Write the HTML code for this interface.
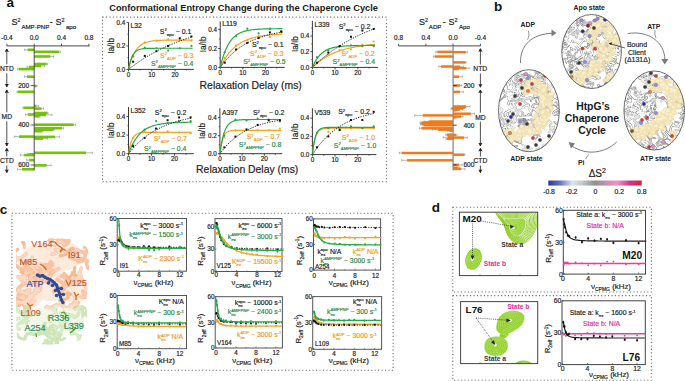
<!DOCTYPE html>
<html><head><meta charset="utf-8"><title>HtpG chaperone cycle figure</title>
<style>
html,body{margin:0;padding:0;background:#fff;}
body{width:685px;height:381px;overflow:hidden;font-family:"Liberation Sans", sans-serif;}
svg{display:block;}
svg text{font-family:"Liberation Sans", sans-serif;}
</style></head>
<body>
<svg width="685" height="381" viewBox="0 0 685 381">
<rect width="685" height="381" fill="#fff"/>
<text x="6.4" y="7.23" font-size="13.5" fill="#111" text-anchor="start" font-weight="bold" >a</text>
<text x="109.2" y="10.72" font-size="9.27" fill="#1a1a1a" text-anchor="start" font-weight="bold" >Conformational Entropy Change during the Chaperone Cycle</text>
<line x1="6.9" y1="45.9" x2="89.6" y2="45.9" stroke="#333" stroke-width="0.9" />
<line x1="6.9" y1="45.9" x2="6.9" y2="43.7" stroke="#333" stroke-width="0.8" />
<text x="6.9" y="39.93" font-size="6.5" fill="#222" stroke="#222" stroke-width="0.18" text-anchor="middle" >-0.4</text>
<line x1="34.2" y1="45.9" x2="34.2" y2="43.7" stroke="#333" stroke-width="0.8" />
<text x="34.2" y="39.93" font-size="6.5" fill="#222" stroke="#222" stroke-width="0.18" text-anchor="middle" >0.0</text>
<line x1="61.5" y1="45.9" x2="61.5" y2="43.7" stroke="#333" stroke-width="0.8" />
<text x="61.5" y="39.93" font-size="6.5" fill="#222" stroke="#222" stroke-width="0.18" text-anchor="middle" >0.4</text>
<line x1="88.9" y1="45.9" x2="88.9" y2="43.7" stroke="#333" stroke-width="0.8" />
<text x="88.9" y="39.93" font-size="6.5" fill="#222" stroke="#222" stroke-width="0.18" text-anchor="middle" >0.8</text>
<text x="11.6" y="25.32" font-size="9" fill="#222" stroke="#222" stroke-width="0.18" text-anchor="start" ><tspan dy="0" font-size="9">S</tspan><tspan dy="-3.42" font-size="5.4">2</tspan><tspan dy="7.47" dx="0.8" font-size="6.12">AMP-PNP</tspan><tspan dy="-4.05" dx="0.6" font-size="9">-</tspan><tspan dy="0" dx="2.6" font-size="9">S</tspan><tspan dy="-3.42" font-size="5.4">2</tspan><tspan dy="7.47" dx="1.4" font-size="6.12">apo</tspan></text>
<rect x="27.6" y="48.5" width="6.6" height="2.6" fill="#74c20a"/>
<line x1="27.6" y1="49.8" x2="24.7" y2="49.8" stroke="#8a8a8a" stroke-width="0.6" />
<line x1="24.7" y1="48.6" x2="24.7" y2="51" stroke="#8a8a8a" stroke-width="0.6" />
<rect x="34.2" y="50.5" width="24.8" height="2.6" fill="#74c20a"/>
<line x1="59" y1="51.8" x2="60.3" y2="51.8" stroke="#8a8a8a" stroke-width="0.6" />
<line x1="60.3" y1="50.6" x2="60.3" y2="53" stroke="#8a8a8a" stroke-width="0.6" />
<rect x="34.2" y="55.2" width="16.2" height="2.6" fill="#74c20a"/>
<line x1="50.4" y1="56.5" x2="53.5" y2="56.5" stroke="#8a8a8a" stroke-width="0.6" />
<line x1="53.5" y1="55.3" x2="53.5" y2="57.7" stroke="#8a8a8a" stroke-width="0.6" />
<rect x="34.2" y="62.7" width="12.3" height="2.6" fill="#74c20a"/>
<line x1="46.5" y1="64" x2="47.5" y2="64" stroke="#8a8a8a" stroke-width="0.6" />
<line x1="47.5" y1="62.8" x2="47.5" y2="65.2" stroke="#8a8a8a" stroke-width="0.6" />
<rect x="34.2" y="64.7" width="6.8" height="2.6" fill="#74c20a"/>
<line x1="41" y1="66" x2="44.6" y2="66" stroke="#8a8a8a" stroke-width="0.6" />
<line x1="44.6" y1="64.8" x2="44.6" y2="67.2" stroke="#8a8a8a" stroke-width="0.6" />
<rect x="29" y="65.7" width="5.2" height="2.6" fill="#74c20a"/>
<line x1="29" y1="67" x2="27" y2="67" stroke="#8a8a8a" stroke-width="0.6" />
<line x1="27" y1="65.8" x2="27" y2="68.2" stroke="#8a8a8a" stroke-width="0.6" />
<rect x="18.6" y="67.8" width="15.6" height="2.6" fill="#74c20a"/>
<line x1="18.6" y1="69.1" x2="17.6" y2="69.1" stroke="#8a8a8a" stroke-width="0.6" />
<line x1="17.6" y1="67.9" x2="17.6" y2="70.3" stroke="#8a8a8a" stroke-width="0.6" />
<rect x="27" y="75.4" width="7.2" height="2.6" fill="#74c20a"/>
<line x1="27" y1="76.7" x2="24.4" y2="76.7" stroke="#8a8a8a" stroke-width="0.6" />
<line x1="24.4" y1="75.5" x2="24.4" y2="77.9" stroke="#8a8a8a" stroke-width="0.6" />
<rect x="34.2" y="84.7" width="2.3" height="2.6" fill="#74c20a"/>
<line x1="36.5" y1="86" x2="37" y2="86" stroke="#8a8a8a" stroke-width="0.6" />
<line x1="37" y1="84.8" x2="37" y2="87.2" stroke="#8a8a8a" stroke-width="0.6" />
<rect x="17.8" y="90.5" width="16.4" height="2.6" fill="#74c20a"/>
<line x1="17.8" y1="91.8" x2="17" y2="91.8" stroke="#8a8a8a" stroke-width="0.6" />
<line x1="17" y1="90.6" x2="17" y2="93" stroke="#8a8a8a" stroke-width="0.6" />
<rect x="34.2" y="104.7" width="2.3" height="2.6" fill="#74c20a"/>
<line x1="36.5" y1="106" x2="38.5" y2="106" stroke="#8a8a8a" stroke-width="0.6" />
<line x1="38.5" y1="104.8" x2="38.5" y2="107.2" stroke="#8a8a8a" stroke-width="0.6" />
<rect x="23.4" y="106.5" width="10.8" height="2.6" fill="#74c20a"/>
<line x1="23.4" y1="107.8" x2="22.9" y2="107.8" stroke="#8a8a8a" stroke-width="0.6" />
<line x1="22.9" y1="106.6" x2="22.9" y2="109" stroke="#8a8a8a" stroke-width="0.6" />
<rect x="34.2" y="107.3" width="7.4" height="2.6" fill="#74c20a"/>
<line x1="41.6" y1="108.6" x2="43.5" y2="108.6" stroke="#8a8a8a" stroke-width="0.6" />
<line x1="43.5" y1="107.4" x2="43.5" y2="109.8" stroke="#8a8a8a" stroke-width="0.6" />
<rect x="34.2" y="111.7" width="13.2" height="2.6" fill="#74c20a"/>
<line x1="47.4" y1="113" x2="48" y2="113" stroke="#8a8a8a" stroke-width="0.6" />
<line x1="48" y1="111.8" x2="48" y2="114.2" stroke="#8a8a8a" stroke-width="0.6" />
<rect x="27.7" y="113.2" width="6.5" height="2.6" fill="#74c20a"/>
<line x1="27.7" y1="114.5" x2="25.6" y2="114.5" stroke="#8a8a8a" stroke-width="0.6" />
<line x1="25.6" y1="113.3" x2="25.6" y2="115.7" stroke="#8a8a8a" stroke-width="0.6" />
<rect x="34.2" y="113.6" width="11.8" height="2.6" fill="#74c20a"/>
<line x1="46" y1="114.9" x2="52" y2="114.9" stroke="#8a8a8a" stroke-width="0.6" />
<line x1="52" y1="113.7" x2="52" y2="116.1" stroke="#8a8a8a" stroke-width="0.6" />
<rect x="34.2" y="115" width="5.2" height="2.6" fill="#74c20a"/>
<line x1="39.4" y1="116.3" x2="40" y2="116.3" stroke="#8a8a8a" stroke-width="0.6" />
<line x1="40" y1="115.1" x2="40" y2="117.5" stroke="#8a8a8a" stroke-width="0.6" />
<rect x="34.2" y="123.4" width="39.5" height="2.6" fill="#74c20a"/>
<line x1="73.7" y1="124.7" x2="75.5" y2="124.7" stroke="#8a8a8a" stroke-width="0.6" />
<line x1="75.5" y1="123.5" x2="75.5" y2="125.9" stroke="#8a8a8a" stroke-width="0.6" />
<rect x="34.2" y="126.9" width="27.8" height="2.6" fill="#74c20a"/>
<line x1="62" y1="128.2" x2="63.5" y2="128.2" stroke="#8a8a8a" stroke-width="0.6" />
<line x1="63.5" y1="127" x2="63.5" y2="129.4" stroke="#8a8a8a" stroke-width="0.6" />
<rect x="34.2" y="128.4" width="19.1" height="2.6" fill="#74c20a"/>
<line x1="53.3" y1="129.7" x2="54" y2="129.7" stroke="#8a8a8a" stroke-width="0.6" />
<line x1="54" y1="128.5" x2="54" y2="130.9" stroke="#8a8a8a" stroke-width="0.6" />
<rect x="34.2" y="129.9" width="7.8" height="2.6" fill="#74c20a"/>
<line x1="42" y1="131.2" x2="43" y2="131.2" stroke="#8a8a8a" stroke-width="0.6" />
<line x1="43" y1="130" x2="43" y2="132.4" stroke="#8a8a8a" stroke-width="0.6" />
<rect x="19" y="135.3" width="15.2" height="2.6" fill="#74c20a"/>
<line x1="19" y1="136.6" x2="14.6" y2="136.6" stroke="#8a8a8a" stroke-width="0.6" />
<line x1="14.6" y1="135.4" x2="14.6" y2="137.8" stroke="#8a8a8a" stroke-width="0.6" />
<rect x="34.2" y="135.6" width="21" height="2.6" fill="#74c20a"/>
<line x1="55.2" y1="136.9" x2="59.6" y2="136.9" stroke="#8a8a8a" stroke-width="0.6" />
<line x1="59.6" y1="135.7" x2="59.6" y2="138.1" stroke="#8a8a8a" stroke-width="0.6" />
<rect x="34.2" y="137.3" width="8.8" height="2.6" fill="#74c20a"/>
<line x1="43" y1="138.6" x2="47.4" y2="138.6" stroke="#8a8a8a" stroke-width="0.6" />
<line x1="47.4" y1="137.4" x2="47.4" y2="139.8" stroke="#8a8a8a" stroke-width="0.6" />
<rect x="34.2" y="151.5" width="51.9" height="2.6" fill="#74c20a"/>
<line x1="86.1" y1="152.8" x2="92.3" y2="152.8" stroke="#8a8a8a" stroke-width="0.6" />
<line x1="92.3" y1="151.6" x2="92.3" y2="154" stroke="#8a8a8a" stroke-width="0.6" />
<rect x="28.5" y="153" width="5.7" height="2.6" fill="#74c20a"/>
<line x1="28.5" y1="154.3" x2="27.4" y2="154.3" stroke="#8a8a8a" stroke-width="0.6" />
<line x1="27.4" y1="153.1" x2="27.4" y2="155.5" stroke="#8a8a8a" stroke-width="0.6" />
<rect x="24.1" y="153.8" width="10.1" height="2.6" fill="#74c20a"/>
<line x1="24.1" y1="155.1" x2="20.4" y2="155.1" stroke="#8a8a8a" stroke-width="0.6" />
<line x1="20.4" y1="153.9" x2="20.4" y2="156.3" stroke="#8a8a8a" stroke-width="0.6" />
<rect x="29.2" y="158.8" width="5" height="2.6" fill="#74c20a"/>
<line x1="29.2" y1="160.1" x2="26.7" y2="160.1" stroke="#8a8a8a" stroke-width="0.6" />
<line x1="26.7" y1="158.9" x2="26.7" y2="161.3" stroke="#8a8a8a" stroke-width="0.6" />
<rect x="34.2" y="164.1" width="12.5" height="2.6" fill="#74c20a"/>
<line x1="46.7" y1="165.4" x2="51.1" y2="165.4" stroke="#8a8a8a" stroke-width="0.6" />
<line x1="51.1" y1="164.2" x2="51.1" y2="166.6" stroke="#8a8a8a" stroke-width="0.6" />
<rect x="21.9" y="168" width="12.3" height="2.6" fill="#74c20a"/>
<line x1="21.9" y1="169.3" x2="17.5" y2="169.3" stroke="#8a8a8a" stroke-width="0.6" />
<line x1="17.5" y1="168.1" x2="17.5" y2="170.5" stroke="#8a8a8a" stroke-width="0.6" />
<line x1="34.2" y1="45.9" x2="34.2" y2="170.3" stroke="#3a3a3a" stroke-width="0.9" />
<line x1="30.6" y1="85.6" x2="34.2" y2="85.6" stroke="#333" stroke-width="0.8" />
<text x="29.2" y="87.96" font-size="6.6" fill="#222" stroke="#222" stroke-width="0.18" text-anchor="end" >200</text>
<line x1="30.6" y1="125" x2="34.2" y2="125" stroke="#333" stroke-width="0.8" />
<text x="29.2" y="127.36" font-size="6.6" fill="#222" stroke="#222" stroke-width="0.18" text-anchor="end" >400</text>
<line x1="30.6" y1="165" x2="34.2" y2="165" stroke="#333" stroke-width="0.8" />
<text x="29.2" y="167.36" font-size="6.6" fill="#222" stroke="#222" stroke-width="0.18" text-anchor="end" >600</text>
<path d="M5.2,52 L6.8,49 L8.4,52" fill="none" stroke="#222" stroke-width="0.8"/>
<path d="M5.2,84 L6.8,87 L8.4,84" fill="#222" stroke="#222" stroke-width="0.6"/>
<path d="M5.2,51.6 L6.8,49 L8.4,51.6 Z" fill="#222"/>
<line x1="6.8" y1="49" x2="6.8" y2="64.3" stroke="#222" stroke-width="0.8" />
<line x1="6.8" y1="73.3" x2="6.8" y2="87" stroke="#222" stroke-width="0.8" />
<text x="6.9" y="71.2" font-size="6.7" fill="#222" stroke="#222" stroke-width="0.18" text-anchor="middle" >NTD</text>
<path d="M5.2,93 L6.8,90 L8.4,93" fill="none" stroke="#222" stroke-width="0.8"/>
<path d="M5.2,143 L6.8,146 L8.4,143" fill="#222" stroke="#222" stroke-width="0.6"/>
<path d="M5.2,92.6 L6.8,90 L8.4,92.6 Z" fill="#222"/>
<line x1="6.8" y1="90" x2="6.8" y2="112.3" stroke="#222" stroke-width="0.8" />
<line x1="6.8" y1="121.3" x2="6.8" y2="146" stroke="#222" stroke-width="0.8" />
<text x="6.8" y="119.2" font-size="6.7" fill="#222" stroke="#222" stroke-width="0.18" text-anchor="middle" >MD</text>
<path d="M5.2,151.4 L6.8,148.4 L8.4,151.4" fill="none" stroke="#222" stroke-width="0.8"/>
<path d="M5.2,169.7 L6.8,172.7 L8.4,169.7" fill="#222" stroke="#222" stroke-width="0.6"/>
<path d="M5.2,151 L6.8,148.4 L8.4,151 Z" fill="#222"/>
<line x1="6.8" y1="148.4" x2="6.8" y2="156.5" stroke="#222" stroke-width="0.8" />
<line x1="6.8" y1="165.5" x2="6.8" y2="172.7" stroke="#222" stroke-width="0.8" />
<text x="6.9" y="163.4" font-size="6.7" fill="#222" stroke="#222" stroke-width="0.18" text-anchor="middle" >CTD</text>
<line x1="398.6" y1="45.9" x2="480.4" y2="45.9" stroke="#333" stroke-width="0.9" />
<line x1="398.6" y1="45.9" x2="398.6" y2="43.7" stroke="#333" stroke-width="0.8" />
<text x="398.6" y="39.93" font-size="6.5" fill="#222" stroke="#222" stroke-width="0.18" text-anchor="middle" >0.8</text>
<line x1="425.9" y1="45.9" x2="425.9" y2="43.7" stroke="#333" stroke-width="0.8" />
<text x="425.9" y="39.93" font-size="6.5" fill="#222" stroke="#222" stroke-width="0.18" text-anchor="middle" >0.4</text>
<line x1="453.1" y1="45.9" x2="453.1" y2="43.7" stroke="#333" stroke-width="0.8" />
<text x="453.1" y="39.93" font-size="6.5" fill="#222" stroke="#222" stroke-width="0.18" text-anchor="middle" >0.0</text>
<line x1="480.4" y1="45.9" x2="480.4" y2="43.7" stroke="#333" stroke-width="0.8" />
<text x="480.4" y="39.93" font-size="6.5" fill="#222" stroke="#222" stroke-width="0.18" text-anchor="middle" >-0.4</text>
<text x="419" y="25.32" font-size="9" fill="#222" stroke="#222" stroke-width="0.18" text-anchor="start" ><tspan dy="0" font-size="9">S</tspan><tspan dy="-3.42" font-size="5.4">2</tspan><tspan dy="7.47" dx="0.8" font-size="6.12">ADP</tspan><tspan dy="-4.05" dx="1.4" font-size="9">-</tspan><tspan dy="0" dx="2.6" font-size="9">S</tspan><tspan dy="-3.42" font-size="5.4">2</tspan><tspan dy="7.47" dx="1.6" font-size="6.12">Apo</tspan></text>
<rect x="437.3" y="50.65" width="15.8" height="2.5" fill="#f17a1c"/>
<line x1="437.3" y1="51.9" x2="435.9" y2="51.9" stroke="#8a8a8a" stroke-width="0.6" />
<line x1="435.9" y1="50.7" x2="435.9" y2="53.1" stroke="#8a8a8a" stroke-width="0.6" />
<rect x="453.1" y="50.95" width="12.7" height="2.5" fill="#f17a1c"/>
<line x1="465.8" y1="52.2" x2="467.3" y2="52.2" stroke="#8a8a8a" stroke-width="0.6" />
<line x1="467.3" y1="51" x2="467.3" y2="53.4" stroke="#8a8a8a" stroke-width="0.6" />
<rect x="434.8" y="55.25" width="18.3" height="2.5" fill="#f17a1c"/>
<line x1="434.8" y1="56.5" x2="433.4" y2="56.5" stroke="#8a8a8a" stroke-width="0.6" />
<line x1="433.4" y1="55.3" x2="433.4" y2="57.7" stroke="#8a8a8a" stroke-width="0.6" />
<rect x="453.1" y="61.15" width="12.3" height="2.5" fill="#f17a1c"/>
<line x1="465.4" y1="62.4" x2="466" y2="62.4" stroke="#8a8a8a" stroke-width="0.6" />
<line x1="466" y1="61.2" x2="466" y2="63.6" stroke="#8a8a8a" stroke-width="0.6" />
<rect x="441" y="65.25" width="12.1" height="2.5" fill="#f17a1c"/>
<line x1="441" y1="66.5" x2="438.8" y2="66.5" stroke="#8a8a8a" stroke-width="0.6" />
<line x1="438.8" y1="65.3" x2="438.8" y2="67.7" stroke="#8a8a8a" stroke-width="0.6" />
<rect x="453.1" y="65.55" width="6.9" height="2.5" fill="#f17a1c"/>
<line x1="460" y1="66.8" x2="463.6" y2="66.8" stroke="#8a8a8a" stroke-width="0.6" />
<line x1="463.6" y1="65.6" x2="463.6" y2="68" stroke="#8a8a8a" stroke-width="0.6" />
<rect x="453.1" y="66.95" width="13.4" height="2.5" fill="#f17a1c"/>
<line x1="466.5" y1="68.2" x2="469.2" y2="68.2" stroke="#8a8a8a" stroke-width="0.6" />
<line x1="469.2" y1="67" x2="469.2" y2="69.4" stroke="#8a8a8a" stroke-width="0.6" />
<rect x="453.1" y="67.75" width="4.7" height="2.5" fill="#f17a1c"/>
<line x1="457.8" y1="69" x2="458.5" y2="69" stroke="#8a8a8a" stroke-width="0.6" />
<line x1="458.5" y1="67.8" x2="458.5" y2="70.2" stroke="#8a8a8a" stroke-width="0.6" />
<rect x="453.1" y="75.45" width="6.1" height="2.5" fill="#f17a1c"/>
<line x1="459.2" y1="76.7" x2="462.4" y2="76.7" stroke="#8a8a8a" stroke-width="0.6" />
<line x1="462.4" y1="75.5" x2="462.4" y2="77.9" stroke="#8a8a8a" stroke-width="0.6" />
<rect x="453.1" y="84.25" width="6.9" height="2.5" fill="#f17a1c"/>
<line x1="460" y1="85.5" x2="461.5" y2="85.5" stroke="#8a8a8a" stroke-width="0.6" />
<line x1="461.5" y1="84.3" x2="461.5" y2="86.7" stroke="#8a8a8a" stroke-width="0.6" />
<rect x="453.1" y="90.65" width="6.9" height="2.5" fill="#f17a1c"/>
<line x1="460" y1="91.9" x2="463.3" y2="91.9" stroke="#8a8a8a" stroke-width="0.6" />
<line x1="463.3" y1="90.7" x2="463.3" y2="93.1" stroke="#8a8a8a" stroke-width="0.6" />
<rect x="453.1" y="105.25" width="12.9" height="2.5" fill="#f17a1c"/>
<line x1="466" y1="106.5" x2="470" y2="106.5" stroke="#8a8a8a" stroke-width="0.6" />
<line x1="470" y1="105.3" x2="470" y2="107.7" stroke="#8a8a8a" stroke-width="0.6" />
<rect x="453.1" y="106.15" width="11.9" height="2.5" fill="#f17a1c"/>
<line x1="465" y1="107.4" x2="466" y2="107.4" stroke="#8a8a8a" stroke-width="0.6" />
<line x1="466" y1="106.2" x2="466" y2="108.6" stroke="#8a8a8a" stroke-width="0.6" />
<rect x="453.1" y="106.75" width="9.9" height="2.5" fill="#f17a1c"/>
<line x1="463" y1="108" x2="464" y2="108" stroke="#8a8a8a" stroke-width="0.6" />
<line x1="464" y1="106.8" x2="464" y2="109.2" stroke="#8a8a8a" stroke-width="0.6" />
<rect x="453.1" y="108.25" width="6.9" height="2.5" fill="#f17a1c"/>
<line x1="460" y1="109.5" x2="463" y2="109.5" stroke="#8a8a8a" stroke-width="0.6" />
<line x1="463" y1="108.3" x2="463" y2="110.7" stroke="#8a8a8a" stroke-width="0.6" />
<rect x="453.1" y="109.05" width="2.9" height="2.5" fill="#f17a1c"/>
<line x1="456" y1="110.3" x2="457" y2="110.3" stroke="#8a8a8a" stroke-width="0.6" />
<line x1="457" y1="109.1" x2="457" y2="111.5" stroke="#8a8a8a" stroke-width="0.6" />
<rect x="451.5" y="107.25" width="1.6" height="2.5" fill="#f17a1c"/>
<line x1="451.5" y1="108.5" x2="451" y2="108.5" stroke="#8a8a8a" stroke-width="0.6" />
<line x1="451" y1="107.3" x2="451" y2="109.7" stroke="#8a8a8a" stroke-width="0.6" />
<rect x="453.1" y="112.45" width="17.8" height="2.5" fill="#f17a1c"/>
<line x1="470.9" y1="113.7" x2="474.6" y2="113.7" stroke="#8a8a8a" stroke-width="0.6" />
<line x1="474.6" y1="112.5" x2="474.6" y2="114.9" stroke="#8a8a8a" stroke-width="0.6" />
<rect x="422.7" y="114.15" width="30.4" height="2.5" fill="#f17a1c"/>
<line x1="422.7" y1="115.4" x2="414.7" y2="115.4" stroke="#8a8a8a" stroke-width="0.6" />
<line x1="414.7" y1="114.2" x2="414.7" y2="116.6" stroke="#8a8a8a" stroke-width="0.6" />
<rect x="453.1" y="115.35" width="8.3" height="2.5" fill="#f17a1c"/>
<line x1="461.4" y1="116.6" x2="463" y2="116.6" stroke="#8a8a8a" stroke-width="0.6" />
<line x1="463" y1="115.4" x2="463" y2="117.8" stroke="#8a8a8a" stroke-width="0.6" />
<rect x="453.1" y="116.35" width="1.9" height="2.5" fill="#f17a1c"/>
<line x1="455" y1="117.6" x2="456" y2="117.6" stroke="#8a8a8a" stroke-width="0.6" />
<line x1="456" y1="116.4" x2="456" y2="118.8" stroke="#8a8a8a" stroke-width="0.6" />
<rect x="428.6" y="120.25" width="24.5" height="2.5" fill="#f17a1c"/>
<line x1="428.6" y1="121.5" x2="424.2" y2="121.5" stroke="#8a8a8a" stroke-width="0.6" />
<line x1="424.2" y1="120.3" x2="424.2" y2="122.7" stroke="#8a8a8a" stroke-width="0.6" />
<rect x="421.3" y="121.35" width="31.8" height="2.5" fill="#f17a1c"/>
<line x1="421.3" y1="122.6" x2="420" y2="122.6" stroke="#8a8a8a" stroke-width="0.6" />
<line x1="420" y1="121.4" x2="420" y2="123.8" stroke="#8a8a8a" stroke-width="0.6" />
<rect x="421.3" y="122.75" width="31.8" height="2.5" fill="#f17a1c"/>
<line x1="421.3" y1="124" x2="420.5" y2="124" stroke="#8a8a8a" stroke-width="0.6" />
<line x1="420.5" y1="122.8" x2="420.5" y2="125.2" stroke="#8a8a8a" stroke-width="0.6" />
<rect x="424" y="124.05" width="29.1" height="2.5" fill="#f17a1c"/>
<line x1="424" y1="125.3" x2="423" y2="125.3" stroke="#8a8a8a" stroke-width="0.6" />
<line x1="423" y1="124.1" x2="423" y2="126.5" stroke="#8a8a8a" stroke-width="0.6" />
<rect x="421.3" y="127.05" width="31.8" height="2.5" fill="#f17a1c"/>
<line x1="421.3" y1="128.3" x2="419.5" y2="128.3" stroke="#8a8a8a" stroke-width="0.6" />
<line x1="419.5" y1="127.1" x2="419.5" y2="129.5" stroke="#8a8a8a" stroke-width="0.6" />
<rect x="438" y="128.45" width="15.1" height="2.5" fill="#f17a1c"/>
<line x1="438" y1="129.7" x2="432.2" y2="129.7" stroke="#8a8a8a" stroke-width="0.6" />
<line x1="432.2" y1="128.5" x2="432.2" y2="130.9" stroke="#8a8a8a" stroke-width="0.6" />
<rect x="449" y="129.35" width="4.1" height="2.5" fill="#f17a1c"/>
<line x1="449" y1="130.6" x2="448" y2="130.6" stroke="#8a8a8a" stroke-width="0.6" />
<line x1="448" y1="129.4" x2="448" y2="131.8" stroke="#8a8a8a" stroke-width="0.6" />
<rect x="446.8" y="133.45" width="6.3" height="2.5" fill="#f17a1c"/>
<line x1="446.8" y1="134.7" x2="445.8" y2="134.7" stroke="#8a8a8a" stroke-width="0.6" />
<line x1="445.8" y1="133.5" x2="445.8" y2="135.9" stroke="#8a8a8a" stroke-width="0.6" />
<rect x="453.1" y="133.75" width="2.9" height="2.5" fill="#f17a1c"/>
<line x1="456" y1="135" x2="457" y2="135" stroke="#8a8a8a" stroke-width="0.6" />
<line x1="457" y1="133.8" x2="457" y2="136.2" stroke="#8a8a8a" stroke-width="0.6" />
<rect x="447.6" y="136.05" width="5.5" height="2.5" fill="#f17a1c"/>
<line x1="447.6" y1="137.3" x2="443.2" y2="137.3" stroke="#8a8a8a" stroke-width="0.6" />
<line x1="443.2" y1="136.1" x2="443.2" y2="138.5" stroke="#8a8a8a" stroke-width="0.6" />
<rect x="453.1" y="136.35" width="11.2" height="2.5" fill="#f17a1c"/>
<line x1="464.3" y1="137.6" x2="467.3" y2="137.6" stroke="#8a8a8a" stroke-width="0.6" />
<line x1="467.3" y1="136.4" x2="467.3" y2="138.8" stroke="#8a8a8a" stroke-width="0.6" />
<rect x="447" y="137.55" width="6.1" height="2.5" fill="#f17a1c"/>
<line x1="447" y1="138.8" x2="446" y2="138.8" stroke="#8a8a8a" stroke-width="0.6" />
<line x1="446" y1="137.6" x2="446" y2="140" stroke="#8a8a8a" stroke-width="0.6" />
<rect x="401.6" y="151.75" width="51.5" height="2.5" fill="#f17a1c"/>
<line x1="401.6" y1="153" x2="399.4" y2="153" stroke="#8a8a8a" stroke-width="0.6" />
<line x1="399.4" y1="151.8" x2="399.4" y2="154.2" stroke="#8a8a8a" stroke-width="0.6" />
<rect x="453.1" y="153.45" width="11.2" height="2.5" fill="#f17a1c"/>
<line x1="464.3" y1="154.7" x2="464.8" y2="154.7" stroke="#8a8a8a" stroke-width="0.6" />
<line x1="464.8" y1="153.5" x2="464.8" y2="155.9" stroke="#8a8a8a" stroke-width="0.6" />
<rect x="407" y="159.05" width="46.1" height="2.5" fill="#f17a1c"/>
<line x1="407" y1="160.3" x2="401.6" y2="160.3" stroke="#8a8a8a" stroke-width="0.6" />
<line x1="401.6" y1="159.1" x2="401.6" y2="161.5" stroke="#8a8a8a" stroke-width="0.6" />
<rect x="453.1" y="163.65" width="6.1" height="2.5" fill="#f17a1c"/>
<line x1="459.2" y1="164.9" x2="462.2" y2="164.9" stroke="#8a8a8a" stroke-width="0.6" />
<line x1="462.2" y1="163.7" x2="462.2" y2="166.1" stroke="#8a8a8a" stroke-width="0.6" />
<rect x="453.1" y="167.65" width="8.3" height="2.5" fill="#f17a1c"/>
<line x1="461.4" y1="168.9" x2="465" y2="168.9" stroke="#8a8a8a" stroke-width="0.6" />
<line x1="465" y1="167.7" x2="465" y2="170.1" stroke="#8a8a8a" stroke-width="0.6" />
<rect x="453.1" y="166.55" width="4.9" height="2.5" fill="#f17a1c"/>
<line x1="458" y1="167.8" x2="459" y2="167.8" stroke="#8a8a8a" stroke-width="0.6" />
<line x1="459" y1="166.6" x2="459" y2="169" stroke="#8a8a8a" stroke-width="0.6" />
<line x1="453.1" y1="45.9" x2="453.1" y2="170.3" stroke="#8c8c8c" stroke-width="1.3" />
<line x1="453.1" y1="85.6" x2="456.7" y2="85.6" stroke="#222" stroke-width="0.8" />
<text x="463.4" y="87.96" font-size="6.6" fill="#222" stroke="#222" stroke-width="0.18" text-anchor="start" >200</text>
<line x1="453.1" y1="125.2" x2="456.7" y2="125.2" stroke="#222" stroke-width="0.8" />
<text x="463.4" y="127.56" font-size="6.6" fill="#222" stroke="#222" stroke-width="0.18" text-anchor="start" >400</text>
<line x1="453.1" y1="164.9" x2="456.7" y2="164.9" stroke="#222" stroke-width="0.8" />
<text x="463.4" y="167.26" font-size="6.6" fill="#222" stroke="#222" stroke-width="0.18" text-anchor="start" >600</text>
<path d="M478.8,51.7 L480.4,48.7 L482,51.7" fill="none" stroke="#222" stroke-width="0.8"/>
<path d="M478.8,84.2 L480.4,87.2 L482,84.2" fill="#222" stroke="#222" stroke-width="0.6"/>
<path d="M478.8,51.3 L480.4,48.7 L482,51.3 Z" fill="#222"/>
<line x1="480.4" y1="48.7" x2="480.4" y2="64.5" stroke="#222" stroke-width="0.8" />
<line x1="480.4" y1="73.5" x2="480.4" y2="87.2" stroke="#222" stroke-width="0.8" />
<text x="480.2" y="71.4" font-size="6.7" fill="#222" stroke="#222" stroke-width="0.18" text-anchor="middle" >NTD</text>
<path d="M478.8,93 L480.4,90 L482,93" fill="none" stroke="#222" stroke-width="0.8"/>
<path d="M478.8,143 L480.4,146 L482,143" fill="#222" stroke="#222" stroke-width="0.6"/>
<path d="M478.8,92.6 L480.4,90 L482,92.6 Z" fill="#222"/>
<line x1="480.4" y1="90" x2="480.4" y2="112.7" stroke="#222" stroke-width="0.8" />
<line x1="480.4" y1="121.7" x2="480.4" y2="146" stroke="#222" stroke-width="0.8" />
<text x="480.4" y="119.6" font-size="6.7" fill="#222" stroke="#222" stroke-width="0.18" text-anchor="middle" >MD</text>
<path d="M478.8,151.4 L480.4,148.4 L482,151.4" fill="none" stroke="#222" stroke-width="0.8"/>
<path d="M478.8,169.7 L480.4,172.7 L482,169.7" fill="#222" stroke="#222" stroke-width="0.6"/>
<path d="M478.8,151 L480.4,148.4 L482,151 Z" fill="#222"/>
<line x1="480.4" y1="148.4" x2="480.4" y2="156.5" stroke="#222" stroke-width="0.8" />
<line x1="480.4" y1="165.5" x2="480.4" y2="172.7" stroke="#222" stroke-width="0.8" />
<text x="480.4" y="163.4" font-size="6.7" fill="#222" stroke="#222" stroke-width="0.18" text-anchor="middle" >CTD</text>
<rect x="102.5" y="17.1" width="284" height="164.7" fill="none" stroke="#6a6a6a" stroke-width="1.1" stroke-dasharray="1.1 2.35"/>
<line x1="128.5" y1="22.4" x2="128.5" y2="69.4" stroke="#222" stroke-width="0.9" />
<line x1="128.5" y1="69.4" x2="193.8" y2="69.4" stroke="#222" stroke-width="0.9" />
<line x1="126.5" y1="69.4" x2="128.5" y2="69.4" stroke="#222" stroke-width="0.8" />
<text x="125.3" y="71.66" font-size="6.3" fill="#222" stroke="#222" stroke-width="0.18" text-anchor="end" >0.0</text>
<line x1="126.5" y1="45.9" x2="128.5" y2="45.9" stroke="#222" stroke-width="0.8" />
<text x="125.3" y="48.16" font-size="6.3" fill="#222" stroke="#222" stroke-width="0.18" text-anchor="end" >0.2</text>
<line x1="126.5" y1="22.4" x2="128.5" y2="22.4" stroke="#222" stroke-width="0.8" />
<text x="125.3" y="24.66" font-size="6.3" fill="#222" stroke="#222" stroke-width="0.18" text-anchor="end" >0.4</text>
<line x1="127.3" y1="57.65" x2="128.5" y2="57.65" stroke="#222" stroke-width="0.6" />
<line x1="127.3" y1="34.15" x2="128.5" y2="34.15" stroke="#222" stroke-width="0.6" />
<line x1="128.5" y1="69.4" x2="128.5" y2="71.4" stroke="#222" stroke-width="0.8" />
<text x="128.5" y="76.96" font-size="6.3" fill="#222" stroke="#222" stroke-width="0.18" text-anchor="middle" >0</text>
<line x1="151.8" y1="69.4" x2="151.8" y2="71.4" stroke="#222" stroke-width="0.8" />
<text x="151.8" y="76.96" font-size="6.3" fill="#222" stroke="#222" stroke-width="0.18" text-anchor="middle" >10</text>
<line x1="175.1" y1="69.4" x2="175.1" y2="71.4" stroke="#222" stroke-width="0.8" />
<text x="175.1" y="76.96" font-size="6.3" fill="#222" stroke="#222" stroke-width="0.18" text-anchor="middle" >20</text>
<line x1="140.15" y1="69.4" x2="140.15" y2="70.6" stroke="#222" stroke-width="0.6" />
<line x1="163.45" y1="69.4" x2="163.45" y2="70.6" stroke="#222" stroke-width="0.6" />
<line x1="186.75" y1="69.4" x2="186.75" y2="70.6" stroke="#222" stroke-width="0.6" />
<text x="130.5" y="28.43" font-size="6.8" fill="#222" stroke="#222" stroke-width="0.18" text-anchor="start" >L32</text>
<text transform="translate(114,45.9) rotate(-90)" x="0" y="0" font-size="8.2" text-anchor="middle" fill="#222" stroke="#222" stroke-width="0.18">Ia/Ib</text>
<polyline points="128.5,69.4 129.57,65.28 130.64,61.73 131.7,58.69 132.77,56.07 133.84,53.81 134.91,51.88 135.98,50.21 137.04,48.78 138.11,47.55 139.18,46.5 140.25,45.59 141.31,44.81 142.38,44.14 143.45,43.56 144.52,43.06 145.59,42.64 146.65,42.27 147.72,41.96 148.79,41.68 149.86,41.45 150.93,41.25 151.99,41.08 153.06,40.93 154.13,40.8 155.2,40.69 156.27,40.6 157.33,40.52 158.4,40.45 159.47,40.39 160.54,40.34 161.61,40.3 162.67,40.26 163.74,40.22 164.81,40.2 165.88,40.17 166.94,40.15 168.01,40.13 169.08,40.12 170.15,40.11 171.22,40.09 172.28,40.08 173.35,40.08 174.42,40.07 175.49,40.06 176.56,40.06 177.62,40.05 178.69,40.05 179.76,40.05 180.83,40.04 181.9,40.04 182.96,40.04 184.03,40.04 185.1,40.03 186.17,40.03 187.24,40.03 188.3,40.03 189.37,40.03 190.44,40.03 191.51,40.03 192.57,40.03" fill="none" stroke="#f5a21e" stroke-width="1.2" />
<circle cx="133.16" cy="55.3" r="1.1" fill="#f5a21e" />
<circle cx="144.81" cy="42.38" r="1.1" fill="#f5a21e" />
<circle cx="156.46" cy="40.61" r="1.1" fill="#f5a21e" />
<circle cx="168.11" cy="39.44" r="1.1" fill="#f5a21e" />
<circle cx="179.76" cy="40.03" r="1.1" fill="#f5a21e" />
<circle cx="191.41" cy="40.61" r="1.1" fill="#f5a21e" />
<polyline points="128.5,69.4 129.57,64.31 130.64,60.45 131.7,57.52 132.77,55.29 133.84,53.6 134.91,52.31 135.98,51.34 137.04,50.59 138.11,50.03 139.18,49.6 140.25,49.28 141.31,49.03 142.38,48.84 143.45,48.7 144.52,48.59 145.59,48.51 146.65,48.45 147.72,48.4 148.79,48.36 149.86,48.34 150.93,48.32 151.99,48.3 153.06,48.29 154.13,48.28 155.2,48.27 156.27,48.27 157.33,48.26 158.4,48.26 159.47,48.26 160.54,48.26 161.61,48.25 162.67,48.25 163.74,48.25 164.81,48.25 165.88,48.25 166.94,48.25 168.01,48.25 169.08,48.25 170.15,48.25 171.22,48.25 172.28,48.25 173.35,48.25 174.42,48.25 175.49,48.25 176.56,48.25 177.62,48.25 178.69,48.25 179.76,48.25 180.83,48.25 181.9,48.25 182.96,48.25 184.03,48.25 185.1,48.25 186.17,48.25 187.24,48.25 188.3,48.25 189.37,48.25 190.44,48.25 191.51,48.25 192.57,48.25" fill="none" stroke="#27a84a" stroke-width="1.2" />
<circle cx="133.16" cy="56.48" r="1.1" fill="#27a84a" />
<circle cx="144.81" cy="47.66" r="1.1" fill="#27a84a" />
<circle cx="156.46" cy="48.25" r="1.1" fill="#27a84a" />
<circle cx="168.11" cy="50.6" r="1.1" fill="#27a84a" />
<circle cx="179.76" cy="48.25" r="1.1" fill="#27a84a" />
<circle cx="191.41" cy="45.9" r="1.1" fill="#27a84a" />
<polyline points="128.5,69.4 129.57,68.56 130.64,67.73 131.7,66.92 132.77,66.11 133.84,65.32 134.91,64.55 135.98,63.78 137.04,63.03 138.11,62.29 139.18,61.56 140.25,60.85 141.31,60.14 142.38,59.45 143.45,58.76 144.52,58.09 145.59,57.43 146.65,56.78 147.72,56.14 148.79,55.51 149.86,54.89 150.93,54.28 151.99,53.68 153.06,53.09 154.13,52.5 155.2,51.93 156.27,51.37 157.33,50.81 158.4,50.27 159.47,49.73 160.54,49.2 161.61,48.68 162.67,48.17 163.74,47.67 164.81,47.17 165.88,46.68 166.94,46.2 168.01,45.73 169.08,45.27 170.15,44.81 171.22,44.36 172.28,43.92 173.35,43.48 174.42,43.05 175.49,42.63 176.56,42.21 177.62,41.81 178.69,41.4 179.76,41.01 180.83,40.62 181.9,40.23 182.96,39.86 184.03,39.49 185.1,39.12 186.17,38.76 187.24,38.41 188.3,38.06 189.37,37.72 190.44,37.38 191.51,37.05 192.57,36.72" fill="none" stroke="#111" stroke-width="1" stroke-dasharray="1.2 1.3"/>
<rect x="132.16" y="60.76" width="2" height="2" fill="#111"/>
<rect x="143.81" y="54.89" width="2" height="2" fill="#111"/>
<rect x="155.46" y="50.19" width="2" height="2" fill="#111"/>
<rect x="167.11" y="44.9" width="2" height="2" fill="#111"/>
<rect x="178.76" y="37.26" width="2" height="2" fill="#111"/>
<rect x="190.41" y="35.5" width="2" height="2" fill="#111"/>
<text x="159.8" y="33.97" font-size="6.9" fill="#222" stroke="#222" stroke-width="0.18" text-anchor="start" ><tspan dy="0" font-size="6.9">S</tspan><tspan dy="-2.62" font-size="4.28">2</tspan><tspan dy="4.55" font-size="4.28">apo</tspan><tspan dy="-1.93" font-size="6.9"> ~ 0.1</tspan></text>
<text x="160.1" y="57.97" font-size="6.9" fill="#f39a1e" stroke="#f39a1e" stroke-width="0.18" text-anchor="start" ><tspan dy="0" font-size="6.9">S</tspan><tspan dy="-2.62" font-size="4.28">2</tspan><tspan dy="4.55" font-size="4.28">ADP</tspan><tspan dy="-1.93" font-size="6.9"> ~ 0.3</tspan></text>
<text x="150.9" y="65.87" font-size="6.9" fill="#2b8a4a" stroke="#2b8a4a" stroke-width="0.18" text-anchor="start" ><tspan dy="0" font-size="6.9">S</tspan><tspan dy="-2.62" font-size="4.28">2</tspan><tspan dy="4.55" font-size="4.28">AMPPNP</tspan><tspan dy="-1.93" font-size="6.9"> ~ 0.4</tspan></text>
<line x1="220.2" y1="21.4" x2="220.2" y2="67.4" stroke="#222" stroke-width="0.9" />
<line x1="220.2" y1="67.4" x2="284.7" y2="67.4" stroke="#222" stroke-width="0.9" />
<line x1="218.2" y1="67.4" x2="220.2" y2="67.4" stroke="#222" stroke-width="0.8" />
<text x="217" y="69.66" font-size="6.3" fill="#222" stroke="#222" stroke-width="0.18" text-anchor="end" >0.0</text>
<line x1="218.2" y1="48.5" x2="220.2" y2="48.5" stroke="#222" stroke-width="0.8" />
<text x="217" y="50.76" font-size="6.3" fill="#222" stroke="#222" stroke-width="0.18" text-anchor="end" >0.2</text>
<line x1="218.2" y1="29.6" x2="220.2" y2="29.6" stroke="#222" stroke-width="0.8" />
<text x="217" y="31.86" font-size="6.3" fill="#222" stroke="#222" stroke-width="0.18" text-anchor="end" >0.4</text>
<line x1="219" y1="57.95" x2="220.2" y2="57.95" stroke="#222" stroke-width="0.6" />
<line x1="219" y1="39.05" x2="220.2" y2="39.05" stroke="#222" stroke-width="0.6" />
<line x1="220.2" y1="67.4" x2="220.2" y2="69.4" stroke="#222" stroke-width="0.8" />
<text x="220.2" y="74.96" font-size="6.3" fill="#222" stroke="#222" stroke-width="0.18" text-anchor="middle" >0</text>
<line x1="242.8" y1="67.4" x2="242.8" y2="69.4" stroke="#222" stroke-width="0.8" />
<text x="242.8" y="74.96" font-size="6.3" fill="#222" stroke="#222" stroke-width="0.18" text-anchor="middle" >10</text>
<line x1="265.4" y1="67.4" x2="265.4" y2="69.4" stroke="#222" stroke-width="0.8" />
<text x="265.4" y="74.96" font-size="6.3" fill="#222" stroke="#222" stroke-width="0.18" text-anchor="middle" >20</text>
<line x1="231.5" y1="67.4" x2="231.5" y2="68.6" stroke="#222" stroke-width="0.6" />
<line x1="254.1" y1="67.4" x2="254.1" y2="68.6" stroke="#222" stroke-width="0.6" />
<line x1="276.7" y1="67.4" x2="276.7" y2="68.6" stroke="#222" stroke-width="0.6" />
<text x="222.2" y="25.73" font-size="6.8" fill="#222" stroke="#222" stroke-width="0.18" text-anchor="start" >L119</text>
<text transform="translate(205.7,44.4) rotate(-90)" x="0" y="0" font-size="8.2" text-anchor="middle" fill="#222" stroke="#222" stroke-width="0.18">Ia/Ib</text>
<polyline points="220.2,67.4 221.24,65.29 222.27,63.3 223.31,61.44 224.34,59.7 225.38,58.06 226.41,56.53 227.45,55.09 228.49,53.74 229.52,52.48 230.56,51.29 231.59,50.18 232.63,49.13 233.67,48.15 234.7,47.23 235.74,46.37 236.77,45.57 237.81,44.81 238.84,44.1 239.88,43.43 240.92,42.81 241.95,42.22 242.99,41.67 244.02,41.16 245.06,40.67 246.1,40.22 247.13,39.79 248.17,39.4 249.2,39.02 250.24,38.67 251.27,38.34 252.31,38.03 253.35,37.74 254.38,37.47 255.42,37.22 256.45,36.98 257.49,36.76 258.53,36.55 259.56,36.35 260.6,36.17 261.63,35.99 262.67,35.83 263.7,35.68 264.74,35.53 265.78,35.4 266.81,35.28 267.85,35.16 268.88,35.05 269.92,34.94 270.96,34.85 271.99,34.76 273.03,34.67 274.06,34.59 275.1,34.51 276.13,34.44 277.17,34.38 278.21,34.32 279.24,34.26 280.28,34.2 281.31,34.15 282.35,34.1" fill="none" stroke="#f5a21e" stroke-width="1.2" />
<circle cx="224.72" cy="57.95" r="1.1" fill="#f5a21e" />
<circle cx="236.02" cy="45.67" r="1.1" fill="#f5a21e" />
<circle cx="247.32" cy="40" r="1.1" fill="#f5a21e" />
<circle cx="258.62" cy="36.22" r="1.1" fill="#f5a21e" />
<circle cx="269.92" cy="37.16" r="1.1" fill="#f5a21e" />
<circle cx="281.22" cy="32.44" r="1.1" fill="#f5a21e" />
<polyline points="220.2,67.4 221.24,63.21 222.27,59.46 223.31,56.13 224.34,53.15 225.38,50.5 226.41,48.14 227.45,46.03 228.49,44.15 229.52,42.47 230.56,40.97 231.59,39.64 232.63,38.45 233.67,37.39 234.7,36.44 235.74,35.6 236.77,34.85 237.81,34.18 238.84,33.58 239.88,33.05 240.92,32.57 241.95,32.15 242.99,31.77 244.02,31.43 245.06,31.13 246.1,30.86 247.13,30.62 248.17,30.41 249.2,30.22 250.24,30.05 251.27,29.9 252.31,29.77 253.35,29.65 254.38,29.54 255.42,29.44 256.45,29.36 257.49,29.28 258.53,29.21 259.56,29.15 260.6,29.1 261.63,29.05 262.67,29.01 263.7,28.97 264.74,28.94 265.78,28.91 266.81,28.88 267.85,28.85 268.88,28.83 269.92,28.81 270.96,28.8 271.99,28.78 273.03,28.77 274.06,28.76 275.1,28.74 276.13,28.73 277.17,28.73 278.21,28.72 279.24,28.71 280.28,28.71 281.31,28.7 282.35,28.7" fill="none" stroke="#27a84a" stroke-width="1.2" />
<circle cx="224.72" cy="52.28" r="1.1" fill="#27a84a" />
<circle cx="236.02" cy="36.22" r="1.1" fill="#27a84a" />
<circle cx="247.32" cy="28.66" r="1.1" fill="#27a84a" />
<circle cx="258.62" cy="33.38" r="1.1" fill="#27a84a" />
<circle cx="269.92" cy="28.66" r="1.1" fill="#27a84a" />
<circle cx="281.22" cy="31.49" r="1.1" fill="#27a84a" />
<polyline points="220.2,67.4 221.24,65.97 222.27,64.59 223.31,63.27 224.34,61.99 225.38,60.75 226.41,59.56 227.45,58.42 228.49,57.31 229.52,56.24 230.56,55.22 231.59,54.23 232.63,53.27 233.67,52.35 234.7,51.46 235.74,50.61 236.77,49.78 237.81,48.99 238.84,48.22 239.88,47.49 240.92,46.77 241.95,46.09 242.99,45.43 244.02,44.79 245.06,44.17 246.1,43.58 247.13,43.01 248.17,42.46 249.2,41.93 250.24,41.42 251.27,40.92 252.31,40.45 253.35,39.99 254.38,39.55 255.42,39.12 256.45,38.71 257.49,38.31 258.53,37.93 259.56,37.56 260.6,37.21 261.63,36.87 262.67,36.54 263.7,36.22 264.74,35.91 265.78,35.62 266.81,35.33 267.85,35.06 268.88,34.79 269.92,34.54 270.96,34.29 271.99,34.06 273.03,33.83 274.06,33.61 275.1,33.39 276.13,33.19 277.17,32.99 278.21,32.8 279.24,32.62 280.28,32.44 281.31,32.27 282.35,32.11" fill="none" stroke="#111" stroke-width="1" stroke-dasharray="1.2 1.3"/>
<rect x="223.72" y="61.68" width="2" height="2" fill="#111"/>
<rect x="235.02" y="48.45" width="2" height="2" fill="#111"/>
<rect x="246.32" y="41.83" width="2" height="2" fill="#111"/>
<rect x="257.62" y="37.11" width="2" height="2" fill="#111"/>
<rect x="268.92" y="31.44" width="2" height="2" fill="#111"/>
<rect x="280.22" y="30.49" width="2" height="2" fill="#111"/>
<text x="252" y="46.87" font-size="6.9" fill="#222" stroke="#222" stroke-width="0.18" text-anchor="start" ><tspan dy="0" font-size="6.9">S</tspan><tspan dy="-2.62" font-size="4.28">2</tspan><tspan dy="4.55" font-size="4.28">apo</tspan><tspan dy="-1.93" font-size="6.9"> ~ 0.1</tspan></text>
<text x="250.1" y="56.07" font-size="6.9" fill="#f39a1e" stroke="#f39a1e" stroke-width="0.18" text-anchor="start" ><tspan dy="0" font-size="6.9">S</tspan><tspan dy="-2.62" font-size="4.28">2</tspan><tspan dy="4.55" font-size="4.28">ADP</tspan><tspan dy="-1.93" font-size="6.9"> ~ 0.3</tspan></text>
<text x="243.2" y="64.37" font-size="6.9" fill="#2b8a4a" stroke="#2b8a4a" stroke-width="0.18" text-anchor="start" ><tspan dy="0" font-size="6.9">S</tspan><tspan dy="-2.62" font-size="4.28">2</tspan><tspan dy="4.55" font-size="4.28">AMPPNP</tspan><tspan dy="-1.93" font-size="6.9"> ~ 0.5</tspan></text>
<line x1="312.4" y1="20.9" x2="312.4" y2="67.4" stroke="#222" stroke-width="0.9" />
<line x1="312.4" y1="67.4" x2="377.9" y2="67.4" stroke="#222" stroke-width="0.9" />
<line x1="310.4" y1="67.4" x2="312.4" y2="67.4" stroke="#222" stroke-width="0.8" />
<text x="309.2" y="69.66" font-size="6.3" fill="#222" stroke="#222" stroke-width="0.18" text-anchor="end" >0.0</text>
<line x1="310.4" y1="51.7" x2="312.4" y2="51.7" stroke="#222" stroke-width="0.8" />
<text x="309.2" y="53.96" font-size="6.3" fill="#222" stroke="#222" stroke-width="0.18" text-anchor="end" >0.2</text>
<line x1="310.4" y1="36" x2="312.4" y2="36" stroke="#222" stroke-width="0.8" />
<text x="309.2" y="38.26" font-size="6.3" fill="#222" stroke="#222" stroke-width="0.18" text-anchor="end" >0.4</text>
<line x1="311.2" y1="59.55" x2="312.4" y2="59.55" stroke="#222" stroke-width="0.6" />
<line x1="311.2" y1="43.85" x2="312.4" y2="43.85" stroke="#222" stroke-width="0.6" />
<line x1="311.2" y1="28.15" x2="312.4" y2="28.15" stroke="#222" stroke-width="0.6" />
<line x1="312.4" y1="67.4" x2="312.4" y2="69.4" stroke="#222" stroke-width="0.8" />
<text x="312.4" y="74.96" font-size="6.3" fill="#222" stroke="#222" stroke-width="0.18" text-anchor="middle" >0</text>
<line x1="335.1" y1="67.4" x2="335.1" y2="69.4" stroke="#222" stroke-width="0.8" />
<text x="335.1" y="74.96" font-size="6.3" fill="#222" stroke="#222" stroke-width="0.18" text-anchor="middle" >10</text>
<line x1="357.8" y1="67.4" x2="357.8" y2="69.4" stroke="#222" stroke-width="0.8" />
<text x="357.8" y="74.96" font-size="6.3" fill="#222" stroke="#222" stroke-width="0.18" text-anchor="middle" >20</text>
<line x1="323.75" y1="67.4" x2="323.75" y2="68.6" stroke="#222" stroke-width="0.6" />
<line x1="346.45" y1="67.4" x2="346.45" y2="68.6" stroke="#222" stroke-width="0.6" />
<line x1="369.15" y1="67.4" x2="369.15" y2="68.6" stroke="#222" stroke-width="0.6" />
<text x="314.4" y="27.03" font-size="6.8" fill="#222" stroke="#222" stroke-width="0.18" text-anchor="start" >L339</text>
<text transform="translate(297.9,44.15) rotate(-90)" x="0" y="0" font-size="8.2" text-anchor="middle" fill="#222" stroke="#222" stroke-width="0.18">Ia/Ib</text>
<polyline points="312.4,67.4 313.44,66.38 314.48,65.41 315.52,64.48 316.56,63.58 317.6,62.72 318.64,61.89 319.68,61.1 320.72,60.34 321.76,59.61 322.8,58.91 323.84,58.24 324.88,57.59 325.93,56.97 326.97,56.38 328.01,55.81 329.05,55.26 330.09,54.74 331.13,54.24 332.17,53.75 333.21,53.29 334.25,52.84 335.29,52.42 336.33,52.01 337.37,51.61 338.41,51.24 339.45,50.87 340.49,50.53 341.53,50.19 342.57,49.87 343.61,49.57 344.65,49.27 345.69,48.99 346.73,48.72 347.77,48.46 348.81,48.21 349.85,47.97 350.9,47.74 351.94,47.52 352.98,47.31 354.02,47.1 355.06,46.91 356.1,46.72 357.14,46.54 358.18,46.37 359.22,46.21 360.26,46.05 361.3,45.89 362.34,45.75 363.38,45.61 364.42,45.47 365.46,45.34 366.5,45.22 367.54,45.1 368.58,44.99 369.62,44.88 370.66,44.77 371.7,44.67 372.74,44.58 373.78,44.48 374.82,44.39" fill="none" stroke="#f5a21e" stroke-width="1.2" />
<circle cx="316.94" cy="63.48" r="1.1" fill="#f5a21e" />
<circle cx="328.29" cy="54.84" r="1.1" fill="#f5a21e" />
<circle cx="339.64" cy="50.13" r="1.1" fill="#f5a21e" />
<circle cx="350.99" cy="49.35" r="1.1" fill="#f5a21e" />
<circle cx="362.34" cy="44.64" r="1.1" fill="#f5a21e" />
<circle cx="373.69" cy="41.5" r="1.1" fill="#f5a21e" />
<polyline points="312.4,67.4 313.44,65.02 314.48,62.9 315.52,61.01 316.56,59.32 317.6,57.81 318.64,56.47 319.68,55.28 320.72,54.21 321.76,53.26 322.8,52.41 323.84,51.65 324.88,50.98 325.93,50.38 326.97,49.84 328.01,49.36 329.05,48.93 330.09,48.55 331.13,48.21 332.17,47.91 333.21,47.64 334.25,47.4 335.29,47.19 336.33,47 337.37,46.83 338.41,46.67 339.45,46.54 340.49,46.42 341.53,46.31 342.57,46.21 343.61,46.13 344.65,46.05 345.69,45.98 346.73,45.92 347.77,45.87 348.81,45.82 349.85,45.78 350.9,45.74 351.94,45.7 352.98,45.67 354.02,45.64 355.06,45.62 356.1,45.6 357.14,45.58 358.18,45.56 359.22,45.55 360.26,45.53 361.3,45.52 362.34,45.51 363.38,45.5 364.42,45.49 365.46,45.48 366.5,45.48 367.54,45.47 368.58,45.47 369.62,45.46 370.66,45.46 371.7,45.45 372.74,45.45 373.78,45.45 374.82,45.44" fill="none" stroke="#27a84a" stroke-width="1.2" />
<circle cx="316.94" cy="57.2" r="1.1" fill="#27a84a" />
<circle cx="328.29" cy="50.13" r="1.1" fill="#27a84a" />
<circle cx="339.64" cy="46.21" r="1.1" fill="#27a84a" />
<circle cx="350.99" cy="45.42" r="1.1" fill="#27a84a" />
<circle cx="362.34" cy="46.21" r="1.1" fill="#27a84a" />
<circle cx="373.69" cy="46.21" r="1.1" fill="#27a84a" />
<polyline points="312.4,67.4 313.44,66.4 314.48,65.42 315.52,64.45 316.56,63.5 317.6,62.56 318.64,61.64 319.68,60.73 320.72,59.84 321.76,58.96 322.8,58.09 323.84,57.24 324.88,56.4 325.93,55.58 326.97,54.77 328.01,53.97 329.05,53.18 330.09,52.41 331.13,51.65 332.17,50.9 333.21,50.16 334.25,49.44 335.29,48.73 336.33,48.02 337.37,47.33 338.41,46.65 339.45,45.98 340.49,45.32 341.53,44.68 342.57,44.04 343.61,43.41 344.65,42.79 345.69,42.19 346.73,41.59 347.77,41 348.81,40.42 349.85,39.85 350.9,39.29 351.94,38.74 352.98,38.19 354.02,37.66 355.06,37.13 356.1,36.62 357.14,36.11 358.18,35.6 359.22,35.11 360.26,34.63 361.3,34.15 362.34,33.68 363.38,33.21 364.42,32.76 365.46,32.31 366.5,31.87 367.54,31.44 368.58,31.01 369.62,30.59 370.66,30.18 371.7,29.77 372.74,29.37 373.78,28.97 374.82,28.59" fill="none" stroke="#111" stroke-width="1" stroke-dasharray="1.2 1.3"/>
<rect x="315.94" y="61.69" width="2" height="2" fill="#111"/>
<rect x="327.29" y="51.49" width="2" height="2" fill="#111"/>
<rect x="338.64" y="45.21" width="2" height="2" fill="#111"/>
<rect x="349.99" y="35.79" width="2" height="2" fill="#111"/>
<rect x="361.34" y="29.51" width="2" height="2" fill="#111"/>
<rect x="372.69" y="27.94" width="2" height="2" fill="#111"/>
<text x="338.7" y="28.87" font-size="6.9" fill="#222" stroke="#222" stroke-width="0.18" text-anchor="start" ><tspan dy="0" font-size="6.9">S</tspan><tspan dy="-2.62" font-size="4.28">2</tspan><tspan dy="4.55" font-size="4.28">apo</tspan><tspan dy="-1.93" font-size="6.9"> ~ 0.2</tspan></text>
<text x="341.5" y="56.47" font-size="6.9" fill="#f39a1e" stroke="#f39a1e" stroke-width="0.18" text-anchor="start" ><tspan dy="0" font-size="6.9">S</tspan><tspan dy="-2.62" font-size="4.28">2</tspan><tspan dy="4.55" font-size="4.28">ADP</tspan><tspan dy="-1.93" font-size="6.9"> ~ 0.2</tspan></text>
<text x="332.6" y="64.37" font-size="6.9" fill="#2b8a4a" stroke="#2b8a4a" stroke-width="0.18" text-anchor="start" ><tspan dy="0" font-size="6.9">S</tspan><tspan dy="-2.62" font-size="4.28">2</tspan><tspan dy="4.55" font-size="4.28">AMPPNP</tspan><tspan dy="-1.93" font-size="6.9"> ~ 0.4</tspan></text>
<line x1="128.5" y1="107" x2="128.5" y2="153.7" stroke="#222" stroke-width="0.9" />
<line x1="128.5" y1="153.7" x2="193.8" y2="153.7" stroke="#222" stroke-width="0.9" />
<line x1="126.5" y1="153.7" x2="128.5" y2="153.7" stroke="#222" stroke-width="0.8" />
<text x="125.3" y="155.96" font-size="6.3" fill="#222" stroke="#222" stroke-width="0.18" text-anchor="end" >0.0</text>
<line x1="126.5" y1="135.1" x2="128.5" y2="135.1" stroke="#222" stroke-width="0.8" />
<text x="125.3" y="137.36" font-size="6.3" fill="#222" stroke="#222" stroke-width="0.18" text-anchor="end" >0.2</text>
<line x1="126.5" y1="116.5" x2="128.5" y2="116.5" stroke="#222" stroke-width="0.8" />
<text x="125.3" y="118.76" font-size="6.3" fill="#222" stroke="#222" stroke-width="0.18" text-anchor="end" >0.4</text>
<line x1="127.3" y1="144.4" x2="128.5" y2="144.4" stroke="#222" stroke-width="0.6" />
<line x1="127.3" y1="125.8" x2="128.5" y2="125.8" stroke="#222" stroke-width="0.6" />
<line x1="128.5" y1="153.7" x2="128.5" y2="155.7" stroke="#222" stroke-width="0.8" />
<text x="128.5" y="161.26" font-size="6.3" fill="#222" stroke="#222" stroke-width="0.18" text-anchor="middle" >0</text>
<line x1="151.5" y1="153.7" x2="151.5" y2="155.7" stroke="#222" stroke-width="0.8" />
<text x="151.5" y="161.26" font-size="6.3" fill="#222" stroke="#222" stroke-width="0.18" text-anchor="middle" >10</text>
<line x1="174.5" y1="153.7" x2="174.5" y2="155.7" stroke="#222" stroke-width="0.8" />
<text x="174.5" y="161.26" font-size="6.3" fill="#222" stroke="#222" stroke-width="0.18" text-anchor="middle" >20</text>
<line x1="140" y1="153.7" x2="140" y2="154.9" stroke="#222" stroke-width="0.6" />
<line x1="163" y1="153.7" x2="163" y2="154.9" stroke="#222" stroke-width="0.6" />
<line x1="186" y1="153.7" x2="186" y2="154.9" stroke="#222" stroke-width="0.6" />
<text x="130.5" y="113.43" font-size="6.8" fill="#222" stroke="#222" stroke-width="0.18" text-anchor="start" >L352</text>
<text transform="translate(114,130.35) rotate(-90)" x="0" y="0" font-size="8.2" text-anchor="middle" fill="#222" stroke="#222" stroke-width="0.18">Ia/Ib</text>
<polyline points="128.5,153.7 129.55,147.83 130.61,143.57 131.66,140.48 132.72,138.24 133.77,136.61 134.82,135.43 135.88,134.57 136.93,133.95 137.99,133.5 139.04,133.17 140.1,132.94 141.15,132.77 142.2,132.64 143.26,132.55 144.31,132.48 145.37,132.44 146.42,132.4 147.47,132.38 148.53,132.36 149.58,132.34 150.64,132.34 151.69,132.33 152.75,132.32 153.8,132.32 154.85,132.32 155.91,132.32 156.96,132.31 158.02,132.31 159.07,132.31 160.12,132.31 161.18,132.31 162.23,132.31 163.29,132.31 164.34,132.31 165.4,132.31 166.45,132.31 167.5,132.31 168.56,132.31 169.61,132.31 170.67,132.31 171.72,132.31 172.78,132.31 173.83,132.31 174.88,132.31 175.94,132.31 176.99,132.31 178.05,132.31 179.1,132.31 180.15,132.31 181.21,132.31 182.26,132.31 183.32,132.31 184.37,132.31 185.43,132.31 186.48,132.31 187.53,132.31 188.59,132.31 189.64,132.31 190.7,132.31 191.75,132.31" fill="none" stroke="#f5a21e" stroke-width="1.2" />
<circle cx="133.1" cy="137.89" r="1.1" fill="#f5a21e" />
<circle cx="144.6" cy="131.38" r="1.1" fill="#f5a21e" />
<circle cx="156.1" cy="132.31" r="1.1" fill="#f5a21e" />
<circle cx="167.6" cy="131.38" r="1.1" fill="#f5a21e" />
<circle cx="179.1" cy="132.31" r="1.1" fill="#f5a21e" />
<circle cx="190.6" cy="133.24" r="1.1" fill="#f5a21e" />
<polyline points="128.5,153.7 129.55,150.93 130.61,148.4 131.66,146.1 132.72,143.99 133.77,142.07 134.82,140.32 135.88,138.73 136.93,137.27 137.99,135.94 139.04,134.72 140.1,133.62 141.15,132.61 142.2,131.68 143.26,130.84 144.31,130.07 145.37,129.37 146.42,128.74 147.47,128.15 148.53,127.62 149.58,127.14 150.64,126.69 151.69,126.29 152.75,125.92 153.8,125.58 154.85,125.28 155.91,125 156.96,124.74 158.02,124.51 159.07,124.3 160.12,124.1 161.18,123.92 162.23,123.76 163.29,123.62 164.34,123.48 165.4,123.36 166.45,123.25 167.5,123.14 168.56,123.05 169.61,122.97 170.67,122.89 171.72,122.82 172.78,122.75 173.83,122.69 174.88,122.64 175.94,122.59 176.99,122.55 178.05,122.51 179.1,122.47 180.15,122.43 181.21,122.4 182.26,122.37 183.32,122.35 184.37,122.33 185.43,122.3 186.48,122.28 187.53,122.27 188.59,122.25 189.64,122.24 190.7,122.22 191.75,122.21" fill="none" stroke="#27a84a" stroke-width="1.2" />
<circle cx="133.1" cy="145.33" r="1.1" fill="#27a84a" />
<circle cx="144.6" cy="129.52" r="1.1" fill="#27a84a" />
<circle cx="156.1" cy="121.15" r="1.1" fill="#27a84a" />
<circle cx="167.6" cy="123.01" r="1.1" fill="#27a84a" />
<circle cx="179.1" cy="121.15" r="1.1" fill="#27a84a" />
<circle cx="190.6" cy="121.15" r="1.1" fill="#27a84a" />
<polyline points="128.5,153.7 129.55,152.38 130.61,151.1 131.66,149.86 132.72,148.66 133.77,147.5 134.82,146.37 135.88,145.28 136.93,144.23 137.99,143.2 139.04,142.21 140.1,141.26 141.15,140.33 142.2,139.43 143.26,138.56 144.31,137.71 145.37,136.9 146.42,136.11 147.47,135.34 148.53,134.6 149.58,133.88 150.64,133.18 151.69,132.51 152.75,131.86 153.8,131.23 154.85,130.62 155.91,130.02 156.96,129.45 158.02,128.89 159.07,128.36 160.12,127.83 161.18,127.33 162.23,126.84 163.29,126.37 164.34,125.91 165.4,125.47 166.45,125.04 167.5,124.62 168.56,124.22 169.61,123.83 170.67,123.45 171.72,123.08 172.78,122.73 173.83,122.38 174.88,122.05 175.94,121.73 176.99,121.42 178.05,121.11 179.1,120.82 180.15,120.54 181.21,120.26 182.26,120 183.32,119.74 184.37,119.49 185.43,119.25 186.48,119.02 187.53,118.79 188.59,118.57 189.64,118.36 190.7,118.15 191.75,117.95" fill="none" stroke="#111" stroke-width="1" stroke-dasharray="1.2 1.3"/>
<rect x="132.1" y="145.26" width="2" height="2" fill="#111"/>
<rect x="143.6" y="136.89" width="2" height="2" fill="#111"/>
<rect x="155.1" y="127.59" width="2" height="2" fill="#111"/>
<rect x="166.6" y="119.22" width="2" height="2" fill="#111"/>
<rect x="178.1" y="116.43" width="2" height="2" fill="#111"/>
<rect x="189.6" y="116.43" width="2" height="2" fill="#111"/>
<text x="154.8" y="114.97" font-size="6.9" fill="#222" stroke="#222" stroke-width="0.18" text-anchor="start" ><tspan dy="0" font-size="6.9">S</tspan><tspan dy="-2.62" font-size="4.28">2</tspan><tspan dy="4.55" font-size="4.28">apo</tspan><tspan dy="-1.93" font-size="6.9"> ~ 0.2</tspan></text>
<text x="153.7" y="141.47" font-size="6.9" fill="#f39a1e" stroke="#f39a1e" stroke-width="0.18" text-anchor="start" ><tspan dy="0" font-size="6.9">S</tspan><tspan dy="-2.62" font-size="4.28">2</tspan><tspan dy="4.55" font-size="4.28">ADP</tspan><tspan dy="-1.93" font-size="6.9"> ~ 0.7</tspan></text>
<text x="144" y="151.17" font-size="6.9" fill="#2b8a4a" stroke="#2b8a4a" stroke-width="0.18" text-anchor="start" ><tspan dy="0" font-size="6.9">S</tspan><tspan dy="-2.62" font-size="4.28">2</tspan><tspan dy="4.55" font-size="4.28">AMPPNP</tspan><tspan dy="-1.93" font-size="6.9"> ~ 0.4</tspan></text>
<line x1="219.9" y1="108.3" x2="219.9" y2="153.7" stroke="#222" stroke-width="0.9" />
<line x1="219.9" y1="153.7" x2="282.3" y2="153.7" stroke="#222" stroke-width="0.9" />
<line x1="217.9" y1="153.7" x2="219.9" y2="153.7" stroke="#222" stroke-width="0.8" />
<text x="216.7" y="155.96" font-size="6.3" fill="#222" stroke="#222" stroke-width="0.18" text-anchor="end" >0.0</text>
<line x1="217.9" y1="135.7" x2="219.9" y2="135.7" stroke="#222" stroke-width="0.8" />
<text x="216.7" y="137.96" font-size="6.3" fill="#222" stroke="#222" stroke-width="0.18" text-anchor="end" >0.2</text>
<line x1="217.9" y1="117.7" x2="219.9" y2="117.7" stroke="#222" stroke-width="0.8" />
<text x="216.7" y="119.96" font-size="6.3" fill="#222" stroke="#222" stroke-width="0.18" text-anchor="end" >0.4</text>
<line x1="218.7" y1="144.7" x2="219.9" y2="144.7" stroke="#222" stroke-width="0.6" />
<line x1="218.7" y1="126.7" x2="219.9" y2="126.7" stroke="#222" stroke-width="0.6" />
<line x1="219.9" y1="153.7" x2="219.9" y2="155.7" stroke="#222" stroke-width="0.8" />
<text x="219.9" y="161.26" font-size="6.3" fill="#222" stroke="#222" stroke-width="0.18" text-anchor="middle" >0</text>
<line x1="242.1" y1="153.7" x2="242.1" y2="155.7" stroke="#222" stroke-width="0.8" />
<text x="242.1" y="161.26" font-size="6.3" fill="#222" stroke="#222" stroke-width="0.18" text-anchor="middle" >10</text>
<line x1="264.3" y1="153.7" x2="264.3" y2="155.7" stroke="#222" stroke-width="0.8" />
<text x="264.3" y="161.26" font-size="6.3" fill="#222" stroke="#222" stroke-width="0.18" text-anchor="middle" >20</text>
<line x1="231" y1="153.7" x2="231" y2="154.9" stroke="#222" stroke-width="0.6" />
<line x1="253.2" y1="153.7" x2="253.2" y2="154.9" stroke="#222" stroke-width="0.6" />
<line x1="275.4" y1="153.7" x2="275.4" y2="154.9" stroke="#222" stroke-width="0.6" />
<text x="221.9" y="115.33" font-size="6.8" fill="#222" stroke="#222" stroke-width="0.18" text-anchor="start" >A397</text>
<text transform="translate(205.4,131) rotate(-90)" x="0" y="0" font-size="8.2" text-anchor="middle" fill="#222" stroke="#222" stroke-width="0.18">Ia/Ib</text>
<polyline points="219.9,153.7 220.92,146.52 221.94,141.54 222.95,138.09 223.97,135.7 224.99,134.04 226,132.89 227.02,132.1 228.04,131.55 229.06,131.16 230.08,130.9 231.09,130.71 232.11,130.59 233.13,130.5 234.15,130.44 235.16,130.4 236.18,130.37 237.2,130.35 238.22,130.33 239.23,130.32 240.25,130.32 241.27,130.31 242.28,130.31 243.3,130.31 244.32,130.3 245.34,130.3 246.36,130.3 247.37,130.3 248.39,130.3 249.41,130.3 250.43,130.3 251.44,130.3 252.46,130.3 253.48,130.3 254.5,130.3 255.51,130.3 256.53,130.3 257.55,130.3 258.56,130.3 259.58,130.3 260.6,130.3 261.62,130.3 262.63,130.3 263.65,130.3 264.67,130.3 265.69,130.3 266.7,130.3 267.72,130.3 268.74,130.3 269.76,130.3 270.78,130.3 271.79,130.3 272.81,130.3 273.83,130.3 274.85,130.3 275.86,130.3 276.88,130.3 277.9,130.3 278.92,130.3 279.93,130.3 280.95,130.3" fill="none" stroke="#f5a21e" stroke-width="1.2" />
<circle cx="224.34" cy="137.5" r="1.1" fill="#f5a21e" />
<circle cx="235.44" cy="130.3" r="1.1" fill="#f5a21e" />
<circle cx="246.54" cy="130.3" r="1.1" fill="#f5a21e" />
<circle cx="257.64" cy="130.3" r="1.1" fill="#f5a21e" />
<circle cx="268.74" cy="130.3" r="1.1" fill="#f5a21e" />
<circle cx="279.84" cy="128.5" r="1.1" fill="#f5a21e" />
<polyline points="219.9,153.7 220.92,146.7 221.94,141.13 222.95,136.7 223.97,133.17 224.99,130.37 226,128.15 227.02,126.38 228.04,124.97 229.06,123.85 230.08,122.96 231.09,122.25 232.11,121.69 233.13,121.24 234.15,120.88 235.16,120.6 236.18,120.37 237.2,120.2 238.22,120.05 239.23,119.94 240.25,119.85 241.27,119.78 242.28,119.72 243.3,119.68 244.32,119.64 245.34,119.61 246.36,119.59 247.37,119.57 248.39,119.56 249.41,119.54 250.43,119.54 251.44,119.53 252.46,119.52 253.48,119.52 254.5,119.51 255.51,119.51 256.53,119.51 257.55,119.51 258.56,119.51 259.58,119.5 260.6,119.5 261.62,119.5 262.63,119.5 263.65,119.5 264.67,119.5 265.69,119.5 266.7,119.5 267.72,119.5 268.74,119.5 269.76,119.5 270.78,119.5 271.79,119.5 272.81,119.5 273.83,119.5 274.85,119.5 275.86,119.5 276.88,119.5 277.9,119.5 278.92,119.5 279.93,119.5 280.95,119.5" fill="none" stroke="#27a84a" stroke-width="1.2" />
<circle cx="224.34" cy="135.7" r="1.1" fill="#27a84a" />
<circle cx="235.44" cy="119.5" r="1.1" fill="#27a84a" />
<circle cx="246.54" cy="120.4" r="1.1" fill="#27a84a" />
<circle cx="257.64" cy="118.6" r="1.1" fill="#27a84a" />
<circle cx="268.74" cy="119.5" r="1.1" fill="#27a84a" />
<circle cx="279.84" cy="121.3" r="1.1" fill="#27a84a" />
<polyline points="219.9,153.7 220.92,152.34 221.94,151.03 222.95,149.76 223.97,148.54 224.99,147.37 226,146.24 227.02,145.14 228.04,144.09 229.06,143.08 230.08,142.1 231.09,141.15 232.11,140.24 233.13,139.37 234.15,138.52 235.16,137.71 236.18,136.92 237.2,136.17 238.22,135.44 239.23,134.73 240.25,134.06 241.27,133.4 242.28,132.77 243.3,132.16 244.32,131.58 245.34,131.01 246.36,130.47 247.37,129.95 248.39,129.44 249.41,128.95 250.43,128.48 251.44,128.03 252.46,127.59 253.48,127.17 254.5,126.77 255.51,126.37 256.53,126 257.55,125.63 258.56,125.28 259.58,124.95 260.6,124.62 261.62,124.31 262.63,124 263.65,123.71 264.67,123.43 265.69,123.16 266.7,122.9 267.72,122.65 268.74,122.4 269.76,122.17 270.78,121.94 271.79,121.73 272.81,121.52 273.83,121.31 274.85,121.12 275.86,120.93 276.88,120.75 277.9,120.58 278.92,120.41 279.93,120.24 280.95,120.09" fill="none" stroke="#111" stroke-width="1" stroke-dasharray="1.2 1.3"/>
<rect x="223.34" y="146.4" width="2" height="2" fill="#111"/>
<rect x="234.44" y="135.6" width="2" height="2" fill="#111"/>
<rect x="245.54" y="128.4" width="2" height="2" fill="#111"/>
<rect x="256.64" y="123.9" width="2" height="2" fill="#111"/>
<rect x="267.74" y="119.4" width="2" height="2" fill="#111"/>
<rect x="278.84" y="119.4" width="2" height="2" fill="#111"/>
<text x="252.9" y="115.37" font-size="6.9" fill="#222" stroke="#222" stroke-width="0.18" text-anchor="start" ><tspan dy="0" font-size="6.9">S</tspan><tspan dy="-2.62" font-size="4.28">2</tspan><tspan dy="4.55" font-size="4.28">apo</tspan><tspan dy="-1.93" font-size="6.9"> ~ 0.2</tspan></text>
<text x="246.8" y="139.27" font-size="6.9" fill="#f39a1e" stroke="#f39a1e" stroke-width="0.18" text-anchor="start" ><tspan dy="0" font-size="6.9">S</tspan><tspan dy="-2.62" font-size="4.28">2</tspan><tspan dy="4.55" font-size="4.28">ADP</tspan><tspan dy="-1.93" font-size="6.9"> ~ 0.7</tspan></text>
<text x="238.8" y="147.47" font-size="6.9" fill="#2b8a4a" stroke="#2b8a4a" stroke-width="0.18" text-anchor="start" ><tspan dy="0" font-size="6.9">S</tspan><tspan dy="-2.62" font-size="4.28">2</tspan><tspan dy="4.55" font-size="4.28">AMPPNP</tspan><tspan dy="-1.93" font-size="6.9"> ~ 0.8</tspan></text>
<line x1="312.4" y1="108.3" x2="312.4" y2="154.6" stroke="#222" stroke-width="0.9" />
<line x1="312.4" y1="154.6" x2="376.4" y2="154.6" stroke="#222" stroke-width="0.9" />
<line x1="310.4" y1="154.6" x2="312.4" y2="154.6" stroke="#222" stroke-width="0.8" />
<text x="309.2" y="156.86" font-size="6.3" fill="#222" stroke="#222" stroke-width="0.18" text-anchor="end" >0.0</text>
<line x1="310.4" y1="136.4" x2="312.4" y2="136.4" stroke="#222" stroke-width="0.8" />
<text x="309.2" y="138.66" font-size="6.3" fill="#222" stroke="#222" stroke-width="0.18" text-anchor="end" >0.2</text>
<line x1="310.4" y1="118.2" x2="312.4" y2="118.2" stroke="#222" stroke-width="0.8" />
<text x="309.2" y="120.46" font-size="6.3" fill="#222" stroke="#222" stroke-width="0.18" text-anchor="end" >0.4</text>
<line x1="311.2" y1="145.5" x2="312.4" y2="145.5" stroke="#222" stroke-width="0.6" />
<line x1="311.2" y1="127.3" x2="312.4" y2="127.3" stroke="#222" stroke-width="0.6" />
<line x1="312.4" y1="154.6" x2="312.4" y2="156.6" stroke="#222" stroke-width="0.8" />
<text x="312.4" y="162.16" font-size="6.3" fill="#222" stroke="#222" stroke-width="0.18" text-anchor="middle" >0</text>
<line x1="335.1" y1="154.6" x2="335.1" y2="156.6" stroke="#222" stroke-width="0.8" />
<text x="335.1" y="162.16" font-size="6.3" fill="#222" stroke="#222" stroke-width="0.18" text-anchor="middle" >10</text>
<line x1="357.8" y1="154.6" x2="357.8" y2="156.6" stroke="#222" stroke-width="0.8" />
<text x="357.8" y="162.16" font-size="6.3" fill="#222" stroke="#222" stroke-width="0.18" text-anchor="middle" >20</text>
<line x1="323.75" y1="154.6" x2="323.75" y2="155.8" stroke="#222" stroke-width="0.6" />
<line x1="346.45" y1="154.6" x2="346.45" y2="155.8" stroke="#222" stroke-width="0.6" />
<line x1="369.15" y1="154.6" x2="369.15" y2="155.8" stroke="#222" stroke-width="0.6" />
<text x="314.4" y="114.93" font-size="6.8" fill="#222" stroke="#222" stroke-width="0.18" text-anchor="start" >V539</text>
<text transform="translate(297.9,131.45) rotate(-90)" x="0" y="0" font-size="8.2" text-anchor="middle" fill="#222" stroke="#222" stroke-width="0.18">Ia/Ib</text>
<polyline points="312.4,154.6 313.44,146.5 314.48,140.89 315.52,136.99 316.56,134.3 317.6,132.43 318.64,131.13 319.68,130.24 320.72,129.61 321.76,129.18 322.8,128.88 323.84,128.68 324.88,128.53 325.93,128.43 326.97,128.37 328.01,128.32 329.05,128.28 330.09,128.26 331.13,128.25 332.17,128.23 333.21,128.23 334.25,128.22 335.29,128.22 336.33,128.22 337.37,128.21 338.41,128.21 339.45,128.21 340.49,128.21 341.53,128.21 342.57,128.21 343.61,128.21 344.65,128.21 345.69,128.21 346.73,128.21 347.77,128.21 348.81,128.21 349.85,128.21 350.9,128.21 351.94,128.21 352.98,128.21 354.02,128.21 355.06,128.21 356.1,128.21 357.14,128.21 358.18,128.21 359.22,128.21 360.26,128.21 361.3,128.21 362.34,128.21 363.38,128.21 364.42,128.21 365.46,128.21 366.5,128.21 367.54,128.21 368.58,128.21 369.62,128.21 370.66,128.21 371.7,128.21 372.74,128.21 373.78,128.21 374.82,128.21" fill="none" stroke="#f5a21e" stroke-width="1.2" />
<circle cx="316.94" cy="132.76" r="1.1" fill="#f5a21e" />
<circle cx="328.29" cy="131.85" r="1.1" fill="#f5a21e" />
<circle cx="339.64" cy="130.03" r="1.1" fill="#f5a21e" />
<circle cx="350.99" cy="128.21" r="1.1" fill="#f5a21e" />
<circle cx="362.34" cy="128.21" r="1.1" fill="#f5a21e" />
<circle cx="373.69" cy="128.21" r="1.1" fill="#f5a21e" />
<polyline points="312.4,154.6 313.44,146.22 314.48,140.41 315.52,136.39 316.56,133.6 317.6,131.66 318.64,130.32 319.68,129.4 320.72,128.75 321.76,128.31 322.8,128 323.84,127.78 324.88,127.64 325.93,127.53 326.97,127.46 328.01,127.41 329.05,127.38 330.09,127.35 331.13,127.34 332.17,127.33 333.21,127.32 334.25,127.31 335.29,127.31 336.33,127.31 337.37,127.3 338.41,127.3 339.45,127.3 340.49,127.3 341.53,127.3 342.57,127.3 343.61,127.3 344.65,127.3 345.69,127.3 346.73,127.3 347.77,127.3 348.81,127.3 349.85,127.3 350.9,127.3 351.94,127.3 352.98,127.3 354.02,127.3 355.06,127.3 356.1,127.3 357.14,127.3 358.18,127.3 359.22,127.3 360.26,127.3 361.3,127.3 362.34,127.3 363.38,127.3 364.42,127.3 365.46,127.3 366.5,127.3 367.54,127.3 368.58,127.3 369.62,127.3 370.66,127.3 371.7,127.3 372.74,127.3 373.78,127.3 374.82,127.3" fill="none" stroke="#27a84a" stroke-width="1.2" />
<circle cx="316.94" cy="132.76" r="1.1" fill="#27a84a" />
<circle cx="328.29" cy="128.21" r="1.1" fill="#27a84a" />
<circle cx="339.64" cy="128.21" r="1.1" fill="#27a84a" />
<circle cx="350.99" cy="126.39" r="1.1" fill="#27a84a" />
<circle cx="362.34" cy="128.21" r="1.1" fill="#27a84a" />
<circle cx="373.69" cy="126.39" r="1.1" fill="#27a84a" />
<polyline points="312.4,154.6 313.44,153 314.48,151.46 315.52,149.96 316.56,148.52 317.6,147.13 318.64,145.78 319.68,144.48 320.72,143.22 321.76,142.01 322.8,140.83 323.84,139.7 324.88,138.61 325.93,137.55 326.97,136.52 328.01,135.54 329.05,134.58 330.09,133.66 331.13,132.77 332.17,131.91 333.21,131.07 334.25,130.27 335.29,129.49 336.33,128.74 337.37,128.02 338.41,127.32 339.45,126.64 340.49,125.99 341.53,125.35 342.57,124.74 343.61,124.15 344.65,123.58 345.69,123.03 346.73,122.5 347.77,121.98 348.81,121.49 349.85,121.01 350.9,120.54 351.94,120.1 352.98,119.66 354.02,119.24 355.06,118.84 356.1,118.45 357.14,118.07 358.18,117.71 359.22,117.36 360.26,117.01 361.3,116.69 362.34,116.37 363.38,116.06 364.42,115.76 365.46,115.48 366.5,115.2 367.54,114.93 368.58,114.67 369.62,114.42 370.66,114.18 371.7,113.95 372.74,113.72 373.78,113.51 374.82,113.3" fill="none" stroke="#111" stroke-width="1" stroke-dasharray="1.2 1.3"/>
<rect x="315.94" y="146.32" width="2" height="2" fill="#111"/>
<rect x="327.29" y="135.4" width="2" height="2" fill="#111"/>
<rect x="338.64" y="129.03" width="2" height="2" fill="#111"/>
<rect x="349.99" y="119.02" width="2" height="2" fill="#111"/>
<rect x="361.34" y="119.02" width="2" height="2" fill="#111"/>
<rect x="372.69" y="110.83" width="2" height="2" fill="#111"/>
<text x="338.2" y="114.47" font-size="6.9" fill="#222" stroke="#222" stroke-width="0.18" text-anchor="start" ><tspan dy="0" font-size="6.9">S</tspan><tspan dy="-2.62" font-size="4.28">2</tspan><tspan dy="4.55" font-size="4.28">apo</tspan><tspan dy="-1.93" font-size="6.9"> ~ 0.2</tspan></text>
<text x="341.8" y="139.77" font-size="6.9" fill="#f39a1e" stroke="#f39a1e" stroke-width="0.18" text-anchor="start" ><tspan dy="0" font-size="6.9">S</tspan><tspan dy="-2.62" font-size="4.28">2</tspan><tspan dy="4.55" font-size="4.28">ADP</tspan><tspan dy="-1.93" font-size="6.9"> ~ 1.0</tspan></text>
<text x="333.8" y="148.07" font-size="6.9" fill="#2b8a4a" stroke="#2b8a4a" stroke-width="0.18" text-anchor="start" ><tspan dy="0" font-size="6.9">S</tspan><tspan dy="-2.62" font-size="4.28">2</tspan><tspan dy="4.55" font-size="4.28">AMPPNP</tspan><tspan dy="-1.93" font-size="6.9"> ~ 1.0</tspan></text>
<text x="199.6" y="88.92" font-size="10.4" fill="#222" stroke="#222" stroke-width="0.18" text-anchor="start" >Relaxation Delay (ms)</text>
<text x="196.1" y="172.72" font-size="10.4" fill="#222" stroke="#222" stroke-width="0.18" text-anchor="start" >Relaxation Delay (ms)</text>
<text x="494" y="11.23" font-size="13.5" fill="#111" text-anchor="start" font-weight="bold" >b</text>
<clipPath id="cpA"><ellipse cx="591.6" cy="51.5" rx="29.8" ry="37"/></clipPath>
<g clip-path="url(#cpA)">
<ellipse cx="591.6" cy="51.5" rx="29.8" ry="37" fill="#ffffff"/>
<g fill="none" stroke-linecap="round"><path d="M588.76,55.92 q4.24,-0.34 0.11,1.05 q-3.15,0.12 1.82,3.52 q-4.06,-1.97 -5.73,3.72" stroke="#7a7a7a" stroke-width="2.03"/><path d="M597.29,43.82 q-0.47,2.39 2.1,1.48 q3.32,-4.37 -6.5,4.55 q1,2.78 -2.43,1.09" stroke="#8e8e8e" stroke-width="1.43"/><path d="M599.96,51.48 q1.62,-0.43 -3.11,5.97 q4.96,3.4 2.91,-2.22 q-2.7,-2.11 -6.02,3.2" stroke="#a5a5a5" stroke-width="1.68"/><path d="M584.84,85.4 q3.47,-4.99 -4.06,4.92 q-0.3,4.8 -1.44,-5.12 q1.29,2.79 -3.22,-4.95" stroke="#6a6a6a" stroke-width="1.6"/><path d="M606.98,23.23 q-2.54,-3.99 -6.16,3.56 q-3.22,0.59 -0.74,-3.71 q2.32,-3.69 2.01,-4.6" stroke="#8e8e8e" stroke-width="1.7"/><path d="M561.83,78.46 q4.75,0.93 6.97,-5.76 q-3.13,4.96 1.43,0.92 q-4.58,-3.54 -0.82,-5.89" stroke="#a5a5a5" stroke-width="1.93"/><path d="M584.82,20 q-2.91,1.37 -6.78,-1.58 q1.22,-3.73 1.22,3.99 q-3.64,-1.14 1.78,-2.27" stroke="#b0b0b0" stroke-width="1.47"/><path d="M576.67,28.55 q2.39,4.4 -4.25,5.4 q3.82,1.04 -1.1,-4.75 q-4.61,4.63 -3.66,2.45" stroke="#b0b0b0" stroke-width="1.51"/><path d="M591.06,52.99 q4.29,4.77 -5.23,-0.25 q1.54,1.16 -5.96,-3.45 q4.15,2.49 -6.03,-1.06" stroke="#7a7a7a" stroke-width="1.5"/><path d="M572.3,41.79 q0.72,-3.68 -1.93,4.69 q4.8,1.57 2.68,1.01 q-3.6,-4.65 -6.75,4.92" stroke="#7a7a7a" stroke-width="2.04"/><path d="M563.07,61.58 q-0.18,2.3 -2.54,5.99 q-4.25,0.46 3.32,4.8 q2.37,2.04 4.11,4.98" stroke="#6a6a6a" stroke-width="1.62"/><path d="M615.49,78.96 q-0.83,2.91 5.09,0.87 q1.25,-1.18 1.16,1.31 q-4.2,1.39 6.91,4.56" stroke="#6a6a6a" stroke-width="2.07"/><path d="M617.48,65.87 q-0.42,-0.37 0.58,0.22 q0.15,-1.9 -5.77,-5.73 q4.57,-3.87 3.92,1.92" stroke="#7a7a7a" stroke-width="1.78"/><path d="M583.73,25.1 q1.12,0.18 3.55,-1.89 q4.3,-0.02 -3.62,-1.14 q-2.49,1.34 4.25,3.06" stroke="#8e8e8e" stroke-width="1.44"/><path d="M584.71,57.65 q-1.84,-3.64 -0.05,4.05 q3.49,2.11 6.3,-2.68 q-3.31,-0.49 -3.15,-3.43" stroke="#b0b0b0" stroke-width="1.7"/><path d="M591.23,37.84 q3.39,4.82 -0.67,-5.1 q-4.69,3.73 -6.42,2.5 q0.71,-1.91 4.08,-5.77" stroke="#6a6a6a" stroke-width="1.36"/><path d="M573.12,71.42 q-2.34,2.79 4.16,5.81 q-3.85,-3.91 0.5,1.68 q-1.31,-4.22 -4.23,3.89" stroke="#7a7a7a" stroke-width="1.51"/><path d="M606.8,54.08 q-4.64,-2.74 3.9,0.48 q4.47,0 6.96,-4.09 q3.49,2 -3.87,-1.07" stroke="#6a6a6a" stroke-width="2.27"/><path d="M569.54,48.06 q1.26,4.1 -1.72,0.83 q3.79,2.97 6.22,-0.44 q1.51,-2.95 3.11,3.82" stroke="#7a7a7a" stroke-width="1.97"/><path d="M574.51,81.1 q4.8,4.77 0.52,3.49 q-1.8,4.1 4.98,-1.82 q-4.17,-0.59 0.7,3.22" stroke="#7a7a7a" stroke-width="1.78"/><path d="M574.81,78.7 q-0.71,-4.65 0.46,2.24 q4.16,-0.29 7,4.81 q0.18,1.78 -0.84,4.56" stroke="#7a7a7a" stroke-width="1.89"/><path d="M606.97,47.02 q0.59,3.31 0.86,-4.03 q0.14,4.07 -3.41,2.06 q4.55,3.7 1.53,-2.35" stroke="#b0b0b0" stroke-width="1.37"/><path d="M593.04,56.9 q-2.99,0.36 0.04,1.26 q-4.72,4.69 0.22,-1.19 q3.01,0.63 -0.13,2.29" stroke="#b0b0b0" stroke-width="1.28"/><path d="M589.15,82.64 q3,-0.96 -3.55,-0.08 q-1.6,4.01 6.1,5.04 q0.25,-3.91 -1.13,-5.65" stroke="#7a7a7a" stroke-width="1.51"/><path d="M563.92,26.01 q-4.88,-2.16 3.13,-3.07 q-0.01,-0 1.15,4.22 q1.24,2.18 2.82,4.54" stroke="#6a6a6a" stroke-width="1.23"/><path d="M610.98,60.07 q0.38,3.64 0.48,-3.38 q-2.84,0.43 1.21,-4.36 q4.15,1.28 -2.13,-3.83" stroke="#8e8e8e" stroke-width="1.92"/><path d="M574.8,88.38 q3.88,-3.66 -3.65,2.72 q-2.41,-4.03 4.65,-0.94 q2.9,-3.74 -1.36,2.22" stroke="#8e8e8e" stroke-width="1.22"/><path d="M595.77,40.96 q3.21,-1.39 2.87,1.62 q-1.57,4.99 4.66,3.63 q-0.18,-4.76 3.67,1.36" stroke="#6a6a6a" stroke-width="2.29"/><path d="M570.53,28.16 q-2.96,3.4 6.86,5.12 q-4.05,-4.38 6.32,-0.46 q2.65,-1.73 -0.46,0.18" stroke="#b0b0b0" stroke-width="1.72"/><path d="M584.04,61.42 q-4.59,-3 -1.29,-1.69 q-1.3,4.22 1.47,-4.86 q2.92,-1.76 -5.81,4.1" stroke="#6a6a6a" stroke-width="2.25"/><path d="M595.75,28.63 q0.85,-1.59 3.67,-2.65 q-3.84,2.43 -4.76,5.21 q-3.67,-1.7 0.54,-1.56" stroke="#8e8e8e" stroke-width="1.72"/><path d="M585.98,67.97 q-4.29,-1.58 -0.44,-5.87 q-1.44,1.39 1.74,-3.21 q4.45,1.66 -2.27,1.92" stroke="#b0b0b0" stroke-width="1.88"/><path d="M566.38,52.59 q-0.02,-2.87 -5.33,-1.26 q0.75,-3.85 -5.49,-3.16 q-0.56,0.05 3.66,1.78" stroke="#a5a5a5" stroke-width="1.21"/><path d="M576.75,81.52 q0.5,0.08 6.54,0.82 q4.95,1.38 4.33,-5.09 q0.98,2.59 -6.37,5.16" stroke="#6a6a6a" stroke-width="1.39"/><path d="M619.62,77.82 q0.42,0.97 -0.99,-0.07 q-2.16,-1.01 -2.63,0.36 q-0.17,-2.3 6.01,1.96" stroke="#7a7a7a" stroke-width="2.1"/><path d="M562.64,32.63 q-4.57,-3.43 3.57,-1.32 q3.98,2.48 -6.3,5.87 q4.44,-4.26 5.68,-0.85" stroke="#8e8e8e" stroke-width="1.77"/><path d="M564.51,21.79 q3.1,4.09 -4.98,5.52 q-2.55,2.06 -6.29,-0.99 q-3.82,3.61 -2.01,-4.14" stroke="#8e8e8e" stroke-width="1.64"/><path d="M601.61,48.21 q-2.38,0.82 -1.13,3.34 q0.31,4.98 6.34,2.81 q-2.62,-3.86 5.5,3.41" stroke="#a5a5a5" stroke-width="1.95"/><path d="M578.18,59.63 q2.25,1.99 -4.34,-2.66 q-2.61,4.52 0.03,1.84 q-3.04,1.83 1.8,-5.89" stroke="#7a7a7a" stroke-width="1.51"/><path d="M598.95,22.08 q0.42,-4.28 -5.79,2.12 q0.51,1.31 -1.78,-0.26 q-2.89,-1.56 3.43,4.06" stroke="#7a7a7a" stroke-width="1.29"/><path d="M588.46,75.33 q3.38,2.69 -0.78,2.97 q-1.1,-3.49 -4.85,4.04 q0.97,-2.09 3.63,3.91" stroke="#a5a5a5" stroke-width="1.42"/><path d="M596.4,48.69 q-1.76,0.44 -0.95,0.82 q3.15,-0.36 4.53,-5.89 q-1.9,4.11 1.45,2.34" stroke="#a5a5a5" stroke-width="1.79"/><path d="M578.66,25.08 q-1.42,2.26 -1.87,-4.59 q2.09,0.69 5.86,5.28 q4.13,-0.62 4.24,-2.34" stroke="#6a6a6a" stroke-width="1.58"/><path d="M619.48,68.5 q0.16,-4.16 4.6,-5.71 q1.77,0.85 4.15,2.87 q-1.32,-1.1 -4.83,1.09" stroke="#7a7a7a" stroke-width="1.41"/><path d="M607.03,79.69 q-2.19,-4.78 0.22,0.53 q0.67,4.66 2.12,3.65 q-4.36,0.47 4.03,-4.99" stroke="#7a7a7a" stroke-width="1.3"/><path d="M615.38,20.77 q1.34,-3.56 3.44,1.79 q-2.55,-2.8 3.71,0.26 q2.65,-1.06 -2.27,5.62" stroke="#6a6a6a" stroke-width="2.01"/><path d="M590.89,74.05 q-4.28,1.18 -6.35,3.08 q4.86,-1.51 -6.95,-1.46 q-4.11,-0.35 0.58,-5.71" stroke="#7a7a7a" stroke-width="1.63"/><path d="M609.61,45.7 q-0.8,-3.54 3.38,5.89 q-1.24,-3.32 -4.14,-0.9 q-2.08,4.7 -6.17,-2.3" stroke="#8e8e8e" stroke-width="1.34"/><path d="M608.05,27.78 q-4.38,-0.41 1.18,4.91 q-4.64,-3.91 -4.42,-3.39 q-2.65,2.17 1.33,-3.31" stroke="#a5a5a5" stroke-width="1.42"/><path d="M585.79,81.89 q4.37,1.27 6.19,0.6 q3.53,-0.15 -1.36,5.47 q1.6,2.72 -5.71,4.35" stroke="#8e8e8e" stroke-width="1.68"/><path d="M618.27,73.8 q-1.15,0.28 0.22,-2.71 q4.9,1.58 -3.67,-5.87 q-0.27,-1.28 4.15,2.56" stroke="#8e8e8e" stroke-width="1.93"/><path d="M586.58,71.62 q-3.55,4.08 4.34,-4.43 q2.42,1.19 0.22,-5.36 q0.72,-3.22 -4.14,4.99" stroke="#8e8e8e" stroke-width="1.38"/><path d="M566.71,34.47 q2.17,-4.03 -0.28,-0.38 q4.55,0.87 5,-2.36 q2.89,-0.83 5.83,-4.91" stroke="#8e8e8e" stroke-width="2.19"/><path d="M564.02,45.07 q-0.06,4.47 6.5,-2.21 q-0.95,0.56 6.96,2.01 q-4.33,-4.26 -5.03,2.01" stroke="#7a7a7a" stroke-width="2.01"/><path d="M600.77,15.41 q-1.23,2.1 -3.68,0.77 q-0.42,-4.9 6.88,3.59 q-2.93,1.16 -2.93,-1.49" stroke="#a5a5a5" stroke-width="1.85"/><path d="M618.66,70.36 q0.56,-4.13 -4.36,-1.48 q-3.9,-1.9 -3.17,-0.36 q1.4,-0.53 -1.65,-4.78" stroke="#8e8e8e" stroke-width="1.95"/><path d="M602.19,66.91 q-3.2,-0.98 4.72,1.11 q-4.1,-2.73 -4.8,-4.51 q-0.93,-4.27 5.89,-0.88" stroke="#8e8e8e" stroke-width="1.81"/><path d="M607.5,75.26 q-1.14,-1.69 -1.23,-5.81 q-0.99,2 6.75,3.48 q1.6,1.09 -6.74,-2.03" stroke="#6a6a6a" stroke-width="1.61"/><path d="M568.13,42.44 q0.09,2.89 4.55,1.34 q-3.42,2.67 5.64,0.58 q-1.47,0 -5.02,2.56" stroke="#b0b0b0" stroke-width="2.38"/><path d="M621.3,66.8 q4.36,0.67 -6.63,1.91 q2.77,-3.64 -0.31,-0.99 q-1.66,-4.08 5.22,-2.81" stroke="#6a6a6a" stroke-width="2.26"/><path d="M619.83,24.53 q4.04,0.43 0.85,0.72 q-2.36,4.09 6.89,3.81 q1.02,-3.77 4.55,-2.54" stroke="#8e8e8e" stroke-width="2.28"/><path d="M607,41.37 q-3.34,0.98 4.36,-0.55 q-0.97,2.83 6.02,5.99 q-3.62,2.56 4.86,4.88" stroke="#7a7a7a" stroke-width="1.94"/><path d="M571.25,44.99 q-4.67,0.28 -5.34,-1.13 q-1.64,-3.69 -3.58,5.18 q-4.47,2.84 3.1,3.45" stroke="#6a6a6a" stroke-width="1.68"/><path d="M597.57,49.27 q-0.89,1.24 2.65,3.1 q2.52,-0.14 6.92,4.06 q3.55,-0.91 -0.92,0.79" stroke="#b0b0b0" stroke-width="2.29"/><path d="M581.49,53.03 q-0.8,-4.76 5.7,-2.45 q1.16,-0.67 -1.73,-2.14 q2.9,3.83 5.28,-3.07" stroke="#8e8e8e" stroke-width="2.21"/><path d="M591.76,43.86 q-4.48,1.95 0.37,-3.13 q-1.94,-1.04 -3.7,-5.18 q4.11,4.66 2.32,4.4" stroke="#8e8e8e" stroke-width="1.71"/><path d="M575.02,69.75 q0.67,4.03 -5.62,3.51 q-3.76,0.38 6.31,-5.99 q-2.56,-2.01 -2.45,-5.25" stroke="#b0b0b0" stroke-width="2.27"/><path d="M585.48,40.88 q0.86,-4.54 -6.56,4.78 q-1.92,-0.02 6.08,5.73 q-0.27,-2.93 -2.87,5.07" stroke="#8e8e8e" stroke-width="2.28"/><path d="M580.63,78.08 q3.99,-4.84 1.9,2.38 q0.6,0.33 -3.69,5.39 q4.76,1.5 -2.71,3.81" stroke="#a5a5a5" stroke-width="2.35"/><path d="M613.63,67.27 q-3.65,1.96 6.13,-0.66 q-4.21,-2.77 -2.7,2.53 q-3.04,-3.19 -3.7,1.98" stroke="#a5a5a5" stroke-width="2.15"/><path d="M609.7,53.31 q-3.84,0.16 6.68,4.75 q-3.19,-2.74 -5.14,2.01 q-0.37,-4.24 5.84,-5.11" stroke="#7a7a7a" stroke-width="2.29"/><path d="M597.54,35.56 q-2.49,3.03 -5.78,-2.58 q2.56,-2.54 -3.09,0.58 q-3.14,3.97 6.83,-5.6" stroke="#b0b0b0" stroke-width="1.75"/><path d="M584.73,83.27 q-0,-3.2 0.78,1.74 q-1.4,1.58 3.96,0.2 q0.06,3.45 2.58,0.25" stroke="#8e8e8e" stroke-width="2.34"/><path d="M597.19,71.57 q-3.88,-0.64 2.36,0.57 q-2.44,2.16 3.1,-2.88 q0.44,3.53 1.45,-2.86" stroke="#7a7a7a" stroke-width="1.44"/><path d="M595.93,79.09 q-3.2,-3.48 -6.75,-0.05 q-0.65,-0.58 -3.32,3.58 q-4.27,4.07 0.96,0.52" stroke="#8e8e8e" stroke-width="2.15"/><path d="M598.94,18.49 q-0.75,1.96 4.48,2.86 q2.81,2.65 -0.02,1.8 q0.11,-1.21 -3.53,-0.04" stroke="#b0b0b0" stroke-width="1.99"/><path d="M608.69,19.02 q-0.89,-1.36 -3.97,5.65 q-4.58,-0.1 3.66,5.83 q-3.55,-0.45 3.43,-5.53" stroke="#b0b0b0" stroke-width="1.49"/><path d="M570.24,43.58 q-2.02,-0.76 -5.93,-5.59 q4.96,2.63 3.28,-3.24 q-2.47,0.52 -3.62,-0.46" stroke="#a5a5a5" stroke-width="2.32"/><path d="M580.2,84.53 q4.23,-2.82 -4.75,1.02 q4.95,2.37 0.94,4.94 q3.84,4.24 -4.52,4.32" stroke="#8e8e8e" stroke-width="2.32"/><path d="M584.52,72.32 q-2.85,-1.53 -4.43,0.59 q-3.36,-2.96 -4,-0.39 q-1.91,-0.53 6.91,2.15" stroke="#8e8e8e" stroke-width="2.24"/><path d="M594,45.52 q-4.53,-2.24 6.28,1.45 q0.19,2.42 0.17,0.81 q1.49,-2.82 -5.55,-5.31" stroke="#a5a5a5" stroke-width="2.07"/><path d="M569.97,32.32 q3.39,-3.81 6.97,4.07 q-0.5,3.55 -1.66,-2.92 q3.79,1.69 -2.77,1.3" stroke="#8e8e8e" stroke-width="1.79"/><path d="M570.79,58.56 q-4.68,-1.88 -1.06,0.53 q-3.64,2.07 -3.35,2.71 q1.66,-3.53 -4.13,-2.64" stroke="#6a6a6a" stroke-width="2.06"/><path d="M569.95,52.75 q-1.44,-3.97 -1.81,1.34 q-3.6,3.48 3.46,-0.21 q-4.89,2.62 3.4,1.93" stroke="#8e8e8e" stroke-width="1.28"/><path d="M595.06,40.65 q-3.78,2.75 -1.76,3.4 q-2.4,3 -5.32,-0.08 q-0.1,4.31 -3.02,2.44" stroke="#6a6a6a" stroke-width="1.47"/><path d="M573.83,71.35 q-1.49,2.12 0.29,2.91 q4.08,3.04 -0.3,-2.92 q3.53,-1.91 5.8,4.83" stroke="#7a7a7a" stroke-width="1.34"/><path d="M616.18,34.63 q-1.23,3.47 -2.8,2.63 q3.86,-4.28 -6.51,-2.12 q-1.27,-2.03 4.41,4.64" stroke="#6a6a6a" stroke-width="1.97"/><path d="M598.47,85.14 q-1.37,0.76 6.19,3.26 q1.27,1.21 -1.25,-1.01 q-2.24,3.3 5.32,-1.42" stroke="#7a7a7a" stroke-width="2.29"/><path d="M609.71,65.07 q-2.27,-0.05 -0.38,-5.75 q1.05,-2.3 -3.39,-3.36 q0.21,4.26 6.72,-5.96" stroke="#b0b0b0" stroke-width="1.86"/><path d="M566.51,75.44 q3.84,1.91 4.15,-2.83 q-3.96,-4.81 4.28,-3.5 q-1.04,-3.44 -4.31,-4.07" stroke="#6a6a6a" stroke-width="1.6"/><path d="M609.78,36.23 q-0.85,-1.33 2.35,-0.02 q1.46,-1.38 2.89,5.01 q2.38,3.77 6.85,3.81" stroke="#a5a5a5" stroke-width="2.26"/><path d="M568.52,47.92 q2.72,-0.19 -4.72,4.4 q3.7,-4.47 -3.45,0.09 q2.96,-1.08 3.02,-2.98" stroke="#a5a5a5" stroke-width="2.06"/><path d="M572.74,77.85 q-2.95,0.64 -5.19,5.8 q1.41,-3.74 3.36,-2.77 q-3.39,-2.99 1.7,-2.5" stroke="#7a7a7a" stroke-width="1.98"/><path d="M589.92,65.84 q2.91,4.28 -3.25,-2.75 q-2.48,1.66 -1.59,2.15 q-3.61,-3.43 6.96,4.45" stroke="#a5a5a5" stroke-width="1.43"/><path d="M605.38,88.03 q-3.8,-1.7 -6.63,0.51 q-0.17,-1.27 -2.67,3.61 q3.39,-2.16 -1.52,1.41" stroke="#b0b0b0" stroke-width="2.12"/><path d="M585.01,65.86 q0.46,3 -4.94,-3.9 q-3.93,4.34 -3.48,-0.14 q-3.8,-1.76 -6.73,0.79" stroke="#6a6a6a" stroke-width="1.37"/><path d="M578.13,31.34 q-0.18,-1.34 -3.37,-5.39 q-4.36,3.93 -2.67,-5.06 q-3.18,-0.17 6.96,-3.57" stroke="#6a6a6a" stroke-width="2.24"/><path d="M563.71,40.5 q0.6,0.57 -3.99,1.4 q3.27,-2.48 -4.36,-2.51 q-2.5,3.05 1,5.29" stroke="#7a7a7a" stroke-width="1.26"/><path d="M618.1,54.39 q1.75,-2.29 -6.66,0.67 q-4.37,-0.34 5.41,-5.24 q-1.35,2.67 -3.29,-3.06" stroke="#6a6a6a" stroke-width="2.31"/><path d="M585.6,73.93 q3.28,2.68 6.8,-4.79 q4.5,-0.98 2.87,-2.99 q4.1,-4.77 1.08,-3.27" stroke="#a5a5a5" stroke-width="1.67"/><path d="M591.97,34.99 q4.92,1.27 -0.7,-2.25 q-4.33,1.53 1.32,-2.82 q-2.86,-3.2 -6.34,-4.43" stroke="#8e8e8e" stroke-width="1.57"/><path d="M572.37,22.33 q-3.57,-1.5 -0.97,-5.89 q0.03,-0.97 -2.5,0.45 q4.52,-2.95 5.33,-2.15" stroke="#7a7a7a" stroke-width="2.1"/><path d="M596.3,38.29 q-0.27,4.39 -0.01,3.36 q3.88,3.13 -6.02,-1.32 q4.21,3.81 3.89,0.3" stroke="#6a6a6a" stroke-width="1.21"/><path d="M616.1,18.59 q1.16,-1.55 -0.85,2.57 q-0.76,4.69 5.95,-4.54 q2.39,2.44 -0.89,-0.39" stroke="#b0b0b0" stroke-width="2.2"/><path d="M575.51,58.95 q0.73,0.15 -6.55,1.53 q-0.53,0.93 1.32,5.18 q-3.48,-0.31 6.9,2.86" stroke="#6a6a6a" stroke-width="1.58"/><path d="M620.77,44.26 q3.67,-3.73 6.86,-0.11 q-2.66,3.4 2.09,5.25 q3.29,2.98 0.16,5.92" stroke="#7a7a7a" stroke-width="1.28"/><path d="M604.21,33.05 q3.07,-0.46 0.51,4.39 q-3.04,-2.2 2.01,-5.12 q0.55,2.87 -0.13,-3.1" stroke="#7a7a7a" stroke-width="2.16"/><path d="M607.74,55.15 q4.06,2.97 -4.88,-1.61 q-4,-4.63 -2.16,4.38 q3.34,-3.83 -4.46,-1.34" stroke="#b0b0b0" stroke-width="2.22"/><path d="M589.55,50.7 q-4.12,1.49 0.45,-2.2 q4.57,4.7 0.84,5.93 q-1.22,3.17 2.8,4.14" stroke="#b0b0b0" stroke-width="2.34"/><path d="M574.23,30.01 q2.66,-3.28 1.13,-5.5 q-2.22,-2.41 -2.18,1.47 q-1.93,-4.92 -6.03,-3.53" stroke="#a5a5a5" stroke-width="2.06"/><path d="M607.68,29.31 q-4.29,-2.34 -1.76,1.35 q-2.21,-3.66 -5.27,-4.86 q0.14,-0.82 -0.1,-4.59" stroke="#a5a5a5" stroke-width="1.35"/><path d="M618.54,20.28 q1.48,-2.74 -0.32,-3.62 q-0.86,-2.8 1.96,-1.6 q-1.67,0.84 2.22,-2.79" stroke="#7a7a7a" stroke-width="1.99"/><path d="M601.85,32.61 q-0.88,-3.68 5.54,-2.98 q-0.79,-1.58 4.49,4.2 q0.91,0.46 -5.61,4.76" stroke="#a5a5a5" stroke-width="1.31"/><path d="M562.76,16.74 q0.9,1.97 6.86,3.79 q3.73,1.68 -4.82,-5.13 q-3.3,0.06 -0.29,1.82" stroke="#8e8e8e" stroke-width="1.27"/><path d="M620,87.95 q-1.05,3.29 2.1,2.41 q4.98,-4.33 -0.53,-1.18 q1.56,-2.82 6.86,-3.49" stroke="#8e8e8e" stroke-width="1.64"/><path d="M592.53,21.6 q2.95,-4.96 6.42,2.35 q2.86,4.06 2.29,5.64 q-0.26,3.84 -0.94,-4.13" stroke="#a5a5a5" stroke-width="1.65"/><path d="M618.09,80.79 q-4.76,-1.49 0.5,0.4 q-3.89,2.89 -2.78,0.09 q-3.75,0.68 -5.18,-4.94" stroke="#a5a5a5" stroke-width="1.81"/><path d="M582.82,32.7 q0.91,-0.34 6.86,1.07 q-3.3,-3.95 -5.07,4.78 q3.1,0.04 -4.98,0.77" stroke="#b0b0b0" stroke-width="1.41"/><path d="M598.29,78.42 q4.64,-0.87 -6.85,-4.16 q3.18,2.34 2.98,-4.12 q0.31,-4.71 -5.46,-2.39" stroke="#7a7a7a" stroke-width="2.36"/><path d="M585.03,36.66 q-2.85,0.37 2.2,-0.97 q3.96,-2.96 6.91,0.72 q-3.62,4.82 5.98,-4.83" stroke="#a5a5a5" stroke-width="1.95"/><path d="M605.86,33.61 q-1.32,-0.71 -0.32,-1.7 q-0.7,-0.49 -6.31,4.03 q-4.38,0.28 0.67,-1.2" stroke="#7a7a7a" stroke-width="1.47"/><path d="M604.3,16.9 q-1.4,4.51 0.28,0.32 q2.33,-1.27 1.31,-4.74 q1.88,-1.43 -3.55,5.56" stroke="#a5a5a5" stroke-width="2.03"/><path d="M574.3,70.94 q-4.44,-3.16 -5.35,3.1 q-1.55,3.56 -4.01,1.07 q3.08,4.44 2.06,-1.52" stroke="#b0b0b0" stroke-width="1.31"/><path d="M602.32,20.82 q4.84,3.32 -2.41,-2.19 q3.19,2.88 1.99,-5.32 q2.64,-4.52 1.75,0.63" stroke="#7a7a7a" stroke-width="2.31"/><path d="M598.57,65.03 q-2.88,0.47 4.53,-0.25 q-1.65,1.25 5.79,3.85 q-3.28,-4.17 2.59,-4.32" stroke="#6a6a6a" stroke-width="2.11"/></g><g fill="none" stroke="#fff" stroke-linecap="round"><path d="M588.76,55.92 q4.24,-0.34 0.11,1.05 q-3.15,0.12 1.82,3.52 q-4.06,-1.97 -5.73,3.72" stroke-width="1.13"/><path d="M597.29,43.82 q-0.47,2.39 2.1,1.48 q3.32,-4.37 -6.5,4.55 q1,2.78 -2.43,1.09" stroke-width="0.53"/><path d="M599.96,51.48 q1.62,-0.43 -3.11,5.97 q4.96,3.4 2.91,-2.22 q-2.7,-2.11 -6.02,3.2" stroke-width="0.78"/><path d="M584.84,85.4 q3.47,-4.99 -4.06,4.92 q-0.3,4.8 -1.44,-5.12 q1.29,2.79 -3.22,-4.95" stroke-width="0.7"/><path d="M606.98,23.23 q-2.54,-3.99 -6.16,3.56 q-3.22,0.59 -0.74,-3.71 q2.32,-3.69 2.01,-4.6" stroke-width="0.8"/><path d="M561.83,78.46 q4.75,0.93 6.97,-5.76 q-3.13,4.96 1.43,0.92 q-4.58,-3.54 -0.82,-5.89" stroke-width="1.03"/><path d="M584.82,20 q-2.91,1.37 -6.78,-1.58 q1.22,-3.73 1.22,3.99 q-3.64,-1.14 1.78,-2.27" stroke-width="0.57"/><path d="M576.67,28.55 q2.39,4.4 -4.25,5.4 q3.82,1.04 -1.1,-4.75 q-4.61,4.63 -3.66,2.45" stroke-width="0.61"/><path d="M591.06,52.99 q4.29,4.77 -5.23,-0.25 q1.54,1.16 -5.96,-3.45 q4.15,2.49 -6.03,-1.06" stroke-width="0.6"/><path d="M572.3,41.79 q0.72,-3.68 -1.93,4.69 q4.8,1.57 2.68,1.01 q-3.6,-4.65 -6.75,4.92" stroke-width="1.14"/><path d="M563.07,61.58 q-0.18,2.3 -2.54,5.99 q-4.25,0.46 3.32,4.8 q2.37,2.04 4.11,4.98" stroke-width="0.72"/><path d="M615.49,78.96 q-0.83,2.91 5.09,0.87 q1.25,-1.18 1.16,1.31 q-4.2,1.39 6.91,4.56" stroke-width="1.17"/><path d="M617.48,65.87 q-0.42,-0.37 0.58,0.22 q0.15,-1.9 -5.77,-5.73 q4.57,-3.87 3.92,1.92" stroke-width="0.88"/><path d="M583.73,25.1 q1.12,0.18 3.55,-1.89 q4.3,-0.02 -3.62,-1.14 q-2.49,1.34 4.25,3.06" stroke-width="0.54"/><path d="M584.71,57.65 q-1.84,-3.64 -0.05,4.05 q3.49,2.11 6.3,-2.68 q-3.31,-0.49 -3.15,-3.43" stroke-width="0.8"/><path d="M591.23,37.84 q3.39,4.82 -0.67,-5.1 q-4.69,3.73 -6.42,2.5 q0.71,-1.91 4.08,-5.77" stroke-width="0.46"/><path d="M573.12,71.42 q-2.34,2.79 4.16,5.81 q-3.85,-3.91 0.5,1.68 q-1.31,-4.22 -4.23,3.89" stroke-width="0.61"/><path d="M606.8,54.08 q-4.64,-2.74 3.9,0.48 q4.47,0 6.96,-4.09 q3.49,2 -3.87,-1.07" stroke-width="1.37"/><path d="M569.54,48.06 q1.26,4.1 -1.72,0.83 q3.79,2.97 6.22,-0.44 q1.51,-2.95 3.11,3.82" stroke-width="1.07"/><path d="M574.51,81.1 q4.8,4.77 0.52,3.49 q-1.8,4.1 4.98,-1.82 q-4.17,-0.59 0.7,3.22" stroke-width="0.88"/><path d="M574.81,78.7 q-0.71,-4.65 0.46,2.24 q4.16,-0.29 7,4.81 q0.18,1.78 -0.84,4.56" stroke-width="0.99"/><path d="M606.97,47.02 q0.59,3.31 0.86,-4.03 q0.14,4.07 -3.41,2.06 q4.55,3.7 1.53,-2.35" stroke-width="0.47"/><path d="M593.04,56.9 q-2.99,0.36 0.04,1.26 q-4.72,4.69 0.22,-1.19 q3.01,0.63 -0.13,2.29" stroke-width="0.38"/><path d="M589.15,82.64 q3,-0.96 -3.55,-0.08 q-1.6,4.01 6.1,5.04 q0.25,-3.91 -1.13,-5.65" stroke-width="0.61"/><path d="M563.92,26.01 q-4.88,-2.16 3.13,-3.07 q-0.01,-0 1.15,4.22 q1.24,2.18 2.82,4.54" stroke-width="0.33"/><path d="M610.98,60.07 q0.38,3.64 0.48,-3.38 q-2.84,0.43 1.21,-4.36 q4.15,1.28 -2.13,-3.83" stroke-width="1.02"/><path d="M574.8,88.38 q3.88,-3.66 -3.65,2.72 q-2.41,-4.03 4.65,-0.94 q2.9,-3.74 -1.36,2.22" stroke-width="0.32"/><path d="M595.77,40.96 q3.21,-1.39 2.87,1.62 q-1.57,4.99 4.66,3.63 q-0.18,-4.76 3.67,1.36" stroke-width="1.39"/><path d="M570.53,28.16 q-2.96,3.4 6.86,5.12 q-4.05,-4.38 6.32,-0.46 q2.65,-1.73 -0.46,0.18" stroke-width="0.82"/><path d="M584.04,61.42 q-4.59,-3 -1.29,-1.69 q-1.3,4.22 1.47,-4.86 q2.92,-1.76 -5.81,4.1" stroke-width="1.35"/><path d="M595.75,28.63 q0.85,-1.59 3.67,-2.65 q-3.84,2.43 -4.76,5.21 q-3.67,-1.7 0.54,-1.56" stroke-width="0.82"/><path d="M585.98,67.97 q-4.29,-1.58 -0.44,-5.87 q-1.44,1.39 1.74,-3.21 q4.45,1.66 -2.27,1.92" stroke-width="0.98"/><path d="M566.38,52.59 q-0.02,-2.87 -5.33,-1.26 q0.75,-3.85 -5.49,-3.16 q-0.56,0.05 3.66,1.78" stroke-width="0.31"/><path d="M576.75,81.52 q0.5,0.08 6.54,0.82 q4.95,1.38 4.33,-5.09 q0.98,2.59 -6.37,5.16" stroke-width="0.49"/><path d="M619.62,77.82 q0.42,0.97 -0.99,-0.07 q-2.16,-1.01 -2.63,0.36 q-0.17,-2.3 6.01,1.96" stroke-width="1.2"/><path d="M562.64,32.63 q-4.57,-3.43 3.57,-1.32 q3.98,2.48 -6.3,5.87 q4.44,-4.26 5.68,-0.85" stroke-width="0.87"/><path d="M564.51,21.79 q3.1,4.09 -4.98,5.52 q-2.55,2.06 -6.29,-0.99 q-3.82,3.61 -2.01,-4.14" stroke-width="0.74"/><path d="M601.61,48.21 q-2.38,0.82 -1.13,3.34 q0.31,4.98 6.34,2.81 q-2.62,-3.86 5.5,3.41" stroke-width="1.05"/><path d="M578.18,59.63 q2.25,1.99 -4.34,-2.66 q-2.61,4.52 0.03,1.84 q-3.04,1.83 1.8,-5.89" stroke-width="0.61"/><path d="M598.95,22.08 q0.42,-4.28 -5.79,2.12 q0.51,1.31 -1.78,-0.26 q-2.89,-1.56 3.43,4.06" stroke-width="0.39"/><path d="M588.46,75.33 q3.38,2.69 -0.78,2.97 q-1.1,-3.49 -4.85,4.04 q0.97,-2.09 3.63,3.91" stroke-width="0.52"/><path d="M596.4,48.69 q-1.76,0.44 -0.95,0.82 q3.15,-0.36 4.53,-5.89 q-1.9,4.11 1.45,2.34" stroke-width="0.89"/><path d="M578.66,25.08 q-1.42,2.26 -1.87,-4.59 q2.09,0.69 5.86,5.28 q4.13,-0.62 4.24,-2.34" stroke-width="0.68"/><path d="M619.48,68.5 q0.16,-4.16 4.6,-5.71 q1.77,0.85 4.15,2.87 q-1.32,-1.1 -4.83,1.09" stroke-width="0.51"/><path d="M607.03,79.69 q-2.19,-4.78 0.22,0.53 q0.67,4.66 2.12,3.65 q-4.36,0.47 4.03,-4.99" stroke-width="0.4"/><path d="M615.38,20.77 q1.34,-3.56 3.44,1.79 q-2.55,-2.8 3.71,0.26 q2.65,-1.06 -2.27,5.62" stroke-width="1.11"/><path d="M590.89,74.05 q-4.28,1.18 -6.35,3.08 q4.86,-1.51 -6.95,-1.46 q-4.11,-0.35 0.58,-5.71" stroke-width="0.73"/><path d="M609.61,45.7 q-0.8,-3.54 3.38,5.89 q-1.24,-3.32 -4.14,-0.9 q-2.08,4.7 -6.17,-2.3" stroke-width="0.44"/><path d="M608.05,27.78 q-4.38,-0.41 1.18,4.91 q-4.64,-3.91 -4.42,-3.39 q-2.65,2.17 1.33,-3.31" stroke-width="0.52"/><path d="M585.79,81.89 q4.37,1.27 6.19,0.6 q3.53,-0.15 -1.36,5.47 q1.6,2.72 -5.71,4.35" stroke-width="0.78"/><path d="M618.27,73.8 q-1.15,0.28 0.22,-2.71 q4.9,1.58 -3.67,-5.87 q-0.27,-1.28 4.15,2.56" stroke-width="1.03"/><path d="M586.58,71.62 q-3.55,4.08 4.34,-4.43 q2.42,1.19 0.22,-5.36 q0.72,-3.22 -4.14,4.99" stroke-width="0.48"/><path d="M566.71,34.47 q2.17,-4.03 -0.28,-0.38 q4.55,0.87 5,-2.36 q2.89,-0.83 5.83,-4.91" stroke-width="1.29"/><path d="M564.02,45.07 q-0.06,4.47 6.5,-2.21 q-0.95,0.56 6.96,2.01 q-4.33,-4.26 -5.03,2.01" stroke-width="1.11"/><path d="M600.77,15.41 q-1.23,2.1 -3.68,0.77 q-0.42,-4.9 6.88,3.59 q-2.93,1.16 -2.93,-1.49" stroke-width="0.95"/><path d="M618.66,70.36 q0.56,-4.13 -4.36,-1.48 q-3.9,-1.9 -3.17,-0.36 q1.4,-0.53 -1.65,-4.78" stroke-width="1.05"/><path d="M602.19,66.91 q-3.2,-0.98 4.72,1.11 q-4.1,-2.73 -4.8,-4.51 q-0.93,-4.27 5.89,-0.88" stroke-width="0.91"/><path d="M607.5,75.26 q-1.14,-1.69 -1.23,-5.81 q-0.99,2 6.75,3.48 q1.6,1.09 -6.74,-2.03" stroke-width="0.71"/><path d="M568.13,42.44 q0.09,2.89 4.55,1.34 q-3.42,2.67 5.64,0.58 q-1.47,0 -5.02,2.56" stroke-width="1.48"/><path d="M621.3,66.8 q4.36,0.67 -6.63,1.91 q2.77,-3.64 -0.31,-0.99 q-1.66,-4.08 5.22,-2.81" stroke-width="1.36"/><path d="M619.83,24.53 q4.04,0.43 0.85,0.72 q-2.36,4.09 6.89,3.81 q1.02,-3.77 4.55,-2.54" stroke-width="1.38"/><path d="M607,41.37 q-3.34,0.98 4.36,-0.55 q-0.97,2.83 6.02,5.99 q-3.62,2.56 4.86,4.88" stroke-width="1.04"/><path d="M571.25,44.99 q-4.67,0.28 -5.34,-1.13 q-1.64,-3.69 -3.58,5.18 q-4.47,2.84 3.1,3.45" stroke-width="0.78"/><path d="M597.57,49.27 q-0.89,1.24 2.65,3.1 q2.52,-0.14 6.92,4.06 q3.55,-0.91 -0.92,0.79" stroke-width="1.39"/><path d="M581.49,53.03 q-0.8,-4.76 5.7,-2.45 q1.16,-0.67 -1.73,-2.14 q2.9,3.83 5.28,-3.07" stroke-width="1.31"/><path d="M591.76,43.86 q-4.48,1.95 0.37,-3.13 q-1.94,-1.04 -3.7,-5.18 q4.11,4.66 2.32,4.4" stroke-width="0.81"/><path d="M575.02,69.75 q0.67,4.03 -5.62,3.51 q-3.76,0.38 6.31,-5.99 q-2.56,-2.01 -2.45,-5.25" stroke-width="1.37"/><path d="M585.48,40.88 q0.86,-4.54 -6.56,4.78 q-1.92,-0.02 6.08,5.73 q-0.27,-2.93 -2.87,5.07" stroke-width="1.38"/><path d="M580.63,78.08 q3.99,-4.84 1.9,2.38 q0.6,0.33 -3.69,5.39 q4.76,1.5 -2.71,3.81" stroke-width="1.45"/><path d="M613.63,67.27 q-3.65,1.96 6.13,-0.66 q-4.21,-2.77 -2.7,2.53 q-3.04,-3.19 -3.7,1.98" stroke-width="1.25"/><path d="M609.7,53.31 q-3.84,0.16 6.68,4.75 q-3.19,-2.74 -5.14,2.01 q-0.37,-4.24 5.84,-5.11" stroke-width="1.39"/><path d="M597.54,35.56 q-2.49,3.03 -5.78,-2.58 q2.56,-2.54 -3.09,0.58 q-3.14,3.97 6.83,-5.6" stroke-width="0.85"/><path d="M584.73,83.27 q-0,-3.2 0.78,1.74 q-1.4,1.58 3.96,0.2 q0.06,3.45 2.58,0.25" stroke-width="1.44"/><path d="M597.19,71.57 q-3.88,-0.64 2.36,0.57 q-2.44,2.16 3.1,-2.88 q0.44,3.53 1.45,-2.86" stroke-width="0.54"/><path d="M595.93,79.09 q-3.2,-3.48 -6.75,-0.05 q-0.65,-0.58 -3.32,3.58 q-4.27,4.07 0.96,0.52" stroke-width="1.25"/><path d="M598.94,18.49 q-0.75,1.96 4.48,2.86 q2.81,2.65 -0.02,1.8 q0.11,-1.21 -3.53,-0.04" stroke-width="1.09"/><path d="M608.69,19.02 q-0.89,-1.36 -3.97,5.65 q-4.58,-0.1 3.66,5.83 q-3.55,-0.45 3.43,-5.53" stroke-width="0.59"/><path d="M570.24,43.58 q-2.02,-0.76 -5.93,-5.59 q4.96,2.63 3.28,-3.24 q-2.47,0.52 -3.62,-0.46" stroke-width="1.42"/><path d="M580.2,84.53 q4.23,-2.82 -4.75,1.02 q4.95,2.37 0.94,4.94 q3.84,4.24 -4.52,4.32" stroke-width="1.42"/><path d="M584.52,72.32 q-2.85,-1.53 -4.43,0.59 q-3.36,-2.96 -4,-0.39 q-1.91,-0.53 6.91,2.15" stroke-width="1.34"/><path d="M594,45.52 q-4.53,-2.24 6.28,1.45 q0.19,2.42 0.17,0.81 q1.49,-2.82 -5.55,-5.31" stroke-width="1.17"/><path d="M569.97,32.32 q3.39,-3.81 6.97,4.07 q-0.5,3.55 -1.66,-2.92 q3.79,1.69 -2.77,1.3" stroke-width="0.89"/><path d="M570.79,58.56 q-4.68,-1.88 -1.06,0.53 q-3.64,2.07 -3.35,2.71 q1.66,-3.53 -4.13,-2.64" stroke-width="1.16"/><path d="M569.95,52.75 q-1.44,-3.97 -1.81,1.34 q-3.6,3.48 3.46,-0.21 q-4.89,2.62 3.4,1.93" stroke-width="0.38"/><path d="M595.06,40.65 q-3.78,2.75 -1.76,3.4 q-2.4,3 -5.32,-0.08 q-0.1,4.31 -3.02,2.44" stroke-width="0.57"/><path d="M573.83,71.35 q-1.49,2.12 0.29,2.91 q4.08,3.04 -0.3,-2.92 q3.53,-1.91 5.8,4.83" stroke-width="0.44"/><path d="M616.18,34.63 q-1.23,3.47 -2.8,2.63 q3.86,-4.28 -6.51,-2.12 q-1.27,-2.03 4.41,4.64" stroke-width="1.07"/><path d="M598.47,85.14 q-1.37,0.76 6.19,3.26 q1.27,1.21 -1.25,-1.01 q-2.24,3.3 5.32,-1.42" stroke-width="1.39"/><path d="M609.71,65.07 q-2.27,-0.05 -0.38,-5.75 q1.05,-2.3 -3.39,-3.36 q0.21,4.26 6.72,-5.96" stroke-width="0.96"/><path d="M566.51,75.44 q3.84,1.91 4.15,-2.83 q-3.96,-4.81 4.28,-3.5 q-1.04,-3.44 -4.31,-4.07" stroke-width="0.7"/><path d="M609.78,36.23 q-0.85,-1.33 2.35,-0.02 q1.46,-1.38 2.89,5.01 q2.38,3.77 6.85,3.81" stroke-width="1.36"/><path d="M568.52,47.92 q2.72,-0.19 -4.72,4.4 q3.7,-4.47 -3.45,0.09 q2.96,-1.08 3.02,-2.98" stroke-width="1.16"/><path d="M572.74,77.85 q-2.95,0.64 -5.19,5.8 q1.41,-3.74 3.36,-2.77 q-3.39,-2.99 1.7,-2.5" stroke-width="1.08"/><path d="M589.92,65.84 q2.91,4.28 -3.25,-2.75 q-2.48,1.66 -1.59,2.15 q-3.61,-3.43 6.96,4.45" stroke-width="0.53"/><path d="M605.38,88.03 q-3.8,-1.7 -6.63,0.51 q-0.17,-1.27 -2.67,3.61 q3.39,-2.16 -1.52,1.41" stroke-width="1.22"/><path d="M585.01,65.86 q0.46,3 -4.94,-3.9 q-3.93,4.34 -3.48,-0.14 q-3.8,-1.76 -6.73,0.79" stroke-width="0.47"/><path d="M578.13,31.34 q-0.18,-1.34 -3.37,-5.39 q-4.36,3.93 -2.67,-5.06 q-3.18,-0.17 6.96,-3.57" stroke-width="1.34"/><path d="M563.71,40.5 q0.6,0.57 -3.99,1.4 q3.27,-2.48 -4.36,-2.51 q-2.5,3.05 1,5.29" stroke-width="0.36"/><path d="M618.1,54.39 q1.75,-2.29 -6.66,0.67 q-4.37,-0.34 5.41,-5.24 q-1.35,2.67 -3.29,-3.06" stroke-width="1.41"/><path d="M585.6,73.93 q3.28,2.68 6.8,-4.79 q4.5,-0.98 2.87,-2.99 q4.1,-4.77 1.08,-3.27" stroke-width="0.77"/><path d="M591.97,34.99 q4.92,1.27 -0.7,-2.25 q-4.33,1.53 1.32,-2.82 q-2.86,-3.2 -6.34,-4.43" stroke-width="0.67"/><path d="M572.37,22.33 q-3.57,-1.5 -0.97,-5.89 q0.03,-0.97 -2.5,0.45 q4.52,-2.95 5.33,-2.15" stroke-width="1.2"/><path d="M596.3,38.29 q-0.27,4.39 -0.01,3.36 q3.88,3.13 -6.02,-1.32 q4.21,3.81 3.89,0.3" stroke-width="0.31"/><path d="M616.1,18.59 q1.16,-1.55 -0.85,2.57 q-0.76,4.69 5.95,-4.54 q2.39,2.44 -0.89,-0.39" stroke-width="1.3"/><path d="M575.51,58.95 q0.73,0.15 -6.55,1.53 q-0.53,0.93 1.32,5.18 q-3.48,-0.31 6.9,2.86" stroke-width="0.68"/><path d="M620.77,44.26 q3.67,-3.73 6.86,-0.11 q-2.66,3.4 2.09,5.25 q3.29,2.98 0.16,5.92" stroke-width="0.38"/><path d="M604.21,33.05 q3.07,-0.46 0.51,4.39 q-3.04,-2.2 2.01,-5.12 q0.55,2.87 -0.13,-3.1" stroke-width="1.26"/><path d="M607.74,55.15 q4.06,2.97 -4.88,-1.61 q-4,-4.63 -2.16,4.38 q3.34,-3.83 -4.46,-1.34" stroke-width="1.32"/><path d="M589.55,50.7 q-4.12,1.49 0.45,-2.2 q4.57,4.7 0.84,5.93 q-1.22,3.17 2.8,4.14" stroke-width="1.44"/><path d="M574.23,30.01 q2.66,-3.28 1.13,-5.5 q-2.22,-2.41 -2.18,1.47 q-1.93,-4.92 -6.03,-3.53" stroke-width="1.16"/><path d="M607.68,29.31 q-4.29,-2.34 -1.76,1.35 q-2.21,-3.66 -5.27,-4.86 q0.14,-0.82 -0.1,-4.59" stroke-width="0.45"/><path d="M618.54,20.28 q1.48,-2.74 -0.32,-3.62 q-0.86,-2.8 1.96,-1.6 q-1.67,0.84 2.22,-2.79" stroke-width="1.09"/><path d="M601.85,32.61 q-0.88,-3.68 5.54,-2.98 q-0.79,-1.58 4.49,4.2 q0.91,0.46 -5.61,4.76" stroke-width="0.41"/><path d="M562.76,16.74 q0.9,1.97 6.86,3.79 q3.73,1.68 -4.82,-5.13 q-3.3,0.06 -0.29,1.82" stroke-width="0.37"/><path d="M620,87.95 q-1.05,3.29 2.1,2.41 q4.98,-4.33 -0.53,-1.18 q1.56,-2.82 6.86,-3.49" stroke-width="0.74"/><path d="M592.53,21.6 q2.95,-4.96 6.42,2.35 q2.86,4.06 2.29,5.64 q-0.26,3.84 -0.94,-4.13" stroke-width="0.75"/><path d="M618.09,80.79 q-4.76,-1.49 0.5,0.4 q-3.89,2.89 -2.78,0.09 q-3.75,0.68 -5.18,-4.94" stroke-width="0.91"/><path d="M582.82,32.7 q0.91,-0.34 6.86,1.07 q-3.3,-3.95 -5.07,4.78 q3.1,0.04 -4.98,0.77" stroke-width="0.51"/><path d="M598.29,78.42 q4.64,-0.87 -6.85,-4.16 q3.18,2.34 2.98,-4.12 q0.31,-4.71 -5.46,-2.39" stroke-width="1.46"/><path d="M585.03,36.66 q-2.85,0.37 2.2,-0.97 q3.96,-2.96 6.91,0.72 q-3.62,4.82 5.98,-4.83" stroke-width="1.05"/><path d="M605.86,33.61 q-1.32,-0.71 -0.32,-1.7 q-0.7,-0.49 -6.31,4.03 q-4.38,0.28 0.67,-1.2" stroke-width="0.57"/><path d="M604.3,16.9 q-1.4,4.51 0.28,0.32 q2.33,-1.27 1.31,-4.74 q1.88,-1.43 -3.55,5.56" stroke-width="1.13"/><path d="M574.3,70.94 q-4.44,-3.16 -5.35,3.1 q-1.55,3.56 -4.01,1.07 q3.08,4.44 2.06,-1.52" stroke-width="0.41"/><path d="M602.32,20.82 q4.84,3.32 -2.41,-2.19 q3.19,2.88 1.99,-5.32 q2.64,-4.52 1.75,0.63" stroke-width="1.41"/><path d="M598.57,65.03 q-2.88,0.47 4.53,-0.25 q-1.65,1.25 5.79,3.85 q-3.28,-4.17 2.59,-4.32" stroke-width="1.21"/></g>
<g fill="#f4e5b8" stroke="#ecdba6" stroke-width="0.3"><circle cx="595.21" cy="28.84" r="2.73"/><circle cx="594.79" cy="33.29" r="2.82"/><circle cx="590.79" cy="33.02" r="2.47"/><circle cx="595.42" cy="27.57" r="2.43"/><circle cx="595.28" cy="23.94" r="2.69"/><circle cx="589.07" cy="26.24" r="1.64"/><circle cx="599.74" cy="23.98" r="1.83"/><circle cx="593.72" cy="32.64" r="2.78"/><circle cx="591.7" cy="30.09" r="2.15"/><circle cx="594.99" cy="31.01" r="2.18"/><circle cx="596" cy="27.79" r="2.67"/><circle cx="599.95" cy="24.85" r="1.46"/><circle cx="601.02" cy="28.55" r="1.98"/><circle cx="601.24" cy="28.7" r="2.09"/><circle cx="599.13" cy="25.82" r="2.55"/><circle cx="594.3" cy="28.48" r="2.01"/><circle cx="594.07" cy="25.68" r="2.35"/><circle cx="597.66" cy="24.51" r="1.5"/><circle cx="604.97" cy="28.98" r="1.81"/><circle cx="597.29" cy="21.68" r="2.75"/><circle cx="595.61" cy="21.04" r="2.04"/><circle cx="601.66" cy="23.29" r="1.61"/><circle cx="597.99" cy="25.86" r="2.42"/><circle cx="602.22" cy="20" r="2.87"/><circle cx="600.9" cy="19.88" r="2.15"/><circle cx="603.01" cy="23.09" r="2.84"/><circle cx="601.88" cy="21.13" r="1.8"/><circle cx="599.9" cy="29.62" r="2.68"/><circle cx="607.31" cy="22.2" r="1.67"/><circle cx="601.17" cy="20.38" r="2.87"/><circle cx="603.74" cy="22.54" r="1.6"/><circle cx="609.19" cy="28.61" r="2.32"/><circle cx="610.14" cy="31" r="1.6"/><circle cx="604.9" cy="21.57" r="2.72"/><circle cx="609.04" cy="23.22" r="2.25"/><circle cx="604.61" cy="20.98" r="1.48"/><circle cx="611.41" cy="31.68" r="1.66"/><circle cx="606.99" cy="30.51" r="2.22"/><circle cx="604.31" cy="22" r="2.59"/><circle cx="605.12" cy="30.22" r="2.45"/><circle cx="610.67" cy="29.16" r="1.88"/><circle cx="609.15" cy="31.15" r="2.38"/><circle cx="610.97" cy="27.84" r="2.43"/><circle cx="609.03" cy="24.95" r="2.36"/><circle cx="608.56" cy="31.36" r="2.72"/><circle cx="606.65" cy="29.53" r="2.27"/><circle cx="617.29" cy="32.13" r="1.88"/><circle cx="606.63" cy="34.7" r="2.82"/><circle cx="609.37" cy="28.19" r="1.95"/><circle cx="609.15" cy="35.46" r="2.4"/><circle cx="609.57" cy="29.32" r="1.65"/><circle cx="619.14" cy="36.33" r="2.84"/><circle cx="619.78" cy="31.44" r="2.07"/><circle cx="617.32" cy="26.25" r="2.44"/><circle cx="616.95" cy="36.6" r="2.71"/><circle cx="610.66" cy="27.65" r="1.72"/><circle cx="617.6" cy="26.81" r="2.79"/><circle cx="619.9" cy="28.01" r="2.74"/><circle cx="612.03" cy="30.05" r="1.83"/><circle cx="610.61" cy="34.39" r="2.7"/><circle cx="610.5" cy="33.51" r="2.58"/><circle cx="615.79" cy="38.41" r="2.88"/><circle cx="615.18" cy="40.12" r="1.9"/><circle cx="610.19" cy="39.05" r="1.67"/><circle cx="618.96" cy="31.61" r="1.87"/><circle cx="611.45" cy="42.63" r="2.04"/><circle cx="609.47" cy="33.5" r="2.31"/><circle cx="617.68" cy="40.94" r="2.41"/><circle cx="608.36" cy="36.67" r="2.82"/><circle cx="609.79" cy="37.45" r="1.77"/><circle cx="611.25" cy="35.81" r="2"/><circle cx="617.66" cy="36.56" r="1.51"/><circle cx="611.16" cy="42.81" r="2.19"/><circle cx="610.78" cy="42.44" r="2.78"/><circle cx="611.37" cy="37.51" r="1.74"/><circle cx="611.66" cy="38.23" r="2.76"/><circle cx="608.3" cy="44.2" r="2.32"/><circle cx="613.07" cy="43.43" r="2.27"/><circle cx="606.03" cy="40.75" r="1.53"/><circle cx="611.72" cy="46.37" r="1.73"/><circle cx="605.71" cy="40.87" r="1.57"/><circle cx="613.22" cy="44.34" r="2.08"/><circle cx="605.24" cy="45.39" r="1.64"/><circle cx="612.44" cy="39.94" r="1.55"/><circle cx="614.12" cy="51.5" r="2.04"/><circle cx="611.85" cy="42.69" r="2.87"/><circle cx="605.98" cy="51.18" r="2.25"/><circle cx="614.53" cy="41.52" r="2.84"/><circle cx="613.84" cy="41.72" r="1.49"/><circle cx="614.05" cy="46.6" r="1.67"/><circle cx="603.11" cy="43.82" r="2.15"/><circle cx="604.71" cy="46.12" r="1.64"/><circle cx="603.34" cy="52.34" r="1.9"/><circle cx="601.91" cy="45.95" r="2.45"/><circle cx="603.94" cy="53.69" r="2.72"/><circle cx="608.82" cy="48.31" r="2.49"/><circle cx="611.59" cy="46.06" r="2.69"/><circle cx="612" cy="53.41" r="2.41"/><circle cx="601.38" cy="48.96" r="2.28"/><circle cx="602.89" cy="51.76" r="2.62"/><circle cx="604.72" cy="55.62" r="1.82"/><circle cx="600.32" cy="54.3" r="1.46"/><circle cx="610.09" cy="58.63" r="2.79"/><circle cx="606.96" cy="49.64" r="2.83"/><circle cx="606.31" cy="49.14" r="2.14"/><circle cx="609.18" cy="55.53" r="1.94"/><circle cx="610.23" cy="54.69" r="1.5"/><circle cx="599.84" cy="54.94" r="2.42"/><circle cx="603.15" cy="56.8" r="2.22"/><circle cx="601.08" cy="50.81" r="2.02"/><circle cx="607.38" cy="62.27" r="1.47"/><circle cx="602.4" cy="62.75" r="2.32"/><circle cx="597.88" cy="51.99" r="1.93"/><circle cx="598.93" cy="63.83" r="1.92"/><circle cx="606.92" cy="59.39" r="2.43"/><circle cx="599.56" cy="62.03" r="1.68"/><circle cx="598.09" cy="60.55" r="2.32"/><circle cx="601.33" cy="61.11" r="1.81"/><circle cx="607.37" cy="60.45" r="2.42"/><circle cx="603.25" cy="65.72" r="2.39"/><circle cx="601.22" cy="62.24" r="2.76"/><circle cx="604.46" cy="67.11" r="1.89"/><circle cx="601.62" cy="61.14" r="2.45"/><circle cx="598.72" cy="64.37" r="2.35"/><circle cx="594.36" cy="62.85" r="1.6"/><circle cx="602.94" cy="67.11" r="2.38"/><circle cx="601.91" cy="65.85" r="2.02"/><circle cx="599.33" cy="68.46" r="2.26"/><circle cx="593.72" cy="62.53" r="2.36"/><circle cx="593.46" cy="60.82" r="1.48"/><circle cx="598.86" cy="60.1" r="1.84"/><circle cx="592.69" cy="66.9" r="2.01"/><circle cx="592.26" cy="62.64" r="2.35"/><circle cx="592.67" cy="64.94" r="1.52"/><circle cx="591.99" cy="71.41" r="1.66"/><circle cx="594.59" cy="69.49" r="2.16"/><circle cx="601.6" cy="69.66" r="2.43"/><circle cx="595.51" cy="65.89" r="2.4"/><circle cx="591.38" cy="65.66" r="2.49"/><circle cx="592.8" cy="66.67" r="2.71"/><circle cx="590.61" cy="69.21" r="2.47"/><circle cx="589.41" cy="73.6" r="2.82"/><circle cx="596.46" cy="69.95" r="2.37"/><circle cx="596.34" cy="69.5" r="2.79"/><circle cx="598.31" cy="76.82" r="1.67"/><circle cx="590.72" cy="68.96" r="2"/><circle cx="590.19" cy="73.06" r="2.56"/><circle cx="589.81" cy="74.46" r="2.37"/><circle cx="595.2" cy="74.22" r="2.07"/><circle cx="590.64" cy="71.16" r="2.52"/><circle cx="585.32" cy="69.83" r="2.15"/><circle cx="595.92" cy="69.58" r="2.46"/><circle cx="584.84" cy="77.72" r="2.16"/><circle cx="595.66" cy="70.12" r="2.33"/><circle cx="584.86" cy="69.42" r="2.06"/><circle cx="588.59" cy="76.1" r="1.48"/><circle cx="585.73" cy="77.3" r="1.59"/><circle cx="586" cy="68.92" r="1.48"/><circle cx="587.99" cy="75.47" r="1.88"/><circle cx="586.71" cy="69.41" r="1.6"/><circle cx="583.29" cy="80.86" r="1.53"/><circle cx="581.38" cy="77.65" r="1.51"/><circle cx="588.83" cy="75.74" r="1.86"/><circle cx="590.49" cy="74.02" r="2.07"/><circle cx="583.61" cy="73.96" r="2.82"/><circle cx="581.92" cy="80.43" r="2.67"/><circle cx="584.29" cy="72.93" r="2.76"/><circle cx="586.92" cy="81.58" r="1.55"/><circle cx="582.14" cy="76.52" r="2.04"/><circle cx="584.07" cy="80.74" r="2.77"/><circle cx="582.06" cy="82.64" r="2.28"/><circle cx="580.64" cy="71.65" r="1.57"/><circle cx="577.3" cy="83.5" r="2.33"/><circle cx="576.84" cy="83.45" r="2.57"/><circle cx="581.18" cy="83.2" r="1.83"/><circle cx="583.25" cy="72.64" r="1.52"/><circle cx="573.93" cy="84.01" r="2.81"/><circle cx="575.05" cy="75.49" r="2.74"/><circle cx="578.84" cy="72.65" r="2.11"/><circle cx="579.14" cy="83.2" r="2.87"/><circle cx="577.26" cy="82.36" r="1.79"/><circle cx="580.58" cy="75.98" r="2.68"/><circle cx="575.23" cy="74.3" r="2.25"/><circle cx="572.78" cy="80.26" r="2.02"/><circle cx="573.96" cy="82.5" r="2.49"/><circle cx="576.31" cy="76.24" r="1.79"/><circle cx="577.3" cy="85.74" r="2.7"/><circle cx="579.03" cy="81.72" r="1.92"/><circle cx="567.7" cy="84.24" r="2.48"/><circle cx="573.88" cy="83.25" r="2.69"/><circle cx="568.78" cy="74.95" r="1.57"/><circle cx="569.21" cy="77.18" r="2.39"/><circle cx="567.98" cy="80.08" r="1.74"/><circle cx="565.32" cy="85.49" r="2.34"/><circle cx="565.63" cy="84" r="2.34"/><circle cx="570.68" cy="83.25" r="2.42"/><circle cx="569.65" cy="85.11" r="2.78"/><circle cx="573.76" cy="76.63" r="1.77"/><circle cx="565.4" cy="83.22" r="2.3"/><circle cx="574.15" cy="81.66" r="1.75"/><circle cx="565.3" cy="83.65" r="1.56"/><circle cx="568.29" cy="85.4" r="2.25"/><circle cx="565.47" cy="86.99" r="1.94"/><circle cx="565.43" cy="78.23" r="1.99"/><circle cx="570.2" cy="80.98" r="2.82"/><circle cx="568.33" cy="82.82" r="2.16"/><circle cx="559.51" cy="80.44" r="2.38"/><circle cx="559.22" cy="89.82" r="2.47"/><circle cx="562.03" cy="82.7" r="2.13"/><circle cx="560.56" cy="86.73" r="2.03"/><circle cx="558.9" cy="79.1" r="2.52"/><circle cx="563.56" cy="88.75" r="2.17"/><circle cx="556.33" cy="88.35" r="1.93"/><circle cx="595.68" cy="35.94" r="2.08"/><circle cx="594.5" cy="37.88" r="1.61"/><circle cx="595.78" cy="42.57" r="1.81"/><circle cx="588.77" cy="34.74" r="1.58"/><circle cx="593.16" cy="38.7" r="1.1"/><circle cx="591.02" cy="39.07" r="1.14"/><circle cx="588.75" cy="40.52" r="1.26"/><circle cx="592.2" cy="37.99" r="1.84"/><circle cx="590.51" cy="41.68" r="1.63"/><circle cx="594.3" cy="40.49" r="1.52"/><circle cx="596.8" cy="42.99" r="1.98"/><circle cx="595.47" cy="39.64" r="1.11"/><circle cx="598.43" cy="43.95" r="1.11"/><circle cx="592.21" cy="38.84" r="1.14"/><circle cx="595.99" cy="45.08" r="1.39"/><circle cx="593.99" cy="45.14" r="1.47"/><circle cx="594.17" cy="47.26" r="2.06"/><circle cx="599.15" cy="46.7" r="1.11"/><circle cx="600.05" cy="47.92" r="1.38"/><circle cx="596.6" cy="44.49" r="1.67"/><circle cx="597.74" cy="44.57" r="1.78"/><circle cx="600.87" cy="49.22" r="2.04"/><circle cx="594.42" cy="44.21" r="1.72"/><circle cx="608.37" cy="77.22" r="2.02"/><circle cx="604.43" cy="80.62" r="1.66"/><circle cx="610.17" cy="77.85" r="1.33"/><circle cx="606.81" cy="80.13" r="2.33"/><circle cx="609.89" cy="81.44" r="2.12"/><circle cx="612.37" cy="73.93" r="1.67"/><circle cx="609.15" cy="81.96" r="1.88"/><circle cx="608.95" cy="78.31" r="2.26"/><circle cx="608.16" cy="84.08" r="2.03"/><circle cx="610.02" cy="75.28" r="1.45"/><circle cx="611.76" cy="75.67" r="2.24"/><circle cx="607.39" cy="75.61" r="1.57"/><circle cx="605.53" cy="85.38" r="1.64"/><circle cx="606.08" cy="79.79" r="1.78"/><circle cx="608.16" cy="78.07" r="1.46"/><circle cx="607.79" cy="83.65" r="1.5"/><circle cx="612.93" cy="86.06" r="2.36"/><circle cx="616.03" cy="81.77" r="2.16"/><circle cx="610.63" cy="85.97" r="1.72"/><circle cx="611.28" cy="82.34" r="1.98"/><circle cx="619.4" cy="86.4" r="2.32"/><circle cx="612.34" cy="81.36" r="1.75"/><circle cx="616.58" cy="78.95" r="1.83"/><circle cx="615.69" cy="82.68" r="2.42"/><circle cx="616.48" cy="83.97" r="1.73"/><circle cx="620.98" cy="80.34" r="1.89"/><circle cx="613.87" cy="85.77" r="2.08"/><circle cx="621.09" cy="82.01" r="1.4"/></g>
<g fill="#fbf2d6" fill-opacity="0.8"><circle cx="594.81" cy="28.44" r="1.37"/><circle cx="590.39" cy="32.62" r="1.23"/><circle cx="594.88" cy="23.54" r="1.34"/><circle cx="599.34" cy="23.58" r="0.92"/><circle cx="591.3" cy="29.69" r="1.08"/><circle cx="595.6" cy="27.39" r="1.34"/><circle cx="600.62" cy="28.15" r="0.99"/><circle cx="598.73" cy="25.42" r="1.28"/><circle cx="593.67" cy="25.28" r="1.18"/><circle cx="604.57" cy="28.58" r="0.9"/><circle cx="595.21" cy="20.64" r="1.02"/><circle cx="597.59" cy="25.46" r="1.21"/><circle cx="600.5" cy="19.48" r="1.07"/><circle cx="601.48" cy="20.73" r="0.9"/><circle cx="606.91" cy="21.8" r="0.84"/><circle cx="603.34" cy="22.14" r="0.8"/><circle cx="609.74" cy="30.6" r="0.8"/><circle cx="608.64" cy="22.82" r="1.12"/><circle cx="611.01" cy="31.28" r="0.83"/><circle cx="603.91" cy="21.6" r="1.3"/><circle cx="610.27" cy="28.76" r="0.94"/><circle cx="610.57" cy="27.44" r="1.21"/><circle cx="608.16" cy="30.96" r="1.36"/><circle cx="616.89" cy="31.73" r="0.94"/><circle cx="608.97" cy="27.79" r="0.97"/><circle cx="609.17" cy="28.92" r="0.82"/><circle cx="619.38" cy="31.04" r="1.03"/><circle cx="616.55" cy="36.2" r="1.35"/><circle cx="617.2" cy="26.41" r="1.4"/><circle cx="611.63" cy="29.65" r="0.92"/><circle cx="610.1" cy="33.11" r="1.29"/><circle cx="614.78" cy="39.72" r="0.95"/><circle cx="618.56" cy="31.21" r="0.93"/><circle cx="609.07" cy="33.1" r="1.16"/><circle cx="607.96" cy="36.27" r="1.41"/><circle cx="610.85" cy="35.41" r="1"/><circle cx="610.76" cy="42.41" r="1.1"/><circle cx="610.97" cy="37.11" r="0.87"/><circle cx="607.9" cy="43.8" r="1.16"/><circle cx="605.63" cy="40.35" r="0.77"/><circle cx="605.31" cy="40.47" r="0.79"/><circle cx="604.84" cy="44.99" r="0.82"/><circle cx="613.72" cy="51.1" r="1.02"/><circle cx="605.58" cy="50.78" r="1.12"/><circle cx="613.44" cy="41.32" r="0.74"/><circle cx="602.71" cy="43.42" r="1.07"/><circle cx="602.94" cy="51.94" r="0.95"/><circle cx="603.54" cy="53.29" r="1.36"/><circle cx="611.19" cy="45.66" r="1.35"/><circle cx="600.98" cy="48.56" r="1.14"/><circle cx="604.32" cy="55.22" r="0.91"/><circle cx="609.69" cy="58.23" r="1.39"/><circle cx="605.91" cy="48.74" r="1.07"/><circle cx="609.83" cy="54.29" r="0.75"/><circle cx="602.75" cy="56.4" r="1.11"/><circle cx="606.98" cy="61.87" r="0.74"/><circle cx="597.48" cy="51.59" r="0.97"/><circle cx="606.52" cy="58.99" r="1.22"/><circle cx="597.69" cy="60.15" r="1.16"/><circle cx="606.97" cy="60.05" r="1.21"/><circle cx="600.82" cy="61.84" r="1.38"/><circle cx="601.22" cy="60.74" r="1.23"/><circle cx="593.96" cy="62.45" r="0.8"/><circle cx="601.51" cy="65.45" r="1.01"/><circle cx="593.32" cy="62.13" r="1.18"/><circle cx="598.46" cy="59.7" r="0.92"/><circle cx="591.86" cy="62.24" r="1.18"/><circle cx="591.59" cy="71.01" r="0.83"/><circle cx="601.2" cy="69.26" r="1.22"/><circle cx="590.98" cy="65.26" r="1.25"/><circle cx="590.21" cy="68.81" r="1.23"/><circle cx="596.06" cy="69.55" r="1.18"/><circle cx="597.91" cy="76.42" r="0.84"/><circle cx="589.79" cy="72.66" r="1.28"/><circle cx="594.8" cy="73.82" r="1.03"/><circle cx="584.92" cy="69.43" r="1.08"/><circle cx="584.44" cy="77.32" r="1.08"/><circle cx="584.46" cy="69.02" r="1.03"/><circle cx="585.33" cy="76.9" r="0.79"/><circle cx="587.59" cy="75.07" r="0.94"/><circle cx="582.89" cy="80.46" r="0.77"/><circle cx="588.43" cy="75.34" r="0.93"/><circle cx="583.21" cy="73.56" r="1.41"/><circle cx="583.89" cy="72.53" r="1.38"/><circle cx="581.74" cy="76.12" r="1.02"/><circle cx="581.66" cy="82.24" r="1.14"/><circle cx="576.9" cy="83.1" r="1.16"/><circle cx="580.78" cy="82.8" r="0.91"/><circle cx="573.53" cy="83.61" r="1.41"/><circle cx="578.44" cy="72.25" r="1.05"/><circle cx="576.86" cy="81.96" r="0.9"/><circle cx="574.83" cy="73.9" r="1.13"/><circle cx="573.56" cy="82.1" r="1.25"/><circle cx="576.9" cy="85.34" r="1.35"/><circle cx="567.3" cy="83.84" r="1.24"/><circle cx="568.38" cy="74.55" r="0.79"/><circle cx="567.58" cy="79.68" r="0.87"/><circle cx="565.23" cy="83.6" r="1.17"/><circle cx="569.25" cy="84.71" r="1.39"/><circle cx="565" cy="82.82" r="1.15"/><circle cx="564.9" cy="83.25" r="0.78"/><circle cx="565.07" cy="86.59" r="0.97"/><circle cx="569.8" cy="80.58" r="1.41"/><circle cx="559.11" cy="80.04" r="1.19"/><circle cx="561.63" cy="82.3" r="1.06"/><circle cx="558.5" cy="78.7" r="1.26"/><circle cx="555.93" cy="87.95" r="0.97"/><circle cx="594.1" cy="37.48" r="0.8"/><circle cx="588.37" cy="34.34" r="0.79"/><circle cx="590.62" cy="38.67" r="0.57"/><circle cx="591.8" cy="37.59" r="0.92"/><circle cx="593.9" cy="40.09" r="0.76"/><circle cx="595.07" cy="39.24" r="0.55"/><circle cx="591.81" cy="38.44" r="0.57"/><circle cx="593.59" cy="44.74" r="0.74"/><circle cx="598.75" cy="46.3" r="0.55"/><circle cx="596.2" cy="44.09" r="0.84"/><circle cx="600.47" cy="48.82" r="1.02"/><circle cx="607.97" cy="76.82" r="1.01"/><circle cx="609.77" cy="77.45" r="0.67"/><circle cx="609.49" cy="81.04" r="1.06"/><circle cx="608.75" cy="81.56" r="0.94"/><circle cx="607.76" cy="83.68" r="1.02"/><circle cx="611.36" cy="75.27" r="1.12"/><circle cx="605.13" cy="84.98" r="0.82"/><circle cx="607.76" cy="77.67" r="0.73"/><circle cx="612.53" cy="85.66" r="1.18"/><circle cx="610.23" cy="85.57" r="0.86"/><circle cx="619" cy="86" r="1.16"/><circle cx="616.18" cy="78.55" r="0.92"/><circle cx="616.08" cy="83.57" r="0.86"/><circle cx="613.47" cy="85.37" r="1.04"/></g>
<path d="M588.76,55.92 q4.24,-0.34 0.11,1.05 q-3.15,0.12 1.82,3.52 q-4.06,-1.97 -5.73,3.72" fill="none" stroke="#b9b9b9" stroke-width="0.5"/>
<path d="M576.67,28.55 q2.39,4.4 -4.25,5.4 q3.82,1.04 -1.1,-4.75 q-4.61,4.63 -3.66,2.45" fill="none" stroke="#b9b9b9" stroke-width="0.5"/>
<path d="M584.71,57.65 q-1.84,-3.64 -0.05,4.05 q3.49,2.11 6.3,-2.68 q-3.31,-0.49 -3.15,-3.43" fill="none" stroke="#b9b9b9" stroke-width="0.5"/>
<path d="M606.97,47.02 q0.59,3.31 0.86,-4.03 q0.14,4.07 -3.41,2.06 q4.55,3.7 1.53,-2.35" fill="none" stroke="#b9b9b9" stroke-width="0.5"/>
<path d="M570.53,28.16 q-2.96,3.4 6.86,5.12 q-4.05,-4.38 6.32,-0.46 q2.65,-1.73 -0.46,0.18" fill="none" stroke="#b9b9b9" stroke-width="0.5"/>
<path d="M562.64,32.63 q-4.57,-3.43 3.57,-1.32 q3.98,2.48 -6.3,5.87 q4.44,-4.26 5.68,-0.85" fill="none" stroke="#b9b9b9" stroke-width="0.5"/>
<path d="M578.66,25.08 q-1.42,2.26 -1.87,-4.59 q2.09,0.69 5.86,5.28 q4.13,-0.62 4.24,-2.34" fill="none" stroke="#b9b9b9" stroke-width="0.5"/>
<path d="M585.79,81.89 q4.37,1.27 6.19,0.6 q3.53,-0.15 -1.36,5.47 q1.6,2.72 -5.71,4.35" fill="none" stroke="#b9b9b9" stroke-width="0.5"/>
<path d="M602.19,66.91 q-3.2,-0.98 4.72,1.11 q-4.1,-2.73 -4.8,-4.51 q-0.93,-4.27 5.89,-0.88" fill="none" stroke="#b9b9b9" stroke-width="0.5"/>
<path d="M597.57,49.27 q-0.89,1.24 2.65,3.1 q2.52,-0.14 6.92,4.06 q3.55,-0.91 -0.92,0.79" fill="none" stroke="#b9b9b9" stroke-width="0.5"/>
<circle cx="581.5" cy="20.2" r="1.75" fill="#8c8ee0" stroke="#444" stroke-width="0.25"/>
<circle cx="594.8" cy="20.5" r="1.75" fill="#8c8ee0" stroke="#444" stroke-width="0.25"/>
<circle cx="597.5" cy="18.8" r="1.75" fill="#8c8ee0" stroke="#444" stroke-width="0.25"/>
<circle cx="590" cy="23" r="1.75" fill="#e88cc4" stroke="#444" stroke-width="0.25"/>
<circle cx="588" cy="25.8" r="1.75" fill="#8b1a2a" stroke="#444" stroke-width="0.25"/>
<circle cx="605" cy="19.8" r="1.75" fill="#30309a" stroke="#444" stroke-width="0.25"/>
<circle cx="582.7" cy="31.3" r="1.75" fill="#3a3a3a" stroke="#444" stroke-width="0.25"/>
<circle cx="594" cy="28" r="1.75" fill="#3a3a3a" stroke="#444" stroke-width="0.25"/>
<circle cx="589.6" cy="35.9" r="1.75" fill="#8c8ee0" stroke="#444" stroke-width="0.25"/>
<circle cx="582.5" cy="48.6" r="1.75" fill="#d23a3a" stroke="#444" stroke-width="0.25"/>
<circle cx="595" cy="48.7" r="1.75" fill="#d23a3a" stroke="#444" stroke-width="0.25"/>
<circle cx="596" cy="58" r="1.75" fill="#d8d8d8" stroke="#444" stroke-width="0.25"/>
<circle cx="579" cy="63" r="1.75" fill="#3a3a3a" stroke="#444" stroke-width="0.25"/>
<circle cx="585" cy="62" r="1.75" fill="#8c8ee0" stroke="#444" stroke-width="0.25"/>
<circle cx="571" cy="72" r="1.75" fill="#3a3a3a" stroke="#444" stroke-width="0.25"/>
<circle cx="571.5" cy="77" r="1.75" fill="#e0803a" stroke="#444" stroke-width="0.25"/>
<circle cx="587" cy="80" r="1.75" fill="#8c8ee0" stroke="#444" stroke-width="0.25"/>
<circle cx="606" cy="84" r="1.75" fill="#8c8ee0" stroke="#444" stroke-width="0.25"/>
<circle cx="600" cy="88" r="1.75" fill="#8c8ee0" stroke="#444" stroke-width="0.25"/>
</g>
<ellipse cx="591.6" cy="51.5" rx="29.8" ry="37" fill="none" stroke="#4a4a4a" stroke-width="0.8"/>
<clipPath id="cpB"><ellipse cx="528.9" cy="110.7" rx="30.4" ry="41"/></clipPath>
<g clip-path="url(#cpB)">
<ellipse cx="528.9" cy="110.7" rx="30.4" ry="41" fill="#ffffff"/>
<g fill="none" stroke-linecap="round"><path d="M527.35,123.61 q1.66,-3.57 -6.85,-1.5 q-2.26,3.1 2.67,1.22 q0.58,1.61 -4.97,-0.72" stroke="#8e8e8e" stroke-width="1.39"/><path d="M502.08,136.84 q-4.25,1.87 -2.28,-1.14 q3.42,-4.81 -6.15,4.98 q0.09,-4.09 6.82,5.36" stroke="#6a6a6a" stroke-width="1.34"/><path d="M557.56,113.94 q3.82,0.58 6.67,4.63 q0.55,0.07 -5.83,1.29 q1.68,-0.3 1.53,0.49" stroke="#7a7a7a" stroke-width="1.97"/><path d="M557.32,149.76 q1.64,-1.44 -1.92,2.28 q1.74,-3.86 -3.71,-1.64 q0.11,3.1 0,-5.66" stroke="#6a6a6a" stroke-width="2.19"/><path d="M500.49,71.81 q1.76,-4.57 -4.14,1.29 q2.53,-2.79 -5.91,-2.71 q-0.67,-0.02 1.43,2.71" stroke="#a5a5a5" stroke-width="1.82"/><path d="M511.19,92.82 q-0.24,4.59 -0.27,5.47 q-3.32,4.24 -1.9,-3.73 q2.49,4.12 -6.91,-2.78" stroke="#a5a5a5" stroke-width="2.12"/><path d="M509.42,134.89 q0.01,-2.52 -5.38,-1.67 q0.47,-3.45 5.99,4.58 q1.69,-2.21 -5.35,3.41" stroke="#6a6a6a" stroke-width="1.8"/><path d="M536.62,91.24 q4.47,3.94 -4.73,-2.5 q3.73,-2.22 6.21,0.18 q1.96,2.05 -4,-2.58" stroke="#7a7a7a" stroke-width="1.51"/><path d="M540.7,80.5 q3.86,-0.8 -3.62,-0.78 q4.79,0.6 1.75,5.04 q4.62,2.6 -1.15,1.06" stroke="#8e8e8e" stroke-width="2.28"/><path d="M533.77,98.19 q-1.32,2.36 0.89,-5.79 q2.1,4.04 4.17,4.77 q4.11,0.35 4.05,-1.45" stroke="#a5a5a5" stroke-width="1.32"/><path d="M509.99,91.9 q2.93,1.87 -0.12,1.33 q-2.88,0.99 2.51,0.97 q-4.28,-1.44 -5.85,-2.01" stroke="#a5a5a5" stroke-width="2.02"/><path d="M517.38,84.44 q1.78,1.37 -0.9,-3.89 q-2.91,1.23 -0.2,-5.32 q0.94,-0.43 5.38,-4.84" stroke="#a5a5a5" stroke-width="1.47"/><path d="M520.78,139.3 q1.88,-2.04 0.23,-4.24 q4.03,-1.67 0.01,-1.33 q0.01,2.06 -0.56,3.43" stroke="#8e8e8e" stroke-width="1.26"/><path d="M523.28,127.01 q2.92,0.21 -0.84,-5.37 q-3.94,0.7 -2.63,3.14 q-4.83,2.75 5.54,1.59" stroke="#6a6a6a" stroke-width="1.4"/><path d="M512.22,114.33 q-2.48,-4.54 4.25,-2.57 q4.36,0.99 -1.55,4.48 q3.97,-1.79 -5.24,1.69" stroke="#b0b0b0" stroke-width="2.21"/><path d="M546.9,100.73 q-0.76,1.58 -2.24,3.22 q-0.08,4.4 4.41,-3.81 q2.89,3.36 -5.46,-2.79" stroke="#a5a5a5" stroke-width="2.27"/><path d="M558.1,144.73 q2.71,3.59 -2.65,4.47 q2.49,3.6 0.78,-5.49 q3.1,-3.05 -4.24,3.7" stroke="#8e8e8e" stroke-width="2.31"/><path d="M545.53,114.49 q-4.78,4.11 -1.9,-0.02 q-3,-4.02 -6.91,-4.48 q-1.07,-0.14 -2.89,-1.73" stroke="#6a6a6a" stroke-width="2.21"/><path d="M552.78,72.01 q3.45,-4.79 -4.83,3.09 q-1.34,-3.97 4.81,3.55 q0.49,4.63 -1.75,-5.14" stroke="#a5a5a5" stroke-width="2.3"/><path d="M502.29,78.57 q-4.16,-4.44 -6.88,-3.01 q-3.87,1.85 1.62,5.59 q4.61,2.47 6.29,-5.66" stroke="#6a6a6a" stroke-width="1.47"/><path d="M536.76,107.5 q-1.63,1.5 4.63,3.6 q-1.09,1.56 -2.28,-5.3 q2.97,1.86 6.83,-4.29" stroke="#6a6a6a" stroke-width="1.35"/><path d="M534.99,124.57 q-4.87,-2.71 -0.25,2.77 q3.26,2.57 -2.24,-1.42 q3.62,4.9 -0.21,-3.66" stroke="#b0b0b0" stroke-width="1.95"/><path d="M536.17,74.98 q-1.59,-2.33 0.9,4.06 q1.66,-0.6 -3.09,-1.88 q4.91,-3.81 1.22,-0.09" stroke="#8e8e8e" stroke-width="1.64"/><path d="M534.73,117.03 q-1.22,-1.9 -2.03,5.97 q-1.7,0.02 -0.56,-3.92 q-1,-2.95 -2.49,-1.59" stroke="#8e8e8e" stroke-width="1.62"/><path d="M516.55,96.96 q1.58,-1.03 0.22,1.77 q-4.26,1.72 -5.58,-3 q3.1,4.9 2.43,-3.94" stroke="#a5a5a5" stroke-width="1.73"/><path d="M502.58,126.1 q-3.12,-2.26 -5.29,-3.45 q-3.17,2.44 -2.66,-4.41 q-0.16,-0.59 -1.56,-2.72" stroke="#8e8e8e" stroke-width="2.28"/><path d="M513.04,112.83 q2.26,0.02 2.27,1.39 q2.14,-1.45 -2.71,-5.7 q3.9,2.9 -1.54,5.61" stroke="#8e8e8e" stroke-width="2.28"/><path d="M540.45,112.37 q0.77,-3.21 -1.08,3.97 q-3.58,-0.47 0.44,-3.05 q-2.89,2.79 0.72,0.15" stroke="#7a7a7a" stroke-width="1.57"/><path d="M555.23,81.68 q-2.72,3.6 5.74,5.18 q0.28,-1.33 -4.36,4.93 q2.65,0.52 4.08,-2.87" stroke="#6a6a6a" stroke-width="1.84"/><path d="M505.1,120.32 q-3.15,3.38 4.75,1.73 q-0.64,-4.78 -0.08,-1.69 q-1,-4.22 5.88,0.26" stroke="#b0b0b0" stroke-width="1.87"/><path d="M522.8,70.37 q0.04,-0.85 -5.02,-1.97 q-4.27,1.78 -3.12,-2.26 q-2,-2.2 0.21,-1.28" stroke="#7a7a7a" stroke-width="1.3"/><path d="M551.35,123.01 q-1.37,-2.13 -5.85,-4.52 q-4.57,4.76 -5.03,1.23 q-3.66,4.66 0.46,-3.88" stroke="#a5a5a5" stroke-width="2.19"/><path d="M557.96,88.02 q-0.97,1.61 -3.04,0.83 q2.01,2.52 4.54,3.01 q-2.15,2.56 -0.93,-3.97" stroke="#b0b0b0" stroke-width="1.22"/><path d="M520.08,93.69 q1.13,-1.28 -2.02,-5.52 q-1.97,3.72 1.71,0.66 q-4.9,1.24 0.83,-4.33" stroke="#a5a5a5" stroke-width="2.21"/><path d="M513.05,114.42 q2.82,3.93 5.38,-4.95 q4.59,1.1 3.4,5.92 q4.87,-1.6 -3.25,-5.46" stroke="#a5a5a5" stroke-width="1.46"/><path d="M517.75,73.92 q4.59,3.81 2.24,-0.24 q-2.96,-2.81 -6.06,-4.87 q-0.21,3.96 6.05,0.17" stroke="#6a6a6a" stroke-width="2.01"/><path d="M530.96,101.67 q-1.64,-3.09 5.88,-4.38 q1.83,0.3 3.04,5.83 q-3.85,1.5 -4.01,-2.92" stroke="#6a6a6a" stroke-width="1.28"/><path d="M558.56,125.8 q0.17,-0.66 -1.52,-3.6 q4.63,4.14 2.1,1.8 q-3.56,0.42 -4.66,-2.11" stroke="#8e8e8e" stroke-width="1.9"/><path d="M501.13,108.39 q3.52,2.41 -5.04,4.96 q3.58,-0.4 6.92,0.74 q-2.7,4.29 6.58,3.52" stroke="#a5a5a5" stroke-width="2.36"/><path d="M529.91,118.45 q0.25,1.31 -3.5,-1.29 q0.48,4.16 0.63,0.89 q-4.7,1 -0.69,0.25" stroke="#6a6a6a" stroke-width="2.36"/><path d="M545.21,115.36 q1.72,1.72 -6.74,-4.53 q0.33,-0.97 0.81,-4.93 q1.51,2.09 4.76,3.79" stroke="#a5a5a5" stroke-width="1.81"/><path d="M502.7,83.1 q-0.95,3.42 6.69,-5.87 q-3.93,-4.9 3.64,-1.55 q-1.95,-1.42 5.83,1.02" stroke="#7a7a7a" stroke-width="1.73"/><path d="M551.92,105.46 q4.85,-0.94 6.29,4.97 q4.99,-3.94 -3.17,2.35 q3.85,-2.43 3.76,-0.28" stroke="#7a7a7a" stroke-width="1.2"/><path d="M522.83,82.67 q-0.62,-0.01 0.52,4.3 q3.06,3.85 3.71,-1.36 q-4.33,3.9 6.53,1.29" stroke="#6a6a6a" stroke-width="1.4"/><path d="M517.49,94.14 q2.28,-4.53 5.23,-2.22 q-1.08,-1.87 2.99,-3.91 q-3.65,-4.34 -5.17,1.48" stroke="#7a7a7a" stroke-width="2.39"/><path d="M517.86,92.32 q-4.24,-1.62 -6.71,-1.96 q-2.64,-3.05 -1.2,-3.52 q2.81,4.82 1.65,-5.88" stroke="#a5a5a5" stroke-width="2.23"/><path d="M505.12,150.4 q1.85,2.23 -4.99,3.5 q0.35,-4.12 -4.05,5.61 q1.23,-4.09 -5.87,3" stroke="#6a6a6a" stroke-width="1.62"/><path d="M509.75,121.12 q2.2,-1.63 -5.59,2.86 q-1.95,2.55 5.85,-5.66 q-4.43,0.14 -3.63,-2.2" stroke="#a5a5a5" stroke-width="1.22"/><path d="M508.58,104.29 q-0.85,-4.28 5.04,-5.51 q4.83,1.76 6.79,-5.28 q3.94,4.64 3.89,0.96" stroke="#6a6a6a" stroke-width="1.98"/><path d="M528.78,104.78 q-2.57,-0.24 -5.15,-3.64 q-4.92,-0.34 6.61,-3.94 q4.73,3.11 -3.07,1.13" stroke="#8e8e8e" stroke-width="2.14"/><path d="M507.41,84.68 q1.2,-3.3 0.84,4.58 q-0.73,-2.76 1.36,-1.06 q-0.63,-3.22 2.56,-1.86" stroke="#6a6a6a" stroke-width="2.38"/><path d="M517.86,83.79 q-0.62,-3.24 6.21,0.47 q3.75,-2.53 1.51,5.52 q-0.89,-2.16 -2.3,5.25" stroke="#7a7a7a" stroke-width="1.72"/><path d="M540.76,70.16 q1.39,2.05 5.13,0.43 q0.41,-3.55 -4.26,4.75 q-4.38,4.01 -5.27,-1.39" stroke="#7a7a7a" stroke-width="1.95"/><path d="M535.78,138.98 q4.34,-4.57 -2.11,-3.61 q-1.01,-2.31 5.97,0.61 q-1.22,-3.12 -1.51,-2.16" stroke="#8e8e8e" stroke-width="1.33"/><path d="M511.13,109.77 q-0.45,2.78 5,3.16 q1.26,0.41 -5.72,0.89 q-0.67,2.56 -1.73,-4.53" stroke="#b0b0b0" stroke-width="1.66"/><path d="M528.69,124.51 q-4.43,-2.78 -3.28,-0.19 q-3.81,4.45 -2.36,-5.99 q-2.6,0.02 1.62,3.78" stroke="#6a6a6a" stroke-width="1.3"/><path d="M550.52,111.89 q1.47,-1.93 -4.92,-5.88 q4.61,3.9 -0.75,1.22 q-0.23,1.89 -5.61,3.05" stroke="#b0b0b0" stroke-width="1.41"/><path d="M547.19,144.53 q4.74,-0.1 -5.11,-0.12 q4.94,0.94 -6.5,5.29 q3.35,-1.38 3.75,4.99" stroke="#b0b0b0" stroke-width="1.47"/><path d="M523.99,132.29 q1.79,-3.83 -2.84,-4.37 q3.32,-1.04 -2.79,2.61 q4.86,-3.59 2.68,-3.26" stroke="#8e8e8e" stroke-width="2.15"/><path d="M545.22,117.52 q-3.77,3.52 -5.45,0.96 q4.59,-2.32 -0.27,2.11 q1.46,-1.76 -1.17,4.75" stroke="#8e8e8e" stroke-width="2.06"/><path d="M540.13,84.98 q0.42,2.37 -3.55,-2.31 q4,-0.41 -0.07,-2.76 q3.73,3.65 0.37,0.22" stroke="#b0b0b0" stroke-width="1.48"/><path d="M536.28,70.56 q0.77,2.5 0.07,1.53 q-3.82,-0.42 3.97,-1.52 q2.44,0.99 4.31,2.87" stroke="#8e8e8e" stroke-width="1.57"/><path d="M548.16,104.72 q2.19,-0.86 1.07,-2.1 q-0.38,-1.92 5.52,1.36 q1.14,0.23 -0.5,-3.91" stroke="#6a6a6a" stroke-width="1.98"/><path d="M500.15,113.43 q2.3,-0.83 0.6,5.43 q3.03,-3.56 2.46,2.86 q2.85,0.08 -0.95,-4.32" stroke="#b0b0b0" stroke-width="1.56"/><path d="M515.33,103.08 q-4.13,-2.75 0.82,4.59 q-0.73,4.63 -3.41,-4.76 q3.39,-1.22 -3.08,-0.67" stroke="#8e8e8e" stroke-width="1.93"/><path d="M529.98,118.02 q3.31,-1.76 -5.81,-0.65 q-3.8,-0.22 -6.55,0.15 q-0.31,3.68 0.99,-1.39" stroke="#8e8e8e" stroke-width="2.22"/><path d="M542.81,107.85 q2.3,4.3 1.51,2.12 q2.3,-2.36 2.44,0.99 q0.13,4.57 3.56,2.34" stroke="#7a7a7a" stroke-width="1.67"/><path d="M554.35,127.69 q-4.2,-2.41 -4.69,4.86 q-2.72,0.12 4.28,-5.53 q-0.17,1.15 -3.82,0.62" stroke="#b0b0b0" stroke-width="1.53"/><path d="M499.89,150.88 q-4.96,-0.74 0.97,0.12 q-1.61,0.08 -2.58,1.94 q-4.7,-1.55 2.12,-0.52" stroke="#6a6a6a" stroke-width="1.22"/><path d="M559.21,105.27 q3.74,-2.48 -4.88,-5.63 q-0.61,0.45 -1.75,4.48 q0.05,-0.91 2.55,-4.43" stroke="#b0b0b0" stroke-width="2.19"/><path d="M519.09,142.88 q3.26,0.91 0.84,-5.86 q0.59,-4.42 0.37,-3.32 q1.08,-3.42 -2.41,3.24" stroke="#8e8e8e" stroke-width="1.9"/><path d="M513.8,100.91 q-4.22,-1.34 2.38,1.08 q-2.5,4.66 4.61,-3.36 q2.21,0.27 2.1,0.18" stroke="#b0b0b0" stroke-width="1.29"/><path d="M524.22,115.33 q-3.32,4.13 -1.54,-0.02 q3.4,3.33 6.96,2.5 q0.32,-0.7 3.89,1.45" stroke="#b0b0b0" stroke-width="1.21"/><path d="M504.51,137.25 q-1.9,-2.4 3.04,-5.38 q3.94,-2.73 2.87,0.61 q-0.81,-0.99 2.05,1.79" stroke="#7a7a7a" stroke-width="1.32"/><path d="M532.35,110.24 q3.66,-4.2 -2.2,4.03 q2.94,-4.36 -0.75,5.92 q4.79,-1.82 3.42,-2.03" stroke="#8e8e8e" stroke-width="1.28"/><path d="M527.35,82.73 q4.85,-1.56 4.17,-1.48 q-1.69,-0.66 0.97,4.55 q2.18,-2.67 -1.95,2.3" stroke="#6a6a6a" stroke-width="1.31"/><path d="M536.83,88.32 q2.91,-2.39 -1.89,-1.15 q3.49,-4.52 4.36,-4.87 q4.71,0.56 3.5,0.18" stroke="#8e8e8e" stroke-width="2"/><path d="M535.29,124.69 q-1.48,0.66 -1.95,-1 q0.28,-3.98 2.38,5.76 q-3.47,4.82 -0.31,0.76" stroke="#b0b0b0" stroke-width="2.3"/><path d="M546.12,90.56 q-2.67,4.77 -3.29,-4.76 q4.32,4.26 -4,0.35 q3.73,-1.79 -2.23,-5.95" stroke="#b0b0b0" stroke-width="1.36"/><path d="M500.55,99.55 q-2.98,4.15 4.45,-4.36 q0.71,2.71 -0.55,1.55 q1.94,-3.21 6.27,-2.29" stroke="#7a7a7a" stroke-width="1.33"/><path d="M531.66,148.66 q-2.06,-0.23 -5.45,2.25 q-3.97,-4.83 -4.38,5.06 q2.12,4.03 -2.88,-2.56" stroke="#b0b0b0" stroke-width="1.89"/><path d="M511.06,150.98 q4.4,-0.65 -5.46,2.97 q3.87,2.88 6.17,5.38 q0.78,3.77 0.11,-0.55" stroke="#6a6a6a" stroke-width="2.23"/><path d="M507.26,95.46 q0.49,-3.63 1.88,-1.51 q-2,3.51 3.39,-0.66 q-2.4,0.1 2.08,3.12" stroke="#7a7a7a" stroke-width="1.99"/><path d="M516.78,77.86 q-1.98,0.76 3.82,3.31 q-0.03,-1.1 -5.01,4.38 q0.05,-2.19 -4.45,-3.93" stroke="#8e8e8e" stroke-width="1.6"/><path d="M537.91,85.67 q2.8,3.45 -5.14,-4.22 q1.72,-4.5 -0.31,4.36 q2.97,1.08 1.39,-4.52" stroke="#6a6a6a" stroke-width="2.39"/><path d="M545.31,83.13 q-3.81,0.36 -4.72,-0.01 q1.84,-4.13 -4.26,0.51 q-1.21,-3.88 2.62,-4.27" stroke="#8e8e8e" stroke-width="1.62"/><path d="M499.87,75.43 q0.35,-1.46 3.9,-1.09 q-2.43,-3.39 6.89,3.17 q1.81,-2.79 -0.8,3.07" stroke="#a5a5a5" stroke-width="1.98"/><path d="M503.87,120.67 q1.37,0.45 5.74,2.24 q1.94,4.22 -6.83,4.95 q3.02,0.03 -0.09,0.44" stroke="#8e8e8e" stroke-width="2.18"/><path d="M504.09,91.11 q-1.56,-3.85 -4.7,2.46 q3.25,1.53 -2.71,-0.72 q-4.69,-3.93 -4.71,-5.2" stroke="#6a6a6a" stroke-width="1.71"/><path d="M509.41,119.46 q-5,-2.9 3.26,-2.86 q-0.95,4.06 0.37,4.39 q4.55,3.38 0.8,-3.89" stroke="#b0b0b0" stroke-width="1.9"/><path d="M517.03,145.91 q0.78,-0.16 -4.94,0.69 q-3.7,-4.33 -2.33,-2.91 q2.82,0.64 1.97,-2.66" stroke="#7a7a7a" stroke-width="1.67"/><path d="M552.98,87.11 q-0.72,-2.08 1.25,-3.15 q-1.27,1.96 -0.32,-1.3 q-3.22,1.65 -5.16,5.15" stroke="#b0b0b0" stroke-width="2.11"/><path d="M507.01,117.25 q-4.91,-4.68 1.68,-5.91 q-0.87,-1.47 5.18,-1.79 q-2.95,1.8 -4.84,5.75" stroke="#7a7a7a" stroke-width="2.31"/><path d="M536.1,84.54 q-2.99,2.15 -0.85,2.46 q-2.91,0.69 4.97,-2.56 q3.34,-3.56 2.32,-5.5" stroke="#7a7a7a" stroke-width="1.49"/><path d="M501.01,144.69 q-1.49,-1.76 -0.16,-3.84 q-2.25,-2.79 -3.42,-2.4 q-3.08,0.11 3.07,-2.97" stroke="#8e8e8e" stroke-width="1.5"/><path d="M551.16,123.92 q-4.51,2.98 3.75,5.81 q-3.12,4.33 -1.45,0.66 q-2.97,-2.48 -1.09,0.76" stroke="#b0b0b0" stroke-width="1.51"/><path d="M509.93,149.5 q-1.2,0.11 -0.21,0.5 q2.06,-3.92 0.14,2.02 q-0.05,-3.41 -4.11,0.35" stroke="#b0b0b0" stroke-width="1.52"/><path d="M539.47,77.02 q-2.93,3.24 5.86,-5.33 q-4.01,-1.6 -1.94,2.14 q4.42,1.35 -2.35,-3.35" stroke="#7a7a7a" stroke-width="1.28"/><path d="M535.09,116.63 q-0.46,-1.33 2.37,-4.02 q2.32,0.34 4.86,-3.04 q3.33,-0.93 3.83,4.42" stroke="#b0b0b0" stroke-width="2.08"/><path d="M550.02,100.59 q2.39,2.3 5.66,-1.63 q3.49,-3.1 1.18,5.37 q2.44,2.57 -4.47,-1.53" stroke="#8e8e8e" stroke-width="1.87"/><path d="M543.85,79.03 q-3.56,-0.09 -0.43,-5.3 q-3.83,4.32 5.9,-2.61 q0.95,2.35 -4.22,-3.54" stroke="#7a7a7a" stroke-width="1.25"/><path d="M545.42,147.99 q-1.31,2.29 2.72,-5.25 q2.46,-0.24 4.43,0.59 q-2.4,2.84 0.69,4.64" stroke="#7a7a7a" stroke-width="1.91"/><path d="M537.58,104.06 q-3.38,-1.72 -6.03,3.88 q0.6,-0.65 5.15,3.94 q-1.04,-4.67 1.23,-3.21" stroke="#7a7a7a" stroke-width="1.93"/><path d="M504.74,119.32 q0.33,-4.79 -5.5,1.7 q0.47,1.46 2.18,4.92 q3.24,-4.05 6.03,5.26" stroke="#6a6a6a" stroke-width="1.98"/><path d="M504.17,74.25 q-1.55,-0.14 1.51,-5.82 q2.4,-4.15 6.38,-0.83 q-3.46,-0.87 1.26,-4.31" stroke="#8e8e8e" stroke-width="2.24"/><path d="M498.58,71.41 q-3.58,-4.13 -2.69,-3.65 q-3.56,-0.16 6.78,-0.22 q-3.21,0.35 1.16,-4.1" stroke="#8e8e8e" stroke-width="1.35"/><path d="M550.63,75.42 q-1.92,-0.73 1.46,-0.61 q-2.38,-4.58 -5.29,1.83 q0.01,-0.99 -2.51,5.54" stroke="#b0b0b0" stroke-width="1.54"/><path d="M528.12,77.15 q3.5,3.82 1.04,0.38 q2.82,-1.42 -6.71,5.48 q-0.32,-1.61 5.36,4.87" stroke="#8e8e8e" stroke-width="1.73"/><path d="M559.26,112.1 q0.07,4.39 -5.13,2.43 q-2.96,-1.76 3.95,-5.08 q4.16,2.18 5.98,4.16" stroke="#6a6a6a" stroke-width="1.91"/><path d="M523.91,75.63 q-2.93,-2.26 5.23,-0.28 q-0.17,-0.81 6.31,2.8 q-2.51,-1.62 4.61,-5.69" stroke="#6a6a6a" stroke-width="1.64"/><path d="M508.4,133.7 q-3.97,-3.95 1.43,4.83 q1.9,3.54 4.98,2.03 q4.24,4.71 4.72,-4.23" stroke="#6a6a6a" stroke-width="1.55"/><path d="M529.12,77.3 q-1.11,1.32 -3.96,0.15 q0.72,2.63 -6.5,-3.22 q4.21,4.14 -0.16,-5.83" stroke="#b0b0b0" stroke-width="1.54"/><path d="M552.24,95.18 q1.39,4.94 -1.09,-0.76 q4.9,0.71 -6.84,0.71 q-3.69,-4.63 5.29,3.06" stroke="#8e8e8e" stroke-width="1.68"/><path d="M504.95,126.15 q1.62,-0.24 6.7,-4.74 q1.26,-3.97 2.22,1.92 q-3.62,-0.23 -3.46,0.29" stroke="#a5a5a5" stroke-width="1.64"/><path d="M512.48,129.05 q-0.14,-3.59 -3.1,-1.44 q-2.21,-3.39 0.7,2.57 q-4.96,1.88 -4.22,-0.01" stroke="#a5a5a5" stroke-width="2.17"/><path d="M510.82,96.65 q-4.75,4.55 4.78,-2.68 q3.33,-4.18 0.73,-5.87 q-4.04,4.75 -5.72,-2.4" stroke="#a5a5a5" stroke-width="2.03"/><path d="M556.2,72.07 q-1.66,-3.34 -5.17,-5.24 q4.09,3.75 -6.6,4.85 q1.97,3.83 -2.48,-5.61" stroke="#a5a5a5" stroke-width="1.52"/><path d="M512.37,104.44 q-2.37,-0.25 3.62,-4.5 q4.99,0.03 4.89,-0.58 q-1.27,0.65 -6.01,-3.61" stroke="#8e8e8e" stroke-width="1.34"/><path d="M535.11,116.44 q1.38,3.35 -3.17,1.16 q-0.77,-2.36 -4.54,0.65 q0.32,-2.92 1.23,-4.18" stroke="#7a7a7a" stroke-width="2.04"/><path d="M549.64,90.64 q1.52,2.78 -4.6,3.55 q3.83,-1.82 3.81,-5.32 q-3.84,-0.86 -1.41,-4.44" stroke="#6a6a6a" stroke-width="1.78"/><path d="M539.15,72.1 q-1.78,-1.67 3.89,-5.62 q2.28,-0.79 -5.57,-1.49 q-2.28,1.71 -3.38,-3.07" stroke="#6a6a6a" stroke-width="2.17"/><path d="M545.99,117.9 q-2.8,-1.13 -2.3,2.44 q-2.04,3.52 0.54,-1 q2.55,-1.67 -1.43,1.67" stroke="#7a7a7a" stroke-width="1.39"/><path d="M530.94,111.82 q-2.68,-4.34 -2.01,-3.45 q0.42,-3.69 -3.41,-2.7 q-4.75,2.97 -2,2.49" stroke="#b0b0b0" stroke-width="2.08"/><path d="M502.63,130.8 q-1.96,0.05 -3.94,-0.95 q3.71,-1.31 5.04,4.66 q0.27,2.5 4.64,1.64" stroke="#6a6a6a" stroke-width="1.35"/><path d="M522.48,150.36 q0.69,-2.15 1.96,-2.15 q1.03,2.3 3.02,1.04 q-0.91,-3.22 -5.76,-4.8" stroke="#b0b0b0" stroke-width="1.63"/></g><g fill="none" stroke="#fff" stroke-linecap="round"><path d="M527.35,123.61 q1.66,-3.57 -6.85,-1.5 q-2.26,3.1 2.67,1.22 q0.58,1.61 -4.97,-0.72" stroke-width="0.49"/><path d="M502.08,136.84 q-4.25,1.87 -2.28,-1.14 q3.42,-4.81 -6.15,4.98 q0.09,-4.09 6.82,5.36" stroke-width="0.44"/><path d="M557.56,113.94 q3.82,0.58 6.67,4.63 q0.55,0.07 -5.83,1.29 q1.68,-0.3 1.53,0.49" stroke-width="1.07"/><path d="M557.32,149.76 q1.64,-1.44 -1.92,2.28 q1.74,-3.86 -3.71,-1.64 q0.11,3.1 0,-5.66" stroke-width="1.29"/><path d="M500.49,71.81 q1.76,-4.57 -4.14,1.29 q2.53,-2.79 -5.91,-2.71 q-0.67,-0.02 1.43,2.71" stroke-width="0.92"/><path d="M511.19,92.82 q-0.24,4.59 -0.27,5.47 q-3.32,4.24 -1.9,-3.73 q2.49,4.12 -6.91,-2.78" stroke-width="1.22"/><path d="M509.42,134.89 q0.01,-2.52 -5.38,-1.67 q0.47,-3.45 5.99,4.58 q1.69,-2.21 -5.35,3.41" stroke-width="0.9"/><path d="M536.62,91.24 q4.47,3.94 -4.73,-2.5 q3.73,-2.22 6.21,0.18 q1.96,2.05 -4,-2.58" stroke-width="0.61"/><path d="M540.7,80.5 q3.86,-0.8 -3.62,-0.78 q4.79,0.6 1.75,5.04 q4.62,2.6 -1.15,1.06" stroke-width="1.38"/><path d="M533.77,98.19 q-1.32,2.36 0.89,-5.79 q2.1,4.04 4.17,4.77 q4.11,0.35 4.05,-1.45" stroke-width="0.42"/><path d="M509.99,91.9 q2.93,1.87 -0.12,1.33 q-2.88,0.99 2.51,0.97 q-4.28,-1.44 -5.85,-2.01" stroke-width="1.12"/><path d="M517.38,84.44 q1.78,1.37 -0.9,-3.89 q-2.91,1.23 -0.2,-5.32 q0.94,-0.43 5.38,-4.84" stroke-width="0.57"/><path d="M520.78,139.3 q1.88,-2.04 0.23,-4.24 q4.03,-1.67 0.01,-1.33 q0.01,2.06 -0.56,3.43" stroke-width="0.36"/><path d="M523.28,127.01 q2.92,0.21 -0.84,-5.37 q-3.94,0.7 -2.63,3.14 q-4.83,2.75 5.54,1.59" stroke-width="0.5"/><path d="M512.22,114.33 q-2.48,-4.54 4.25,-2.57 q4.36,0.99 -1.55,4.48 q3.97,-1.79 -5.24,1.69" stroke-width="1.31"/><path d="M546.9,100.73 q-0.76,1.58 -2.24,3.22 q-0.08,4.4 4.41,-3.81 q2.89,3.36 -5.46,-2.79" stroke-width="1.37"/><path d="M558.1,144.73 q2.71,3.59 -2.65,4.47 q2.49,3.6 0.78,-5.49 q3.1,-3.05 -4.24,3.7" stroke-width="1.41"/><path d="M545.53,114.49 q-4.78,4.11 -1.9,-0.02 q-3,-4.02 -6.91,-4.48 q-1.07,-0.14 -2.89,-1.73" stroke-width="1.31"/><path d="M552.78,72.01 q3.45,-4.79 -4.83,3.09 q-1.34,-3.97 4.81,3.55 q0.49,4.63 -1.75,-5.14" stroke-width="1.4"/><path d="M502.29,78.57 q-4.16,-4.44 -6.88,-3.01 q-3.87,1.85 1.62,5.59 q4.61,2.47 6.29,-5.66" stroke-width="0.57"/><path d="M536.76,107.5 q-1.63,1.5 4.63,3.6 q-1.09,1.56 -2.28,-5.3 q2.97,1.86 6.83,-4.29" stroke-width="0.45"/><path d="M534.99,124.57 q-4.87,-2.71 -0.25,2.77 q3.26,2.57 -2.24,-1.42 q3.62,4.9 -0.21,-3.66" stroke-width="1.05"/><path d="M536.17,74.98 q-1.59,-2.33 0.9,4.06 q1.66,-0.6 -3.09,-1.88 q4.91,-3.81 1.22,-0.09" stroke-width="0.74"/><path d="M534.73,117.03 q-1.22,-1.9 -2.03,5.97 q-1.7,0.02 -0.56,-3.92 q-1,-2.95 -2.49,-1.59" stroke-width="0.72"/><path d="M516.55,96.96 q1.58,-1.03 0.22,1.77 q-4.26,1.72 -5.58,-3 q3.1,4.9 2.43,-3.94" stroke-width="0.83"/><path d="M502.58,126.1 q-3.12,-2.26 -5.29,-3.45 q-3.17,2.44 -2.66,-4.41 q-0.16,-0.59 -1.56,-2.72" stroke-width="1.38"/><path d="M513.04,112.83 q2.26,0.02 2.27,1.39 q2.14,-1.45 -2.71,-5.7 q3.9,2.9 -1.54,5.61" stroke-width="1.38"/><path d="M540.45,112.37 q0.77,-3.21 -1.08,3.97 q-3.58,-0.47 0.44,-3.05 q-2.89,2.79 0.72,0.15" stroke-width="0.67"/><path d="M555.23,81.68 q-2.72,3.6 5.74,5.18 q0.28,-1.33 -4.36,4.93 q2.65,0.52 4.08,-2.87" stroke-width="0.94"/><path d="M505.1,120.32 q-3.15,3.38 4.75,1.73 q-0.64,-4.78 -0.08,-1.69 q-1,-4.22 5.88,0.26" stroke-width="0.97"/><path d="M522.8,70.37 q0.04,-0.85 -5.02,-1.97 q-4.27,1.78 -3.12,-2.26 q-2,-2.2 0.21,-1.28" stroke-width="0.4"/><path d="M551.35,123.01 q-1.37,-2.13 -5.85,-4.52 q-4.57,4.76 -5.03,1.23 q-3.66,4.66 0.46,-3.88" stroke-width="1.29"/><path d="M557.96,88.02 q-0.97,1.61 -3.04,0.83 q2.01,2.52 4.54,3.01 q-2.15,2.56 -0.93,-3.97" stroke-width="0.32"/><path d="M520.08,93.69 q1.13,-1.28 -2.02,-5.52 q-1.97,3.72 1.71,0.66 q-4.9,1.24 0.83,-4.33" stroke-width="1.31"/><path d="M513.05,114.42 q2.82,3.93 5.38,-4.95 q4.59,1.1 3.4,5.92 q4.87,-1.6 -3.25,-5.46" stroke-width="0.56"/><path d="M517.75,73.92 q4.59,3.81 2.24,-0.24 q-2.96,-2.81 -6.06,-4.87 q-0.21,3.96 6.05,0.17" stroke-width="1.11"/><path d="M530.96,101.67 q-1.64,-3.09 5.88,-4.38 q1.83,0.3 3.04,5.83 q-3.85,1.5 -4.01,-2.92" stroke-width="0.38"/><path d="M558.56,125.8 q0.17,-0.66 -1.52,-3.6 q4.63,4.14 2.1,1.8 q-3.56,0.42 -4.66,-2.11" stroke-width="1"/><path d="M501.13,108.39 q3.52,2.41 -5.04,4.96 q3.58,-0.4 6.92,0.74 q-2.7,4.29 6.58,3.52" stroke-width="1.46"/><path d="M529.91,118.45 q0.25,1.31 -3.5,-1.29 q0.48,4.16 0.63,0.89 q-4.7,1 -0.69,0.25" stroke-width="1.46"/><path d="M545.21,115.36 q1.72,1.72 -6.74,-4.53 q0.33,-0.97 0.81,-4.93 q1.51,2.09 4.76,3.79" stroke-width="0.91"/><path d="M502.7,83.1 q-0.95,3.42 6.69,-5.87 q-3.93,-4.9 3.64,-1.55 q-1.95,-1.42 5.83,1.02" stroke-width="0.83"/><path d="M551.92,105.46 q4.85,-0.94 6.29,4.97 q4.99,-3.94 -3.17,2.35 q3.85,-2.43 3.76,-0.28" stroke-width="0.3"/><path d="M522.83,82.67 q-0.62,-0.01 0.52,4.3 q3.06,3.85 3.71,-1.36 q-4.33,3.9 6.53,1.29" stroke-width="0.5"/><path d="M517.49,94.14 q2.28,-4.53 5.23,-2.22 q-1.08,-1.87 2.99,-3.91 q-3.65,-4.34 -5.17,1.48" stroke-width="1.49"/><path d="M517.86,92.32 q-4.24,-1.62 -6.71,-1.96 q-2.64,-3.05 -1.2,-3.52 q2.81,4.82 1.65,-5.88" stroke-width="1.33"/><path d="M505.12,150.4 q1.85,2.23 -4.99,3.5 q0.35,-4.12 -4.05,5.61 q1.23,-4.09 -5.87,3" stroke-width="0.72"/><path d="M509.75,121.12 q2.2,-1.63 -5.59,2.86 q-1.95,2.55 5.85,-5.66 q-4.43,0.14 -3.63,-2.2" stroke-width="0.32"/><path d="M508.58,104.29 q-0.85,-4.28 5.04,-5.51 q4.83,1.76 6.79,-5.28 q3.94,4.64 3.89,0.96" stroke-width="1.08"/><path d="M528.78,104.78 q-2.57,-0.24 -5.15,-3.64 q-4.92,-0.34 6.61,-3.94 q4.73,3.11 -3.07,1.13" stroke-width="1.24"/><path d="M507.41,84.68 q1.2,-3.3 0.84,4.58 q-0.73,-2.76 1.36,-1.06 q-0.63,-3.22 2.56,-1.86" stroke-width="1.48"/><path d="M517.86,83.79 q-0.62,-3.24 6.21,0.47 q3.75,-2.53 1.51,5.52 q-0.89,-2.16 -2.3,5.25" stroke-width="0.82"/><path d="M540.76,70.16 q1.39,2.05 5.13,0.43 q0.41,-3.55 -4.26,4.75 q-4.38,4.01 -5.27,-1.39" stroke-width="1.05"/><path d="M535.78,138.98 q4.34,-4.57 -2.11,-3.61 q-1.01,-2.31 5.97,0.61 q-1.22,-3.12 -1.51,-2.16" stroke-width="0.43"/><path d="M511.13,109.77 q-0.45,2.78 5,3.16 q1.26,0.41 -5.72,0.89 q-0.67,2.56 -1.73,-4.53" stroke-width="0.76"/><path d="M528.69,124.51 q-4.43,-2.78 -3.28,-0.19 q-3.81,4.45 -2.36,-5.99 q-2.6,0.02 1.62,3.78" stroke-width="0.4"/><path d="M550.52,111.89 q1.47,-1.93 -4.92,-5.88 q4.61,3.9 -0.75,1.22 q-0.23,1.89 -5.61,3.05" stroke-width="0.51"/><path d="M547.19,144.53 q4.74,-0.1 -5.11,-0.12 q4.94,0.94 -6.5,5.29 q3.35,-1.38 3.75,4.99" stroke-width="0.57"/><path d="M523.99,132.29 q1.79,-3.83 -2.84,-4.37 q3.32,-1.04 -2.79,2.61 q4.86,-3.59 2.68,-3.26" stroke-width="1.25"/><path d="M545.22,117.52 q-3.77,3.52 -5.45,0.96 q4.59,-2.32 -0.27,2.11 q1.46,-1.76 -1.17,4.75" stroke-width="1.16"/><path d="M540.13,84.98 q0.42,2.37 -3.55,-2.31 q4,-0.41 -0.07,-2.76 q3.73,3.65 0.37,0.22" stroke-width="0.58"/><path d="M536.28,70.56 q0.77,2.5 0.07,1.53 q-3.82,-0.42 3.97,-1.52 q2.44,0.99 4.31,2.87" stroke-width="0.67"/><path d="M548.16,104.72 q2.19,-0.86 1.07,-2.1 q-0.38,-1.92 5.52,1.36 q1.14,0.23 -0.5,-3.91" stroke-width="1.08"/><path d="M500.15,113.43 q2.3,-0.83 0.6,5.43 q3.03,-3.56 2.46,2.86 q2.85,0.08 -0.95,-4.32" stroke-width="0.66"/><path d="M515.33,103.08 q-4.13,-2.75 0.82,4.59 q-0.73,4.63 -3.41,-4.76 q3.39,-1.22 -3.08,-0.67" stroke-width="1.03"/><path d="M529.98,118.02 q3.31,-1.76 -5.81,-0.65 q-3.8,-0.22 -6.55,0.15 q-0.31,3.68 0.99,-1.39" stroke-width="1.32"/><path d="M542.81,107.85 q2.3,4.3 1.51,2.12 q2.3,-2.36 2.44,0.99 q0.13,4.57 3.56,2.34" stroke-width="0.77"/><path d="M554.35,127.69 q-4.2,-2.41 -4.69,4.86 q-2.72,0.12 4.28,-5.53 q-0.17,1.15 -3.82,0.62" stroke-width="0.63"/><path d="M499.89,150.88 q-4.96,-0.74 0.97,0.12 q-1.61,0.08 -2.58,1.94 q-4.7,-1.55 2.12,-0.52" stroke-width="0.32"/><path d="M559.21,105.27 q3.74,-2.48 -4.88,-5.63 q-0.61,0.45 -1.75,4.48 q0.05,-0.91 2.55,-4.43" stroke-width="1.29"/><path d="M519.09,142.88 q3.26,0.91 0.84,-5.86 q0.59,-4.42 0.37,-3.32 q1.08,-3.42 -2.41,3.24" stroke-width="1"/><path d="M513.8,100.91 q-4.22,-1.34 2.38,1.08 q-2.5,4.66 4.61,-3.36 q2.21,0.27 2.1,0.18" stroke-width="0.39"/><path d="M524.22,115.33 q-3.32,4.13 -1.54,-0.02 q3.4,3.33 6.96,2.5 q0.32,-0.7 3.89,1.45" stroke-width="0.31"/><path d="M504.51,137.25 q-1.9,-2.4 3.04,-5.38 q3.94,-2.73 2.87,0.61 q-0.81,-0.99 2.05,1.79" stroke-width="0.42"/><path d="M532.35,110.24 q3.66,-4.2 -2.2,4.03 q2.94,-4.36 -0.75,5.92 q4.79,-1.82 3.42,-2.03" stroke-width="0.38"/><path d="M527.35,82.73 q4.85,-1.56 4.17,-1.48 q-1.69,-0.66 0.97,4.55 q2.18,-2.67 -1.95,2.3" stroke-width="0.41"/><path d="M536.83,88.32 q2.91,-2.39 -1.89,-1.15 q3.49,-4.52 4.36,-4.87 q4.71,0.56 3.5,0.18" stroke-width="1.1"/><path d="M535.29,124.69 q-1.48,0.66 -1.95,-1 q0.28,-3.98 2.38,5.76 q-3.47,4.82 -0.31,0.76" stroke-width="1.4"/><path d="M546.12,90.56 q-2.67,4.77 -3.29,-4.76 q4.32,4.26 -4,0.35 q3.73,-1.79 -2.23,-5.95" stroke-width="0.46"/><path d="M500.55,99.55 q-2.98,4.15 4.45,-4.36 q0.71,2.71 -0.55,1.55 q1.94,-3.21 6.27,-2.29" stroke-width="0.43"/><path d="M531.66,148.66 q-2.06,-0.23 -5.45,2.25 q-3.97,-4.83 -4.38,5.06 q2.12,4.03 -2.88,-2.56" stroke-width="0.99"/><path d="M511.06,150.98 q4.4,-0.65 -5.46,2.97 q3.87,2.88 6.17,5.38 q0.78,3.77 0.11,-0.55" stroke-width="1.33"/><path d="M507.26,95.46 q0.49,-3.63 1.88,-1.51 q-2,3.51 3.39,-0.66 q-2.4,0.1 2.08,3.12" stroke-width="1.09"/><path d="M516.78,77.86 q-1.98,0.76 3.82,3.31 q-0.03,-1.1 -5.01,4.38 q0.05,-2.19 -4.45,-3.93" stroke-width="0.7"/><path d="M537.91,85.67 q2.8,3.45 -5.14,-4.22 q1.72,-4.5 -0.31,4.36 q2.97,1.08 1.39,-4.52" stroke-width="1.49"/><path d="M545.31,83.13 q-3.81,0.36 -4.72,-0.01 q1.84,-4.13 -4.26,0.51 q-1.21,-3.88 2.62,-4.27" stroke-width="0.72"/><path d="M499.87,75.43 q0.35,-1.46 3.9,-1.09 q-2.43,-3.39 6.89,3.17 q1.81,-2.79 -0.8,3.07" stroke-width="1.08"/><path d="M503.87,120.67 q1.37,0.45 5.74,2.24 q1.94,4.22 -6.83,4.95 q3.02,0.03 -0.09,0.44" stroke-width="1.28"/><path d="M504.09,91.11 q-1.56,-3.85 -4.7,2.46 q3.25,1.53 -2.71,-0.72 q-4.69,-3.93 -4.71,-5.2" stroke-width="0.81"/><path d="M509.41,119.46 q-5,-2.9 3.26,-2.86 q-0.95,4.06 0.37,4.39 q4.55,3.38 0.8,-3.89" stroke-width="1"/><path d="M517.03,145.91 q0.78,-0.16 -4.94,0.69 q-3.7,-4.33 -2.33,-2.91 q2.82,0.64 1.97,-2.66" stroke-width="0.77"/><path d="M552.98,87.11 q-0.72,-2.08 1.25,-3.15 q-1.27,1.96 -0.32,-1.3 q-3.22,1.65 -5.16,5.15" stroke-width="1.21"/><path d="M507.01,117.25 q-4.91,-4.68 1.68,-5.91 q-0.87,-1.47 5.18,-1.79 q-2.95,1.8 -4.84,5.75" stroke-width="1.41"/><path d="M536.1,84.54 q-2.99,2.15 -0.85,2.46 q-2.91,0.69 4.97,-2.56 q3.34,-3.56 2.32,-5.5" stroke-width="0.59"/><path d="M501.01,144.69 q-1.49,-1.76 -0.16,-3.84 q-2.25,-2.79 -3.42,-2.4 q-3.08,0.11 3.07,-2.97" stroke-width="0.6"/><path d="M551.16,123.92 q-4.51,2.98 3.75,5.81 q-3.12,4.33 -1.45,0.66 q-2.97,-2.48 -1.09,0.76" stroke-width="0.61"/><path d="M509.93,149.5 q-1.2,0.11 -0.21,0.5 q2.06,-3.92 0.14,2.02 q-0.05,-3.41 -4.11,0.35" stroke-width="0.62"/><path d="M539.47,77.02 q-2.93,3.24 5.86,-5.33 q-4.01,-1.6 -1.94,2.14 q4.42,1.35 -2.35,-3.35" stroke-width="0.38"/><path d="M535.09,116.63 q-0.46,-1.33 2.37,-4.02 q2.32,0.34 4.86,-3.04 q3.33,-0.93 3.83,4.42" stroke-width="1.18"/><path d="M550.02,100.59 q2.39,2.3 5.66,-1.63 q3.49,-3.1 1.18,5.37 q2.44,2.57 -4.47,-1.53" stroke-width="0.97"/><path d="M543.85,79.03 q-3.56,-0.09 -0.43,-5.3 q-3.83,4.32 5.9,-2.61 q0.95,2.35 -4.22,-3.54" stroke-width="0.35"/><path d="M545.42,147.99 q-1.31,2.29 2.72,-5.25 q2.46,-0.24 4.43,0.59 q-2.4,2.84 0.69,4.64" stroke-width="1.01"/><path d="M537.58,104.06 q-3.38,-1.72 -6.03,3.88 q0.6,-0.65 5.15,3.94 q-1.04,-4.67 1.23,-3.21" stroke-width="1.03"/><path d="M504.74,119.32 q0.33,-4.79 -5.5,1.7 q0.47,1.46 2.18,4.92 q3.24,-4.05 6.03,5.26" stroke-width="1.08"/><path d="M504.17,74.25 q-1.55,-0.14 1.51,-5.82 q2.4,-4.15 6.38,-0.83 q-3.46,-0.87 1.26,-4.31" stroke-width="1.34"/><path d="M498.58,71.41 q-3.58,-4.13 -2.69,-3.65 q-3.56,-0.16 6.78,-0.22 q-3.21,0.35 1.16,-4.1" stroke-width="0.45"/><path d="M550.63,75.42 q-1.92,-0.73 1.46,-0.61 q-2.38,-4.58 -5.29,1.83 q0.01,-0.99 -2.51,5.54" stroke-width="0.64"/><path d="M528.12,77.15 q3.5,3.82 1.04,0.38 q2.82,-1.42 -6.71,5.48 q-0.32,-1.61 5.36,4.87" stroke-width="0.83"/><path d="M559.26,112.1 q0.07,4.39 -5.13,2.43 q-2.96,-1.76 3.95,-5.08 q4.16,2.18 5.98,4.16" stroke-width="1.01"/><path d="M523.91,75.63 q-2.93,-2.26 5.23,-0.28 q-0.17,-0.81 6.31,2.8 q-2.51,-1.62 4.61,-5.69" stroke-width="0.74"/><path d="M508.4,133.7 q-3.97,-3.95 1.43,4.83 q1.9,3.54 4.98,2.03 q4.24,4.71 4.72,-4.23" stroke-width="0.65"/><path d="M529.12,77.3 q-1.11,1.32 -3.96,0.15 q0.72,2.63 -6.5,-3.22 q4.21,4.14 -0.16,-5.83" stroke-width="0.64"/><path d="M552.24,95.18 q1.39,4.94 -1.09,-0.76 q4.9,0.71 -6.84,0.71 q-3.69,-4.63 5.29,3.06" stroke-width="0.78"/><path d="M504.95,126.15 q1.62,-0.24 6.7,-4.74 q1.26,-3.97 2.22,1.92 q-3.62,-0.23 -3.46,0.29" stroke-width="0.74"/><path d="M512.48,129.05 q-0.14,-3.59 -3.1,-1.44 q-2.21,-3.39 0.7,2.57 q-4.96,1.88 -4.22,-0.01" stroke-width="1.27"/><path d="M510.82,96.65 q-4.75,4.55 4.78,-2.68 q3.33,-4.18 0.73,-5.87 q-4.04,4.75 -5.72,-2.4" stroke-width="1.13"/><path d="M556.2,72.07 q-1.66,-3.34 -5.17,-5.24 q4.09,3.75 -6.6,4.85 q1.97,3.83 -2.48,-5.61" stroke-width="0.62"/><path d="M512.37,104.44 q-2.37,-0.25 3.62,-4.5 q4.99,0.03 4.89,-0.58 q-1.27,0.65 -6.01,-3.61" stroke-width="0.44"/><path d="M535.11,116.44 q1.38,3.35 -3.17,1.16 q-0.77,-2.36 -4.54,0.65 q0.32,-2.92 1.23,-4.18" stroke-width="1.14"/><path d="M549.64,90.64 q1.52,2.78 -4.6,3.55 q3.83,-1.82 3.81,-5.32 q-3.84,-0.86 -1.41,-4.44" stroke-width="0.88"/><path d="M539.15,72.1 q-1.78,-1.67 3.89,-5.62 q2.28,-0.79 -5.57,-1.49 q-2.28,1.71 -3.38,-3.07" stroke-width="1.27"/><path d="M545.99,117.9 q-2.8,-1.13 -2.3,2.44 q-2.04,3.52 0.54,-1 q2.55,-1.67 -1.43,1.67" stroke-width="0.49"/><path d="M530.94,111.82 q-2.68,-4.34 -2.01,-3.45 q0.42,-3.69 -3.41,-2.7 q-4.75,2.97 -2,2.49" stroke-width="1.18"/><path d="M502.63,130.8 q-1.96,0.05 -3.94,-0.95 q3.71,-1.31 5.04,4.66 q0.27,2.5 4.64,1.64" stroke-width="0.45"/><path d="M522.48,150.36 q0.69,-2.15 1.96,-2.15 q1.03,2.3 3.02,1.04 q-0.91,-3.22 -5.76,-4.8" stroke-width="0.73"/></g>
<g fill="#f4e5b8" stroke="#ecdba6" stroke-width="0.3"><circle cx="529.31" cy="85.05" r="2.49"/><circle cx="523.81" cy="87.03" r="2.74"/><circle cx="526.89" cy="89.04" r="2.76"/><circle cx="523.81" cy="85.78" r="1.6"/><circle cx="524.31" cy="90.6" r="1.53"/><circle cx="527.33" cy="83.78" r="2.17"/><circle cx="522.4" cy="89.63" r="2.12"/><circle cx="532.63" cy="84.44" r="1.65"/><circle cx="529.69" cy="85.19" r="2.81"/><circle cx="530.97" cy="91.57" r="2.31"/><circle cx="532.05" cy="84.11" r="2.19"/><circle cx="526.72" cy="88.91" r="2.08"/><circle cx="535.71" cy="87.94" r="2.49"/><circle cx="526.41" cy="92.44" r="2.55"/><circle cx="528.66" cy="88.67" r="2.44"/><circle cx="530.19" cy="83.77" r="1.56"/><circle cx="528.12" cy="84.28" r="1.84"/><circle cx="529.49" cy="90.52" r="1.73"/><circle cx="532.2" cy="81.15" r="2.03"/><circle cx="528.81" cy="82" r="2.67"/><circle cx="535.57" cy="87.02" r="2.2"/><circle cx="536.19" cy="81.24" r="1.5"/><circle cx="536.2" cy="81.91" r="1.46"/><circle cx="540.21" cy="86.39" r="2.53"/><circle cx="533.91" cy="81.16" r="2.55"/><circle cx="533.13" cy="82.19" r="2.81"/><circle cx="539.28" cy="88.44" r="2.62"/><circle cx="533" cy="80.69" r="1.8"/><circle cx="543.03" cy="90.43" r="1.6"/><circle cx="538.85" cy="80.63" r="2.12"/><circle cx="542.75" cy="85.67" r="1.82"/><circle cx="535.55" cy="89.97" r="2.18"/><circle cx="534.04" cy="83.47" r="1.57"/><circle cx="539.53" cy="83" r="2.02"/><circle cx="536.24" cy="93.56" r="2.51"/><circle cx="535.4" cy="90.41" r="1.59"/><circle cx="544.74" cy="89.06" r="2.53"/><circle cx="541.09" cy="91.34" r="1.98"/><circle cx="544.04" cy="86.1" r="1.64"/><circle cx="544.75" cy="94.41" r="2.32"/><circle cx="539.62" cy="86.03" r="1.75"/><circle cx="542.67" cy="88.43" r="1.89"/><circle cx="544.89" cy="89.5" r="1.74"/><circle cx="539.13" cy="92.03" r="1.65"/><circle cx="546.04" cy="86.12" r="2"/><circle cx="542.71" cy="95.36" r="1.66"/><circle cx="549.92" cy="89.27" r="1.75"/><circle cx="545.6" cy="96.36" r="2.27"/><circle cx="542.25" cy="97.3" r="1.73"/><circle cx="550.15" cy="95.39" r="2.81"/><circle cx="552.36" cy="94.44" r="2.41"/><circle cx="550.67" cy="97.86" r="1.9"/><circle cx="550.52" cy="94.54" r="2.33"/><circle cx="545.09" cy="95.44" r="2.07"/><circle cx="543.38" cy="96.05" r="1.78"/><circle cx="545.87" cy="99.41" r="2.46"/><circle cx="541.51" cy="101.2" r="1.57"/><circle cx="543.02" cy="90.6" r="2.67"/><circle cx="543.87" cy="91.62" r="1.93"/><circle cx="547.82" cy="95.04" r="1.47"/><circle cx="544.36" cy="99.35" r="2.55"/><circle cx="551.1" cy="103.42" r="2.21"/><circle cx="542.85" cy="96.72" r="2.72"/><circle cx="547.39" cy="99.99" r="2.58"/><circle cx="544.37" cy="98.49" r="2.27"/><circle cx="541.53" cy="103.85" r="2.54"/><circle cx="543.08" cy="102.73" r="1.95"/><circle cx="541.45" cy="95.5" r="1.9"/><circle cx="543.49" cy="105.65" r="2.27"/><circle cx="550.52" cy="104.99" r="1.85"/><circle cx="544.41" cy="107.18" r="1.78"/><circle cx="541.19" cy="99.56" r="2.44"/><circle cx="550.77" cy="108.22" r="2.69"/><circle cx="542.2" cy="109.39" r="1.94"/><circle cx="542.92" cy="102.62" r="2.75"/><circle cx="542.73" cy="108.86" r="1.79"/><circle cx="547.64" cy="110.84" r="2.12"/><circle cx="546.85" cy="110.12" r="1.78"/><circle cx="546.09" cy="104.31" r="1.54"/><circle cx="539.35" cy="107.77" r="1.6"/><circle cx="543.41" cy="109.44" r="1.98"/><circle cx="547.33" cy="104.65" r="2.55"/><circle cx="546.42" cy="105.17" r="2.09"/><circle cx="538.09" cy="110.98" r="1.73"/><circle cx="549.39" cy="104.28" r="2.32"/><circle cx="542.72" cy="109.1" r="2.61"/><circle cx="542.84" cy="113.03" r="2.67"/><circle cx="547.93" cy="114.19" r="2.85"/><circle cx="548.5" cy="111.1" r="1.63"/><circle cx="538.85" cy="107.98" r="2.4"/><circle cx="543.63" cy="112.57" r="1.67"/><circle cx="542" cy="110.48" r="1.52"/><circle cx="542.93" cy="110.15" r="1.92"/><circle cx="542.21" cy="113.06" r="1.75"/><circle cx="545.87" cy="120.16" r="2.32"/><circle cx="547.72" cy="119.86" r="1.48"/><circle cx="544.94" cy="121.4" r="1.83"/><circle cx="544.87" cy="116.8" r="2.84"/><circle cx="541.96" cy="120.95" r="2.1"/><circle cx="536.26" cy="117.13" r="2"/><circle cx="536.11" cy="114.97" r="1.71"/><circle cx="545.9" cy="122.45" r="2.22"/><circle cx="545.69" cy="116.98" r="2.39"/><circle cx="542.74" cy="124.28" r="2.45"/><circle cx="537.66" cy="119.41" r="2.59"/><circle cx="543.45" cy="116.45" r="2.81"/><circle cx="540.15" cy="123.7" r="2.81"/><circle cx="543.48" cy="116.33" r="2.09"/><circle cx="534.5" cy="117.38" r="1.59"/><circle cx="535.93" cy="116.4" r="2.48"/><circle cx="544.26" cy="124.29" r="2.66"/><circle cx="540.06" cy="122.01" r="2.08"/><circle cx="532.59" cy="125.55" r="1.63"/><circle cx="542.62" cy="120.11" r="2.11"/><circle cx="539.19" cy="122.78" r="2.07"/><circle cx="543.39" cy="127.53" r="1.67"/><circle cx="539.11" cy="127.14" r="1.86"/><circle cx="532.25" cy="125.2" r="2"/><circle cx="535.62" cy="126.82" r="1.57"/><circle cx="536.98" cy="129.29" r="2.59"/><circle cx="538.07" cy="121.49" r="1.89"/><circle cx="532.99" cy="131.43" r="2.67"/><circle cx="535.29" cy="122.61" r="2.45"/><circle cx="539.25" cy="131.67" r="2.74"/><circle cx="530.64" cy="132.1" r="2.45"/><circle cx="536.81" cy="122.33" r="2.78"/><circle cx="537.55" cy="128.94" r="2.42"/><circle cx="533.08" cy="125.11" r="2.61"/><circle cx="534.52" cy="129.66" r="2.29"/><circle cx="535.11" cy="126.8" r="2.55"/><circle cx="533.38" cy="132.69" r="2.04"/><circle cx="535.86" cy="124.54" r="2.19"/><circle cx="530.04" cy="133.55" r="2.4"/><circle cx="527.38" cy="124.4" r="2.14"/><circle cx="527.57" cy="126.63" r="1.99"/><circle cx="530.05" cy="131.04" r="1.59"/><circle cx="523.44" cy="131.93" r="2.09"/><circle cx="531.47" cy="125.38" r="2.69"/><circle cx="529.9" cy="131.04" r="2.78"/><circle cx="522.75" cy="130.8" r="2.86"/><circle cx="521.99" cy="127.01" r="2.5"/><circle cx="522.88" cy="133.15" r="1.44"/><circle cx="520.68" cy="131.87" r="1.87"/><circle cx="527.88" cy="132.65" r="2.25"/><circle cx="518.93" cy="129.78" r="1.6"/><circle cx="523.17" cy="128.69" r="1.74"/><circle cx="520.78" cy="136.52" r="1.8"/><circle cx="526.95" cy="126.64" r="2.37"/><circle cx="521.46" cy="130.33" r="1.68"/><circle cx="524.29" cy="129.14" r="2.02"/><circle cx="519.51" cy="132.01" r="1.74"/><circle cx="517.18" cy="135.67" r="2.35"/><circle cx="523.94" cy="134.91" r="1.86"/><circle cx="525.5" cy="132.93" r="1.44"/><circle cx="521.01" cy="135.56" r="1.5"/><circle cx="521.34" cy="131.16" r="1.7"/><circle cx="518.58" cy="135.61" r="2.62"/><circle cx="523.36" cy="132.4" r="1.61"/><circle cx="520.27" cy="131.91" r="2.34"/><circle cx="517.95" cy="132.98" r="2.35"/><circle cx="519.22" cy="138.73" r="2.26"/><circle cx="514.77" cy="134.72" r="2.85"/><circle cx="513.84" cy="127.9" r="1.54"/><circle cx="519.17" cy="139.45" r="2.1"/><circle cx="510.44" cy="131.32" r="2.15"/><circle cx="517.39" cy="135.52" r="2.65"/><circle cx="519.7" cy="132.22" r="1.95"/><circle cx="508.2" cy="140.22" r="2.77"/><circle cx="511.56" cy="139.99" r="2.59"/><circle cx="515.62" cy="137.78" r="2.44"/><circle cx="512.57" cy="132.09" r="2.04"/><circle cx="509.38" cy="136.66" r="1.8"/><circle cx="515.28" cy="133.83" r="1.6"/><circle cx="510.12" cy="141.3" r="2.35"/><circle cx="508.08" cy="130.48" r="1.52"/><circle cx="504.89" cy="140.22" r="2.3"/><circle cx="510.47" cy="130.29" r="2.03"/><circle cx="505.61" cy="139.57" r="2.01"/><circle cx="504.97" cy="142.17" r="1.5"/><circle cx="502.76" cy="138.61" r="2.73"/><circle cx="505.04" cy="134.3" r="1.69"/><circle cx="506.18" cy="138.57" r="2.07"/><circle cx="500.29" cy="134.67" r="2.36"/><circle cx="503.28" cy="139.38" r="2.82"/><circle cx="504.44" cy="143.08" r="1.47"/><circle cx="501.96" cy="132.25" r="2.6"/><circle cx="502.59" cy="135.07" r="1.75"/><circle cx="506.66" cy="131.84" r="2.45"/><circle cx="498.3" cy="143.08" r="2.33"/><circle cx="502.49" cy="132.54" r="1.46"/><circle cx="501.28" cy="140.99" r="2.41"/><circle cx="502.42" cy="135.49" r="2.54"/><circle cx="502.88" cy="141.94" r="2.69"/><circle cx="553.1" cy="139.43" r="2.13"/><circle cx="552.37" cy="144.56" r="1.86"/><circle cx="550.04" cy="139.01" r="2.12"/><circle cx="553.16" cy="147.66" r="1.7"/><circle cx="554.56" cy="143.34" r="2.3"/><circle cx="554.04" cy="143.73" r="2.08"/><circle cx="551.73" cy="148.75" r="1.28"/><circle cx="547.68" cy="150.47" r="2.32"/><circle cx="557.05" cy="147.3" r="2.51"/><circle cx="554.78" cy="142.56" r="2.16"/><circle cx="557.01" cy="151.02" r="2.04"/><circle cx="557.24" cy="150.36" r="1.3"/><circle cx="550.18" cy="151.69" r="2.49"/><circle cx="551.96" cy="142.75" r="2.24"/><circle cx="553.43" cy="152.91" r="2.32"/><circle cx="550.27" cy="148.55" r="1.9"/><circle cx="549.57" cy="152.84" r="1.79"/><circle cx="554.07" cy="147.76" r="2.22"/><circle cx="560.25" cy="146.09" r="2.32"/><circle cx="556.48" cy="149.92" r="1.31"/><circle cx="553.43" cy="153.96" r="2.31"/><circle cx="556.62" cy="152.67" r="1.54"/></g>
<g fill="#fbf2d6" fill-opacity="0.8"><circle cx="528.91" cy="84.65" r="1.24"/><circle cx="526.49" cy="88.64" r="1.38"/><circle cx="523.91" cy="90.2" r="0.77"/><circle cx="522" cy="89.23" r="1.06"/><circle cx="529.29" cy="84.79" r="1.4"/><circle cx="531.65" cy="83.71" r="1.09"/><circle cx="535.31" cy="87.54" r="1.24"/><circle cx="528.26" cy="88.27" r="1.22"/><circle cx="527.72" cy="83.88" r="0.92"/><circle cx="531.8" cy="80.75" r="1.02"/><circle cx="535.17" cy="86.62" r="1.1"/><circle cx="535.8" cy="81.51" r="0.73"/><circle cx="533.51" cy="80.76" r="1.27"/><circle cx="538.88" cy="88.04" r="1.31"/><circle cx="542.63" cy="90.03" r="0.8"/><circle cx="542.35" cy="85.27" r="0.91"/><circle cx="533.64" cy="83.07" r="0.78"/><circle cx="535.84" cy="93.16" r="1.25"/><circle cx="544.34" cy="88.66" r="1.27"/><circle cx="543.64" cy="85.7" r="0.82"/><circle cx="539.22" cy="85.63" r="0.87"/><circle cx="544.49" cy="89.1" r="0.87"/><circle cx="545.64" cy="85.72" r="1"/><circle cx="549.52" cy="88.87" r="0.87"/><circle cx="541.85" cy="96.9" r="0.86"/><circle cx="551.96" cy="94.04" r="1.2"/><circle cx="550.12" cy="94.14" r="1.16"/><circle cx="542.98" cy="95.65" r="0.89"/><circle cx="541.11" cy="100.8" r="0.79"/><circle cx="543.47" cy="91.22" r="0.96"/><circle cx="543.96" cy="98.95" r="1.27"/><circle cx="542.45" cy="96.32" r="1.36"/><circle cx="543.97" cy="98.09" r="1.13"/><circle cx="542.68" cy="102.33" r="0.97"/><circle cx="543.09" cy="105.25" r="1.13"/><circle cx="544.01" cy="106.78" r="0.89"/><circle cx="550.37" cy="107.82" r="1.34"/><circle cx="542.52" cy="102.22" r="1.38"/><circle cx="547.24" cy="110.44" r="1.06"/><circle cx="545.69" cy="103.91" r="0.77"/><circle cx="543.01" cy="109.04" r="0.99"/><circle cx="546.02" cy="104.77" r="1.04"/><circle cx="548.99" cy="103.88" r="1.16"/><circle cx="542.44" cy="112.63" r="1.34"/><circle cx="548.1" cy="110.7" r="0.81"/><circle cx="543.23" cy="112.17" r="0.83"/><circle cx="542.53" cy="109.75" r="0.96"/><circle cx="545.47" cy="119.76" r="1.16"/><circle cx="544.54" cy="121" r="0.92"/><circle cx="541.56" cy="120.55" r="1.05"/><circle cx="535.71" cy="114.57" r="0.86"/><circle cx="545.29" cy="116.58" r="1.19"/><circle cx="537.26" cy="119.01" r="1.29"/><circle cx="539.75" cy="123.3" r="1.4"/><circle cx="534.1" cy="116.98" r="0.79"/><circle cx="543.86" cy="123.89" r="1.33"/><circle cx="532.19" cy="125.15" r="0.82"/><circle cx="538.79" cy="122.38" r="1.03"/><circle cx="538.71" cy="126.74" r="0.93"/><circle cx="535.22" cy="126.42" r="0.78"/><circle cx="537.67" cy="121.09" r="0.95"/><circle cx="534.89" cy="122.21" r="1.22"/><circle cx="530.24" cy="131.7" r="1.23"/><circle cx="537.15" cy="128.54" r="1.21"/><circle cx="534.12" cy="129.26" r="1.14"/><circle cx="532.98" cy="132.29" r="1.02"/><circle cx="529.64" cy="133.15" r="1.2"/><circle cx="527.17" cy="126.23" r="1"/><circle cx="523.04" cy="131.53" r="1.05"/><circle cx="529.5" cy="130.64" r="1.39"/><circle cx="521.59" cy="126.61" r="1.25"/><circle cx="520.28" cy="131.47" r="0.93"/><circle cx="518.53" cy="129.38" r="0.8"/><circle cx="520.38" cy="136.12" r="0.9"/><circle cx="521.06" cy="129.93" r="0.84"/><circle cx="519.11" cy="131.61" r="0.87"/><circle cx="523.54" cy="134.51" r="0.93"/><circle cx="520.61" cy="135.16" r="0.75"/><circle cx="518.18" cy="135.21" r="1.31"/><circle cx="519.87" cy="131.51" r="1.17"/><circle cx="518.82" cy="138.33" r="1.13"/><circle cx="513.44" cy="127.5" r="0.77"/><circle cx="510.04" cy="130.92" r="1.07"/><circle cx="519.3" cy="131.82" r="0.98"/><circle cx="511.16" cy="139.59" r="1.29"/><circle cx="512.17" cy="131.69" r="1.02"/><circle cx="514.88" cy="133.43" r="0.8"/><circle cx="507.68" cy="130.08" r="0.76"/><circle cx="510.07" cy="129.89" r="1.02"/><circle cx="504.57" cy="141.77" r="0.75"/><circle cx="504.64" cy="133.9" r="0.84"/><circle cx="499.89" cy="134.27" r="1.18"/><circle cx="504.04" cy="142.68" r="0.74"/><circle cx="502.19" cy="134.67" r="0.87"/><circle cx="497.9" cy="142.68" r="1.17"/><circle cx="500.88" cy="140.59" r="1.2"/><circle cx="502.48" cy="141.54" r="1.34"/><circle cx="551.97" cy="144.16" r="0.93"/><circle cx="552.76" cy="147.26" r="0.85"/><circle cx="553.64" cy="143.33" r="1.04"/><circle cx="547.28" cy="150.07" r="1.16"/><circle cx="554.38" cy="142.16" r="1.08"/><circle cx="556.84" cy="149.96" r="0.65"/><circle cx="551.56" cy="142.35" r="1.12"/><circle cx="549.87" cy="148.15" r="0.95"/><circle cx="553.67" cy="147.36" r="1.11"/><circle cx="556.08" cy="149.52" r="0.66"/><circle cx="556.22" cy="152.27" r="0.77"/></g>
<path d="M527.35,123.61 q1.66,-3.57 -6.85,-1.5 q-2.26,3.1 2.67,1.22 q0.58,1.61 -4.97,-0.72" fill="none" stroke="#b9b9b9" stroke-width="0.5"/>
<path d="M536.62,91.24 q4.47,3.94 -4.73,-2.5 q3.73,-2.22 6.21,0.18 q1.96,2.05 -4,-2.58" fill="none" stroke="#b9b9b9" stroke-width="0.5"/>
<path d="M512.22,114.33 q-2.48,-4.54 4.25,-2.57 q4.36,0.99 -1.55,4.48 q3.97,-1.79 -5.24,1.69" fill="none" stroke="#b9b9b9" stroke-width="0.5"/>
<path d="M534.99,124.57 q-4.87,-2.71 -0.25,2.77 q3.26,2.57 -2.24,-1.42 q3.62,4.9 -0.21,-3.66" fill="none" stroke="#b9b9b9" stroke-width="0.5"/>
<path d="M555.23,81.68 q-2.72,3.6 5.74,5.18 q0.28,-1.33 -4.36,4.93 q2.65,0.52 4.08,-2.87" fill="none" stroke="#b9b9b9" stroke-width="0.5"/>
<path d="M517.75,73.92 q4.59,3.81 2.24,-0.24 q-2.96,-2.81 -6.06,-4.87 q-0.21,3.96 6.05,0.17" fill="none" stroke="#b9b9b9" stroke-width="0.5"/>
<path d="M551.92,105.46 q4.85,-0.94 6.29,4.97 q4.99,-3.94 -3.17,2.35 q3.85,-2.43 3.76,-0.28" fill="none" stroke="#b9b9b9" stroke-width="0.5"/>
<path d="M528.78,104.78 q-2.57,-0.24 -5.15,-3.64 q-4.92,-0.34 6.61,-3.94 q4.73,3.11 -3.07,1.13" fill="none" stroke="#b9b9b9" stroke-width="0.5"/>
<path d="M550.52,111.89 q1.47,-1.93 -4.92,-5.88 q4.61,3.9 -0.75,1.22 q-0.23,1.89 -5.61,3.05" fill="none" stroke="#b9b9b9" stroke-width="0.5"/>
<path d="M500.15,113.43 q2.3,-0.83 0.6,5.43 q3.03,-3.56 2.46,2.86 q2.85,0.08 -0.95,-4.32" fill="none" stroke="#b9b9b9" stroke-width="0.5"/>
<circle cx="526" cy="74.1" r="1.75" fill="#e88cc4" stroke="#444" stroke-width="0.25"/>
<circle cx="528" cy="78" r="1.75" fill="#8c8ee0" stroke="#444" stroke-width="0.25"/>
<circle cx="521" cy="80" r="1.75" fill="#d23a3a" stroke="#444" stroke-width="0.25"/>
<circle cx="545" cy="76" r="1.75" fill="#d23a3a" stroke="#444" stroke-width="0.25"/>
<circle cx="522" cy="88" r="1.75" fill="#3a3a3a" stroke="#444" stroke-width="0.25"/>
<circle cx="528" cy="91" r="1.75" fill="#e0803a" stroke="#444" stroke-width="0.25"/>
<circle cx="532" cy="84" r="1.75" fill="#d23a3a" stroke="#444" stroke-width="0.25"/>
<circle cx="515" cy="96" r="1.75" fill="#3a3a3a" stroke="#444" stroke-width="0.25"/>
<circle cx="520" cy="104" r="1.75" fill="#d23a3a" stroke="#444" stroke-width="0.25"/>
<circle cx="513" cy="114" r="1.75" fill="#3a3a3a" stroke="#444" stroke-width="0.25"/>
<circle cx="511" cy="117" r="1.75" fill="#2424c8" stroke="#444" stroke-width="0.25"/>
<circle cx="508" cy="121" r="1.75" fill="#3a3a3a" stroke="#444" stroke-width="0.25"/>
<circle cx="520" cy="121" r="1.75" fill="#8c8ee0" stroke="#444" stroke-width="0.25"/>
<circle cx="524.5" cy="120" r="1.75" fill="#8c8ee0" stroke="#444" stroke-width="0.25"/>
<circle cx="527" cy="124" r="1.75" fill="#3a3a3a" stroke="#444" stroke-width="0.25"/>
<circle cx="510" cy="133" r="1.75" fill="#e0803a" stroke="#444" stroke-width="0.25"/>
<circle cx="533" cy="138" r="1.75" fill="#d23a3a" stroke="#444" stroke-width="0.25"/>
<circle cx="540" cy="140" r="1.75" fill="#3a3a3a" stroke="#444" stroke-width="0.25"/>
<circle cx="536" cy="145" r="1.75" fill="#3a3a3a" stroke="#444" stroke-width="0.25"/>
<circle cx="528" cy="147" r="1.75" fill="#3a3a3a" stroke="#444" stroke-width="0.25"/>
<circle cx="549" cy="136" r="1.75" fill="#3a3a3a" stroke="#444" stroke-width="0.25"/>
</g>
<ellipse cx="528.9" cy="110.7" rx="30.4" ry="41" fill="none" stroke="#4a4a4a" stroke-width="0.8"/>
<clipPath id="cpC"><ellipse cx="654.2" cy="110.5" rx="30.3" ry="39.5"/></clipPath>
<g clip-path="url(#cpC)">
<ellipse cx="654.2" cy="110.5" rx="30.3" ry="39.5" fill="#ffffff"/>
<g fill="none" stroke-linecap="round"><path d="M639.6,125.14 q1.84,3.49 -4.4,-3.23 q-3.53,-2.75 3.28,-4.44 q0.31,-2.86 -2.87,-0.82" stroke="#b0b0b0" stroke-width="2.21"/><path d="M684.38,149.45 q3.34,-4.15 4.12,4.66 q-2.38,-0.49 -0.89,-4.33 q3.77,-1.44 -3.72,4.78" stroke="#6a6a6a" stroke-width="1.86"/><path d="M664.55,141.2 q1.39,1.55 -2.16,1.14 q1.34,-2.37 -0.72,1.33 q4.87,-0.6 3.21,0.43" stroke="#8e8e8e" stroke-width="1.55"/><path d="M655.58,91.01 q-0.41,1.05 -1.46,-4.43 q-0.09,-2.65 -3.7,-3.67 q-1.34,-4.27 2.12,5.44" stroke="#6a6a6a" stroke-width="1.67"/><path d="M680.44,74.41 q-3.58,3.06 4.73,1.67 q-3.4,-0.87 5.16,4.63 q3.03,-2.97 4.95,-1.5" stroke="#8e8e8e" stroke-width="2.06"/><path d="M678.53,126.61 q-2.62,-0.04 5.06,-5.49 q2.02,-4.61 1.16,0.84 q-3.18,-3.07 4.02,0.66" stroke="#8e8e8e" stroke-width="2.28"/><path d="M628.09,121.84 q0.56,0.43 -6.46,-0.72 q-1.57,-4.07 -6.96,5.97 q-3.78,-1.98 -3.23,1.17" stroke="#6a6a6a" stroke-width="1.29"/><path d="M655.53,138.28 q-4.64,-1.8 -4.83,0.72 q0.33,3.24 -3.88,-3.51 q2.99,-1.24 3,-4.12" stroke="#6a6a6a" stroke-width="1.38"/><path d="M665.35,138.08 q-2.41,0.88 -2.02,-3.07 q-2.13,-2.96 -2.09,-5.54 q-1.02,-4.13 3.61,1.2" stroke="#a5a5a5" stroke-width="1.2"/><path d="M635.44,108.98 q0.55,-1.67 -2.95,-0.78 q-3.63,3.64 -5.43,3.88 q-2.82,-1.97 -1.56,-5.6" stroke="#a5a5a5" stroke-width="1.35"/><path d="M653.65,117.23 q0.83,-0.66 -2.09,-2.45 q4.68,-4.51 -4.67,4.65 q2.4,4.02 5.52,4.95" stroke="#7a7a7a" stroke-width="2.02"/><path d="M652.92,100.36 q-1.55,3.02 -4.01,2.62 q1.67,4.35 0.28,5.05 q-0.59,0.73 1.69,4.08" stroke="#7a7a7a" stroke-width="2.28"/><path d="M661.07,145.46 q2.6,-1.29 -1.45,-4.21 q0.45,-2.39 -1.78,5.18 q-3.33,-4.84 0.34,-2.74" stroke="#a5a5a5" stroke-width="1.31"/><path d="M672.93,104.52 q1.22,3.33 3.02,-2.51 q2.62,-3.91 -2.68,5.95 q-0.29,-2.32 3.99,-0.6" stroke="#7a7a7a" stroke-width="1.2"/><path d="M656.15,92.82 q-2.74,4.92 6.36,5.43 q-1.25,-3.43 4.7,3.61 q-0.91,-3.45 1.09,5.5" stroke="#6a6a6a" stroke-width="1.76"/><path d="M667.17,136.68 q-4.71,4.06 -0.25,0.01 q-3.75,-4.94 -5.14,-5.03 q4.04,0.71 3.15,-5.34" stroke="#6a6a6a" stroke-width="2.05"/><path d="M625.54,113 q2.77,1.81 -2.83,1.43 q1.5,2.32 -1.01,3.01 q-2.74,-4.78 -5.68,-2.2" stroke="#b0b0b0" stroke-width="1.8"/><path d="M651.13,131.02 q-1.6,-2.8 -6.29,2.41 q-0.73,4.14 3.37,-4.8 q4.14,4.32 4.44,3.98" stroke="#8e8e8e" stroke-width="2.02"/><path d="M664.33,117.67 q-2.43,-3.66 3.17,1.16 q-4.44,1.42 1.54,0.14 q2.75,3.76 -1.66,3.78" stroke="#b0b0b0" stroke-width="1.8"/><path d="M655,76.32 q3.59,0.27 -3.07,-1.45 q-3.75,-2.94 -2.42,0.96 q2.66,4.32 -2.8,5.14" stroke="#6a6a6a" stroke-width="1.23"/><path d="M647.51,109.04 q3.94,-4.39 -3.49,-5.96 q0.32,4.9 4.76,0.37 q-0.69,0.62 -6.84,1.55" stroke="#7a7a7a" stroke-width="2.25"/><path d="M663.66,146.52 q0.55,1.28 -2.61,5.9 q-3.4,-3.15 -6.22,-0.75 q4.85,-3.22 3.78,-1.09" stroke="#6a6a6a" stroke-width="1.3"/><path d="M675.59,83.25 q-4.46,1.21 0.26,0.25 q2.82,-3.26 2.89,-0.88 q-0.78,-2.55 -3.06,0.95" stroke="#a5a5a5" stroke-width="1.86"/><path d="M640.88,127.53 q-4.03,1.52 -4.75,4.29 q4.65,-2.46 4.31,-3.36 q-1.95,-3.97 -0.82,-4.75" stroke="#b0b0b0" stroke-width="2.05"/><path d="M656.93,81.81 q-0.22,-0.22 4.78,-4.5 q2.12,-0.1 2.75,3.23 q3.56,-2.31 -6.79,5.04" stroke="#b0b0b0" stroke-width="2.05"/><path d="M632.4,98.48 q-0.71,-0.64 -2,-2.06 q-1.51,-3.07 -4.93,-4.08 q-3.31,-0.73 -6.21,5.48" stroke="#7a7a7a" stroke-width="1.72"/><path d="M653.7,114.58 q3.17,1.19 -1.73,-5.76 q2.9,-1.6 -0.99,-2.55 q0.55,-0.99 4.68,1.13" stroke="#6a6a6a" stroke-width="1.87"/><path d="M650.59,113.38 q2.5,2.23 3.41,4.69 q0.58,0.55 -4.36,-3.11 q-0.65,-0.01 5.59,-5.49" stroke="#6a6a6a" stroke-width="1.62"/><path d="M648.16,119.65 q-0.6,-2.94 3.56,-1.28 q-1.09,-2.78 2.27,-3.7 q3.79,-2.95 -6.48,-5.8" stroke="#b0b0b0" stroke-width="1.83"/><path d="M647.72,143.36 q0.05,3.66 -0.65,-0.09 q-0.1,1.29 -5.86,0.42 q1.89,-4.87 2.95,-0.13" stroke="#7a7a7a" stroke-width="1.41"/><path d="M625.56,126.44 q0.6,-2.96 -0.28,-1.03 q-4.58,-2.23 4.22,0.31 q-3.52,-3.45 4.54,5.68" stroke="#7a7a7a" stroke-width="1.41"/><path d="M641.77,125.93 q4.61,1.66 -0.08,1.24 q-2.51,-0.32 -5.37,2.65 q-4.34,0.27 -4.49,0.76" stroke="#7a7a7a" stroke-width="1.27"/><path d="M647.04,87.23 q4.99,-0.49 4.26,-2.06 q-0.52,1 3.74,4.59 q3.39,0.79 6.13,2.43" stroke="#7a7a7a" stroke-width="2.15"/><path d="M654.43,104.94 q3.12,-1 -1.21,3.34 q-2.13,2.71 -6.91,3.17 q-0.43,2.13 4.28,-3.78" stroke="#6a6a6a" stroke-width="1.22"/><path d="M682,115.25 q1.06,4.11 2.87,4.78 q1.62,4.21 -5.21,-2.04 q4.83,-4.82 -1.4,-4.8" stroke="#a5a5a5" stroke-width="1.24"/><path d="M650.69,76.58 q3.91,-3.91 -1.89,1.43 q1.64,3.99 -4.54,0.83 q3.79,-0.33 3,-0.4" stroke="#b0b0b0" stroke-width="2.06"/><path d="M644.49,129.23 q-1.55,3.88 3.7,4.29 q3.74,0.95 6.31,-4.13 q0.74,-4.26 1.16,2.24" stroke="#6a6a6a" stroke-width="1.54"/><path d="M673.34,110.25 q-3.97,0.36 -2.77,-5.07 q-0.49,-3.03 -6.89,-5.43 q0.2,-0.27 -2.72,1.7" stroke="#a5a5a5" stroke-width="1.92"/><path d="M624.55,145.74 q-4.79,-3.34 -2.4,3.57 q2.43,2.43 -0.98,4.94 q-3.66,4.61 -6.3,-4.16" stroke="#6a6a6a" stroke-width="2.1"/><path d="M638.96,139.48 q0.15,-2.94 -5.65,5.87 q-4.44,-2.8 -2.01,4.72 q3.31,3.42 1.83,-5.86" stroke="#8e8e8e" stroke-width="2.09"/><path d="M669.7,91.41 q4.21,0.5 3.24,-4.34 q-0.83,-1.06 4.41,-2.23 q-2.44,1.93 -3.03,-3.27" stroke="#6a6a6a" stroke-width="1.72"/><path d="M678.06,79.32 q-2.94,-1.66 -4.64,-4.91 q1.55,-1.01 -4.34,0.18 q-3.76,1.81 6.5,-0.39" stroke="#6a6a6a" stroke-width="1.71"/><path d="M628.47,115.83 q0.08,-2.38 3.94,-1.5 q0.46,0.31 5.73,-5.21 q1.56,2.15 -6.82,-2.01" stroke="#6a6a6a" stroke-width="1.7"/><path d="M669.1,101.58 q-3.43,1.54 6.37,2.65 q-1.02,1.32 0.05,1.28 q-2.94,1.68 1.86,-1.08" stroke="#8e8e8e" stroke-width="2.01"/><path d="M648.33,76.71 q-2.3,1.96 -6.9,3.91 q3.24,-0.02 -3.15,-3.82 q1.82,2.23 5.16,3.25" stroke="#7a7a7a" stroke-width="2.19"/><path d="M643.01,77.83 q-3.53,-2.68 2.12,5.15 q-2.41,-2.07 1.22,-5.64 q-4.11,0.74 -0.49,-1.78" stroke="#7a7a7a" stroke-width="1.7"/><path d="M681.33,147.37 q4.77,2.93 4.86,-5.89 q-3.93,-2.62 6.94,-0.55 q2.42,-3.13 2.84,-4.72" stroke="#b0b0b0" stroke-width="2.15"/><path d="M628.75,104.41 q1.11,-1.01 3.99,-0.64 q-2.06,3.95 0.98,-2.94 q4.04,-0.2 1.44,-0.38" stroke="#6a6a6a" stroke-width="2.23"/><path d="M634.17,110.27 q3.41,-3.02 -3.36,-0.38 q4.17,2.32 4.99,-1.5 q-1.78,1.32 -6.54,-0.12" stroke="#b0b0b0" stroke-width="2.19"/><path d="M675.78,131 q-2.07,-0.73 6.26,-1.35 q1.5,-4.5 -0.28,0.08 q4.09,4.61 3.53,-2.02" stroke="#a5a5a5" stroke-width="2.25"/><path d="M628.52,104.55 q0.51,-1.95 -3.63,3.42 q-2.91,0.53 -6.72,-0.46 q4.64,-4.96 -5.49,4.81" stroke="#b0b0b0" stroke-width="2.3"/><path d="M631.51,138.57 q-4.62,3.08 2.56,5.49 q-0.55,-2.04 -3.74,-5.57 q-4.88,-2.26 1.87,-0.27" stroke="#8e8e8e" stroke-width="1.42"/><path d="M630.22,124.02 q-1.59,0.26 -6.41,5.37 q-2.22,1.34 1.71,-1.73 q-2.91,0.62 -2.43,-5.08" stroke="#7a7a7a" stroke-width="1.41"/><path d="M631.94,113.09 q4.6,1.68 -0.45,5.37 q1.74,-4.55 -6.2,2.13 q-4.28,-2.33 -0.37,-0.33" stroke="#b0b0b0" stroke-width="2.28"/><path d="M680.95,90.8 q4.31,-4.74 1.25,-2.06 q0.19,-3.26 -1.61,-1.81 q-0.36,-0.94 -3.94,-3.98" stroke="#b0b0b0" stroke-width="1.76"/><path d="M675.31,82.84 q1.34,-3.54 -2.44,5.95 q-1.61,-3.98 0.86,1.05 q0.11,4.47 0.18,-1.63" stroke="#b0b0b0" stroke-width="1.45"/><path d="M655.31,104.11 q-2.03,-3.46 0.21,-5.56 q-4.48,-0.86 -3.83,4.11 q-3.89,-3.86 3.14,-0.29" stroke="#8e8e8e" stroke-width="1.41"/><path d="M675.98,103.56 q-0.71,-2.4 4.64,2.28 q0.24,2.79 5.78,-5.45 q-2.8,-0.32 3,-3.1" stroke="#b0b0b0" stroke-width="1.73"/><path d="M641.72,123.89 q-4.4,-0.88 1.94,4.36 q0.11,1.65 2.29,1.77 q-0.49,-1.83 -5.21,4.64" stroke="#a5a5a5" stroke-width="2.13"/><path d="M669.54,95.84 q-3.23,0.32 -0.45,1.78 q3.73,-1.08 -1.77,2.46 q3.83,0.66 1.32,4.7" stroke="#7a7a7a" stroke-width="2.3"/><path d="M631.14,149.09 q0.24,1.99 5.24,-4.83 q3.57,-4.09 1.83,-4.96 q4.97,0.42 -5.3,4.26" stroke="#a5a5a5" stroke-width="2.4"/><path d="M654.17,149.66 q4.83,-1.92 -2.32,-4.54 q1.07,-3.21 -5.23,4.98 q0.59,3.9 -3.99,-3.88" stroke="#8e8e8e" stroke-width="1.89"/><path d="M639.25,117.1 q0.17,-3 -3.34,1.42 q-1.42,-1.38 -3.61,-2.03 q-4.71,0.78 -2.23,-3.47" stroke="#b0b0b0" stroke-width="1.83"/><path d="M663.16,142.02 q2.97,-2.15 -5.36,-3.92 q3.19,-0.55 -2.31,-5.21 q0.34,-4.09 3.09,3.65" stroke="#b0b0b0" stroke-width="1.61"/><path d="M637.04,114.79 q-0.85,0.45 -2.83,5.52 q4.91,1.99 -0.04,5.41 q4.47,-4.51 5.39,-4.7" stroke="#a5a5a5" stroke-width="1.31"/><path d="M636.62,124.49 q-0.27,-1.98 -2.24,4.51 q3.01,2.65 2.3,1.69 q0.36,-4.03 6.86,-4.69" stroke="#7a7a7a" stroke-width="1.74"/><path d="M645.78,75.15 q-0.34,0.79 -3.18,0.92 q-4.84,-2.47 -0.26,-0.22 q2.06,-2.68 -3.07,2.79" stroke="#8e8e8e" stroke-width="1.54"/><path d="M643.13,137.39 q4.94,4.09 -3.83,4.61 q5,3.62 -6.75,0.16 q-3.02,1.78 2.83,-4.62" stroke="#b0b0b0" stroke-width="1.54"/><path d="M671.51,146.62 q4.58,0.44 4.81,1.09 q-2.01,-0.85 1.36,-1.47 q3.31,-3.61 -2.36,-2.87" stroke="#6a6a6a" stroke-width="1.39"/><path d="M660.44,80.76 q-2.93,0.11 -1.54,-1.61 q2.2,-3.28 6.54,-0.26 q-1.16,-1.4 -0.1,-3.03" stroke="#a5a5a5" stroke-width="1.48"/><path d="M654.76,84.61 q1.83,-3.44 0.91,-2.05 q-0.18,4.5 0.33,5.7 q2.21,-2.73 -3.46,3.81" stroke="#8e8e8e" stroke-width="2.13"/><path d="M672.94,136.92 q-2.17,0.35 -5.91,-5.19 q0.05,1.13 -2.88,-2.83 q4.33,-1.9 0.28,2.82" stroke="#8e8e8e" stroke-width="1.82"/><path d="M672.26,120.04 q3.84,4.97 -0.48,-1.87 q-3.71,0.85 -2.58,-2.22 q0.06,2.29 2.54,-0.48" stroke="#b0b0b0" stroke-width="1.98"/><path d="M679.27,124.97 q3.49,-2.59 4.92,-5.93 q3.14,-4.85 1.53,-2.71 q-3.37,2.43 -5.08,2.16" stroke="#8e8e8e" stroke-width="1.3"/><path d="M626.85,145.78 q-0.48,-1.65 -1.64,4.56 q4.56,-1.04 4.57,-3.98 q3.68,-1.15 5.17,-4.63" stroke="#7a7a7a" stroke-width="1.97"/><path d="M646.19,105.99 q1,0.29 -5.06,-3.56 q-1.72,-4.13 3.8,4.75 q2.34,-2.8 1.23,-5.61" stroke="#a5a5a5" stroke-width="1.45"/><path d="M625.31,85.54 q-1.23,1.65 5.83,4.17 q-1.15,-0.19 -2.37,5.72 q4.28,1.93 -0.84,3.58" stroke="#7a7a7a" stroke-width="1.9"/><path d="M628.24,74.44 q4.41,-1.93 1.14,0.96 q-1.18,-4.01 3.14,-1.98 q-0.73,3.01 6.14,-2.57" stroke="#b0b0b0" stroke-width="1.6"/><path d="M651.17,141.54 q-1.27,-4.46 -3.01,4.78 q0.79,4.75 4.5,2.17 q-3.21,-0.84 -6.71,-1.99" stroke="#8e8e8e" stroke-width="1.46"/><path d="M684.43,108.75 q-0.33,-2.33 -2.48,4.99 q-3.63,0.25 4.27,-2.81 q-4.06,4.23 -0.83,1.5" stroke="#7a7a7a" stroke-width="1.83"/><path d="M681.42,101.71 q-3.62,1 -0.2,0.86 q-0.17,-2.27 4.37,-2.59 q-4.29,3.64 4.06,-3.32" stroke="#a5a5a5" stroke-width="1.73"/><path d="M651.32,148.27 q-4,-2.74 -5.64,-2.99 q4.61,-2.63 -1.8,-4.17 q-5,-1.33 2.09,3.68" stroke="#a5a5a5" stroke-width="2.13"/><path d="M649.66,105.03 q2.14,-3.1 2.57,-4.65 q4.63,-4.19 2.03,2.99 q0.53,-2.31 -1.93,4.71" stroke="#b0b0b0" stroke-width="1.75"/><path d="M633.5,81.18 q-1.89,1.59 -4.76,-4.36 q0.49,4.55 4.12,-1.17 q-4.7,-1.49 4.96,-2.65" stroke="#6a6a6a" stroke-width="2.14"/><path d="M653.32,87.47 q1.63,-4.09 -4.96,5.32 q1.67,-1.42 -5.13,2.71 q-2.59,-1.73 -3.08,1.56" stroke="#7a7a7a" stroke-width="1.49"/><path d="M623.92,113.94 q2.43,-1.68 6,4.71 q-3.29,-3.47 1.95,-2.4 q-3.96,-3.54 -6.94,-3.97" stroke="#a5a5a5" stroke-width="1.55"/><path d="M648.23,123.61 q-4.58,-0.18 -1.76,2.1 q-1.08,1.61 5.59,5.19 q3.13,2.06 6.48,-0.84" stroke="#b0b0b0" stroke-width="1.22"/><path d="M645.7,97.47 q4.49,-1 -5.14,4.87 q-4.97,-4.48 2.8,-3.93 q2.21,-4.97 -2.92,-1.25" stroke="#6a6a6a" stroke-width="1.95"/><path d="M664.96,86.34 q3.54,-4.46 -0.85,-5.39 q2.69,-0.28 -0.85,5.23 q-2.58,1.54 2.76,-5.15" stroke="#a5a5a5" stroke-width="2.12"/><path d="M634.68,113.44 q-1.41,-2.74 4.79,-4.18 q-0.46,-2.08 -1.25,-4 q-3.62,4.08 -6.5,4.06" stroke="#a5a5a5" stroke-width="2.04"/><path d="M674.91,147.21 q-0.58,0.48 -4.65,0.16 q0.12,-1.44 6.06,4.54 q3.2,-2.01 1.13,4.28" stroke="#b0b0b0" stroke-width="1.67"/><path d="M638.27,125.2 q-0.85,3.03 -5.89,4.09 q0.69,4.83 -1.62,-4.47 q-1.34,-0.08 -4.16,-3.49" stroke="#8e8e8e" stroke-width="2.29"/><path d="M628.57,86.13 q2.97,2.8 2.43,-4.76 q2.01,1.23 -2.44,-3.53 q2.42,0.51 1.41,-2.54" stroke="#8e8e8e" stroke-width="1.2"/><path d="M650.18,95.41 q-2.45,-4.98 4.77,-3.56 q1.66,2.19 4.58,-4.14 q1.22,4.71 -6.14,1.92" stroke="#7a7a7a" stroke-width="2.29"/><path d="M646.94,145.49 q-1.93,-1.45 -2.88,3.46 q-3.91,-3.42 4.34,2.94 q-3.46,-0.77 -6.17,4.14" stroke="#7a7a7a" stroke-width="2.25"/><path d="M631.53,88.4 q3.33,2.9 2.23,-1.19 q3.96,-0.5 0.75,5.28 q3.34,2.82 0.47,-3.85" stroke="#8e8e8e" stroke-width="1.26"/><path d="M641.41,96.95 q-3.36,0.45 -0.76,-5.17 q1.38,3.73 -4.41,-1.6 q1.16,2.41 -6.05,-3.87" stroke="#b0b0b0" stroke-width="1.34"/><path d="M670.91,79.24 q1.94,-2.09 1.48,-1.65 q-3.29,3.53 4.75,-1.7 q-1.28,-2.89 -2.1,-1.03" stroke="#6a6a6a" stroke-width="1.35"/><path d="M650.87,91.31 q-2.39,-3.39 -0.37,-1.03 q2.93,-1.76 -3.99,-3.97 q2.09,-3.4 -4.86,-4.99" stroke="#a5a5a5" stroke-width="1.85"/><path d="M668.82,123.25 q-1.8,-4.62 2.45,-3.64 q2.53,3.01 1.67,4.79 q0.93,-4.96 6.99,-0.75" stroke="#7a7a7a" stroke-width="1.36"/><path d="M656.92,142.66 q-1.69,3.27 3.45,-4.36 q4.14,2 6.02,0.3 q3.8,0.36 5.58,3.62" stroke="#6a6a6a" stroke-width="1.44"/><path d="M633.76,111.22 q-1.57,-0.59 -3.02,-2.34 q2.39,-1.01 0.23,-4.21 q-3.4,1.91 -1.3,0.81" stroke="#7a7a7a" stroke-width="2.29"/><path d="M643.43,94.39 q3.18,-3.24 -2.31,2.4 q-4.2,-4.07 -2.78,4.44 q-4.12,-1.58 -2.28,3.59" stroke="#b0b0b0" stroke-width="1.67"/><path d="M642.96,112.39 q3.8,-0.63 -5.31,0.14 q0.86,-2.24 4.26,-2.43 q-0.23,0.58 -6.62,4.78" stroke="#a5a5a5" stroke-width="1.95"/><path d="M684.46,145.03 q3.86,-3.49 6.19,-3.38 q-3.64,0.37 5.75,0.83 q-0.22,1 -6.55,-1.83" stroke="#6a6a6a" stroke-width="1.72"/><path d="M662.14,113.1 q0.46,0.85 -1.1,4.38 q-0.11,1.63 5.71,0.64 q1.26,0.7 3.34,0.53" stroke="#7a7a7a" stroke-width="2.03"/><path d="M629.07,142.76 q0.65,-0.4 4.43,0.97 q3.31,0.66 -4.56,5.25 q-2.8,0.16 -3.83,-5.16" stroke="#6a6a6a" stroke-width="1.79"/><path d="M648.06,142.83 q-3.71,1.16 0.5,-1 q4.58,-1.08 -0.54,4.93 q-3.96,1.37 4.15,-3.57" stroke="#b0b0b0" stroke-width="1.21"/><path d="M640.24,107.22 q-1.53,-4.57 -0.3,1.71 q-0,4.04 -2.77,2.29 q3.19,2.27 -4.79,5.64" stroke="#7a7a7a" stroke-width="1.42"/><path d="M649.71,122.56 q-2.05,-3.52 3.81,0.62 q-1.65,1.16 -0.1,0.8 q2.05,-2.04 -4.54,-5.77" stroke="#a5a5a5" stroke-width="2.26"/><path d="M675.13,125.72 q-4.63,-1.74 -4.76,5.73 q-4.85,2.68 6.24,5.14 q-2.73,3.77 -5.3,-0.8" stroke="#6a6a6a" stroke-width="2.1"/><path d="M678.45,72.33 q2.16,3.96 1.67,-4.99 q1.04,-4.06 0.09,3.74 q1.44,-3.26 4.38,-0.32" stroke="#a5a5a5" stroke-width="1.58"/><path d="M654.97,123.21 q-3.9,-1.72 3.67,1.77 q-4.28,-3.65 6.65,-4.48 q3.81,2.4 -2.91,-2.74" stroke="#8e8e8e" stroke-width="1.66"/><path d="M682.66,105.24 q-2.22,-3.67 0.7,2.24 q-4.01,1.03 -6.31,-2.88 q-1.52,0.25 2.96,-3.46" stroke="#8e8e8e" stroke-width="1.24"/><path d="M683.18,108.35 q3.88,-2.64 5.74,-5.45 q2.24,0.87 2.65,-2.44 q1.51,-0.43 -3.85,-0.78" stroke="#a5a5a5" stroke-width="2"/><path d="M676.78,125.96 q-0.3,1.96 -3.69,-1.59 q3.2,-1.75 -6.22,-5.37 q-4.68,2.2 -6.23,3.84" stroke="#b0b0b0" stroke-width="1.73"/><path d="M632.37,103.17 q3.66,1.24 -6.83,4.99 q2.38,-4.37 4.22,-5.4 q4.37,2.22 -5.9,-2.63" stroke="#8e8e8e" stroke-width="1.71"/><path d="M633.92,93.97 q3.47,4.17 5.77,2.32 q1.83,0.22 -2.6,-1.16 q-1.59,0.59 6.62,5.64" stroke="#b0b0b0" stroke-width="1.32"/><path d="M680.48,73.9 q-2.96,-3.66 -0.48,-2.38 q-0.15,-2.82 0.18,2.53 q-1.34,-2.9 2.92,2.5" stroke="#b0b0b0" stroke-width="2.1"/><path d="M645.26,117.76 q0.86,-0.86 -0.69,-0.77 q-1.07,-0.62 4.03,1.55 q3.95,3.98 -2.61,-3.07" stroke="#7a7a7a" stroke-width="1.83"/><path d="M632.04,100.54 q-0.06,-4.03 5.16,4.24 q-1.78,2.9 -4.08,-4.66 q1.41,-1.67 -1.78,3.8" stroke="#7a7a7a" stroke-width="2.11"/><path d="M643.39,138.03 q3.19,0.69 -3.38,-0.53 q2.78,4.33 -2.58,1.83 q4.05,4.38 -4.65,-0.24" stroke="#a5a5a5" stroke-width="1.42"/><path d="M670.62,144.91 q-0.82,2.16 -6.65,-3.34 q-0.35,0.41 0.11,0.78 q0.65,1.63 -6.35,3.57" stroke="#7a7a7a" stroke-width="1.25"/><path d="M677.07,72.7 q2.9,-3.99 6.05,-3.31 q-3.83,-3.31 1.01,-1.08 q-0.27,-2.02 -5.28,1.03" stroke="#7a7a7a" stroke-width="1.27"/><path d="M625.11,110.93 q-1.27,-2.57 4.99,2.22 q-2.67,3.7 4.19,-5.27 q-4.19,-4.25 5.81,2.67" stroke="#8e8e8e" stroke-width="1.86"/></g><g fill="none" stroke="#fff" stroke-linecap="round"><path d="M639.6,125.14 q1.84,3.49 -4.4,-3.23 q-3.53,-2.75 3.28,-4.44 q0.31,-2.86 -2.87,-0.82" stroke-width="1.31"/><path d="M684.38,149.45 q3.34,-4.15 4.12,4.66 q-2.38,-0.49 -0.89,-4.33 q3.77,-1.44 -3.72,4.78" stroke-width="0.96"/><path d="M664.55,141.2 q1.39,1.55 -2.16,1.14 q1.34,-2.37 -0.72,1.33 q4.87,-0.6 3.21,0.43" stroke-width="0.65"/><path d="M655.58,91.01 q-0.41,1.05 -1.46,-4.43 q-0.09,-2.65 -3.7,-3.67 q-1.34,-4.27 2.12,5.44" stroke-width="0.77"/><path d="M680.44,74.41 q-3.58,3.06 4.73,1.67 q-3.4,-0.87 5.16,4.63 q3.03,-2.97 4.95,-1.5" stroke-width="1.16"/><path d="M678.53,126.61 q-2.62,-0.04 5.06,-5.49 q2.02,-4.61 1.16,0.84 q-3.18,-3.07 4.02,0.66" stroke-width="1.38"/><path d="M628.09,121.84 q0.56,0.43 -6.46,-0.72 q-1.57,-4.07 -6.96,5.97 q-3.78,-1.98 -3.23,1.17" stroke-width="0.39"/><path d="M655.53,138.28 q-4.64,-1.8 -4.83,0.72 q0.33,3.24 -3.88,-3.51 q2.99,-1.24 3,-4.12" stroke-width="0.48"/><path d="M665.35,138.08 q-2.41,0.88 -2.02,-3.07 q-2.13,-2.96 -2.09,-5.54 q-1.02,-4.13 3.61,1.2" stroke-width="0.3"/><path d="M635.44,108.98 q0.55,-1.67 -2.95,-0.78 q-3.63,3.64 -5.43,3.88 q-2.82,-1.97 -1.56,-5.6" stroke-width="0.45"/><path d="M653.65,117.23 q0.83,-0.66 -2.09,-2.45 q4.68,-4.51 -4.67,4.65 q2.4,4.02 5.52,4.95" stroke-width="1.12"/><path d="M652.92,100.36 q-1.55,3.02 -4.01,2.62 q1.67,4.35 0.28,5.05 q-0.59,0.73 1.69,4.08" stroke-width="1.38"/><path d="M661.07,145.46 q2.6,-1.29 -1.45,-4.21 q0.45,-2.39 -1.78,5.18 q-3.33,-4.84 0.34,-2.74" stroke-width="0.41"/><path d="M672.93,104.52 q1.22,3.33 3.02,-2.51 q2.62,-3.91 -2.68,5.95 q-0.29,-2.32 3.99,-0.6" stroke-width="0.3"/><path d="M656.15,92.82 q-2.74,4.92 6.36,5.43 q-1.25,-3.43 4.7,3.61 q-0.91,-3.45 1.09,5.5" stroke-width="0.86"/><path d="M667.17,136.68 q-4.71,4.06 -0.25,0.01 q-3.75,-4.94 -5.14,-5.03 q4.04,0.71 3.15,-5.34" stroke-width="1.15"/><path d="M625.54,113 q2.77,1.81 -2.83,1.43 q1.5,2.32 -1.01,3.01 q-2.74,-4.78 -5.68,-2.2" stroke-width="0.9"/><path d="M651.13,131.02 q-1.6,-2.8 -6.29,2.41 q-0.73,4.14 3.37,-4.8 q4.14,4.32 4.44,3.98" stroke-width="1.12"/><path d="M664.33,117.67 q-2.43,-3.66 3.17,1.16 q-4.44,1.42 1.54,0.14 q2.75,3.76 -1.66,3.78" stroke-width="0.9"/><path d="M655,76.32 q3.59,0.27 -3.07,-1.45 q-3.75,-2.94 -2.42,0.96 q2.66,4.32 -2.8,5.14" stroke-width="0.33"/><path d="M647.51,109.04 q3.94,-4.39 -3.49,-5.96 q0.32,4.9 4.76,0.37 q-0.69,0.62 -6.84,1.55" stroke-width="1.35"/><path d="M663.66,146.52 q0.55,1.28 -2.61,5.9 q-3.4,-3.15 -6.22,-0.75 q4.85,-3.22 3.78,-1.09" stroke-width="0.4"/><path d="M675.59,83.25 q-4.46,1.21 0.26,0.25 q2.82,-3.26 2.89,-0.88 q-0.78,-2.55 -3.06,0.95" stroke-width="0.96"/><path d="M640.88,127.53 q-4.03,1.52 -4.75,4.29 q4.65,-2.46 4.31,-3.36 q-1.95,-3.97 -0.82,-4.75" stroke-width="1.15"/><path d="M656.93,81.81 q-0.22,-0.22 4.78,-4.5 q2.12,-0.1 2.75,3.23 q3.56,-2.31 -6.79,5.04" stroke-width="1.15"/><path d="M632.4,98.48 q-0.71,-0.64 -2,-2.06 q-1.51,-3.07 -4.93,-4.08 q-3.31,-0.73 -6.21,5.48" stroke-width="0.82"/><path d="M653.7,114.58 q3.17,1.19 -1.73,-5.76 q2.9,-1.6 -0.99,-2.55 q0.55,-0.99 4.68,1.13" stroke-width="0.97"/><path d="M650.59,113.38 q2.5,2.23 3.41,4.69 q0.58,0.55 -4.36,-3.11 q-0.65,-0.01 5.59,-5.49" stroke-width="0.72"/><path d="M648.16,119.65 q-0.6,-2.94 3.56,-1.28 q-1.09,-2.78 2.27,-3.7 q3.79,-2.95 -6.48,-5.8" stroke-width="0.93"/><path d="M647.72,143.36 q0.05,3.66 -0.65,-0.09 q-0.1,1.29 -5.86,0.42 q1.89,-4.87 2.95,-0.13" stroke-width="0.51"/><path d="M625.56,126.44 q0.6,-2.96 -0.28,-1.03 q-4.58,-2.23 4.22,0.31 q-3.52,-3.45 4.54,5.68" stroke-width="0.51"/><path d="M641.77,125.93 q4.61,1.66 -0.08,1.24 q-2.51,-0.32 -5.37,2.65 q-4.34,0.27 -4.49,0.76" stroke-width="0.37"/><path d="M647.04,87.23 q4.99,-0.49 4.26,-2.06 q-0.52,1 3.74,4.59 q3.39,0.79 6.13,2.43" stroke-width="1.25"/><path d="M654.43,104.94 q3.12,-1 -1.21,3.34 q-2.13,2.71 -6.91,3.17 q-0.43,2.13 4.28,-3.78" stroke-width="0.32"/><path d="M682,115.25 q1.06,4.11 2.87,4.78 q1.62,4.21 -5.21,-2.04 q4.83,-4.82 -1.4,-4.8" stroke-width="0.34"/><path d="M650.69,76.58 q3.91,-3.91 -1.89,1.43 q1.64,3.99 -4.54,0.83 q3.79,-0.33 3,-0.4" stroke-width="1.16"/><path d="M644.49,129.23 q-1.55,3.88 3.7,4.29 q3.74,0.95 6.31,-4.13 q0.74,-4.26 1.16,2.24" stroke-width="0.64"/><path d="M673.34,110.25 q-3.97,0.36 -2.77,-5.07 q-0.49,-3.03 -6.89,-5.43 q0.2,-0.27 -2.72,1.7" stroke-width="1.02"/><path d="M624.55,145.74 q-4.79,-3.34 -2.4,3.57 q2.43,2.43 -0.98,4.94 q-3.66,4.61 -6.3,-4.16" stroke-width="1.2"/><path d="M638.96,139.48 q0.15,-2.94 -5.65,5.87 q-4.44,-2.8 -2.01,4.72 q3.31,3.42 1.83,-5.86" stroke-width="1.19"/><path d="M669.7,91.41 q4.21,0.5 3.24,-4.34 q-0.83,-1.06 4.41,-2.23 q-2.44,1.93 -3.03,-3.27" stroke-width="0.82"/><path d="M678.06,79.32 q-2.94,-1.66 -4.64,-4.91 q1.55,-1.01 -4.34,0.18 q-3.76,1.81 6.5,-0.39" stroke-width="0.81"/><path d="M628.47,115.83 q0.08,-2.38 3.94,-1.5 q0.46,0.31 5.73,-5.21 q1.56,2.15 -6.82,-2.01" stroke-width="0.8"/><path d="M669.1,101.58 q-3.43,1.54 6.37,2.65 q-1.02,1.32 0.05,1.28 q-2.94,1.68 1.86,-1.08" stroke-width="1.11"/><path d="M648.33,76.71 q-2.3,1.96 -6.9,3.91 q3.24,-0.02 -3.15,-3.82 q1.82,2.23 5.16,3.25" stroke-width="1.29"/><path d="M643.01,77.83 q-3.53,-2.68 2.12,5.15 q-2.41,-2.07 1.22,-5.64 q-4.11,0.74 -0.49,-1.78" stroke-width="0.8"/><path d="M681.33,147.37 q4.77,2.93 4.86,-5.89 q-3.93,-2.62 6.94,-0.55 q2.42,-3.13 2.84,-4.72" stroke-width="1.25"/><path d="M628.75,104.41 q1.11,-1.01 3.99,-0.64 q-2.06,3.95 0.98,-2.94 q4.04,-0.2 1.44,-0.38" stroke-width="1.33"/><path d="M634.17,110.27 q3.41,-3.02 -3.36,-0.38 q4.17,2.32 4.99,-1.5 q-1.78,1.32 -6.54,-0.12" stroke-width="1.29"/><path d="M675.78,131 q-2.07,-0.73 6.26,-1.35 q1.5,-4.5 -0.28,0.08 q4.09,4.61 3.53,-2.02" stroke-width="1.35"/><path d="M628.52,104.55 q0.51,-1.95 -3.63,3.42 q-2.91,0.53 -6.72,-0.46 q4.64,-4.96 -5.49,4.81" stroke-width="1.4"/><path d="M631.51,138.57 q-4.62,3.08 2.56,5.49 q-0.55,-2.04 -3.74,-5.57 q-4.88,-2.26 1.87,-0.27" stroke-width="0.52"/><path d="M630.22,124.02 q-1.59,0.26 -6.41,5.37 q-2.22,1.34 1.71,-1.73 q-2.91,0.62 -2.43,-5.08" stroke-width="0.51"/><path d="M631.94,113.09 q4.6,1.68 -0.45,5.37 q1.74,-4.55 -6.2,2.13 q-4.28,-2.33 -0.37,-0.33" stroke-width="1.38"/><path d="M680.95,90.8 q4.31,-4.74 1.25,-2.06 q0.19,-3.26 -1.61,-1.81 q-0.36,-0.94 -3.94,-3.98" stroke-width="0.86"/><path d="M675.31,82.84 q1.34,-3.54 -2.44,5.95 q-1.61,-3.98 0.86,1.05 q0.11,4.47 0.18,-1.63" stroke-width="0.55"/><path d="M655.31,104.11 q-2.03,-3.46 0.21,-5.56 q-4.48,-0.86 -3.83,4.11 q-3.89,-3.86 3.14,-0.29" stroke-width="0.51"/><path d="M675.98,103.56 q-0.71,-2.4 4.64,2.28 q0.24,2.79 5.78,-5.45 q-2.8,-0.32 3,-3.1" stroke-width="0.83"/><path d="M641.72,123.89 q-4.4,-0.88 1.94,4.36 q0.11,1.65 2.29,1.77 q-0.49,-1.83 -5.21,4.64" stroke-width="1.23"/><path d="M669.54,95.84 q-3.23,0.32 -0.45,1.78 q3.73,-1.08 -1.77,2.46 q3.83,0.66 1.32,4.7" stroke-width="1.4"/><path d="M631.14,149.09 q0.24,1.99 5.24,-4.83 q3.57,-4.09 1.83,-4.96 q4.97,0.42 -5.3,4.26" stroke-width="1.5"/><path d="M654.17,149.66 q4.83,-1.92 -2.32,-4.54 q1.07,-3.21 -5.23,4.98 q0.59,3.9 -3.99,-3.88" stroke-width="0.99"/><path d="M639.25,117.1 q0.17,-3 -3.34,1.42 q-1.42,-1.38 -3.61,-2.03 q-4.71,0.78 -2.23,-3.47" stroke-width="0.93"/><path d="M663.16,142.02 q2.97,-2.15 -5.36,-3.92 q3.19,-0.55 -2.31,-5.21 q0.34,-4.09 3.09,3.65" stroke-width="0.71"/><path d="M637.04,114.79 q-0.85,0.45 -2.83,5.52 q4.91,1.99 -0.04,5.41 q4.47,-4.51 5.39,-4.7" stroke-width="0.41"/><path d="M636.62,124.49 q-0.27,-1.98 -2.24,4.51 q3.01,2.65 2.3,1.69 q0.36,-4.03 6.86,-4.69" stroke-width="0.84"/><path d="M645.78,75.15 q-0.34,0.79 -3.18,0.92 q-4.84,-2.47 -0.26,-0.22 q2.06,-2.68 -3.07,2.79" stroke-width="0.64"/><path d="M643.13,137.39 q4.94,4.09 -3.83,4.61 q5,3.62 -6.75,0.16 q-3.02,1.78 2.83,-4.62" stroke-width="0.64"/><path d="M671.51,146.62 q4.58,0.44 4.81,1.09 q-2.01,-0.85 1.36,-1.47 q3.31,-3.61 -2.36,-2.87" stroke-width="0.49"/><path d="M660.44,80.76 q-2.93,0.11 -1.54,-1.61 q2.2,-3.28 6.54,-0.26 q-1.16,-1.4 -0.1,-3.03" stroke-width="0.58"/><path d="M654.76,84.61 q1.83,-3.44 0.91,-2.05 q-0.18,4.5 0.33,5.7 q2.21,-2.73 -3.46,3.81" stroke-width="1.23"/><path d="M672.94,136.92 q-2.17,0.35 -5.91,-5.19 q0.05,1.13 -2.88,-2.83 q4.33,-1.9 0.28,2.82" stroke-width="0.92"/><path d="M672.26,120.04 q3.84,4.97 -0.48,-1.87 q-3.71,0.85 -2.58,-2.22 q0.06,2.29 2.54,-0.48" stroke-width="1.08"/><path d="M679.27,124.97 q3.49,-2.59 4.92,-5.93 q3.14,-4.85 1.53,-2.71 q-3.37,2.43 -5.08,2.16" stroke-width="0.4"/><path d="M626.85,145.78 q-0.48,-1.65 -1.64,4.56 q4.56,-1.04 4.57,-3.98 q3.68,-1.15 5.17,-4.63" stroke-width="1.07"/><path d="M646.19,105.99 q1,0.29 -5.06,-3.56 q-1.72,-4.13 3.8,4.75 q2.34,-2.8 1.23,-5.61" stroke-width="0.55"/><path d="M625.31,85.54 q-1.23,1.65 5.83,4.17 q-1.15,-0.19 -2.37,5.72 q4.28,1.93 -0.84,3.58" stroke-width="1"/><path d="M628.24,74.44 q4.41,-1.93 1.14,0.96 q-1.18,-4.01 3.14,-1.98 q-0.73,3.01 6.14,-2.57" stroke-width="0.7"/><path d="M651.17,141.54 q-1.27,-4.46 -3.01,4.78 q0.79,4.75 4.5,2.17 q-3.21,-0.84 -6.71,-1.99" stroke-width="0.56"/><path d="M684.43,108.75 q-0.33,-2.33 -2.48,4.99 q-3.63,0.25 4.27,-2.81 q-4.06,4.23 -0.83,1.5" stroke-width="0.93"/><path d="M681.42,101.71 q-3.62,1 -0.2,0.86 q-0.17,-2.27 4.37,-2.59 q-4.29,3.64 4.06,-3.32" stroke-width="0.83"/><path d="M651.32,148.27 q-4,-2.74 -5.64,-2.99 q4.61,-2.63 -1.8,-4.17 q-5,-1.33 2.09,3.68" stroke-width="1.23"/><path d="M649.66,105.03 q2.14,-3.1 2.57,-4.65 q4.63,-4.19 2.03,2.99 q0.53,-2.31 -1.93,4.71" stroke-width="0.85"/><path d="M633.5,81.18 q-1.89,1.59 -4.76,-4.36 q0.49,4.55 4.12,-1.17 q-4.7,-1.49 4.96,-2.65" stroke-width="1.24"/><path d="M653.32,87.47 q1.63,-4.09 -4.96,5.32 q1.67,-1.42 -5.13,2.71 q-2.59,-1.73 -3.08,1.56" stroke-width="0.59"/><path d="M623.92,113.94 q2.43,-1.68 6,4.71 q-3.29,-3.47 1.95,-2.4 q-3.96,-3.54 -6.94,-3.97" stroke-width="0.65"/><path d="M648.23,123.61 q-4.58,-0.18 -1.76,2.1 q-1.08,1.61 5.59,5.19 q3.13,2.06 6.48,-0.84" stroke-width="0.32"/><path d="M645.7,97.47 q4.49,-1 -5.14,4.87 q-4.97,-4.48 2.8,-3.93 q2.21,-4.97 -2.92,-1.25" stroke-width="1.05"/><path d="M664.96,86.34 q3.54,-4.46 -0.85,-5.39 q2.69,-0.28 -0.85,5.23 q-2.58,1.54 2.76,-5.15" stroke-width="1.22"/><path d="M634.68,113.44 q-1.41,-2.74 4.79,-4.18 q-0.46,-2.08 -1.25,-4 q-3.62,4.08 -6.5,4.06" stroke-width="1.14"/><path d="M674.91,147.21 q-0.58,0.48 -4.65,0.16 q0.12,-1.44 6.06,4.54 q3.2,-2.01 1.13,4.28" stroke-width="0.77"/><path d="M638.27,125.2 q-0.85,3.03 -5.89,4.09 q0.69,4.83 -1.62,-4.47 q-1.34,-0.08 -4.16,-3.49" stroke-width="1.39"/><path d="M628.57,86.13 q2.97,2.8 2.43,-4.76 q2.01,1.23 -2.44,-3.53 q2.42,0.51 1.41,-2.54" stroke-width="0.3"/><path d="M650.18,95.41 q-2.45,-4.98 4.77,-3.56 q1.66,2.19 4.58,-4.14 q1.22,4.71 -6.14,1.92" stroke-width="1.39"/><path d="M646.94,145.49 q-1.93,-1.45 -2.88,3.46 q-3.91,-3.42 4.34,2.94 q-3.46,-0.77 -6.17,4.14" stroke-width="1.35"/><path d="M631.53,88.4 q3.33,2.9 2.23,-1.19 q3.96,-0.5 0.75,5.28 q3.34,2.82 0.47,-3.85" stroke-width="0.36"/><path d="M641.41,96.95 q-3.36,0.45 -0.76,-5.17 q1.38,3.73 -4.41,-1.6 q1.16,2.41 -6.05,-3.87" stroke-width="0.44"/><path d="M670.91,79.24 q1.94,-2.09 1.48,-1.65 q-3.29,3.53 4.75,-1.7 q-1.28,-2.89 -2.1,-1.03" stroke-width="0.45"/><path d="M650.87,91.31 q-2.39,-3.39 -0.37,-1.03 q2.93,-1.76 -3.99,-3.97 q2.09,-3.4 -4.86,-4.99" stroke-width="0.95"/><path d="M668.82,123.25 q-1.8,-4.62 2.45,-3.64 q2.53,3.01 1.67,4.79 q0.93,-4.96 6.99,-0.75" stroke-width="0.46"/><path d="M656.92,142.66 q-1.69,3.27 3.45,-4.36 q4.14,2 6.02,0.3 q3.8,0.36 5.58,3.62" stroke-width="0.54"/><path d="M633.76,111.22 q-1.57,-0.59 -3.02,-2.34 q2.39,-1.01 0.23,-4.21 q-3.4,1.91 -1.3,0.81" stroke-width="1.39"/><path d="M643.43,94.39 q3.18,-3.24 -2.31,2.4 q-4.2,-4.07 -2.78,4.44 q-4.12,-1.58 -2.28,3.59" stroke-width="0.77"/><path d="M642.96,112.39 q3.8,-0.63 -5.31,0.14 q0.86,-2.24 4.26,-2.43 q-0.23,0.58 -6.62,4.78" stroke-width="1.05"/><path d="M684.46,145.03 q3.86,-3.49 6.19,-3.38 q-3.64,0.37 5.75,0.83 q-0.22,1 -6.55,-1.83" stroke-width="0.82"/><path d="M662.14,113.1 q0.46,0.85 -1.1,4.38 q-0.11,1.63 5.71,0.64 q1.26,0.7 3.34,0.53" stroke-width="1.13"/><path d="M629.07,142.76 q0.65,-0.4 4.43,0.97 q3.31,0.66 -4.56,5.25 q-2.8,0.16 -3.83,-5.16" stroke-width="0.89"/><path d="M648.06,142.83 q-3.71,1.16 0.5,-1 q4.58,-1.08 -0.54,4.93 q-3.96,1.37 4.15,-3.57" stroke-width="0.31"/><path d="M640.24,107.22 q-1.53,-4.57 -0.3,1.71 q-0,4.04 -2.77,2.29 q3.19,2.27 -4.79,5.64" stroke-width="0.52"/><path d="M649.71,122.56 q-2.05,-3.52 3.81,0.62 q-1.65,1.16 -0.1,0.8 q2.05,-2.04 -4.54,-5.77" stroke-width="1.36"/><path d="M675.13,125.72 q-4.63,-1.74 -4.76,5.73 q-4.85,2.68 6.24,5.14 q-2.73,3.77 -5.3,-0.8" stroke-width="1.2"/><path d="M678.45,72.33 q2.16,3.96 1.67,-4.99 q1.04,-4.06 0.09,3.74 q1.44,-3.26 4.38,-0.32" stroke-width="0.68"/><path d="M654.97,123.21 q-3.9,-1.72 3.67,1.77 q-4.28,-3.65 6.65,-4.48 q3.81,2.4 -2.91,-2.74" stroke-width="0.76"/><path d="M682.66,105.24 q-2.22,-3.67 0.7,2.24 q-4.01,1.03 -6.31,-2.88 q-1.52,0.25 2.96,-3.46" stroke-width="0.34"/><path d="M683.18,108.35 q3.88,-2.64 5.74,-5.45 q2.24,0.87 2.65,-2.44 q1.51,-0.43 -3.85,-0.78" stroke-width="1.1"/><path d="M676.78,125.96 q-0.3,1.96 -3.69,-1.59 q3.2,-1.75 -6.22,-5.37 q-4.68,2.2 -6.23,3.84" stroke-width="0.83"/><path d="M632.37,103.17 q3.66,1.24 -6.83,4.99 q2.38,-4.37 4.22,-5.4 q4.37,2.22 -5.9,-2.63" stroke-width="0.81"/><path d="M633.92,93.97 q3.47,4.17 5.77,2.32 q1.83,0.22 -2.6,-1.16 q-1.59,0.59 6.62,5.64" stroke-width="0.42"/><path d="M680.48,73.9 q-2.96,-3.66 -0.48,-2.38 q-0.15,-2.82 0.18,2.53 q-1.34,-2.9 2.92,2.5" stroke-width="1.2"/><path d="M645.26,117.76 q0.86,-0.86 -0.69,-0.77 q-1.07,-0.62 4.03,1.55 q3.95,3.98 -2.61,-3.07" stroke-width="0.93"/><path d="M632.04,100.54 q-0.06,-4.03 5.16,4.24 q-1.78,2.9 -4.08,-4.66 q1.41,-1.67 -1.78,3.8" stroke-width="1.21"/><path d="M643.39,138.03 q3.19,0.69 -3.38,-0.53 q2.78,4.33 -2.58,1.83 q4.05,4.38 -4.65,-0.24" stroke-width="0.52"/><path d="M670.62,144.91 q-0.82,2.16 -6.65,-3.34 q-0.35,0.41 0.11,0.78 q0.65,1.63 -6.35,3.57" stroke-width="0.35"/><path d="M677.07,72.7 q2.9,-3.99 6.05,-3.31 q-3.83,-3.31 1.01,-1.08 q-0.27,-2.02 -5.28,1.03" stroke-width="0.37"/><path d="M625.11,110.93 q-1.27,-2.57 4.99,2.22 q-2.67,3.7 4.19,-5.27 q-4.19,-4.25 5.81,2.67" stroke-width="0.96"/></g>
<g fill="#f4e5b8" stroke="#ecdba6" stroke-width="0.3"><circle cx="657.88" cy="86.67" r="1.49"/><circle cx="649.17" cy="83.35" r="2.32"/><circle cx="650.47" cy="88.01" r="1.51"/><circle cx="656.81" cy="81.81" r="1.68"/><circle cx="657.3" cy="80.34" r="1.59"/><circle cx="655.89" cy="90.33" r="1.44"/><circle cx="650.87" cy="87.33" r="1.87"/><circle cx="659.19" cy="83.75" r="1.84"/><circle cx="658.1" cy="80.17" r="2.73"/><circle cx="652.82" cy="88.56" r="2.65"/><circle cx="661.28" cy="86.94" r="1.58"/><circle cx="656.62" cy="81.82" r="2.47"/><circle cx="652.3" cy="81.54" r="2.43"/><circle cx="660.15" cy="89.63" r="2.54"/><circle cx="663.58" cy="85.67" r="2.03"/><circle cx="664.02" cy="81.02" r="1.5"/><circle cx="657.47" cy="89.99" r="1.99"/><circle cx="658.2" cy="81.21" r="2.54"/><circle cx="658.18" cy="81.28" r="2.46"/><circle cx="664.23" cy="82.37" r="2.57"/><circle cx="664.2" cy="84.27" r="2.78"/><circle cx="664.64" cy="79.64" r="1.49"/><circle cx="665.73" cy="85.98" r="1.6"/><circle cx="668.09" cy="80.07" r="1.65"/><circle cx="661.6" cy="85.98" r="2.43"/><circle cx="669.78" cy="81.93" r="1.5"/><circle cx="661.3" cy="81.16" r="2.66"/><circle cx="664.35" cy="84.35" r="2.17"/><circle cx="670.72" cy="80.92" r="1.99"/><circle cx="662.85" cy="82.76" r="2.75"/><circle cx="662.01" cy="84.4" r="2.7"/><circle cx="672.23" cy="88.86" r="2.01"/><circle cx="667.58" cy="88.94" r="2.88"/><circle cx="673.04" cy="88.4" r="2.8"/><circle cx="667.57" cy="87.06" r="2.67"/><circle cx="673.29" cy="91.45" r="2.3"/><circle cx="663.99" cy="88.2" r="2.54"/><circle cx="669.45" cy="89.41" r="2.62"/><circle cx="667.31" cy="88.82" r="2.7"/><circle cx="676.27" cy="93.61" r="1.46"/><circle cx="672.49" cy="91.41" r="2.64"/><circle cx="676.04" cy="89.14" r="2.04"/><circle cx="667.04" cy="93.65" r="2.52"/><circle cx="676.67" cy="88.23" r="1.81"/><circle cx="670.79" cy="92.28" r="1.78"/><circle cx="667.21" cy="89.73" r="1.94"/><circle cx="674.43" cy="90.81" r="2.87"/><circle cx="669.77" cy="96.08" r="2.86"/><circle cx="676.42" cy="91.49" r="1.91"/><circle cx="680.48" cy="91.47" r="2.74"/><circle cx="676.86" cy="87.36" r="2.14"/><circle cx="674.1" cy="91.04" r="1.61"/><circle cx="675.57" cy="90.06" r="1.8"/><circle cx="679.77" cy="90.76" r="2.08"/><circle cx="671.6" cy="89.34" r="2.83"/><circle cx="670.53" cy="95.29" r="1.67"/><circle cx="676.47" cy="97.77" r="2.29"/><circle cx="678.17" cy="95.26" r="2.8"/><circle cx="675.01" cy="92.81" r="1.87"/><circle cx="680.45" cy="98.63" r="2.52"/><circle cx="677.51" cy="98.43" r="1.85"/><circle cx="680.24" cy="101.18" r="2.37"/><circle cx="681.03" cy="100.62" r="1.66"/><circle cx="680.36" cy="100.23" r="2.72"/><circle cx="674.92" cy="92.81" r="1.9"/><circle cx="676.68" cy="94.6" r="1.5"/><circle cx="680.44" cy="97.18" r="2.39"/><circle cx="671.63" cy="96.46" r="2.59"/><circle cx="671.75" cy="101.17" r="2.09"/><circle cx="672.7" cy="105.03" r="2.86"/><circle cx="675.94" cy="99.59" r="1.54"/><circle cx="677.99" cy="107.1" r="2.84"/><circle cx="669.26" cy="105.4" r="1.65"/><circle cx="672.23" cy="106.28" r="2.53"/><circle cx="670.74" cy="104.87" r="2.24"/><circle cx="672.01" cy="109.08" r="2.53"/><circle cx="669.27" cy="99.18" r="2.3"/><circle cx="671.83" cy="105.93" r="2.54"/><circle cx="673.62" cy="107.17" r="2.78"/><circle cx="676.23" cy="105" r="2.46"/><circle cx="678.8" cy="106.02" r="2.57"/><circle cx="672.94" cy="101.51" r="2.48"/><circle cx="668.03" cy="111.89" r="2.65"/><circle cx="673.92" cy="112.85" r="1.5"/><circle cx="675.07" cy="112.84" r="1.85"/><circle cx="670.02" cy="102.78" r="2.49"/><circle cx="665.22" cy="110.32" r="2.2"/><circle cx="672.74" cy="111.56" r="2.85"/><circle cx="672.49" cy="113.94" r="1.56"/><circle cx="670.19" cy="111.69" r="2.84"/><circle cx="667.13" cy="114.6" r="2.25"/><circle cx="674.34" cy="108.92" r="1.89"/><circle cx="673.34" cy="112.19" r="2.38"/><circle cx="670.04" cy="115.16" r="1.95"/><circle cx="663.16" cy="116.26" r="2.34"/><circle cx="662.92" cy="117.61" r="2.77"/><circle cx="668.41" cy="110.3" r="2.51"/><circle cx="671.11" cy="117.09" r="2.27"/><circle cx="670.63" cy="118.84" r="2.45"/><circle cx="665.88" cy="109.43" r="1.81"/><circle cx="667.08" cy="119.51" r="1.6"/><circle cx="667.55" cy="118.73" r="1.99"/><circle cx="665.15" cy="118.13" r="1.98"/><circle cx="659.74" cy="113.31" r="1.51"/><circle cx="670.67" cy="114.89" r="2.7"/><circle cx="660.84" cy="114.54" r="2.44"/><circle cx="660.43" cy="115.73" r="2.05"/><circle cx="658.87" cy="115.04" r="2.84"/><circle cx="663.73" cy="112.44" r="2.43"/><circle cx="662.16" cy="117.53" r="2.69"/><circle cx="660.03" cy="113.68" r="1.97"/><circle cx="663.7" cy="118.84" r="2.06"/><circle cx="667.98" cy="122.64" r="2.57"/><circle cx="665.92" cy="118.2" r="2.16"/><circle cx="662.04" cy="118.85" r="2.54"/><circle cx="660.41" cy="119.48" r="1.62"/><circle cx="658.87" cy="119.91" r="2.71"/><circle cx="659.02" cy="123.19" r="2.18"/><circle cx="655.91" cy="116.29" r="1.92"/><circle cx="663.65" cy="117.85" r="1.64"/><circle cx="657.98" cy="122.05" r="1.54"/><circle cx="664.24" cy="122.44" r="2.67"/><circle cx="664.34" cy="129.19" r="1.59"/><circle cx="664.92" cy="123.6" r="2.11"/><circle cx="663.62" cy="118.69" r="1.89"/><circle cx="663.45" cy="118.99" r="2.57"/><circle cx="659.85" cy="119.06" r="1.54"/><circle cx="656.5" cy="127.16" r="2.76"/><circle cx="661.34" cy="119.85" r="2.33"/><circle cx="658.15" cy="125.09" r="1.93"/><circle cx="661.5" cy="127.59" r="2.83"/><circle cx="653.18" cy="124.4" r="1.65"/><circle cx="653.25" cy="122.27" r="2.38"/><circle cx="653.96" cy="130.24" r="2.37"/><circle cx="651.44" cy="125.23" r="2.64"/><circle cx="658.1" cy="121.39" r="2.81"/><circle cx="653.83" cy="132.63" r="2.31"/><circle cx="656.65" cy="125.36" r="1.68"/><circle cx="656.7" cy="126.54" r="2.1"/><circle cx="654.74" cy="132.77" r="1.63"/><circle cx="656.14" cy="133.05" r="1.6"/><circle cx="647.76" cy="133.14" r="2.82"/><circle cx="653.37" cy="132.2" r="1.5"/><circle cx="651.32" cy="134.28" r="1.64"/><circle cx="649.97" cy="124.73" r="1.98"/><circle cx="644.55" cy="133.04" r="1.71"/><circle cx="655.54" cy="126.01" r="2.17"/><circle cx="647.59" cy="127.76" r="1.58"/><circle cx="643.34" cy="135.93" r="2.33"/><circle cx="644.52" cy="136.03" r="1.84"/><circle cx="649.61" cy="129.1" r="1.76"/><circle cx="646.72" cy="125.63" r="2.07"/><circle cx="641.72" cy="129.73" r="1.61"/><circle cx="650.35" cy="128.12" r="1.57"/><circle cx="650.77" cy="136.03" r="2.1"/><circle cx="640.57" cy="130.84" r="2.86"/><circle cx="646.39" cy="125.93" r="1.7"/><circle cx="650.37" cy="131.43" r="2.17"/><circle cx="644.97" cy="132.63" r="2.33"/><circle cx="642.81" cy="126.17" r="2"/><circle cx="641.62" cy="135.6" r="1.96"/><circle cx="648.6" cy="128.05" r="2.25"/><circle cx="647.87" cy="134.46" r="1.46"/><circle cx="641.2" cy="137.55" r="1.71"/><circle cx="638.63" cy="137.19" r="2.58"/><circle cx="638.36" cy="135.09" r="2.17"/><circle cx="645.01" cy="127.47" r="1.52"/><circle cx="644.17" cy="137.49" r="2.09"/><circle cx="641.45" cy="127.64" r="1.96"/><circle cx="635.48" cy="129.84" r="2.17"/><circle cx="642.91" cy="128.49" r="2.47"/><circle cx="633.95" cy="135.46" r="2.27"/><circle cx="636.77" cy="128.49" r="2.02"/><circle cx="641.51" cy="130.34" r="2.48"/><circle cx="640.95" cy="132.54" r="1.55"/><circle cx="633.8" cy="136.73" r="2.23"/><circle cx="636.91" cy="130.45" r="1.95"/><circle cx="637.7" cy="136.7" r="1.96"/><circle cx="632.33" cy="129.42" r="1.71"/><circle cx="634.32" cy="132.84" r="1.73"/><circle cx="638.43" cy="134.36" r="1.75"/><circle cx="631.24" cy="140.39" r="1.93"/><circle cx="626.88" cy="134.38" r="2.34"/><circle cx="631.66" cy="132.26" r="2.16"/><circle cx="629.8" cy="133.45" r="1.6"/><circle cx="627.75" cy="131.87" r="2.47"/><circle cx="628.91" cy="138.36" r="1.48"/><circle cx="634.39" cy="134.34" r="2.2"/><circle cx="633.01" cy="139.04" r="2.87"/><circle cx="627.51" cy="136.19" r="2.44"/><circle cx="625.35" cy="139.96" r="2.71"/><circle cx="628.14" cy="133.43" r="1.99"/><circle cx="630.06" cy="134.93" r="2.55"/><circle cx="623.52" cy="134.96" r="2.17"/><circle cx="628.68" cy="136.26" r="2.53"/><circle cx="627.33" cy="141.48" r="1.52"/><circle cx="625.76" cy="136.54" r="2"/><circle cx="629.75" cy="140.01" r="1.81"/><circle cx="625.99" cy="134.65" r="2.86"/><circle cx="620.6" cy="133.96" r="1.54"/><circle cx="670.75" cy="131.73" r="1.3"/><circle cx="674.74" cy="131.82" r="2.39"/><circle cx="675.06" cy="131.47" r="1.76"/><circle cx="679.44" cy="140.5" r="1.95"/><circle cx="679.38" cy="137.96" r="2.38"/><circle cx="680.83" cy="136.81" r="1.44"/><circle cx="674.09" cy="134.51" r="2.19"/><circle cx="678.79" cy="140.03" r="1.69"/><circle cx="675" cy="138.26" r="2.06"/><circle cx="672.61" cy="141.54" r="2.44"/><circle cx="673.81" cy="136.95" r="1.81"/><circle cx="680.25" cy="142.53" r="2.03"/><circle cx="675.54" cy="143.51" r="2.3"/><circle cx="673.72" cy="144.23" r="1.95"/><circle cx="680.19" cy="138.16" r="1.83"/><circle cx="683.78" cy="143.13" r="1.87"/><circle cx="676.05" cy="145.24" r="2.34"/><circle cx="684.44" cy="137.57" r="2.13"/><circle cx="685.1" cy="141.34" r="2.4"/><circle cx="681.37" cy="143.97" r="1.85"/><circle cx="680.34" cy="145.62" r="2.05"/><circle cx="684.27" cy="140" r="1.41"/><circle cx="685.29" cy="138.5" r="1.49"/><circle cx="681.17" cy="146.87" r="1.32"/><circle cx="679.51" cy="145.15" r="2.44"/></g>
<g fill="#fbf2d6" fill-opacity="0.8"><circle cx="657.48" cy="86.27" r="0.75"/><circle cx="650.07" cy="87.61" r="0.76"/><circle cx="656.9" cy="79.94" r="0.8"/><circle cx="650.47" cy="86.93" r="0.93"/><circle cx="657.7" cy="79.77" r="1.36"/><circle cx="660.88" cy="86.54" r="0.79"/><circle cx="651.9" cy="81.14" r="1.22"/><circle cx="663.18" cy="85.27" r="1.01"/><circle cx="657.07" cy="89.59" r="0.99"/><circle cx="657.78" cy="80.88" r="1.23"/><circle cx="663.8" cy="83.87" r="1.39"/><circle cx="665.33" cy="85.58" r="0.8"/><circle cx="661.2" cy="85.58" r="1.22"/><circle cx="660.9" cy="80.76" r="1.33"/><circle cx="670.32" cy="80.52" r="0.99"/><circle cx="661.61" cy="84" r="1.35"/><circle cx="667.18" cy="88.54" r="1.44"/><circle cx="667.17" cy="86.66" r="1.33"/><circle cx="663.59" cy="87.8" r="1.27"/><circle cx="666.91" cy="88.42" r="1.35"/><circle cx="672.09" cy="91.01" r="1.32"/><circle cx="666.64" cy="93.25" r="1.26"/><circle cx="670.39" cy="91.88" r="0.89"/><circle cx="674.03" cy="90.41" r="1.43"/><circle cx="676.02" cy="91.09" r="0.95"/><circle cx="676.46" cy="86.96" r="1.07"/><circle cx="675.17" cy="89.66" r="0.9"/><circle cx="671.2" cy="88.94" r="1.41"/><circle cx="676.07" cy="97.37" r="1.14"/><circle cx="674.61" cy="92.41" r="0.93"/><circle cx="677.11" cy="98.03" r="0.92"/><circle cx="680.63" cy="100.22" r="0.83"/><circle cx="674.52" cy="92.41" r="0.95"/><circle cx="680.04" cy="96.78" r="1.19"/><circle cx="671.35" cy="100.77" r="1.05"/><circle cx="675.54" cy="99.19" r="0.77"/><circle cx="668.86" cy="105" r="0.83"/><circle cx="670.34" cy="104.47" r="1.12"/><circle cx="668.87" cy="98.78" r="1.15"/><circle cx="673.22" cy="106.77" r="1.39"/><circle cx="678.4" cy="105.62" r="1.29"/><circle cx="667.63" cy="111.49" r="1.32"/><circle cx="674.67" cy="112.44" r="0.92"/><circle cx="664.82" cy="109.92" r="1.1"/><circle cx="672.09" cy="113.54" r="0.78"/><circle cx="666.73" cy="114.2" r="1.13"/><circle cx="672.94" cy="111.79" r="1.19"/><circle cx="662.76" cy="115.86" r="1.17"/><circle cx="668.01" cy="109.9" r="1.26"/><circle cx="670.23" cy="118.44" r="1.23"/><circle cx="666.68" cy="119.11" r="0.8"/><circle cx="664.75" cy="117.73" r="0.99"/><circle cx="670.27" cy="114.49" r="1.35"/><circle cx="660.03" cy="115.33" r="1.03"/><circle cx="663.33" cy="112.04" r="1.21"/><circle cx="659.63" cy="113.28" r="0.98"/><circle cx="667.58" cy="122.24" r="1.28"/><circle cx="661.64" cy="118.45" r="1.27"/><circle cx="658.47" cy="119.51" r="1.36"/><circle cx="655.51" cy="115.89" r="0.96"/><circle cx="657.58" cy="121.65" r="0.77"/><circle cx="663.94" cy="128.79" r="0.79"/><circle cx="663.22" cy="118.29" r="0.94"/><circle cx="659.45" cy="118.66" r="0.77"/><circle cx="660.94" cy="119.45" r="1.17"/><circle cx="661.1" cy="127.19" r="1.41"/><circle cx="652.85" cy="121.87" r="1.19"/><circle cx="651.04" cy="124.83" r="1.32"/><circle cx="653.43" cy="132.23" r="1.15"/><circle cx="656.3" cy="126.14" r="1.05"/><circle cx="655.74" cy="132.65" r="0.8"/><circle cx="652.97" cy="131.8" r="0.75"/><circle cx="649.57" cy="124.33" r="0.99"/><circle cx="655.14" cy="125.61" r="1.09"/><circle cx="642.94" cy="135.53" r="1.16"/><circle cx="649.21" cy="128.7" r="0.88"/><circle cx="641.32" cy="129.33" r="0.81"/><circle cx="650.37" cy="135.63" r="1.05"/><circle cx="645.99" cy="125.53" r="0.85"/><circle cx="644.57" cy="132.23" r="1.16"/><circle cx="641.22" cy="135.2" r="0.98"/><circle cx="647.47" cy="134.06" r="0.73"/><circle cx="638.23" cy="136.79" r="1.29"/><circle cx="644.61" cy="127.07" r="0.76"/><circle cx="641.05" cy="127.24" r="0.98"/><circle cx="642.51" cy="128.09" r="1.23"/><circle cx="636.37" cy="128.09" r="1.01"/><circle cx="640.55" cy="132.14" r="0.78"/><circle cx="636.51" cy="130.05" r="0.98"/><circle cx="631.93" cy="129.02" r="0.85"/><circle cx="638.03" cy="133.96" r="0.88"/><circle cx="626.48" cy="133.98" r="1.17"/><circle cx="629.4" cy="133.05" r="0.8"/><circle cx="628.51" cy="137.96" r="0.74"/><circle cx="632.61" cy="138.64" r="1.44"/><circle cx="624.95" cy="139.56" r="1.35"/><circle cx="629.66" cy="134.53" r="1.27"/><circle cx="628.28" cy="135.86" r="1.26"/><circle cx="625.36" cy="136.14" r="1"/><circle cx="625.59" cy="134.25" r="1.43"/><circle cx="670.35" cy="131.33" r="0.65"/><circle cx="674.66" cy="131.07" r="0.88"/><circle cx="678.98" cy="137.56" r="1.19"/><circle cx="673.69" cy="134.11" r="1.09"/><circle cx="674.6" cy="137.86" r="1.03"/><circle cx="673.41" cy="136.55" r="0.9"/><circle cx="675.14" cy="143.11" r="1.15"/><circle cx="679.79" cy="137.76" r="0.91"/><circle cx="675.65" cy="144.84" r="1.17"/><circle cx="684.7" cy="140.94" r="1.2"/><circle cx="679.94" cy="145.22" r="1.02"/><circle cx="684.89" cy="138.1" r="0.74"/><circle cx="679.11" cy="144.75" r="1.22"/></g>
<path d="M639.6,125.14 q1.84,3.49 -4.4,-3.23 q-3.53,-2.75 3.28,-4.44 q0.31,-2.86 -2.87,-0.82" fill="none" stroke="#b9b9b9" stroke-width="0.5"/>
<path d="M655.53,138.28 q-4.64,-1.8 -4.83,0.72 q0.33,3.24 -3.88,-3.51 q2.99,-1.24 3,-4.12" fill="none" stroke="#b9b9b9" stroke-width="0.5"/>
<path d="M656.15,92.82 q-2.74,4.92 6.36,5.43 q-1.25,-3.43 4.7,3.61 q-0.91,-3.45 1.09,5.5" fill="none" stroke="#b9b9b9" stroke-width="0.5"/>
<path d="M663.66,146.52 q0.55,1.28 -2.61,5.9 q-3.4,-3.15 -6.22,-0.75 q4.85,-3.22 3.78,-1.09" fill="none" stroke="#b9b9b9" stroke-width="0.5"/>
<path d="M648.16,119.65 q-0.6,-2.94 3.56,-1.28 q-1.09,-2.78 2.27,-3.7 q3.79,-2.95 -6.48,-5.8" fill="none" stroke="#b9b9b9" stroke-width="0.5"/>
<path d="M650.69,76.58 q3.91,-3.91 -1.89,1.43 q1.64,3.99 -4.54,0.83 q3.79,-0.33 3,-0.4" fill="none" stroke="#b9b9b9" stroke-width="0.5"/>
<path d="M628.47,115.83 q0.08,-2.38 3.94,-1.5 q0.46,0.31 5.73,-5.21 q1.56,2.15 -6.82,-2.01" fill="none" stroke="#b9b9b9" stroke-width="0.5"/>
<path d="M675.78,131 q-2.07,-0.73 6.26,-1.35 q1.5,-4.5 -0.28,0.08 q4.09,4.61 3.53,-2.02" fill="none" stroke="#b9b9b9" stroke-width="0.5"/>
<path d="M655.31,104.11 q-2.03,-3.46 0.21,-5.56 q-4.48,-0.86 -3.83,4.11 q-3.89,-3.86 3.14,-0.29" fill="none" stroke="#b9b9b9" stroke-width="0.5"/>
<path d="M663.16,142.02 q2.97,-2.15 -5.36,-3.92 q3.19,-0.55 -2.31,-5.21 q0.34,-4.09 3.09,3.65" fill="none" stroke="#b9b9b9" stroke-width="0.5"/>
<circle cx="651" cy="73" r="1.75" fill="#3a3a3a" stroke="#444" stroke-width="0.25"/>
<circle cx="656" cy="76" r="1.75" fill="#d23a3a" stroke="#444" stroke-width="0.25"/>
<circle cx="666" cy="77" r="1.75" fill="#8c8ee0" stroke="#444" stroke-width="0.25"/>
<circle cx="649" cy="82" r="1.75" fill="#3a3a3a" stroke="#444" stroke-width="0.25"/>
<circle cx="656" cy="85" r="1.75" fill="#8c8ee0" stroke="#444" stroke-width="0.25"/>
<circle cx="650" cy="92" r="1.75" fill="#e0803a" stroke="#444" stroke-width="0.25"/>
<circle cx="645" cy="87" r="1.75" fill="#3a3a3a" stroke="#444" stroke-width="0.25"/>
<circle cx="663" cy="98" r="1.75" fill="#e88cc4" stroke="#444" stroke-width="0.25"/>
<circle cx="644" cy="104" r="1.75" fill="#2424c8" stroke="#444" stroke-width="0.25"/>
<circle cx="656" cy="113" r="1.75" fill="#8c8ee0" stroke="#444" stroke-width="0.25"/>
<circle cx="642" cy="120" r="1.75" fill="#d23a3a" stroke="#444" stroke-width="0.25"/>
<circle cx="647" cy="118" r="1.75" fill="#d23a3a" stroke="#444" stroke-width="0.25"/>
<circle cx="641" cy="123" r="1.75" fill="#8c8ee0" stroke="#444" stroke-width="0.25"/>
<circle cx="632" cy="131" r="1.75" fill="#6a5a30" stroke="#444" stroke-width="0.25"/>
<circle cx="663" cy="142" r="1.75" fill="#e88cc4" stroke="#444" stroke-width="0.25"/>
<circle cx="672" cy="136" r="1.75" fill="#d23a3a" stroke="#444" stroke-width="0.25"/>
<circle cx="649" cy="147" r="1.75" fill="#d23a3a" stroke="#444" stroke-width="0.25"/>
<circle cx="653" cy="146" r="1.75" fill="#e88cc4" stroke="#444" stroke-width="0.25"/>
</g>
<ellipse cx="654.2" cy="110.5" rx="30.3" ry="39.5" fill="none" stroke="#4a4a4a" stroke-width="0.8"/>
<text x="589.2" y="10.27" font-size="6.9" fill="#222" text-anchor="middle" font-weight="bold" >Apo state</text>
<text x="526.5" y="161.27" font-size="6.9" fill="#222" text-anchor="middle" font-weight="bold" >ADP state</text>
<text x="655.6" y="160.67" font-size="6.9" fill="#222" text-anchor="middle" font-weight="bold" >ATP state</text>
<text x="527.8" y="27.07" font-size="6.9" fill="#222" text-anchor="middle" font-weight="bold" >ADP</text>
<text x="653.8" y="29.27" font-size="6.9" fill="#222" text-anchor="middle" font-weight="bold" >ATP</text>
<text x="581.2" y="164.87" font-size="6.9" fill="#222" text-anchor="middle" font-weight="bold" >Pi</text>
<text x="593" y="109.62" font-size="10.4" fill="#1a1a1a" text-anchor="middle" font-weight="bold" >HtpG’s</text>
<text x="592" y="122.32" font-size="10.4" fill="#1a1a1a" text-anchor="middle" font-weight="bold" >Chaperone</text>
<text x="592" y="134.22" font-size="10.4" fill="#1a1a1a" text-anchor="middle" font-weight="bold" >Cycle</text>
<text x="637" y="46.51" font-size="7" fill="#222" stroke="#222" stroke-width="0.18" text-anchor="middle" >Bound</text>
<text x="637" y="54.51" font-size="7" fill="#222" stroke="#222" stroke-width="0.18" text-anchor="middle" >Client</text>
<text x="637.4" y="62.31" font-size="7" fill="#222" stroke="#222" stroke-width="0.18" text-anchor="middle" >(Δ131Δ)</text>
<line x1="625" y1="48" x2="610.5" y2="43.8" stroke="#222" stroke-width="0.7" />
<path d="M608.6,43.3 L612.0,42.2 L611.2,45.3 Z" fill="#222"/>
<path d="M520.5,63 C520,45 532,34 552.5,33.2" fill="none" stroke="#7a7a7a" stroke-width="1.0"/>
<path d="M551.5,29.5 L556.5,33.1 L551.5,36.6 Z" fill="#7a7a7a"/>
<path d="M528.3,30.5 C529.5,34 529,37 527.5,39.5" fill="none" stroke="#7a7a7a" stroke-width="0.8"/>
<path d="M627.7,33.6 C648,30 665,42 664.8,60" fill="none" stroke="#7a7a7a" stroke-width="1.0"/>
<path d="M661.2,59 L664.8,64.5 L668.4,59 Z" fill="#7a7a7a"/>
<path d="M655,30 C654.5,33 655,35.5 656,38" fill="none" stroke="#7a7a7a" stroke-width="0.8"/>
<path d="M616.7,142 C606,152 588,157 571,145.5" fill="none" stroke="#7a7a7a" stroke-width="1.0"/>
<path d="M568.6,142.0 L575.0,143.6 L571.0,148.6 Z" fill="#7a7a7a"/>
<path d="M585.8,158.9 C586.5,157 587.5,155.5 589,154.5" fill="none" stroke="#7a7a7a" stroke-width="0.8"/>
<defs><linearGradient id="cbar" x1="0" x2="1" y1="0" y2="0"><stop offset="0" stop-color="#2a3596"/><stop offset="0.13" stop-color="#6a78c0"/><stop offset="0.26" stop-color="#d8e6f0"/><stop offset="0.36" stop-color="#c4c8c8"/><stop offset="0.5" stop-color="#8f8f8f"/><stop offset="0.63" stop-color="#c890b8"/><stop offset="0.74" stop-color="#e694c8"/><stop offset="0.87" stop-color="#cc3a90"/><stop offset="1" stop-color="#d8202e"/></linearGradient></defs>
<rect x="548.3" y="180.5" width="93.4" height="5.1" fill="url(#cbar)"/>
<text x="588.7" y="177.18" font-size="10" fill="#222" stroke="#222" stroke-width="0.18" text-anchor="start" ><tspan dy="0" font-size="10">ΔS</tspan><tspan dy="-3.8" font-size="7">2</tspan></text>
<text x="549" y="193.63" font-size="6.8" fill="#222" stroke="#222" stroke-width="0.18" text-anchor="middle" >-0.8</text>
<text x="571.5" y="193.63" font-size="6.8" fill="#222" stroke="#222" stroke-width="0.18" text-anchor="middle" >-0.2</text>
<text x="595.3" y="193.63" font-size="6.8" fill="#222" stroke="#222" stroke-width="0.18" text-anchor="middle" >0</text>
<text x="619.2" y="193.63" font-size="6.8" fill="#222" stroke="#222" stroke-width="0.18" text-anchor="middle" >0.2</text>
<text x="641.7" y="193.63" font-size="6.8" fill="#222" stroke="#222" stroke-width="0.18" text-anchor="middle" >0.8</text>
<text x="-0.2" y="214.03" font-size="13.5" fill="#111" text-anchor="start" font-weight="bold" >c</text>
<rect x="11.9" y="213.3" width="381.2" height="156.9" fill="none" stroke="#6a6a6a" stroke-width="1.1" stroke-dasharray="1.1 2.35"/>
<clipPath id="cpo"><path d="M16,248 C18,238 40,238 55,239 C70,238 84,240 88,250 C90,265 88,285 86,300 C84,310 70,312 55,310 C40,311 22,312 16,305 Z"/></clipPath>
<clipPath id="cpg"><path d="M16,306 C30,302 60,300 86,304 C88,315 86,330 80,340 C60,346 30,346 17,338 Z"/></clipPath>
<g clip-path="url(#cpo)">
<ellipse cx="40" cy="262" rx="20" ry="18" fill="#fde6d6" fill-opacity="0.8"/>
<ellipse cx="62" cy="256" rx="20" ry="15" fill="#fde6d6" fill-opacity="0.8"/>
<ellipse cx="50" cy="285" rx="26" ry="16" fill="#fde6d6" fill-opacity="0.8"/>
<ellipse cx="30" cy="298" rx="12" ry="10" fill="#fde6d6" fill-opacity="0.8"/>
<ellipse cx="75" cy="290" rx="12" ry="14" fill="#fde6d6" fill-opacity="0.8"/>
<g fill="none" stroke-linecap="round"><path d="M26.54,291.18 q1.89,-0.25 -5.68,4.68 q4.31,0.15 0.1,-4.22 q-6.96,-1.55 1.71,-6.89" stroke="#ee9a68" stroke-width="3.97" stroke-opacity="0.55"/><path d="M84.03,291.51 q-0.88,5.94 5.41,-1.49 q-0.81,5.48 0.8,3.1 q2.08,5.25 -9.54,3.86" stroke="#ee9a68" stroke-width="2.84" stroke-opacity="0.55"/><path d="M48.44,280.16 q-2.2,-0.18 -6.26,-7.41 q5.12,-3.18 5.61,-4.66 q6.56,4.73 5.1,4.2" stroke="#ee9a68" stroke-width="3.63" stroke-opacity="0.55"/><path d="M23.31,274.11 q4.58,-3.59 8.46,6.2 q-1.27,-1.62 -0.97,-1.83 q6.93,-1.36 -9.46,-6.51" stroke="#ee9a68" stroke-width="3.85" stroke-opacity="0.55"/><path d="M14.22,241.61 q1.39,0.27 1.43,-2.9 q6.72,-4.65 3.39,2.02 q4.67,-2.01 5.24,6.88" stroke="#ee9a68" stroke-width="3.09" stroke-opacity="0.55"/><path d="M18.99,301.1 q3.88,-1.5 3.67,2.81 q5.58,5.5 -1.86,7.83 q6.46,1.09 7.66,-0.15" stroke="#ee9a68" stroke-width="3.3" stroke-opacity="0.55"/><path d="M85.16,255.67 q0.87,-0.73 -1.85,3.86 q-6.2,-2.54 7.07,2.53 q-6.51,-3.02 -2.11,5.93" stroke="#ee9a68" stroke-width="3.73" stroke-opacity="0.55"/><path d="M88.74,295.67 q-0.29,-2.97 9.18,0.41 q3.2,-5.66 -5.76,5.41 q4.13,4.58 2.03,-1.18" stroke="#ee9a68" stroke-width="3.63" stroke-opacity="0.55"/><path d="M37.41,278.75 q-3.14,3.22 -9.8,2.96 q6.36,-5.72 1.87,2.3 q4.92,1.01 -4.86,-1.51" stroke="#ee9a68" stroke-width="4.23" stroke-opacity="0.55"/><path d="M24.15,243.59 q-5.68,-5.7 -1.06,-5.75 q5.14,1.86 -7.47,0.62 q-2.46,-0.07 -5.61,-5.34" stroke="#ee9a68" stroke-width="2.99" stroke-opacity="0.55"/><path d="M29.32,295.54 q3.6,1.25 0.1,3.93 q-6.21,5.15 -2.25,5.83 q-1.43,0.8 7.09,-4.27" stroke="#ee9a68" stroke-width="4.24" stroke-opacity="0.55"/><path d="M70.68,255.58 q-4.81,2.71 9.81,5.08 q4.24,-0.12 1.46,0.73 q-6.16,1.14 -3.52,0.27" stroke="#ee9a68" stroke-width="3.17" stroke-opacity="0.55"/><path d="M18.84,301.18 q6.68,-1.74 -3.64,7.89 q-5.49,-5.09 -8.53,5.03 q3.64,-0.62 2.43,-7.68" stroke="#ee9a68" stroke-width="3.73" stroke-opacity="0.55"/><path d="M49.79,277.04 q5.26,-5.16 -9.5,2.58 q-6.41,-2.69 1.79,-1.53 q-1.02,3.57 -2.02,-2.76" stroke="#ee9a68" stroke-width="3.06" stroke-opacity="0.55"/><path d="M16.84,249.83 q-1.78,1.26 -5.68,-0.8 q1.86,1.43 4.62,1.69 q4.48,-2.85 -0.38,-0.02" stroke="#ee9a68" stroke-width="3.19" stroke-opacity="0.55"/><path d="M76.69,313.1 q6.85,-5.92 -3.75,-3.01 q-1.52,-4.25 1.06,-6.73 q-2.76,5.32 4.85,-0.6" stroke="#ee9a68" stroke-width="2.87" stroke-opacity="0.55"/><path d="M67.5,252.47 q-2.31,1.7 3.63,-3.83 q6.32,-2.13 -4.92,5.53 q-4.85,2.17 -6,1.57" stroke="#ee9a68" stroke-width="3.14" stroke-opacity="0.55"/><path d="M25.94,267.41 q-1.38,-0.47 3.32,2.71 q2.35,1.46 -8.02,7.6 q-3.99,-1.79 2.59,5.96" stroke="#ee9a68" stroke-width="3.29" stroke-opacity="0.55"/><path d="M52.09,239.14 q1.51,2.4 -5.2,-7.88 q0.62,-4.87 -3.82,-0.73 q5.52,-1.56 -7.3,4.67" stroke="#ee9a68" stroke-width="4.02" stroke-opacity="0.55"/><path d="M37.46,269.37 q5.36,-3.07 1.5,5.18 q1.18,-0.39 5.83,2.54 q-5.98,-0.77 6.65,7.83" stroke="#ee9a68" stroke-width="3.75" stroke-opacity="0.55"/><path d="M18.53,301.22 q1.49,1.44 -0.58,4.8 q-2.27,-2.76 -2.94,-3.23 q1.78,4.68 -8.58,-6.92" stroke="#ee9a68" stroke-width="3.52" stroke-opacity="0.55"/><path d="M41.37,264.19 q-4.73,1.02 -4.5,4.63 q-1.41,-5.61 -5.35,-2.26 q-3.49,-3.61 -6.13,7.26" stroke="#ee9a68" stroke-width="3.38" stroke-opacity="0.55"/><path d="M76.87,253.1 q-6.43,-1.77 0.65,2.05 q-4.56,2.52 -0.12,-5.41 q4.91,3.68 8.13,2.87" stroke="#ee9a68" stroke-width="3.05" stroke-opacity="0.55"/><path d="M87.73,267.21 q6.19,5.24 5.88,-7.82 q-2.07,1.36 2.14,4.09 q2.06,-4.06 8.62,0.58" stroke="#ee9a68" stroke-width="4.11" stroke-opacity="0.55"/><path d="M31.2,277.17 q-3,-0.6 5.34,7.28 q5.74,-3.12 1.99,-2.37 q2.41,4.4 1.46,7.91" stroke="#ee9a68" stroke-width="4.16" stroke-opacity="0.55"/><path d="M88.81,295.2 q3.38,-3.45 0.65,-2.07 q6.88,-2.45 -6.78,2.6 q1.59,-0.43 -0.11,-4.95" stroke="#ee9a68" stroke-width="3.04" stroke-opacity="0.55"/><path d="M46.69,266.24 q-0.15,-2.81 0.76,-0.66 q-6.5,3.87 1.73,4.84 q3.31,2.77 9.87,-1.97" stroke="#ee9a68" stroke-width="3.33" stroke-opacity="0.55"/><path d="M73.09,305.33 q-2.85,3.99 -0.84,-0.22 q5.18,0.64 5.3,2.77 q-6.62,5 -7.36,-2.66" stroke="#ee9a68" stroke-width="3.27" stroke-opacity="0.55"/><path d="M59.49,291.44 q5.11,3.02 -2.5,-3.99 q3.95,3.52 8.56,-4.82 q4.87,4.69 -8.46,-3.07" stroke="#ee9a68" stroke-width="3.71" stroke-opacity="0.55"/><path d="M71.13,310.82 q-5.54,1.4 2.92,0.22 q-5.13,3.25 -0.1,-7.49 q5.61,5.06 0.45,-7.85" stroke="#ee9a68" stroke-width="4.05" stroke-opacity="0.55"/><path d="M18.39,291.71 q-1.21,-4.52 7.61,2.48 q-6.7,2.7 1.89,-0.9 q0.01,5.55 -2.52,2.18" stroke="#ee9a68" stroke-width="3.72" stroke-opacity="0.55"/><path d="M24.84,268.15 q-0.79,1.78 4.38,1.38 q-0.85,-3.21 7.04,6.36 q4.81,3.3 8.04,3.99" stroke="#ee9a68" stroke-width="3.25" stroke-opacity="0.55"/><path d="M26.55,299.93 q-2.42,-2.06 -5.69,-7.23 q-4.39,-4.18 2.48,5.56 q-3.91,-4.66 0.69,-6.15" stroke="#ee9a68" stroke-width="3.35" stroke-opacity="0.55"/><path d="M29.44,291.97 q0.54,-4.98 -5.15,1.59 q-5.65,-3.56 1.53,5.09 q0.29,1.96 -9.82,-3.16" stroke="#ee9a68" stroke-width="3.21" stroke-opacity="0.55"/><path d="M81.22,269.42 q1.08,-5.44 -1.92,4.9 q-0.25,-5.54 2.81,4.46 q-3.4,-0.34 -4.76,5.2" stroke="#ee9a68" stroke-width="3.16" stroke-opacity="0.55"/><path d="M64.46,288.48 q-1.55,3.61 -8.93,-3.4 q-5.73,-2.1 5.86,4.06 q-4.91,-2.3 -7.76,2.59" stroke="#ee9a68" stroke-width="3.41" stroke-opacity="0.55"/><path d="M17.73,295.66 q4.58,0.15 -7.87,7.56 q-3.95,4.6 4.51,-7.25 q1.77,1.3 -1.3,4.33" stroke="#ee9a68" stroke-width="2.73" stroke-opacity="0.55"/><path d="M26.37,253.41 q-4.68,5.56 -9.74,4.38 q4.9,5.57 -5.03,-2.33 q4.84,-3.72 4.02,6.38" stroke="#ee9a68" stroke-width="2.99" stroke-opacity="0.55"/><path d="M50.49,262.28 q5.48,4.15 -7.08,2.87 q3.81,2.11 9.29,6.06 q-3.56,5.96 -3.45,-1.92" stroke="#ee9a68" stroke-width="4.26" stroke-opacity="0.55"/><path d="M68.84,238.22 q1.09,5 -5.76,7.75 q3.73,-3.23 -7.58,-7.61 q-4.06,-1.48 -6.21,2.41" stroke="#ee9a68" stroke-width="3.77" stroke-opacity="0.55"/><path d="M87.67,288.4 q-0.97,1.97 -4.1,-5.93 q-1.59,-4.36 -9.92,-6.52 q-0.64,3.16 -9.03,2.19" stroke="#ee9a68" stroke-width="2.88" stroke-opacity="0.55"/><path d="M63.61,305.78 q-2.92,3.2 9.02,0.87 q-3.09,-5.93 -1.81,4.67 q5.29,-0.44 8.15,6.1" stroke="#ee9a68" stroke-width="3.12" stroke-opacity="0.55"/><path d="M24.27,263.6 q6.11,-1.77 2.64,5.1 q-3.1,3.4 -9.93,-2.55 q-4.66,-1.85 -5.74,-7.59" stroke="#ee9a68" stroke-width="3.99" stroke-opacity="0.55"/><path d="M38.69,290.64 q-3.75,-4.46 -3.55,3.48 q1.5,-3.62 -6.52,3.71 q-1.23,-2.08 4.54,-1.86" stroke="#ee9a68" stroke-width="3.97" stroke-opacity="0.55"/><path d="M70.7,294.35 q-3.58,-2.15 -3.92,-1.07 q5.24,5.95 -8.32,7.43 q5.86,-0.47 3.86,4.55" stroke="#ee9a68" stroke-width="3" stroke-opacity="0.55"/><path d="M88.61,306.43 q5.76,-4.98 4.29,-0.22 q5.73,-4 0.98,-6.07 q4.26,2.67 -9.38,-3.05" stroke="#ee9a68" stroke-width="2.93" stroke-opacity="0.55"/><path d="M61.88,241.01 q6.31,5.58 -1.19,1.19 q-1.91,1.27 -2.03,-0.95 q3.5,-3.76 -4.03,4.22" stroke="#ee9a68" stroke-width="3.06" stroke-opacity="0.55"/><path d="M84.47,247.38 q5.86,1.85 1.17,4.31 q-1.51,2.94 -2.64,0.17 q5.76,1.7 7.77,-0.64" stroke="#ee9a68" stroke-width="3.46" stroke-opacity="0.55"/><path d="M64.01,273.85 q3.8,2.23 -3.69,1.85 q3.44,0.41 5.05,2.12 q5.99,-2.83 3.43,7.63" stroke="#ee9a68" stroke-width="3.54" stroke-opacity="0.55"/><path d="M21.2,293.88 q-3.28,3 -1.53,0.56 q-3.52,-2.92 7.31,2.29 q1.8,-4.61 -4.14,7.49" stroke="#ee9a68" stroke-width="3.03" stroke-opacity="0.55"/><path d="M66.94,276.84 q0.76,5.64 5.63,-4.21 q-0.98,-0.96 3.68,2.8 q-3.35,2.31 -1.38,-7.76" stroke="#ee9a68" stroke-width="3.17" stroke-opacity="0.55"/><path d="M45.76,307.34 q2.2,-2.87 4.42,2.64 q-1.44,-2.6 4.65,-4.3 q2.4,-2.98 9.21,0.47" stroke="#ee9a68" stroke-width="3.52" stroke-opacity="0.55"/><path d="M65.61,312.54 q-3.72,-3.77 -3.31,4.74 q-3.83,3.25 -6.55,1.52 q3.1,2.09 -8.31,7.31" stroke="#ee9a68" stroke-width="4.06" stroke-opacity="0.55"/><path d="M76.79,281.47 q-4.45,5.52 -2.46,-3.16 q4,5.78 -7.08,6.98 q-1.68,1.51 -6.72,4.84" stroke="#ee9a68" stroke-width="3.31" stroke-opacity="0.55"/><path d="M65.07,252.37 q0.2,-3.84 -7.73,-2.61 q-5.39,-1.43 3.06,0.79 q4.14,-0.27 -8.32,3.64" stroke="#ee9a68" stroke-width="3.34" stroke-opacity="0.55"/><path d="M25.17,277.31 q-5.76,4.11 -0.87,-1.41 q-0.68,-0.25 -4.34,1.89 q-6.2,-3.08 8.18,4.34" stroke="#ee9a68" stroke-width="3.89" stroke-opacity="0.55"/><path d="M32.34,257.09 q1.04,0.71 -5.35,7.03 q3.32,-0.78 7.86,6.25 q5.29,3.68 -3.74,5.46" stroke="#ee9a68" stroke-width="3.15" stroke-opacity="0.55"/><path d="M66.01,238.09 q1.83,5.78 -8.61,-6.12 q-0.03,1.84 -3.61,5.5 q-1.07,-1.32 0.52,-6.79" stroke="#ee9a68" stroke-width="4.06" stroke-opacity="0.55"/><path d="M55.55,310.38 q-4.19,1.55 0.6,7.46 q0.19,-0.11 8.07,4.04 q-4.97,3.65 -2.02,7.5" stroke="#ee9a68" stroke-width="4.24" stroke-opacity="0.55"/><path d="M28.52,299.72 q-3.8,3.81 -9.63,2.38 q-4.16,-1.99 -2.05,3.14 q-4.23,-4.67 -1.97,5.43" stroke="#ee9a68" stroke-width="4.02" stroke-opacity="0.55"/></g>
<g fill="none" stroke-linecap="round"><path d="M26.54,291.18 q1.89,-0.25 -5.68,4.68 q4.31,0.15 0.1,-4.22 q-6.96,-1.55 1.71,-6.89" stroke="#f8c4a2" stroke-width="3.07" stroke-opacity="0.9"/><path d="M84.03,291.51 q-0.88,5.94 5.41,-1.49 q-0.81,5.48 0.8,3.1 q2.08,5.25 -9.54,3.86" stroke="#fad2b8" stroke-width="1.94" stroke-opacity="0.9"/><path d="M48.44,280.16 q-2.2,-0.18 -6.26,-7.41 q5.12,-3.18 5.61,-4.66 q6.56,4.73 5.1,4.2" stroke="#fad2b8" stroke-width="2.73" stroke-opacity="0.9"/><path d="M23.31,274.11 q4.58,-3.59 8.46,6.2 q-1.27,-1.62 -0.97,-1.83 q6.93,-1.36 -9.46,-6.51" stroke="#f6b890" stroke-width="2.95" stroke-opacity="0.9"/><path d="M14.22,241.61 q1.39,0.27 1.43,-2.9 q6.72,-4.65 3.39,2.02 q4.67,-2.01 5.24,6.88" stroke="#f8c4a2" stroke-width="2.19" stroke-opacity="0.9"/><path d="M18.99,301.1 q3.88,-1.5 3.67,2.81 q5.58,5.5 -1.86,7.83 q6.46,1.09 7.66,-0.15" stroke="#f8c4a2" stroke-width="2.4" stroke-opacity="0.9"/><path d="M85.16,255.67 q0.87,-0.73 -1.85,3.86 q-6.2,-2.54 7.07,2.53 q-6.51,-3.02 -2.11,5.93" stroke="#f8c4a2" stroke-width="2.83" stroke-opacity="0.9"/><path d="M88.74,295.67 q-0.29,-2.97 9.18,0.41 q3.2,-5.66 -5.76,5.41 q4.13,4.58 2.03,-1.18" stroke="#f6b890" stroke-width="2.73" stroke-opacity="0.9"/><path d="M37.41,278.75 q-3.14,3.22 -9.8,2.96 q6.36,-5.72 1.87,2.3 q4.92,1.01 -4.86,-1.51" stroke="#f8c4a2" stroke-width="3.33" stroke-opacity="0.9"/><path d="M24.15,243.59 q-5.68,-5.7 -1.06,-5.75 q5.14,1.86 -7.47,0.62 q-2.46,-0.07 -5.61,-5.34" stroke="#f6b890" stroke-width="2.09" stroke-opacity="0.9"/><path d="M29.32,295.54 q3.6,1.25 0.1,3.93 q-6.21,5.15 -2.25,5.83 q-1.43,0.8 7.09,-4.27" stroke="#fbdcc6" stroke-width="3.34" stroke-opacity="0.9"/><path d="M70.68,255.58 q-4.81,2.71 9.81,5.08 q4.24,-0.12 1.46,0.73 q-6.16,1.14 -3.52,0.27" stroke="#f8c4a2" stroke-width="2.27" stroke-opacity="0.9"/><path d="M18.84,301.18 q6.68,-1.74 -3.64,7.89 q-5.49,-5.09 -8.53,5.03 q3.64,-0.62 2.43,-7.68" stroke="#f6b890" stroke-width="2.83" stroke-opacity="0.9"/><path d="M49.79,277.04 q5.26,-5.16 -9.5,2.58 q-6.41,-2.69 1.79,-1.53 q-1.02,3.57 -2.02,-2.76" stroke="#fad2b8" stroke-width="2.16" stroke-opacity="0.9"/><path d="M16.84,249.83 q-1.78,1.26 -5.68,-0.8 q1.86,1.43 4.62,1.69 q4.48,-2.85 -0.38,-0.02" stroke="#f6b890" stroke-width="2.29" stroke-opacity="0.9"/><path d="M76.69,313.1 q6.85,-5.92 -3.75,-3.01 q-1.52,-4.25 1.06,-6.73 q-2.76,5.32 4.85,-0.6" stroke="#f8c4a2" stroke-width="1.97" stroke-opacity="0.9"/><path d="M67.5,252.47 q-2.31,1.7 3.63,-3.83 q6.32,-2.13 -4.92,5.53 q-4.85,2.17 -6,1.57" stroke="#f6b890" stroke-width="2.24" stroke-opacity="0.9"/><path d="M25.94,267.41 q-1.38,-0.47 3.32,2.71 q2.35,1.46 -8.02,7.6 q-3.99,-1.79 2.59,5.96" stroke="#fad2b8" stroke-width="2.39" stroke-opacity="0.9"/><path d="M52.09,239.14 q1.51,2.4 -5.2,-7.88 q0.62,-4.87 -3.82,-0.73 q5.52,-1.56 -7.3,4.67" stroke="#fad2b8" stroke-width="3.12" stroke-opacity="0.9"/><path d="M37.46,269.37 q5.36,-3.07 1.5,5.18 q1.18,-0.39 5.83,2.54 q-5.98,-0.77 6.65,7.83" stroke="#f8c4a2" stroke-width="2.85" stroke-opacity="0.9"/><path d="M18.53,301.22 q1.49,1.44 -0.58,4.8 q-2.27,-2.76 -2.94,-3.23 q1.78,4.68 -8.58,-6.92" stroke="#f8c4a2" stroke-width="2.62" stroke-opacity="0.9"/><path d="M41.37,264.19 q-4.73,1.02 -4.5,4.63 q-1.41,-5.61 -5.35,-2.26 q-3.49,-3.61 -6.13,7.26" stroke="#fbdcc6" stroke-width="2.48" stroke-opacity="0.9"/><path d="M76.87,253.1 q-6.43,-1.77 0.65,2.05 q-4.56,2.52 -0.12,-5.41 q4.91,3.68 8.13,2.87" stroke="#fad2b8" stroke-width="2.15" stroke-opacity="0.9"/><path d="M87.73,267.21 q6.19,5.24 5.88,-7.82 q-2.07,1.36 2.14,4.09 q2.06,-4.06 8.62,0.58" stroke="#f8c4a2" stroke-width="3.21" stroke-opacity="0.9"/><path d="M31.2,277.17 q-3,-0.6 5.34,7.28 q5.74,-3.12 1.99,-2.37 q2.41,4.4 1.46,7.91" stroke="#fad2b8" stroke-width="3.26" stroke-opacity="0.9"/><path d="M88.81,295.2 q3.38,-3.45 0.65,-2.07 q6.88,-2.45 -6.78,2.6 q1.59,-0.43 -0.11,-4.95" stroke="#f8c4a2" stroke-width="2.14" stroke-opacity="0.9"/><path d="M46.69,266.24 q-0.15,-2.81 0.76,-0.66 q-6.5,3.87 1.73,4.84 q3.31,2.77 9.87,-1.97" stroke="#fad2b8" stroke-width="2.43" stroke-opacity="0.9"/><path d="M73.09,305.33 q-2.85,3.99 -0.84,-0.22 q5.18,0.64 5.3,2.77 q-6.62,5 -7.36,-2.66" stroke="#f6b890" stroke-width="2.37" stroke-opacity="0.9"/><path d="M59.49,291.44 q5.11,3.02 -2.5,-3.99 q3.95,3.52 8.56,-4.82 q4.87,4.69 -8.46,-3.07" stroke="#f8c4a2" stroke-width="2.81" stroke-opacity="0.9"/><path d="M71.13,310.82 q-5.54,1.4 2.92,0.22 q-5.13,3.25 -0.1,-7.49 q5.61,5.06 0.45,-7.85" stroke="#fbdcc6" stroke-width="3.15" stroke-opacity="0.9"/><path d="M18.39,291.71 q-1.21,-4.52 7.61,2.48 q-6.7,2.7 1.89,-0.9 q0.01,5.55 -2.52,2.18" stroke="#fbdcc6" stroke-width="2.82" stroke-opacity="0.9"/><path d="M24.84,268.15 q-0.79,1.78 4.38,1.38 q-0.85,-3.21 7.04,6.36 q4.81,3.3 8.04,3.99" stroke="#f8c4a2" stroke-width="2.35" stroke-opacity="0.9"/><path d="M26.55,299.93 q-2.42,-2.06 -5.69,-7.23 q-4.39,-4.18 2.48,5.56 q-3.91,-4.66 0.69,-6.15" stroke="#fad2b8" stroke-width="2.45" stroke-opacity="0.9"/><path d="M29.44,291.97 q0.54,-4.98 -5.15,1.59 q-5.65,-3.56 1.53,5.09 q0.29,1.96 -9.82,-3.16" stroke="#fbdcc6" stroke-width="2.31" stroke-opacity="0.9"/><path d="M81.22,269.42 q1.08,-5.44 -1.92,4.9 q-0.25,-5.54 2.81,4.46 q-3.4,-0.34 -4.76,5.2" stroke="#fbdcc6" stroke-width="2.26" stroke-opacity="0.9"/><path d="M64.46,288.48 q-1.55,3.61 -8.93,-3.4 q-5.73,-2.1 5.86,4.06 q-4.91,-2.3 -7.76,2.59" stroke="#f8c4a2" stroke-width="2.51" stroke-opacity="0.9"/><path d="M17.73,295.66 q4.58,0.15 -7.87,7.56 q-3.95,4.6 4.51,-7.25 q1.77,1.3 -1.3,4.33" stroke="#f8c4a2" stroke-width="1.83" stroke-opacity="0.9"/><path d="M26.37,253.41 q-4.68,5.56 -9.74,4.38 q4.9,5.57 -5.03,-2.33 q4.84,-3.72 4.02,6.38" stroke="#fbdcc6" stroke-width="2.09" stroke-opacity="0.9"/><path d="M50.49,262.28 q5.48,4.15 -7.08,2.87 q3.81,2.11 9.29,6.06 q-3.56,5.96 -3.45,-1.92" stroke="#f8c4a2" stroke-width="3.36" stroke-opacity="0.9"/><path d="M68.84,238.22 q1.09,5 -5.76,7.75 q3.73,-3.23 -7.58,-7.61 q-4.06,-1.48 -6.21,2.41" stroke="#f8c4a2" stroke-width="2.87" stroke-opacity="0.9"/><path d="M87.67,288.4 q-0.97,1.97 -4.1,-5.93 q-1.59,-4.36 -9.92,-6.52 q-0.64,3.16 -9.03,2.19" stroke="#fbdcc6" stroke-width="1.98" stroke-opacity="0.9"/><path d="M63.61,305.78 q-2.92,3.2 9.02,0.87 q-3.09,-5.93 -1.81,4.67 q5.29,-0.44 8.15,6.1" stroke="#fbdcc6" stroke-width="2.22" stroke-opacity="0.9"/><path d="M24.27,263.6 q6.11,-1.77 2.64,5.1 q-3.1,3.4 -9.93,-2.55 q-4.66,-1.85 -5.74,-7.59" stroke="#f8c4a2" stroke-width="3.09" stroke-opacity="0.9"/><path d="M38.69,290.64 q-3.75,-4.46 -3.55,3.48 q1.5,-3.62 -6.52,3.71 q-1.23,-2.08 4.54,-1.86" stroke="#fbdcc6" stroke-width="3.07" stroke-opacity="0.9"/><path d="M70.7,294.35 q-3.58,-2.15 -3.92,-1.07 q5.24,5.95 -8.32,7.43 q5.86,-0.47 3.86,4.55" stroke="#f6b890" stroke-width="2.1" stroke-opacity="0.9"/><path d="M88.61,306.43 q5.76,-4.98 4.29,-0.22 q5.73,-4 0.98,-6.07 q4.26,2.67 -9.38,-3.05" stroke="#fad2b8" stroke-width="2.03" stroke-opacity="0.9"/><path d="M61.88,241.01 q6.31,5.58 -1.19,1.19 q-1.91,1.27 -2.03,-0.95 q3.5,-3.76 -4.03,4.22" stroke="#fad2b8" stroke-width="2.16" stroke-opacity="0.9"/><path d="M84.47,247.38 q5.86,1.85 1.17,4.31 q-1.51,2.94 -2.64,0.17 q5.76,1.7 7.77,-0.64" stroke="#f8c4a2" stroke-width="2.56" stroke-opacity="0.9"/><path d="M64.01,273.85 q3.8,2.23 -3.69,1.85 q3.44,0.41 5.05,2.12 q5.99,-2.83 3.43,7.63" stroke="#f8c4a2" stroke-width="2.64" stroke-opacity="0.9"/><path d="M21.2,293.88 q-3.28,3 -1.53,0.56 q-3.52,-2.92 7.31,2.29 q1.8,-4.61 -4.14,7.49" stroke="#f8c4a2" stroke-width="2.13" stroke-opacity="0.9"/><path d="M66.94,276.84 q0.76,5.64 5.63,-4.21 q-0.98,-0.96 3.68,2.8 q-3.35,2.31 -1.38,-7.76" stroke="#f6b890" stroke-width="2.27" stroke-opacity="0.9"/><path d="M45.76,307.34 q2.2,-2.87 4.42,2.64 q-1.44,-2.6 4.65,-4.3 q2.4,-2.98 9.21,0.47" stroke="#fbdcc6" stroke-width="2.62" stroke-opacity="0.9"/><path d="M65.61,312.54 q-3.72,-3.77 -3.31,4.74 q-3.83,3.25 -6.55,1.52 q3.1,2.09 -8.31,7.31" stroke="#f6b890" stroke-width="3.16" stroke-opacity="0.9"/><path d="M76.79,281.47 q-4.45,5.52 -2.46,-3.16 q4,5.78 -7.08,6.98 q-1.68,1.51 -6.72,4.84" stroke="#fad2b8" stroke-width="2.41" stroke-opacity="0.9"/><path d="M65.07,252.37 q0.2,-3.84 -7.73,-2.61 q-5.39,-1.43 3.06,0.79 q4.14,-0.27 -8.32,3.64" stroke="#fbdcc6" stroke-width="2.44" stroke-opacity="0.9"/><path d="M25.17,277.31 q-5.76,4.11 -0.87,-1.41 q-0.68,-0.25 -4.34,1.89 q-6.2,-3.08 8.18,4.34" stroke="#fbdcc6" stroke-width="2.99" stroke-opacity="0.9"/><path d="M32.34,257.09 q1.04,0.71 -5.35,7.03 q3.32,-0.78 7.86,6.25 q5.29,3.68 -3.74,5.46" stroke="#fbdcc6" stroke-width="2.25" stroke-opacity="0.9"/><path d="M66.01,238.09 q1.83,5.78 -8.61,-6.12 q-0.03,1.84 -3.61,5.5 q-1.07,-1.32 0.52,-6.79" stroke="#f8c4a2" stroke-width="3.16" stroke-opacity="0.9"/><path d="M55.55,310.38 q-4.19,1.55 0.6,7.46 q0.19,-0.11 8.07,4.04 q-4.97,3.65 -2.02,7.5" stroke="#f6b890" stroke-width="3.34" stroke-opacity="0.9"/><path d="M28.52,299.72 q-3.8,3.81 -9.63,2.38 q-4.16,-1.99 -2.05,3.14 q-4.23,-4.67 -1.97,5.43" stroke="#fbdcc6" stroke-width="3.12" stroke-opacity="0.9"/></g>
</g>
<g clip-path="url(#cpg)">
<ellipse cx="40" cy="322" rx="22" ry="14" fill="#eef6e4" fill-opacity="0.8"/>
<ellipse cx="68" cy="320" rx="16" ry="12" fill="#eef6e4" fill-opacity="0.8"/>
<g fill="none" stroke-linecap="round"><path d="M80.67,335.55 q-6.49,3.07 7.01,6.69 q4.16,-0.92 -8.77,7.72 q3.4,-2.73 -9.61,6.31" stroke="#a8d088" stroke-width="2.44" stroke-opacity="0.55"/><path d="M55.93,327.92 q-2.59,2.47 4.2,6.56 q1.13,-2.76 2.57,-7.19 q3.42,-2.32 4.39,-5.89" stroke="#a8d088" stroke-width="3.18" stroke-opacity="0.55"/><path d="M57.25,338.43 q0.16,-4.06 2.33,-4.4 q-6.65,-5.01 -1.35,2.21 q-5.78,0.29 -2.39,-0.4" stroke="#a8d088" stroke-width="3.58" stroke-opacity="0.55"/><path d="M50.92,329.87 q4.92,-3.07 3.31,-4.53 q-4.8,-0.28 2.96,2.24 q6.27,-4.03 0.61,-0.32" stroke="#a8d088" stroke-width="2.74" stroke-opacity="0.55"/><path d="M24.93,313.47 q-6.43,1.72 3.15,-4.42 q5.91,1.62 -5.97,7.07 q4.95,-2.23 7.3,-5.92" stroke="#a8d088" stroke-width="2.85" stroke-opacity="0.55"/><path d="M65.02,314.32 q-1.96,-1.55 7.36,1.6 q5.22,4.44 7.45,-7.47 q3.98,-3.05 -4.83,0.67" stroke="#a8d088" stroke-width="3.49" stroke-opacity="0.55"/><path d="M63.09,315.84 q-4.83,-5.89 2.12,1.19 q4.19,-4.12 3.46,-0.75 q0.35,3.98 0.38,-1.03" stroke="#a8d088" stroke-width="3.24" stroke-opacity="0.55"/><path d="M54.3,345.6 q0.61,-1.9 -7.62,0.94 q0.05,-2.17 -1.47,-6.01 q5.57,-2.86 -3.9,5.16" stroke="#a8d088" stroke-width="2.64" stroke-opacity="0.55"/><path d="M39.41,334.02 q-2.18,-3.89 4.22,-1.02 q2.73,-0.19 6.25,0.19 q6.65,3.76 4.43,-0.15" stroke="#a8d088" stroke-width="3.19" stroke-opacity="0.55"/><path d="M27.04,317.55 q-4.9,-0.65 1.33,-3.33 q5.68,4.42 -2.31,-2.95 q-4.23,-2.28 2.27,-4.41" stroke="#a8d088" stroke-width="2.47" stroke-opacity="0.55"/><path d="M42.41,331.79 q4.15,1.2 -9.58,2.51 q-7,-2.37 -7.71,4.22 q-4.64,2.63 -8.55,-4.69" stroke="#a8d088" stroke-width="3.3" stroke-opacity="0.55"/><path d="M19.44,329.03 q-1.44,1.46 -8.45,-7.73 q-5.9,4.69 -0.19,1.8 q-5.13,2.23 8.02,-4.83" stroke="#a8d088" stroke-width="3.41" stroke-opacity="0.55"/><path d="M89.41,326.89 q2.03,-1.86 5.62,-3.03 q1.73,1.52 9.79,4.6 q-5.66,-3.88 -2.86,-1.66" stroke="#a8d088" stroke-width="3.33" stroke-opacity="0.55"/><path d="M72.26,325.73 q-1.1,5.29 -9.18,-4.44 q-6.28,-2.34 -0.34,3.03 q4.85,-2.52 4.37,0.57" stroke="#a8d088" stroke-width="2.9" stroke-opacity="0.55"/><path d="M54.41,305.97 q5.03,-2.26 -0.39,4.18 q5.26,4.25 -2.65,5.55 q-4.86,0.62 -1.35,5.86" stroke="#a8d088" stroke-width="3.34" stroke-opacity="0.55"/><path d="M24.83,315.75 q-5.26,-1.29 -7.12,-7.04 q-5,-3.79 -0.83,2.23 q4.24,0.11 -4.81,1.04" stroke="#a8d088" stroke-width="2.61" stroke-opacity="0.55"/><path d="M88.22,317.88 q-0.92,-2.58 -2.54,-3.58 q4.96,-5.14 -2.71,1.56 q-0.29,-2.11 -0.32,-7" stroke="#a8d088" stroke-width="2.8" stroke-opacity="0.55"/><path d="M81.03,308.66 q1.5,-5.72 7.38,4.68 q-3.24,-1.32 -2.31,-0.99 q-4.78,1.55 7.2,5.56" stroke="#a8d088" stroke-width="2.51" stroke-opacity="0.55"/><path d="M48.24,333.75 q-5.26,0.78 6.93,6.69 q1.69,-2.77 -6.13,2.29 q-5.61,-3.22 2.82,1.9" stroke="#a8d088" stroke-width="3.63" stroke-opacity="0.55"/><path d="M71.57,326.25 q-2.37,0.14 0.16,7.9 q4.74,-2.4 9.01,4.76 q-6.95,2.7 2.55,5.72" stroke="#a8d088" stroke-width="2.99" stroke-opacity="0.55"/><path d="M47.2,345.7 q5.93,0.19 7.41,4.89 q-4.25,3.59 -4.5,6.61 q-5.04,-3.04 -7.01,-3.22" stroke="#a8d088" stroke-width="3.44" stroke-opacity="0.55"/><path d="M56.91,339.75 q-0.15,-5.64 1.15,5.62 q-1.25,3.92 -1.07,-2.26 q-1.97,-3.26 0.01,7.35" stroke="#a8d088" stroke-width="3.17" stroke-opacity="0.55"/><path d="M27.63,318.26 q1.12,-1.39 -9.83,5.89 q-5.19,1.91 9.61,-3.37 q-3.22,-2.02 0.84,7.68" stroke="#a8d088" stroke-width="2.59" stroke-opacity="0.55"/><path d="M75.17,325.76 q-2.55,-1.31 0.45,-2.04 q1.44,2.25 7.67,-1.37 q-1.8,1.21 -4.09,7.63" stroke="#a8d088" stroke-width="2.82" stroke-opacity="0.55"/><path d="M48.45,332.99 q-1.37,-5.04 -5.25,-7.84 q4.34,-5.13 -0.31,3.41 q2.17,5.36 8.33,-1.61" stroke="#a8d088" stroke-width="2.94" stroke-opacity="0.55"/><path d="M64.83,338.13 q-4.92,5.37 -7.86,-4.8 q6.09,4.11 2.38,-0.03 q-3.58,2.57 -9.33,-6.85" stroke="#a8d088" stroke-width="2.69" stroke-opacity="0.55"/></g>
<g fill="none" stroke-linecap="round"><path d="M80.67,335.55 q-6.49,3.07 7.01,6.69 q4.16,-0.92 -8.77,7.72 q3.4,-2.73 -9.61,6.31" stroke="#cfe6b8" stroke-width="1.54" stroke-opacity="0.9"/><path d="M55.93,327.92 q-2.59,2.47 4.2,6.56 q1.13,-2.76 2.57,-7.19 q3.42,-2.32 4.39,-5.89" stroke="#dcedc8" stroke-width="2.28" stroke-opacity="0.9"/><path d="M57.25,338.43 q0.16,-4.06 2.33,-4.4 q-6.65,-5.01 -1.35,2.21 q-5.78,0.29 -2.39,-0.4" stroke="#dcedc8" stroke-width="2.68" stroke-opacity="0.9"/><path d="M50.92,329.87 q4.92,-3.07 3.31,-4.53 q-4.8,-0.28 2.96,2.24 q6.27,-4.03 0.61,-0.32" stroke="#dcedc8" stroke-width="1.84" stroke-opacity="0.9"/><path d="M24.93,313.47 q-6.43,1.72 3.15,-4.42 q5.91,1.62 -5.97,7.07 q4.95,-2.23 7.3,-5.92" stroke="#cfe6b8" stroke-width="1.95" stroke-opacity="0.9"/><path d="M65.02,314.32 q-1.96,-1.55 7.36,1.6 q5.22,4.44 7.45,-7.47 q3.98,-3.05 -4.83,0.67" stroke="#dcedc8" stroke-width="2.59" stroke-opacity="0.9"/><path d="M63.09,315.84 q-4.83,-5.89 2.12,1.19 q4.19,-4.12 3.46,-0.75 q0.35,3.98 0.38,-1.03" stroke="#dcedc8" stroke-width="2.34" stroke-opacity="0.9"/><path d="M54.3,345.6 q0.61,-1.9 -7.62,0.94 q0.05,-2.17 -1.47,-6.01 q5.57,-2.86 -3.9,5.16" stroke="#cfe6b8" stroke-width="1.74" stroke-opacity="0.9"/><path d="M39.41,334.02 q-2.18,-3.89 4.22,-1.02 q2.73,-0.19 6.25,0.19 q6.65,3.76 4.43,-0.15" stroke="#cfe6b8" stroke-width="2.29" stroke-opacity="0.9"/><path d="M27.04,317.55 q-4.9,-0.65 1.33,-3.33 q5.68,4.42 -2.31,-2.95 q-4.23,-2.28 2.27,-4.41" stroke="#cfe6b8" stroke-width="1.57" stroke-opacity="0.9"/><path d="M42.41,331.79 q4.15,1.2 -9.58,2.51 q-7,-2.37 -7.71,4.22 q-4.64,2.63 -8.55,-4.69" stroke="#cfe6b8" stroke-width="2.4" stroke-opacity="0.9"/><path d="M19.44,329.03 q-1.44,1.46 -8.45,-7.73 q-5.9,4.69 -0.19,1.8 q-5.13,2.23 8.02,-4.83" stroke="#dcedc8" stroke-width="2.51" stroke-opacity="0.9"/><path d="M89.41,326.89 q2.03,-1.86 5.62,-3.03 q1.73,1.52 9.79,4.6 q-5.66,-3.88 -2.86,-1.66" stroke="#cfe6b8" stroke-width="2.43" stroke-opacity="0.9"/><path d="M72.26,325.73 q-1.1,5.29 -9.18,-4.44 q-6.28,-2.34 -0.34,3.03 q4.85,-2.52 4.37,0.57" stroke="#e6f2d8" stroke-width="2" stroke-opacity="0.9"/><path d="M54.41,305.97 q5.03,-2.26 -0.39,4.18 q5.26,4.25 -2.65,5.55 q-4.86,0.62 -1.35,5.86" stroke="#e6f2d8" stroke-width="2.44" stroke-opacity="0.9"/><path d="M24.83,315.75 q-5.26,-1.29 -7.12,-7.04 q-5,-3.79 -0.83,2.23 q4.24,0.11 -4.81,1.04" stroke="#dcedc8" stroke-width="1.71" stroke-opacity="0.9"/><path d="M88.22,317.88 q-0.92,-2.58 -2.54,-3.58 q4.96,-5.14 -2.71,1.56 q-0.29,-2.11 -0.32,-7" stroke="#cfe6b8" stroke-width="1.9" stroke-opacity="0.9"/><path d="M81.03,308.66 q1.5,-5.72 7.38,4.68 q-3.24,-1.32 -2.31,-0.99 q-4.78,1.55 7.2,5.56" stroke="#cfe6b8" stroke-width="1.61" stroke-opacity="0.9"/><path d="M48.24,333.75 q-5.26,0.78 6.93,6.69 q1.69,-2.77 -6.13,2.29 q-5.61,-3.22 2.82,1.9" stroke="#cfe6b8" stroke-width="2.73" stroke-opacity="0.9"/><path d="M71.57,326.25 q-2.37,0.14 0.16,7.9 q4.74,-2.4 9.01,4.76 q-6.95,2.7 2.55,5.72" stroke="#dcedc8" stroke-width="2.09" stroke-opacity="0.9"/><path d="M47.2,345.7 q5.93,0.19 7.41,4.89 q-4.25,3.59 -4.5,6.61 q-5.04,-3.04 -7.01,-3.22" stroke="#dcedc8" stroke-width="2.54" stroke-opacity="0.9"/><path d="M56.91,339.75 q-0.15,-5.64 1.15,5.62 q-1.25,3.92 -1.07,-2.26 q-1.97,-3.26 0.01,7.35" stroke="#cfe6b8" stroke-width="2.27" stroke-opacity="0.9"/><path d="M27.63,318.26 q1.12,-1.39 -9.83,5.89 q-5.19,1.91 9.61,-3.37 q-3.22,-2.02 0.84,7.68" stroke="#dcedc8" stroke-width="1.69" stroke-opacity="0.9"/><path d="M75.17,325.76 q-2.55,-1.31 0.45,-2.04 q1.44,2.25 7.67,-1.37 q-1.8,1.21 -4.09,7.63" stroke="#e6f2d8" stroke-width="1.92" stroke-opacity="0.9"/><path d="M48.45,332.99 q-1.37,-5.04 -5.25,-7.84 q4.34,-5.13 -0.31,3.41 q2.17,5.36 8.33,-1.61" stroke="#cfe6b8" stroke-width="2.04" stroke-opacity="0.9"/><path d="M64.83,338.13 q-4.92,5.37 -7.86,-4.8 q6.09,4.11 2.38,-0.03 q-3.58,2.57 -9.33,-6.85" stroke="#cfe6b8" stroke-width="1.79" stroke-opacity="0.9"/></g>
</g>
<line x1="37.5" y1="275" x2="40" y2="276.2" stroke="#2a4690" stroke-width="2.4" />
<line x1="40" y1="276.2" x2="42.5" y2="275.6" stroke="#2a4690" stroke-width="2.4" />
<line x1="42.5" y1="275.6" x2="45" y2="277.2" stroke="#2a4690" stroke-width="2.4" />
<line x1="45" y1="277.2" x2="47.5" y2="278.5" stroke="#2a4690" stroke-width="2.4" />
<line x1="47.5" y1="278.5" x2="50" y2="279.5" stroke="#2a4690" stroke-width="2.4" />
<line x1="50" y1="279.5" x2="52.5" y2="281.2" stroke="#2a4690" stroke-width="2.4" />
<line x1="52.5" y1="281.2" x2="54.5" y2="283" stroke="#2a4690" stroke-width="2.4" />
<line x1="54.5" y1="283" x2="56.5" y2="285" stroke="#2a4690" stroke-width="2.4" />
<line x1="56.5" y1="285" x2="57.5" y2="288" stroke="#2a4690" stroke-width="2.4" />
<line x1="57.5" y1="288" x2="58.5" y2="291" stroke="#2a4690" stroke-width="2.4" />
<line x1="58.5" y1="291" x2="59.5" y2="294" stroke="#2a4690" stroke-width="2.4" />
<line x1="59.5" y1="294" x2="60.5" y2="297" stroke="#2a4690" stroke-width="2.4" />
<line x1="60.5" y1="297" x2="61.5" y2="300" stroke="#2a4690" stroke-width="2.4" />
<line x1="61.5" y1="300" x2="63" y2="302.5" stroke="#2a4690" stroke-width="2.4" />
<line x1="59.5" y1="294" x2="56.5" y2="295.5" stroke="#2a4690" stroke-width="1.6" />
<line x1="59.5" y1="294" x2="63.5" y2="294.5" stroke="#2a4690" stroke-width="1.6" />
<line x1="57.5" y1="288" x2="55.5" y2="290.5" stroke="#2a4690" stroke-width="1.6" />
<line x1="57.5" y1="288" x2="61.5" y2="288.5" stroke="#2a4690" stroke-width="1.6" />
<line x1="54.5" y1="283" x2="52.5" y2="285.5" stroke="#2a4690" stroke-width="1.6" />
<line x1="50" y1="279.5" x2="48.5" y2="283" stroke="#2a4690" stroke-width="1.6" />
<circle cx="37.5" cy="275" r="1.8" fill="#2f4c9e" />
<circle cx="40" cy="276.2" r="1.8" fill="#2f4c9e" />
<circle cx="42.5" cy="275.6" r="1.8" fill="#2f4c9e" />
<circle cx="45" cy="277.2" r="1.8" fill="#2f4c9e" />
<circle cx="47.5" cy="278.5" r="1.8" fill="#2f4c9e" />
<circle cx="50" cy="279.5" r="1.8" fill="#2f4c9e" />
<circle cx="52.5" cy="281.2" r="1.8" fill="#2f4c9e" />
<circle cx="54.5" cy="283" r="1.8" fill="#2f4c9e" />
<circle cx="56.5" cy="285" r="1.8" fill="#2f4c9e" />
<circle cx="57.5" cy="288" r="1.8" fill="#2f4c9e" />
<circle cx="58.5" cy="291" r="1.8" fill="#2f4c9e" />
<circle cx="59.5" cy="294" r="1.8" fill="#2f4c9e" />
<circle cx="60.5" cy="297" r="1.8" fill="#2f4c9e" />
<circle cx="61.5" cy="300" r="1.8" fill="#2f4c9e" />
<circle cx="63" cy="302.5" r="1.8" fill="#2f4c9e" />
<circle cx="56.5" cy="295.5" r="1.8" fill="#2f4c9e" />
<circle cx="63.5" cy="294.5" r="1.8" fill="#2f4c9e" />
<circle cx="55.5" cy="290.5" r="1.8" fill="#2f4c9e" />
<circle cx="61.5" cy="288.5" r="1.8" fill="#2f4c9e" />
<circle cx="52.5" cy="285.5" r="1.8" fill="#2f4c9e" />
<circle cx="48.5" cy="283" r="1.8" fill="#2f4c9e" />
<polyline points="51,241.5 55,242 57.5,245" fill="none" stroke="#d86a22" stroke-width="1.3" />
<polyline points="57.5,245 62,248 60,252 63,249 66,250.5" fill="none" stroke="#d86a22" stroke-width="1.3" />
<polyline points="40,264 44,266.5 46.5,270" fill="none" stroke="#d86a22" stroke-width="1.3" />
<polyline points="74,292 76,296 76,300 76,296 79,294" fill="none" stroke="#d86a22" stroke-width="1.3" />
<polyline points="27,303 30,306 33,304.5 30,306 30.5,309.5" fill="none" stroke="#d86a22" stroke-width="1.3" />
<polyline points="61,313 64,312 66,315 65,319" fill="none" stroke="#4a9a2a" stroke-width="1.2" />
<polyline points="70,333 74,330 76,327 74,330 72,328" fill="none" stroke="#4a9a2a" stroke-width="1.2" />
<polyline points="36,333.5 36.5,337" fill="none" stroke="#4a9a2a" stroke-width="1.2" />
<text x="31.3" y="247.46" font-size="9.1" fill="#c8561e" stroke="#c8561e" stroke-width="0.18" text-anchor="start" >V164</text>
<text x="67.9" y="258.06" font-size="9.1" fill="#c8561e" stroke="#c8561e" stroke-width="0.18" text-anchor="start" >I91</text>
<text x="19.5" y="264.66" font-size="9.1" fill="#c8561e" stroke="#c8561e" stroke-width="0.18" text-anchor="start" >M85</text>
<text x="26.5" y="287.16" font-size="9.1" fill="#3646a8" stroke="#3646a8" stroke-width="0.18" text-anchor="start" >ATP</text>
<text x="65.6" y="285.76" font-size="9.1" fill="#c8561e" stroke="#c8561e" stroke-width="0.18" text-anchor="start" >V125</text>
<text x="20.6" y="315.56" font-size="9.1" fill="#c8561e" stroke="#c8561e" stroke-width="0.18" text-anchor="start" >L109</text>
<text x="47.7" y="321.26" font-size="9.1" fill="#2e8b57" stroke="#2e8b57" stroke-width="0.18" text-anchor="start" >R336</text>
<text x="24.4" y="330.96" font-size="9.1" fill="#2e8b57" stroke="#2e8b57" stroke-width="0.18" text-anchor="start" >A254</text>
<text x="63.7" y="329.16" font-size="9.1" fill="#2e8b57" stroke="#2e8b57" stroke-width="0.18" text-anchor="start" >L339</text>
<rect x="117.2" y="218.5" width="69.3" height="52.7" fill="none" stroke="#555" stroke-width="1.0"/>
<line x1="117.2" y1="271.2" x2="118.7" y2="271.2" stroke="#555" stroke-width="0.7" />
<text x="116.6" y="273.49" font-size="6.4" fill="#222" stroke="#222" stroke-width="0.18" text-anchor="end" >0</text>
<line x1="117.2" y1="244.86" x2="118.7" y2="244.86" stroke="#555" stroke-width="0.7" />
<text x="116.6" y="247.15" font-size="6.4" fill="#222" stroke="#222" stroke-width="0.18" text-anchor="end" >30</text>
<line x1="117.2" y1="218.52" x2="118.7" y2="218.52" stroke="#555" stroke-width="0.7" />
<text x="116.6" y="220.81" font-size="6.4" fill="#222" stroke="#222" stroke-width="0.18" text-anchor="end" >60</text>
<line x1="118.2" y1="271.2" x2="118.2" y2="269.7" stroke="#555" stroke-width="0.7" />
<text x="118.2" y="277.46" font-size="6.3" fill="#222" stroke="#222" stroke-width="0.18" text-anchor="middle" >0</text>
<line x1="138.72" y1="271.2" x2="138.72" y2="269.7" stroke="#555" stroke-width="0.7" />
<text x="138.72" y="277.46" font-size="6.3" fill="#222" stroke="#222" stroke-width="0.18" text-anchor="middle" >4</text>
<line x1="159.24" y1="271.2" x2="159.24" y2="269.7" stroke="#555" stroke-width="0.7" />
<text x="159.24" y="277.46" font-size="6.3" fill="#222" stroke="#222" stroke-width="0.18" text-anchor="middle" >8</text>
<line x1="179.76" y1="271.2" x2="179.76" y2="269.7" stroke="#555" stroke-width="0.7" />
<text x="179.76" y="277.46" font-size="6.3" fill="#222" stroke="#222" stroke-width="0.18" text-anchor="middle" >12</text>
<line x1="128.46" y1="271.2" x2="128.46" y2="270.2" stroke="#555" stroke-width="0.6" />
<line x1="148.98" y1="271.2" x2="148.98" y2="270.2" stroke="#555" stroke-width="0.6" />
<line x1="169.5" y1="271.2" x2="169.5" y2="270.2" stroke="#555" stroke-width="0.6" />
<polyline points="118.3,237.41 118.36,237.42 118.49,237.46 118.66,237.56 118.86,237.74 119.1,238.02 119.37,238.42 119.67,238.92 120,239.51 120.35,240.18 120.73,240.89 121.13,241.61 121.55,242.3 122,242.96 122.46,243.56 122.95,244.1 123.45,244.58 123.98,245 124.52,245.36 125.08,245.68 125.66,245.95 126.26,246.19 126.87,246.39 127.5,246.57 128.15,246.72 128.82,246.85 129.5,246.97 130.2,247.07 130.91,247.15 131.64,247.23 132.38,247.3 133.14,247.36 133.91,247.41 134.7,247.46 135.5,247.5 136.32,247.53 137.15,247.57 137.99,247.6 138.85,247.62 139.72,247.65 140.61,247.67 141.51,247.69 142.42,247.71 143.34,247.72 144.28,247.74 145.23,247.75 146.2,247.76 147.17,247.77 148.16,247.78 149.16,247.79 150.18,247.8 151.2,247.81 152.24,247.82 153.29,247.82 154.35,247.83 155.43,247.84 156.51,247.84 157.61,247.85 158.72,247.85 159.84,247.86 160.97,247.86 162.12,247.86 163.27,247.87 164.44,247.87 165.62,247.87 166.8,247.88 168,247.88 169.21,247.88 170.43,247.88 171.67,247.89 172.91,247.89 174.16,247.89 175.43,247.89 176.7,247.89 177.99,247.9 179.28,247.9 180.59,247.9 181.91,247.9 183.23,247.9 184.57,247.9 185.92,247.9" fill="none" stroke="#f5a21e" stroke-width="1.3" />
<rect x="117.56" y="236.36" width="1.8" height="1.8" fill="#f5a21e"/>
<rect x="117.81" y="237.13" width="1.8" height="1.8" fill="#f5a21e"/>
<rect x="118.33" y="237.35" width="1.8" height="1.8" fill="#f5a21e"/>
<rect x="119.1" y="238.62" width="1.8" height="1.8" fill="#f5a21e"/>
<rect x="119.86" y="240.12" width="1.8" height="1.8" fill="#f5a21e"/>
<rect x="121.15" y="241.92" width="1.8" height="1.8" fill="#f5a21e"/>
<rect x="122.43" y="244.04" width="1.8" height="1.8" fill="#f5a21e"/>
<rect x="125" y="245.55" width="1.8" height="1.8" fill="#f5a21e"/>
<rect x="127.56" y="246.02" width="1.8" height="1.8" fill="#f5a21e"/>
<rect x="132.69" y="247.01" width="1.8" height="1.8" fill="#f5a21e"/>
<rect x="137.82" y="246.33" width="1.8" height="1.8" fill="#f5a21e"/>
<rect x="142.95" y="247.21" width="1.8" height="1.8" fill="#f5a21e"/>
<rect x="148.08" y="246.96" width="1.8" height="1.8" fill="#f5a21e"/>
<rect x="153.21" y="246.53" width="1.8" height="1.8" fill="#f5a21e"/>
<rect x="158.34" y="246.76" width="1.8" height="1.8" fill="#f5a21e"/>
<rect x="168.6" y="247.18" width="1.8" height="1.8" fill="#f5a21e"/>
<rect x="178.86" y="246.72" width="1.8" height="1.8" fill="#f5a21e"/>
<polyline points="118.3,239.42 118.36,239.43 118.49,239.45 118.66,239.49 118.86,239.58 119.1,239.71 119.37,239.9 119.67,240.15 120,240.46 120.35,240.83 120.73,241.24 121.13,241.68 121.55,242.14 122,242.6 122.46,243.05 122.95,243.48 123.45,243.87 123.98,244.24 124.52,244.57 125.08,244.87 125.66,245.13 126.26,245.37 126.87,245.57 127.5,245.76 128.15,245.92 128.82,246.06 129.5,246.19 130.2,246.3 130.91,246.4 131.64,246.48 132.38,246.56 133.14,246.63 133.91,246.69 134.7,246.74 135.5,246.79 136.32,246.84 137.15,246.88 137.99,246.91 138.85,246.94 139.72,246.97 140.61,247 141.51,247.02 142.42,247.04 143.34,247.06 144.28,247.08 145.23,247.09 146.2,247.11 147.17,247.12 148.16,247.14 149.16,247.15 150.18,247.16 151.2,247.17 152.24,247.18 153.29,247.18 154.35,247.19 155.43,247.2 156.51,247.21 157.61,247.21 158.72,247.22 159.84,247.22 160.97,247.23 162.12,247.23 163.27,247.24 164.44,247.24 165.62,247.24 166.8,247.25 168,247.25 169.21,247.25 170.43,247.26 171.67,247.26 172.91,247.26 174.16,247.26 175.43,247.27 176.7,247.27 177.99,247.27 179.28,247.27 180.59,247.28 181.91,247.28 183.23,247.28 184.57,247.28 185.92,247.28" fill="none" stroke="#111" stroke-width="1" stroke-dasharray="1.2 1.4"/>
<rect x="117.56" y="239.3" width="1.8" height="1.8" fill="#111"/>
<rect x="117.81" y="239.62" width="1.8" height="1.8" fill="#111"/>
<rect x="118.33" y="239.04" width="1.8" height="1.8" fill="#111"/>
<rect x="119.1" y="240.45" width="1.8" height="1.8" fill="#111"/>
<rect x="119.86" y="239.78" width="1.8" height="1.8" fill="#111"/>
<rect x="121.15" y="241.57" width="1.8" height="1.8" fill="#111"/>
<rect x="122.43" y="243.39" width="1.8" height="1.8" fill="#111"/>
<rect x="125" y="245.11" width="1.8" height="1.8" fill="#111"/>
<rect x="127.56" y="245.63" width="1.8" height="1.8" fill="#111"/>
<rect x="132.69" y="246.37" width="1.8" height="1.8" fill="#111"/>
<rect x="137.82" y="246.32" width="1.8" height="1.8" fill="#111"/>
<rect x="142.95" y="245.27" width="1.8" height="1.8" fill="#111"/>
<rect x="148.08" y="245.38" width="1.8" height="1.8" fill="#111"/>
<rect x="153.21" y="246.55" width="1.8" height="1.8" fill="#111"/>
<rect x="158.34" y="247.14" width="1.8" height="1.8" fill="#111"/>
<rect x="168.6" y="245.6" width="1.8" height="1.8" fill="#111"/>
<rect x="178.86" y="247.12" width="1.8" height="1.8" fill="#111"/>
<polyline points="118.3,219 118.36,219 118.49,219 118.66,219 118.86,220.66 119.1,224.9 119.37,229.27 119.67,233.24 120,236.55 120.35,239.18 120.73,241.19 121.13,242.72 121.55,243.89 122,244.77 122.46,245.45 122.95,245.98 123.45,246.4 123.98,246.72 124.52,246.98 125.08,247.19 125.66,247.36 126.26,247.5 126.87,247.62 127.5,247.72 128.15,247.8 128.82,247.87 129.5,247.93 130.2,247.98 130.91,248.02 131.64,248.05 132.38,248.09 133.14,248.11 133.91,248.14 134.7,248.16 135.5,248.18 136.32,248.2 137.15,248.21 137.99,248.23 138.85,248.24 139.72,248.25 140.61,248.26 141.51,248.27 142.42,248.27 143.34,248.28 144.28,248.29 145.23,248.29 146.2,248.3 147.17,248.3 148.16,248.31 149.16,248.31 150.18,248.32 151.2,248.32 152.24,248.32 153.29,248.33 154.35,248.33 155.43,248.33 156.51,248.33 157.61,248.33 158.72,248.34 159.84,248.34 160.97,248.34 162.12,248.34 163.27,248.34 164.44,248.35 165.62,248.35 166.8,248.35 168,248.35 169.21,248.35 170.43,248.35 171.67,248.35 172.91,248.35 174.16,248.35 175.43,248.35 176.7,248.36 177.99,248.36 179.28,248.36 180.59,248.36 181.91,248.36 183.23,248.36 184.57,248.36 185.92,248.36" fill="none" stroke="#27a84a" stroke-width="1.3" />
<rect x="118.33" y="224.45" width="1.8" height="1.8" fill="#27a84a"/>
<line x1="119.23" y1="223.55" x2="119.23" y2="227.15" stroke="#27a84a" stroke-width="0.6" />
<rect x="119.1" y="237.3" width="1.8" height="1.8" fill="#27a84a"/>
<line x1="120" y1="236.4" x2="120" y2="240" stroke="#27a84a" stroke-width="0.6" />
<rect x="119.86" y="239.26" width="1.8" height="1.8" fill="#27a84a"/>
<line x1="120.77" y1="238.36" x2="120.77" y2="241.96" stroke="#27a84a" stroke-width="0.6" />
<rect x="121.15" y="242.47" width="1.8" height="1.8" fill="#27a84a"/>
<line x1="122.05" y1="241.57" x2="122.05" y2="245.17" stroke="#27a84a" stroke-width="0.6" />
<rect x="122.43" y="244.03" width="1.8" height="1.8" fill="#27a84a"/>
<line x1="123.33" y1="243.13" x2="123.33" y2="246.73" stroke="#27a84a" stroke-width="0.6" />
<rect x="125" y="246.33" width="1.8" height="1.8" fill="#27a84a"/>
<line x1="125.9" y1="245.43" x2="125.9" y2="249.03" stroke="#27a84a" stroke-width="0.6" />
<rect x="127.56" y="247.7" width="1.8" height="1.8" fill="#27a84a"/>
<line x1="128.46" y1="246.8" x2="128.46" y2="250.4" stroke="#27a84a" stroke-width="0.6" />
<rect x="132.69" y="246.95" width="1.8" height="1.8" fill="#27a84a"/>
<line x1="133.59" y1="246.05" x2="133.59" y2="249.65" stroke="#27a84a" stroke-width="0.6" />
<rect x="137.82" y="246.92" width="1.8" height="1.8" fill="#27a84a"/>
<line x1="138.72" y1="246.02" x2="138.72" y2="249.62" stroke="#27a84a" stroke-width="0.6" />
<rect x="142.95" y="246.69" width="1.8" height="1.8" fill="#27a84a"/>
<line x1="143.85" y1="245.79" x2="143.85" y2="249.39" stroke="#27a84a" stroke-width="0.6" />
<rect x="148.08" y="248.91" width="1.8" height="1.8" fill="#27a84a"/>
<line x1="148.98" y1="248.01" x2="148.98" y2="251.61" stroke="#27a84a" stroke-width="0.6" />
<rect x="153.21" y="249.16" width="1.8" height="1.8" fill="#27a84a"/>
<line x1="154.11" y1="248.26" x2="154.11" y2="251.86" stroke="#27a84a" stroke-width="0.6" />
<rect x="158.34" y="248.17" width="1.8" height="1.8" fill="#27a84a"/>
<line x1="159.24" y1="247.27" x2="159.24" y2="250.87" stroke="#27a84a" stroke-width="0.6" />
<rect x="168.6" y="248.01" width="1.8" height="1.8" fill="#27a84a"/>
<line x1="169.5" y1="247.11" x2="169.5" y2="250.71" stroke="#27a84a" stroke-width="0.6" />
<rect x="178.86" y="246.15" width="1.8" height="1.8" fill="#27a84a"/>
<line x1="179.76" y1="245.25" x2="179.76" y2="248.85" stroke="#27a84a" stroke-width="0.6" />
<text x="119.7" y="268.46" font-size="6.3" fill="#222" stroke="#222" stroke-width="0.18" text-anchor="start" >I91</text>
<text x="183.1" y="227.97" font-size="6.9" fill="#222" stroke="#222" stroke-width="0.18" text-anchor="end" ><tspan dy="0" font-size="6.9">k</tspan><tspan dy="1.93" font-size="4.28">ex</tspan><tspan dy="-4.69" dx="-4.52" font-size="4.28">apo</tspan><tspan dy="2.76" font-size="6.9"> ~ 3000 s</tspan><tspan dy="-2.62" font-size="4.28">-1</tspan></text>
<text x="183.1" y="237.47" font-size="6.9" fill="#2b8a4a" stroke="#2b8a4a" stroke-width="0.18" text-anchor="end" ><tspan dy="0" font-size="6.9">k</tspan><tspan dy="1.93" font-size="4.28">ex</tspan><tspan dy="-4.69" dx="-4.52" font-size="4.28">AMPPNP</tspan><tspan dy="2.76" font-size="6.9"> ~ 1500 s</tspan><tspan dy="-2.62" font-size="4.28">-1</tspan></text>
<text x="184.1" y="260.77" font-size="6.9" fill="#f39a1e" stroke="#f39a1e" stroke-width="0.18" text-anchor="end" ><tspan dy="0" font-size="6.9">K</tspan><tspan dy="1.93" font-size="4.28">ex</tspan><tspan dy="-4.69" dx="-4.52" font-size="4.28">ADP</tspan><tspan dy="2.76" font-size="6.9"> ~ 2300 s</tspan><tspan dy="-2.62" font-size="4.28">-1</tspan></text>
<text transform="translate(105.4,250.85) rotate(-90)" font-size="7.9" text-anchor="middle" fill="#222" stroke="#222" stroke-width="0.18"><tspan>R</tspan><tspan dy="2.1" font-size="4.8">2eff</tspan><tspan dy="-2.1"> (s</tspan><tspan dy="-2.7" font-size="4.8">-1</tspan><tspan dy="2.7">)</tspan></text>
<text x="133.5" y="284.8" font-size="7.9" fill="#222" stroke="#222" stroke-width="0.18"><tspan>ν</tspan><tspan dy="2.4" font-size="5">CPMG</tspan><tspan dy="-2.4"> (kHz)</tspan></text>
<rect x="215" y="218.6" width="67" height="52.9" fill="none" stroke="#555" stroke-width="1.0"/>
<line x1="215" y1="271.5" x2="216.5" y2="271.5" stroke="#555" stroke-width="0.7" />
<text x="214.4" y="273.79" font-size="6.4" fill="#222" stroke="#222" stroke-width="0.18" text-anchor="end" >0</text>
<line x1="215" y1="249.06" x2="216.5" y2="249.06" stroke="#555" stroke-width="0.7" />
<text x="214.4" y="251.35" font-size="6.4" fill="#222" stroke="#222" stroke-width="0.18" text-anchor="end" >30</text>
<line x1="215" y1="226.62" x2="216.5" y2="226.62" stroke="#555" stroke-width="0.7" />
<text x="214.4" y="228.91" font-size="6.4" fill="#222" stroke="#222" stroke-width="0.18" text-anchor="end" >60</text>
<line x1="216.2" y1="271.5" x2="216.2" y2="270" stroke="#555" stroke-width="0.7" />
<text x="216.2" y="277.26" font-size="6.3" fill="#222" stroke="#222" stroke-width="0.18" text-anchor="middle" >0</text>
<line x1="236.6" y1="271.5" x2="236.6" y2="270" stroke="#555" stroke-width="0.7" />
<text x="236.6" y="277.26" font-size="6.3" fill="#222" stroke="#222" stroke-width="0.18" text-anchor="middle" >4</text>
<line x1="257" y1="271.5" x2="257" y2="270" stroke="#555" stroke-width="0.7" />
<text x="257" y="277.26" font-size="6.3" fill="#222" stroke="#222" stroke-width="0.18" text-anchor="middle" >8</text>
<line x1="277.4" y1="271.5" x2="277.4" y2="270" stroke="#555" stroke-width="0.7" />
<text x="277.4" y="277.26" font-size="6.3" fill="#222" stroke="#222" stroke-width="0.18" text-anchor="middle" >12</text>
<line x1="226.4" y1="271.5" x2="226.4" y2="270.5" stroke="#555" stroke-width="0.6" />
<line x1="246.8" y1="271.5" x2="246.8" y2="270.5" stroke="#555" stroke-width="0.6" />
<line x1="267.2" y1="271.5" x2="267.2" y2="270.5" stroke="#555" stroke-width="0.6" />
<polyline points="216.3,233.35 216.36,233.36 216.49,233.36 216.65,233.38 216.86,233.42 217.1,233.47 217.37,233.55 217.67,233.66 217.99,233.81 218.34,234.01 218.71,234.25 219.11,234.54 219.53,234.88 219.97,235.28 220.44,235.73 220.92,236.24 221.42,236.79 221.94,237.39 222.48,238.03 223.04,238.7 223.62,239.4 224.21,240.13 224.82,240.86 225.45,241.61 226.09,242.35 226.76,243.09 227.43,243.81 228.12,244.52 228.83,245.21 229.56,245.88 230.3,246.52 231.05,247.13 231.82,247.72 232.6,248.27 233.4,248.8 234.21,249.3 235.04,249.77 235.88,250.21 236.73,250.62 237.6,251.02 238.48,251.38 239.37,251.72 240.28,252.05 241.2,252.35 242.13,252.63 243.07,252.89 244.03,253.14 245,253.37 245.99,253.58 246.98,253.78 247.99,253.97 249.01,254.15 250.04,254.31 251.09,254.47 252.14,254.61 253.21,254.75 254.29,254.88 255.38,255 256.48,255.11 257.6,255.21 258.72,255.31 259.86,255.41 261.01,255.5 262.17,255.58 263.34,255.66 264.52,255.73 265.71,255.8 266.91,255.87 268.13,255.93 269.35,255.99 270.59,256.04 271.84,256.09 273.09,256.14 274.36,256.19 275.64,256.24 276.93,256.28 278.22,256.32 279.53,256.36 280.85,256.39 282.18,256.43 283.52,256.46" fill="none" stroke="#f5a21e" stroke-width="1.3" />
<rect x="215.55" y="232.66" width="1.8" height="1.8" fill="#f5a21e"/>
<rect x="215.81" y="232.36" width="1.8" height="1.8" fill="#f5a21e"/>
<rect x="216.32" y="232.14" width="1.8" height="1.8" fill="#f5a21e"/>
<rect x="217.08" y="232.84" width="1.8" height="1.8" fill="#f5a21e"/>
<rect x="217.85" y="233.48" width="1.8" height="1.8" fill="#f5a21e"/>
<rect x="219.12" y="234.22" width="1.8" height="1.8" fill="#f5a21e"/>
<rect x="220.4" y="236.16" width="1.8" height="1.8" fill="#f5a21e"/>
<rect x="222.95" y="239.02" width="1.8" height="1.8" fill="#f5a21e"/>
<rect x="225.5" y="242.05" width="1.8" height="1.8" fill="#f5a21e"/>
<rect x="230.6" y="246.29" width="1.8" height="1.8" fill="#f5a21e"/>
<rect x="235.7" y="249.79" width="1.8" height="1.8" fill="#f5a21e"/>
<rect x="240.8" y="251.67" width="1.8" height="1.8" fill="#f5a21e"/>
<rect x="245.9" y="252.41" width="1.8" height="1.8" fill="#f5a21e"/>
<rect x="251" y="253.32" width="1.8" height="1.8" fill="#f5a21e"/>
<rect x="256.1" y="253.71" width="1.8" height="1.8" fill="#f5a21e"/>
<rect x="266.3" y="255.52" width="1.8" height="1.8" fill="#f5a21e"/>
<rect x="276.5" y="255.56" width="1.8" height="1.8" fill="#f5a21e"/>
<polyline points="216.3,222.9 216.36,222.93 216.49,223.05 216.65,223.3 216.86,223.74 217.1,224.44 217.37,225.41 217.67,226.66 217.99,228.14 218.34,229.8 218.71,231.56 219.11,233.34 219.53,235.07 219.97,236.7 220.44,238.19 220.92,239.53 221.42,240.72 221.94,241.76 222.48,242.67 223.04,243.46 223.62,244.14 224.21,244.72 224.82,245.23 225.45,245.67 226.09,246.04 226.76,246.37 227.43,246.66 228.12,246.91 228.83,247.12 229.56,247.31 230.3,247.48 231.05,247.63 231.82,247.76 232.6,247.88 233.4,247.98 234.21,248.07 235.04,248.15 235.88,248.23 236.73,248.29 237.6,248.35 238.48,248.4 239.37,248.45 240.28,248.5 241.2,248.54 242.13,248.57 243.07,248.61 244.03,248.64 245,248.66 245.99,248.69 246.98,248.71 247.99,248.73 249.01,248.75 250.04,248.77 251.09,248.79 252.14,248.8 253.21,248.82 254.29,248.83 255.38,248.84 256.48,248.86 257.6,248.87 258.72,248.88 259.86,248.89 261.01,248.89 262.17,248.9 263.34,248.91 264.52,248.92 265.71,248.92 266.91,248.93 268.13,248.94 269.35,248.94 270.59,248.95 271.84,248.95 273.09,248.96 274.36,248.96 275.64,248.97 276.93,248.97 278.22,248.97 279.53,248.98 280.85,248.98 282.18,248.98 283.52,248.99" fill="none" stroke="#111" stroke-width="1" stroke-dasharray="1.2 1.4"/>
<rect x="215.55" y="222.07" width="1.8" height="1.8" fill="#111"/>
<rect x="215.81" y="222.81" width="1.8" height="1.8" fill="#111"/>
<rect x="216.32" y="224.05" width="1.8" height="1.8" fill="#111"/>
<rect x="217.08" y="227.95" width="1.8" height="1.8" fill="#111"/>
<rect x="217.85" y="230.47" width="1.8" height="1.8" fill="#111"/>
<rect x="219.12" y="236.01" width="1.8" height="1.8" fill="#111"/>
<rect x="220.4" y="239.34" width="1.8" height="1.8" fill="#111"/>
<rect x="222.95" y="243.01" width="1.8" height="1.8" fill="#111"/>
<rect x="225.5" y="245.13" width="1.8" height="1.8" fill="#111"/>
<rect x="230.6" y="246.15" width="1.8" height="1.8" fill="#111"/>
<rect x="235.7" y="247.21" width="1.8" height="1.8" fill="#111"/>
<rect x="240.8" y="247.78" width="1.8" height="1.8" fill="#111"/>
<rect x="245.9" y="248.26" width="1.8" height="1.8" fill="#111"/>
<rect x="251" y="248.35" width="1.8" height="1.8" fill="#111"/>
<rect x="256.1" y="247.91" width="1.8" height="1.8" fill="#111"/>
<rect x="266.3" y="247.44" width="1.8" height="1.8" fill="#111"/>
<rect x="276.5" y="248.49" width="1.8" height="1.8" fill="#111"/>
<polyline points="216.3,226.63 216.36,226.64 216.49,226.69 216.65,226.81 216.86,227.01 217.1,227.34 217.37,227.81 217.67,228.45 217.99,229.25 218.34,230.21 218.71,231.3 219.11,232.51 219.53,233.78 219.97,235.09 220.44,236.39 220.92,237.66 221.42,238.87 221.94,240 222.48,241.05 223.04,242 223.62,242.87 224.21,243.65 224.82,244.35 225.45,244.98 226.09,245.53 226.76,246.03 227.43,246.46 228.12,246.85 228.83,247.2 229.56,247.51 230.3,247.79 231.05,248.03 231.82,248.25 232.6,248.45 233.4,248.62 234.21,248.78 235.04,248.92 235.88,249.05 236.73,249.16 237.6,249.27 238.48,249.36 239.37,249.45 240.28,249.53 241.2,249.6 242.13,249.66 243.07,249.72 244.03,249.78 245,249.83 245.99,249.87 246.98,249.92 247.99,249.96 249.01,249.99 250.04,250.02 251.09,250.06 252.14,250.08 253.21,250.11 254.29,250.13 255.38,250.16 256.48,250.18 257.6,250.2 258.72,250.22 259.86,250.23 261.01,250.25 262.17,250.26 263.34,250.28 264.52,250.29 265.71,250.3 266.91,250.32 268.13,250.33 269.35,250.34 270.59,250.35 271.84,250.36 273.09,250.37 274.36,250.37 275.64,250.38 276.93,250.39 278.22,250.4 279.53,250.4 280.85,250.41 282.18,250.41 283.52,250.42" fill="none" stroke="#27a84a" stroke-width="1.3" />
<rect x="215.55" y="225.05" width="1.8" height="1.8" fill="#27a84a"/>
<line x1="216.45" y1="224.15" x2="216.45" y2="227.75" stroke="#27a84a" stroke-width="0.6" />
<rect x="215.81" y="226.96" width="1.8" height="1.8" fill="#27a84a"/>
<line x1="216.71" y1="226.06" x2="216.71" y2="229.66" stroke="#27a84a" stroke-width="0.6" />
<rect x="216.32" y="225.59" width="1.8" height="1.8" fill="#27a84a"/>
<line x1="217.22" y1="224.69" x2="217.22" y2="228.29" stroke="#27a84a" stroke-width="0.6" />
<rect x="217.08" y="227.49" width="1.8" height="1.8" fill="#27a84a"/>
<line x1="217.98" y1="226.59" x2="217.98" y2="230.19" stroke="#27a84a" stroke-width="0.6" />
<rect x="217.85" y="231.01" width="1.8" height="1.8" fill="#27a84a"/>
<line x1="218.75" y1="230.11" x2="218.75" y2="233.71" stroke="#27a84a" stroke-width="0.6" />
<rect x="219.12" y="234.27" width="1.8" height="1.8" fill="#27a84a"/>
<line x1="220.02" y1="233.37" x2="220.02" y2="236.97" stroke="#27a84a" stroke-width="0.6" />
<rect x="220.4" y="237.67" width="1.8" height="1.8" fill="#27a84a"/>
<line x1="221.3" y1="236.77" x2="221.3" y2="240.37" stroke="#27a84a" stroke-width="0.6" />
<rect x="222.95" y="241.54" width="1.8" height="1.8" fill="#27a84a"/>
<line x1="223.85" y1="240.64" x2="223.85" y2="244.24" stroke="#27a84a" stroke-width="0.6" />
<rect x="225.5" y="244.83" width="1.8" height="1.8" fill="#27a84a"/>
<line x1="226.4" y1="243.93" x2="226.4" y2="247.53" stroke="#27a84a" stroke-width="0.6" />
<rect x="230.6" y="246.45" width="1.8" height="1.8" fill="#27a84a"/>
<line x1="231.5" y1="245.55" x2="231.5" y2="249.15" stroke="#27a84a" stroke-width="0.6" />
<rect x="235.7" y="247.55" width="1.8" height="1.8" fill="#27a84a"/>
<line x1="236.6" y1="246.65" x2="236.6" y2="250.25" stroke="#27a84a" stroke-width="0.6" />
<rect x="240.8" y="248.61" width="1.8" height="1.8" fill="#27a84a"/>
<line x1="241.7" y1="247.71" x2="241.7" y2="251.31" stroke="#27a84a" stroke-width="0.6" />
<rect x="245.9" y="248" width="1.8" height="1.8" fill="#27a84a"/>
<line x1="246.8" y1="247.1" x2="246.8" y2="250.7" stroke="#27a84a" stroke-width="0.6" />
<rect x="251" y="249.22" width="1.8" height="1.8" fill="#27a84a"/>
<line x1="251.9" y1="248.32" x2="251.9" y2="251.92" stroke="#27a84a" stroke-width="0.6" />
<rect x="256.1" y="249.43" width="1.8" height="1.8" fill="#27a84a"/>
<line x1="257" y1="248.53" x2="257" y2="252.13" stroke="#27a84a" stroke-width="0.6" />
<rect x="266.3" y="249.41" width="1.8" height="1.8" fill="#27a84a"/>
<line x1="267.2" y1="248.51" x2="267.2" y2="252.11" stroke="#27a84a" stroke-width="0.6" />
<rect x="276.5" y="250.61" width="1.8" height="1.8" fill="#27a84a"/>
<line x1="277.4" y1="249.71" x2="277.4" y2="253.31" stroke="#27a84a" stroke-width="0.6" />
<text x="216.4" y="267.76" font-size="6.3" fill="#222" stroke="#222" stroke-width="0.18" text-anchor="start" >V125</text>
<text x="281.5" y="227.77" font-size="6.9" fill="#222" stroke="#222" stroke-width="0.18" text-anchor="end" ><tspan dy="0" font-size="6.9">k</tspan><tspan dy="1.93" font-size="4.28">ex</tspan><tspan dy="-4.69" dx="-4.52" font-size="4.28">apo</tspan><tspan dy="2.76" font-size="6.9"> ~ 6000 s</tspan><tspan dy="-2.62" font-size="4.28">-1</tspan></text>
<text x="281.5" y="238.87" font-size="6.9" fill="#2b8a4a" stroke="#2b8a4a" stroke-width="0.18" text-anchor="end" ><tspan dy="0" font-size="6.9">k</tspan><tspan dy="1.93" font-size="4.28">ex</tspan><tspan dy="-4.69" dx="-4.52" font-size="4.28">AMPPNP</tspan><tspan dy="2.76" font-size="6.9"> ~ 3000 s</tspan><tspan dy="-2.62" font-size="4.28">-1</tspan></text>
<text x="281.5" y="264.27" font-size="6.9" fill="#f39a1e" stroke="#f39a1e" stroke-width="0.18" text-anchor="end" ><tspan dy="0" font-size="6.9">K</tspan><tspan dy="1.93" font-size="4.28">ex</tspan><tspan dy="-4.69" dx="-4.52" font-size="4.28">ADP</tspan><tspan dy="2.76" font-size="6.9"> ~ 19500 s</tspan><tspan dy="-2.62" font-size="4.28">-1</tspan></text>
<text transform="translate(203.2,251.05) rotate(-90)" font-size="7.9" text-anchor="middle" fill="#222" stroke="#222" stroke-width="0.18"><tspan>R</tspan><tspan dy="2.1" font-size="4.8">2eff</tspan><tspan dy="-2.1"> (s</tspan><tspan dy="-2.7" font-size="4.8">-1</tspan><tspan dy="2.7">)</tspan></text>
<text x="231.6" y="285.4" font-size="7.9" fill="#222" stroke="#222" stroke-width="0.18"><tspan>ν</tspan><tspan dy="2.4" font-size="5">CPMG</tspan><tspan dy="-2.4"> (kHz)</tspan></text>
<rect x="313.5" y="218.9" width="67.1" height="51.2" fill="none" stroke="#555" stroke-width="1.0"/>
<line x1="313.5" y1="270.1" x2="315" y2="270.1" stroke="#555" stroke-width="0.7" />
<text x="312.9" y="272.39" font-size="6.4" fill="#222" stroke="#222" stroke-width="0.18" text-anchor="end" >0</text>
<line x1="313.5" y1="244.51" x2="315" y2="244.51" stroke="#555" stroke-width="0.7" />
<text x="312.9" y="246.8" font-size="6.4" fill="#222" stroke="#222" stroke-width="0.18" text-anchor="end" >30</text>
<line x1="313.5" y1="218.92" x2="315" y2="218.92" stroke="#555" stroke-width="0.7" />
<text x="312.9" y="221.21" font-size="6.4" fill="#222" stroke="#222" stroke-width="0.18" text-anchor="end" >60</text>
<line x1="314.2" y1="270.1" x2="314.2" y2="268.6" stroke="#555" stroke-width="0.7" />
<text x="314.2" y="277.66" font-size="6.3" fill="#222" stroke="#222" stroke-width="0.18" text-anchor="middle" >0</text>
<line x1="334.6" y1="270.1" x2="334.6" y2="268.6" stroke="#555" stroke-width="0.7" />
<text x="334.6" y="277.66" font-size="6.3" fill="#222" stroke="#222" stroke-width="0.18" text-anchor="middle" >4</text>
<line x1="355" y1="270.1" x2="355" y2="268.6" stroke="#555" stroke-width="0.7" />
<text x="355" y="277.66" font-size="6.3" fill="#222" stroke="#222" stroke-width="0.18" text-anchor="middle" >8</text>
<line x1="375.4" y1="270.1" x2="375.4" y2="268.6" stroke="#555" stroke-width="0.7" />
<text x="375.4" y="277.66" font-size="6.3" fill="#222" stroke="#222" stroke-width="0.18" text-anchor="middle" >12</text>
<line x1="324.4" y1="270.1" x2="324.4" y2="269.1" stroke="#555" stroke-width="0.6" />
<line x1="344.8" y1="270.1" x2="344.8" y2="269.1" stroke="#555" stroke-width="0.6" />
<line x1="365.2" y1="270.1" x2="365.2" y2="269.1" stroke="#555" stroke-width="0.6" />
<polyline points="314.3,234.29 314.36,234.31 314.49,234.39 314.65,234.55 314.86,234.81 315.1,235.15 315.37,235.53 315.67,235.91 315.99,236.25 316.34,236.53 316.71,236.76 317.11,236.95 317.53,237.09 317.97,237.2 318.44,237.29 318.92,237.36 319.42,237.42 319.94,237.46 320.48,237.49 321.04,237.52 321.62,237.55 322.21,237.57 322.82,237.58 323.45,237.6 324.09,237.61 324.76,237.62 325.43,237.62 326.12,237.63 326.83,237.64 327.56,237.64 328.3,237.65 329.05,237.65 329.82,237.65 330.6,237.66 331.4,237.66 332.21,237.66 333.04,237.66 333.88,237.67 334.73,237.67 335.6,237.67 336.48,237.67 337.37,237.67 338.28,237.67 339.2,237.67 340.13,237.67 341.07,237.67 342.03,237.68 343,237.68 343.99,237.68 344.98,237.68 345.99,237.68 347.01,237.68 348.04,237.68 349.09,237.68 350.14,237.68 351.21,237.68 352.29,237.68 353.38,237.68 354.48,237.68 355.6,237.68 356.72,237.68 357.86,237.68 359.01,237.68 360.17,237.68 361.34,237.68 362.52,237.68 363.71,237.68 364.91,237.68 366.13,237.68 367.35,237.68 368.59,237.68 369.84,237.68 371.09,237.68 372.36,237.68 373.64,237.68 374.93,237.68 376.22,237.68 377.53,237.68 378.85,237.68 380.18,237.68 381.52,237.68" fill="none" stroke="#f5a21e" stroke-width="1.3" />
<rect x="313.56" y="232.68" width="1.8" height="1.8" fill="#f5a21e"/>
<line x1="314.45" y1="232.38" x2="314.45" y2="234.78" stroke="#f5a21e" stroke-width="0.6" />
<rect x="313.81" y="232.92" width="1.8" height="1.8" fill="#f5a21e"/>
<line x1="314.71" y1="232.62" x2="314.71" y2="235.02" stroke="#f5a21e" stroke-width="0.6" />
<rect x="314.32" y="234.7" width="1.8" height="1.8" fill="#f5a21e"/>
<line x1="315.22" y1="234.4" x2="315.22" y2="236.8" stroke="#f5a21e" stroke-width="0.6" />
<rect x="315.09" y="235.09" width="1.8" height="1.8" fill="#f5a21e"/>
<line x1="315.99" y1="234.79" x2="315.99" y2="237.19" stroke="#f5a21e" stroke-width="0.6" />
<rect x="315.85" y="235.46" width="1.8" height="1.8" fill="#f5a21e"/>
<line x1="316.75" y1="235.16" x2="316.75" y2="237.56" stroke="#f5a21e" stroke-width="0.6" />
<rect x="317.12" y="235.93" width="1.8" height="1.8" fill="#f5a21e"/>
<line x1="318.02" y1="235.63" x2="318.02" y2="238.03" stroke="#f5a21e" stroke-width="0.6" />
<rect x="318.4" y="235.68" width="1.8" height="1.8" fill="#f5a21e"/>
<line x1="319.3" y1="235.38" x2="319.3" y2="237.78" stroke="#f5a21e" stroke-width="0.6" />
<rect x="320.95" y="236.84" width="1.8" height="1.8" fill="#f5a21e"/>
<line x1="321.85" y1="236.54" x2="321.85" y2="238.94" stroke="#f5a21e" stroke-width="0.6" />
<rect x="323.5" y="237.09" width="1.8" height="1.8" fill="#f5a21e"/>
<line x1="324.4" y1="236.79" x2="324.4" y2="239.19" stroke="#f5a21e" stroke-width="0.6" />
<rect x="328.6" y="236.77" width="1.8" height="1.8" fill="#f5a21e"/>
<line x1="329.5" y1="236.47" x2="329.5" y2="238.87" stroke="#f5a21e" stroke-width="0.6" />
<rect x="333.7" y="237.57" width="1.8" height="1.8" fill="#f5a21e"/>
<line x1="334.6" y1="237.27" x2="334.6" y2="239.67" stroke="#f5a21e" stroke-width="0.6" />
<rect x="338.8" y="237.38" width="1.8" height="1.8" fill="#f5a21e"/>
<line x1="339.7" y1="237.08" x2="339.7" y2="239.48" stroke="#f5a21e" stroke-width="0.6" />
<rect x="343.9" y="236.18" width="1.8" height="1.8" fill="#f5a21e"/>
<line x1="344.8" y1="235.88" x2="344.8" y2="238.28" stroke="#f5a21e" stroke-width="0.6" />
<rect x="349" y="236.61" width="1.8" height="1.8" fill="#f5a21e"/>
<line x1="349.9" y1="236.31" x2="349.9" y2="238.71" stroke="#f5a21e" stroke-width="0.6" />
<rect x="354.1" y="237.51" width="1.8" height="1.8" fill="#f5a21e"/>
<line x1="355" y1="237.21" x2="355" y2="239.61" stroke="#f5a21e" stroke-width="0.6" />
<rect x="364.3" y="237.29" width="1.8" height="1.8" fill="#f5a21e"/>
<line x1="365.2" y1="236.99" x2="365.2" y2="239.39" stroke="#f5a21e" stroke-width="0.6" />
<rect x="374.5" y="236.01" width="1.8" height="1.8" fill="#f5a21e"/>
<line x1="375.4" y1="235.71" x2="375.4" y2="238.11" stroke="#f5a21e" stroke-width="0.6" />
<polyline points="314.3,224.9 314.36,224.92 314.49,224.98 314.65,225.1 314.86,225.29 315.1,225.55 315.37,225.83 315.67,226.12 315.99,226.37 316.34,226.58 316.71,226.76 317.11,226.9 317.53,227 317.97,227.09 318.44,227.15 318.92,227.21 319.42,227.25 319.94,227.28 320.48,227.31 321.04,227.33 321.62,227.35 322.21,227.36 322.82,227.37 323.45,227.38 324.09,227.39 324.76,227.4 325.43,227.4 326.12,227.41 326.83,227.41 327.56,227.42 328.3,227.42 329.05,227.42 329.82,227.43 330.6,227.43 331.4,227.43 332.21,227.43 333.04,227.43 333.88,227.43 334.73,227.44 335.6,227.44 336.48,227.44 337.37,227.44 338.28,227.44 339.2,227.44 340.13,227.44 341.07,227.44 342.03,227.44 343,227.44 343.99,227.44 344.98,227.44 345.99,227.44 347.01,227.44 348.04,227.44 349.09,227.45 350.14,227.45 351.21,227.45 352.29,227.45 353.38,227.45 354.48,227.45 355.6,227.45 356.72,227.45 357.86,227.45 359.01,227.45 360.17,227.45 361.34,227.45 362.52,227.45 363.71,227.45 364.91,227.45 366.13,227.45 367.35,227.45 368.59,227.45 369.84,227.45 371.09,227.45 372.36,227.45 373.64,227.45 374.93,227.45 376.22,227.45 377.53,227.45 378.85,227.45 380.18,227.45 381.52,227.45" fill="none" stroke="#111" stroke-width="1" stroke-dasharray="1.2 1.4"/>
<rect x="313.56" y="224.52" width="1.8" height="1.8" fill="#111"/>
<rect x="313.81" y="223.91" width="1.8" height="1.8" fill="#111"/>
<rect x="314.32" y="225.07" width="1.8" height="1.8" fill="#111"/>
<rect x="315.09" y="225.63" width="1.8" height="1.8" fill="#111"/>
<rect x="315.85" y="225.55" width="1.8" height="1.8" fill="#111"/>
<rect x="317.12" y="225.67" width="1.8" height="1.8" fill="#111"/>
<rect x="318.4" y="226.32" width="1.8" height="1.8" fill="#111"/>
<rect x="320.95" y="225.9" width="1.8" height="1.8" fill="#111"/>
<rect x="323.5" y="226.63" width="1.8" height="1.8" fill="#111"/>
<rect x="328.6" y="226.89" width="1.8" height="1.8" fill="#111"/>
<rect x="333.7" y="226.21" width="1.8" height="1.8" fill="#111"/>
<rect x="338.8" y="225.92" width="1.8" height="1.8" fill="#111"/>
<rect x="343.9" y="226.05" width="1.8" height="1.8" fill="#111"/>
<rect x="349" y="226.59" width="1.8" height="1.8" fill="#111"/>
<rect x="354.1" y="226.89" width="1.8" height="1.8" fill="#111"/>
<rect x="364.3" y="226.25" width="1.8" height="1.8" fill="#111"/>
<rect x="374.5" y="227.14" width="1.8" height="1.8" fill="#111"/>
<polyline points="314.3,227.88 314.36,227.9 314.49,227.94 314.65,228.04 314.86,228.22 315.1,228.51 315.37,228.91 315.67,229.45 315.99,230.13 316.34,230.92 316.71,231.82 317.11,232.77 317.53,233.76 317.97,234.76 318.44,235.72 318.92,236.64 319.42,237.5 319.94,238.28 320.48,239 321.04,239.64 321.62,240.21 322.21,240.72 322.82,241.17 323.45,241.57 324.09,241.92 324.76,242.22 325.43,242.5 326.12,242.74 326.83,242.95 327.56,243.13 328.3,243.3 329.05,243.45 329.82,243.58 330.6,243.7 331.4,243.8 332.21,243.9 333.04,243.98 333.88,244.06 334.73,244.12 335.6,244.19 336.48,244.24 337.37,244.29 338.28,244.34 339.2,244.38 340.13,244.42 341.07,244.45 342.03,244.48 343,244.51 343.99,244.54 344.98,244.57 345.99,244.59 347.01,244.61 348.04,244.63 349.09,244.65 350.14,244.66 351.21,244.68 352.29,244.69 353.38,244.71 354.48,244.72 355.6,244.73 356.72,244.74 357.86,244.75 359.01,244.76 360.17,244.77 361.34,244.78 362.52,244.78 363.71,244.79 364.91,244.8 366.13,244.8 367.35,244.81 368.59,244.82 369.84,244.82 371.09,244.83 372.36,244.83 373.64,244.84 374.93,244.84 376.22,244.84 377.53,244.85 378.85,244.85 380.18,244.85 381.52,244.86" fill="none" stroke="#27a84a" stroke-width="1.3" />
<rect x="313.56" y="226.62" width="1.8" height="1.8" fill="#27a84a"/>
<rect x="313.81" y="227.02" width="1.8" height="1.8" fill="#27a84a"/>
<rect x="314.32" y="227.59" width="1.8" height="1.8" fill="#27a84a"/>
<rect x="315.09" y="229.37" width="1.8" height="1.8" fill="#27a84a"/>
<rect x="315.85" y="230.64" width="1.8" height="1.8" fill="#27a84a"/>
<rect x="317.12" y="233.75" width="1.8" height="1.8" fill="#27a84a"/>
<rect x="318.4" y="236.82" width="1.8" height="1.8" fill="#27a84a"/>
<rect x="320.95" y="239.45" width="1.8" height="1.8" fill="#27a84a"/>
<rect x="323.5" y="241.69" width="1.8" height="1.8" fill="#27a84a"/>
<rect x="328.6" y="242.73" width="1.8" height="1.8" fill="#27a84a"/>
<rect x="333.7" y="242.6" width="1.8" height="1.8" fill="#27a84a"/>
<rect x="338.8" y="242.94" width="1.8" height="1.8" fill="#27a84a"/>
<rect x="343.9" y="243.78" width="1.8" height="1.8" fill="#27a84a"/>
<rect x="349" y="244" width="1.8" height="1.8" fill="#27a84a"/>
<rect x="354.1" y="243.8" width="1.8" height="1.8" fill="#27a84a"/>
<rect x="364.3" y="243.41" width="1.8" height="1.8" fill="#27a84a"/>
<rect x="374.5" y="243.46" width="1.8" height="1.8" fill="#27a84a"/>
<text x="314.9" y="269.46" font-size="6.3" fill="#222" stroke="#222" stroke-width="0.18" text-anchor="start" >A254</text>
<text x="317.4" y="253.87" font-size="6.9" fill="#222" stroke="#222" stroke-width="0.18" text-anchor="start" ><tspan dy="0" font-size="6.9">k</tspan><tspan dy="1.93" font-size="4.28">ex</tspan><tspan dy="-4.69" dx="-4.52" font-size="4.28">apo</tspan><tspan dy="2.76" font-size="6.9"> N/A</tspan></text>
<text x="378.4" y="253.87" font-size="6.9" fill="#f39a1e" stroke="#f39a1e" stroke-width="0.18" text-anchor="end" ><tspan dy="0" font-size="6.9">k</tspan><tspan dy="1.93" font-size="4.28">ex</tspan><tspan dy="-4.69" dx="-4.52" font-size="4.28">ADP</tspan><tspan dy="2.76" font-size="6.9"> N/A</tspan></text>
<text x="374.3" y="262.77" font-size="6.9" fill="#2b8a4a" stroke="#2b8a4a" stroke-width="0.18" text-anchor="end" ><tspan dy="0" font-size="6.9">k</tspan><tspan dy="1.93" font-size="4.28">ex</tspan><tspan dy="-4.69" dx="-4.52" font-size="4.28">AMPPNP</tspan><tspan dy="2.76" font-size="6.9"> ~ 3000 s</tspan><tspan dy="-2.62" font-size="4.28">-1</tspan></text>
<text transform="translate(301.7,250.5) rotate(-90)" font-size="7.9" text-anchor="middle" fill="#222" stroke="#222" stroke-width="0.18"><tspan>R</tspan><tspan dy="2.1" font-size="4.8">2eff</tspan><tspan dy="-2.1"> (s</tspan><tspan dy="-2.7" font-size="4.8">-1</tspan><tspan dy="2.7">)</tspan></text>
<text x="328.8" y="285" font-size="7.9" fill="#222" stroke="#222" stroke-width="0.18"><tspan>ν</tspan><tspan dy="2.4" font-size="5">CPMG</tspan><tspan dy="-2.4"> (kHz)</tspan></text>
<rect x="117.2" y="295.5" width="69.3" height="53.2" fill="none" stroke="#555" stroke-width="1.0"/>
<line x1="117.2" y1="348.7" x2="118.7" y2="348.7" stroke="#555" stroke-width="0.7" />
<text x="116.6" y="350.99" font-size="6.4" fill="#222" stroke="#222" stroke-width="0.18" text-anchor="end" >0</text>
<line x1="117.2" y1="322.09" x2="118.7" y2="322.09" stroke="#555" stroke-width="0.7" />
<text x="116.6" y="324.38" font-size="6.4" fill="#222" stroke="#222" stroke-width="0.18" text-anchor="end" >30</text>
<line x1="117.2" y1="295.48" x2="118.7" y2="295.48" stroke="#555" stroke-width="0.7" />
<text x="116.6" y="297.77" font-size="6.4" fill="#222" stroke="#222" stroke-width="0.18" text-anchor="end" >60</text>
<line x1="117.7" y1="348.7" x2="117.7" y2="347.2" stroke="#555" stroke-width="0.7" />
<text x="117.7" y="356.16" font-size="6.3" fill="#222" stroke="#222" stroke-width="0.18" text-anchor="middle" >0</text>
<line x1="138.42" y1="348.7" x2="138.42" y2="347.2" stroke="#555" stroke-width="0.7" />
<text x="138.42" y="356.16" font-size="6.3" fill="#222" stroke="#222" stroke-width="0.18" text-anchor="middle" >4</text>
<line x1="159.14" y1="348.7" x2="159.14" y2="347.2" stroke="#555" stroke-width="0.7" />
<text x="159.14" y="356.16" font-size="6.3" fill="#222" stroke="#222" stroke-width="0.18" text-anchor="middle" >8</text>
<line x1="179.86" y1="348.7" x2="179.86" y2="347.2" stroke="#555" stroke-width="0.7" />
<text x="179.86" y="356.16" font-size="6.3" fill="#222" stroke="#222" stroke-width="0.18" text-anchor="middle" >12</text>
<line x1="128.06" y1="348.7" x2="128.06" y2="347.7" stroke="#555" stroke-width="0.6" />
<line x1="148.78" y1="348.7" x2="148.78" y2="347.7" stroke="#555" stroke-width="0.6" />
<line x1="169.5" y1="348.7" x2="169.5" y2="347.7" stroke="#555" stroke-width="0.6" />
<polyline points="117.8,323.86 117.87,323.87 117.99,323.87 118.16,323.87 118.37,323.88 118.61,323.9 118.89,323.92 119.19,323.96 119.52,324 119.87,324.06 120.25,324.12 120.66,324.2 121.08,324.29 121.53,324.38 122,324.49 122.49,324.6 123,324.71 123.53,324.82 124.08,324.94 124.65,325.05 125.23,325.15 125.84,325.26 126.46,325.35 127.09,325.44 127.75,325.53 128.42,325.61 129.11,325.68 129.81,325.75 130.53,325.81 131.27,325.87 132.02,325.92 132.78,325.97 133.56,326.01 134.36,326.05 135.17,326.09 135.99,326.12 136.83,326.15 137.68,326.18 138.55,326.2 139.43,326.22 140.33,326.24 141.23,326.26 142.15,326.28 143.09,326.3 144.04,326.31 145,326.33 145.97,326.34 146.95,326.35 147.95,326.36 148.96,326.37 149.99,326.38 151.02,326.39 152.07,326.4 153.13,326.4 154.21,326.41 155.29,326.42 156.39,326.42 157.5,326.43 158.62,326.43 159.75,326.44 160.89,326.44 162.05,326.45 163.21,326.45 164.39,326.45 165.58,326.46 166.78,326.46 167.99,326.46 169.21,326.47 170.44,326.47 171.69,326.47 172.94,326.47 174.21,326.48 175.48,326.48 176.77,326.48 178.07,326.48 179.38,326.48 180.7,326.49 182.03,326.49 183.37,326.49 184.72,326.49 186.08,326.49" fill="none" stroke="#f5a21e" stroke-width="1.3" />
<rect x="117.06" y="323.16" width="1.8" height="1.8" fill="#f5a21e"/>
<rect x="117.32" y="322.45" width="1.8" height="1.8" fill="#f5a21e"/>
<rect x="117.84" y="323.34" width="1.8" height="1.8" fill="#f5a21e"/>
<rect x="118.61" y="323.42" width="1.8" height="1.8" fill="#f5a21e"/>
<rect x="119.39" y="323.04" width="1.8" height="1.8" fill="#f5a21e"/>
<rect x="120.69" y="324.03" width="1.8" height="1.8" fill="#f5a21e"/>
<rect x="121.98" y="324.24" width="1.8" height="1.8" fill="#f5a21e"/>
<rect x="124.57" y="323.89" width="1.8" height="1.8" fill="#f5a21e"/>
<rect x="127.16" y="324.33" width="1.8" height="1.8" fill="#f5a21e"/>
<rect x="132.34" y="324.58" width="1.8" height="1.8" fill="#f5a21e"/>
<rect x="137.52" y="325.79" width="1.8" height="1.8" fill="#f5a21e"/>
<rect x="142.7" y="325.62" width="1.8" height="1.8" fill="#f5a21e"/>
<rect x="147.88" y="325.22" width="1.8" height="1.8" fill="#f5a21e"/>
<rect x="153.06" y="325.02" width="1.8" height="1.8" fill="#f5a21e"/>
<rect x="158.24" y="325.55" width="1.8" height="1.8" fill="#f5a21e"/>
<rect x="168.6" y="325.54" width="1.8" height="1.8" fill="#f5a21e"/>
<rect x="178.96" y="325.32" width="1.8" height="1.8" fill="#f5a21e"/>
<polyline points="117.8,320.32 117.87,320.32 117.99,320.33 118.16,320.36 118.37,320.41 118.61,320.48 118.89,320.58 119.19,320.72 119.52,320.89 119.87,321.08 120.25,321.29 120.66,321.51 121.08,321.74 121.53,321.95 122,322.16 122.49,322.35 123,322.52 123.53,322.67 124.08,322.81 124.65,322.93 125.23,323.04 125.84,323.13 126.46,323.21 127.09,323.29 127.75,323.35 128.42,323.4 129.11,323.45 129.81,323.49 130.53,323.53 131.27,323.56 132.02,323.59 132.78,323.61 133.56,323.64 134.36,323.66 135.17,323.67 135.99,323.69 136.83,323.7 137.68,323.72 138.55,323.73 139.43,323.74 140.33,323.75 141.23,323.76 142.15,323.76 143.09,323.77 144.04,323.78 145,323.78 145.97,323.79 146.95,323.79 147.95,323.8 148.96,323.8 149.99,323.81 151.02,323.81 152.07,323.81 153.13,323.82 154.21,323.82 155.29,323.82 156.39,323.82 157.5,323.83 158.62,323.83 159.75,323.83 160.89,323.83 162.05,323.83 163.21,323.83 164.39,323.84 165.58,323.84 166.78,323.84 167.99,323.84 169.21,323.84 170.44,323.84 171.69,323.84 172.94,323.84 174.21,323.85 175.48,323.85 176.77,323.85 178.07,323.85 179.38,323.85 180.7,323.85 182.03,323.85 183.37,323.85 184.72,323.85 186.08,323.85" fill="none" stroke="#111" stroke-width="1" stroke-dasharray="1.2 1.4"/>
<rect x="117.06" y="319.72" width="1.8" height="1.8" fill="#111"/>
<rect x="117.32" y="320.16" width="1.8" height="1.8" fill="#111"/>
<rect x="117.84" y="320" width="1.8" height="1.8" fill="#111"/>
<rect x="118.61" y="320.68" width="1.8" height="1.8" fill="#111"/>
<rect x="119.39" y="320.5" width="1.8" height="1.8" fill="#111"/>
<rect x="120.69" y="321.76" width="1.8" height="1.8" fill="#111"/>
<rect x="121.98" y="322.18" width="1.8" height="1.8" fill="#111"/>
<rect x="124.57" y="322.85" width="1.8" height="1.8" fill="#111"/>
<rect x="127.16" y="322.27" width="1.8" height="1.8" fill="#111"/>
<rect x="132.34" y="322.62" width="1.8" height="1.8" fill="#111"/>
<rect x="137.52" y="323.01" width="1.8" height="1.8" fill="#111"/>
<rect x="142.7" y="323.34" width="1.8" height="1.8" fill="#111"/>
<rect x="147.88" y="323.43" width="1.8" height="1.8" fill="#111"/>
<rect x="153.06" y="323.55" width="1.8" height="1.8" fill="#111"/>
<rect x="158.24" y="323.14" width="1.8" height="1.8" fill="#111"/>
<rect x="168.6" y="323.07" width="1.8" height="1.8" fill="#111"/>
<rect x="178.96" y="323.52" width="1.8" height="1.8" fill="#111"/>
<polyline points="117.8,305.32 117.87,305.44 117.99,305.83 118.16,306.67 118.37,308.01 118.61,309.78 118.89,311.77 119.19,313.73 119.52,315.49 119.87,316.98 120.25,318.18 120.66,319.14 121.08,319.89 121.53,320.47 122,320.93 122.49,321.29 123,321.57 123.53,321.8 124.08,321.98 124.65,322.13 125.23,322.25 125.84,322.35 126.46,322.44 127.09,322.5 127.75,322.56 128.42,322.61 129.11,322.65 129.81,322.69 130.53,322.72 131.27,322.75 132.02,322.77 132.78,322.79 133.56,322.81 134.36,322.82 135.17,322.84 135.99,322.85 136.83,322.86 137.68,322.87 138.55,322.88 139.43,322.89 140.33,322.89 141.23,322.9 142.15,322.91 143.09,322.91 144.04,322.92 145,322.92 145.97,322.92 146.95,322.93 147.95,322.93 148.96,322.93 149.99,322.94 151.02,322.94 152.07,322.94 153.13,322.94 154.21,322.94 155.29,322.95 156.39,322.95 157.5,322.95 158.62,322.95 159.75,322.95 160.89,322.95 162.05,322.96 163.21,322.96 164.39,322.96 165.58,322.96 166.78,322.96 167.99,322.96 169.21,322.96 170.44,322.96 171.69,322.96 172.94,322.96 174.21,322.96 175.48,322.96 176.77,322.96 178.07,322.97 179.38,322.97 180.7,322.97 182.03,322.97 183.37,322.97 184.72,322.97 186.08,322.97" fill="none" stroke="#27a84a" stroke-width="1.3" />
<rect x="117.06" y="304.57" width="1.8" height="1.8" fill="#27a84a"/>
<line x1="117.96" y1="304.27" x2="117.96" y2="306.67" stroke="#27a84a" stroke-width="0.6" />
<rect x="117.32" y="305.48" width="1.8" height="1.8" fill="#27a84a"/>
<line x1="118.22" y1="305.18" x2="118.22" y2="307.58" stroke="#27a84a" stroke-width="0.6" />
<rect x="117.84" y="310.04" width="1.8" height="1.8" fill="#27a84a"/>
<line x1="118.74" y1="309.74" x2="118.74" y2="312.14" stroke="#27a84a" stroke-width="0.6" />
<rect x="118.61" y="314.67" width="1.8" height="1.8" fill="#27a84a"/>
<line x1="119.51" y1="314.37" x2="119.51" y2="316.77" stroke="#27a84a" stroke-width="0.6" />
<rect x="119.39" y="316.97" width="1.8" height="1.8" fill="#27a84a"/>
<line x1="120.29" y1="316.67" x2="120.29" y2="319.07" stroke="#27a84a" stroke-width="0.6" />
<rect x="120.69" y="319.77" width="1.8" height="1.8" fill="#27a84a"/>
<line x1="121.59" y1="319.47" x2="121.59" y2="321.87" stroke="#27a84a" stroke-width="0.6" />
<rect x="121.98" y="319.96" width="1.8" height="1.8" fill="#27a84a"/>
<line x1="122.88" y1="319.66" x2="122.88" y2="322.06" stroke="#27a84a" stroke-width="0.6" />
<rect x="124.57" y="321.76" width="1.8" height="1.8" fill="#27a84a"/>
<line x1="125.47" y1="321.46" x2="125.47" y2="323.86" stroke="#27a84a" stroke-width="0.6" />
<rect x="127.16" y="321" width="1.8" height="1.8" fill="#27a84a"/>
<line x1="128.06" y1="320.7" x2="128.06" y2="323.1" stroke="#27a84a" stroke-width="0.6" />
<rect x="132.34" y="321.58" width="1.8" height="1.8" fill="#27a84a"/>
<line x1="133.24" y1="321.28" x2="133.24" y2="323.68" stroke="#27a84a" stroke-width="0.6" />
<rect x="137.52" y="322.53" width="1.8" height="1.8" fill="#27a84a"/>
<line x1="138.42" y1="322.23" x2="138.42" y2="324.63" stroke="#27a84a" stroke-width="0.6" />
<rect x="142.7" y="322.7" width="1.8" height="1.8" fill="#27a84a"/>
<line x1="143.6" y1="322.4" x2="143.6" y2="324.8" stroke="#27a84a" stroke-width="0.6" />
<rect x="147.88" y="322.23" width="1.8" height="1.8" fill="#27a84a"/>
<line x1="148.78" y1="321.93" x2="148.78" y2="324.33" stroke="#27a84a" stroke-width="0.6" />
<rect x="153.06" y="322.42" width="1.8" height="1.8" fill="#27a84a"/>
<line x1="153.96" y1="322.12" x2="153.96" y2="324.52" stroke="#27a84a" stroke-width="0.6" />
<rect x="158.24" y="321.7" width="1.8" height="1.8" fill="#27a84a"/>
<line x1="159.14" y1="321.4" x2="159.14" y2="323.8" stroke="#27a84a" stroke-width="0.6" />
<rect x="168.6" y="322.13" width="1.8" height="1.8" fill="#27a84a"/>
<line x1="169.5" y1="321.83" x2="169.5" y2="324.23" stroke="#27a84a" stroke-width="0.6" />
<rect x="178.96" y="321.65" width="1.8" height="1.8" fill="#27a84a"/>
<line x1="179.86" y1="321.35" x2="179.86" y2="323.75" stroke="#27a84a" stroke-width="0.6" />
<text x="118.9" y="345.76" font-size="6.3" fill="#222" stroke="#222" stroke-width="0.18" text-anchor="start" >M85</text>
<text x="183.8" y="303.87" font-size="6.9" fill="#222" stroke="#222" stroke-width="0.18" text-anchor="end" ><tspan dy="0" font-size="6.9">K</tspan><tspan dy="1.93" font-size="4.28">ex</tspan><tspan dy="-4.69" dx="-4.52" font-size="4.28">apo</tspan><tspan dy="2.76" font-size="6.9"> N/A</tspan></text>
<text x="183.8" y="315.37" font-size="6.9" fill="#2b8a4a" stroke="#2b8a4a" stroke-width="0.18" text-anchor="end" ><tspan dy="0" font-size="6.9">k</tspan><tspan dy="1.93" font-size="4.28">ex</tspan><tspan dy="-4.69" dx="-4.52" font-size="4.28">AMPPNP</tspan><tspan dy="2.76" font-size="6.9"> ~ 300 s</tspan><tspan dy="-2.62" font-size="4.28">-1</tspan></text>
<text x="183.1" y="339.37" font-size="6.9" fill="#f39a1e" stroke="#f39a1e" stroke-width="0.18" text-anchor="end" ><tspan dy="0" font-size="6.9">k</tspan><tspan dy="1.93" font-size="4.28">ex</tspan><tspan dy="-4.69" dx="-4.52" font-size="4.28">ADP</tspan><tspan dy="2.76" font-size="6.9"> N/A</tspan></text>
<text transform="translate(105.4,328.1) rotate(-90)" font-size="7.9" text-anchor="middle" fill="#222" stroke="#222" stroke-width="0.18"><tspan>R</tspan><tspan dy="2.1" font-size="4.8">2eff</tspan><tspan dy="-2.1"> (s</tspan><tspan dy="-2.7" font-size="4.8">-1</tspan><tspan dy="2.7">)</tspan></text>
<text x="135" y="363" font-size="7.9" fill="#222" stroke="#222" stroke-width="0.18"><tspan>ν</tspan><tspan dy="2.4" font-size="5">CPMG</tspan><tspan dy="-2.4"> (kHz)</tspan></text>
<rect x="215.2" y="296.7" width="67.2" height="51.3" fill="none" stroke="#555" stroke-width="1.0"/>
<line x1="215.2" y1="348" x2="216.7" y2="348" stroke="#555" stroke-width="0.7" />
<text x="214.6" y="350.29" font-size="6.4" fill="#222" stroke="#222" stroke-width="0.18" text-anchor="end" >0</text>
<line x1="215.2" y1="322.35" x2="216.7" y2="322.35" stroke="#555" stroke-width="0.7" />
<text x="214.6" y="324.64" font-size="6.4" fill="#222" stroke="#222" stroke-width="0.18" text-anchor="end" >30</text>
<line x1="215.2" y1="296.7" x2="216.7" y2="296.7" stroke="#555" stroke-width="0.7" />
<text x="214.6" y="298.99" font-size="6.4" fill="#222" stroke="#222" stroke-width="0.18" text-anchor="end" >60</text>
<line x1="216" y1="348" x2="216" y2="346.5" stroke="#555" stroke-width="0.7" />
<text x="216" y="355.16" font-size="6.3" fill="#222" stroke="#222" stroke-width="0.18" text-anchor="middle" >0</text>
<line x1="236" y1="348" x2="236" y2="346.5" stroke="#555" stroke-width="0.7" />
<text x="236" y="355.16" font-size="6.3" fill="#222" stroke="#222" stroke-width="0.18" text-anchor="middle" >4</text>
<line x1="256" y1="348" x2="256" y2="346.5" stroke="#555" stroke-width="0.7" />
<text x="256" y="355.16" font-size="6.3" fill="#222" stroke="#222" stroke-width="0.18" text-anchor="middle" >8</text>
<line x1="276" y1="348" x2="276" y2="346.5" stroke="#555" stroke-width="0.7" />
<text x="276" y="355.16" font-size="6.3" fill="#222" stroke="#222" stroke-width="0.18" text-anchor="middle" >12</text>
<line x1="226" y1="348" x2="226" y2="347" stroke="#555" stroke-width="0.6" />
<line x1="246" y1="348" x2="246" y2="347" stroke="#555" stroke-width="0.6" />
<line x1="266" y1="348" x2="266" y2="347" stroke="#555" stroke-width="0.6" />
<polyline points="216.1,320.22 216.16,320.22 216.28,320.25 216.44,320.31 216.65,320.41 216.88,320.57 217.14,320.79 217.44,321.08 217.76,321.42 218.1,321.8 218.47,322.2 218.86,322.6 219.27,323 219.7,323.37 220.15,323.71 220.63,324.02 221.12,324.29 221.63,324.53 222.16,324.74 222.71,324.92 223.27,325.07 223.85,325.21 224.45,325.32 225.07,325.42 225.7,325.51 226.35,325.58 227.01,325.65 227.69,325.71 228.39,325.75 229.1,325.8 229.82,325.84 230.56,325.87 231.31,325.9 232.08,325.93 232.86,325.95 233.66,325.97 234.47,325.99 235.29,326.01 236.13,326.02 236.98,326.04 237.84,326.05 238.71,326.06 239.6,326.07 240.51,326.08 241.42,326.09 242.35,326.09 243.29,326.1 244.24,326.11 245.2,326.11 246.18,326.12 247.17,326.12 248.17,326.13 249.18,326.13 250.2,326.14 251.24,326.14 252.28,326.14 253.34,326.15 254.41,326.15 255.49,326.15 256.59,326.15 257.69,326.16 258.8,326.16 259.93,326.16 261.07,326.16 262.21,326.16 263.37,326.17 264.54,326.17 265.72,326.17 266.91,326.17 268.11,326.17 269.32,326.17 270.54,326.17 271.78,326.17 273.02,326.18 274.27,326.18 275.53,326.18 276.81,326.18 278.09,326.18 279.38,326.18 280.69,326.18 282,326.18" fill="none" stroke="#f5a21e" stroke-width="1.3" />
<rect x="215.35" y="319.85" width="1.8" height="1.8" fill="#f5a21e"/>
<rect x="215.6" y="319.33" width="1.8" height="1.8" fill="#f5a21e"/>
<rect x="216.1" y="319.34" width="1.8" height="1.8" fill="#f5a21e"/>
<rect x="216.85" y="320.33" width="1.8" height="1.8" fill="#f5a21e"/>
<rect x="217.6" y="321.66" width="1.8" height="1.8" fill="#f5a21e"/>
<rect x="218.85" y="322.84" width="1.8" height="1.8" fill="#f5a21e"/>
<rect x="220.1" y="322.93" width="1.8" height="1.8" fill="#f5a21e"/>
<rect x="222.6" y="323.88" width="1.8" height="1.8" fill="#f5a21e"/>
<rect x="225.1" y="324.65" width="1.8" height="1.8" fill="#f5a21e"/>
<rect x="230.1" y="324.66" width="1.8" height="1.8" fill="#f5a21e"/>
<rect x="235.1" y="324.65" width="1.8" height="1.8" fill="#f5a21e"/>
<rect x="240.1" y="325.29" width="1.8" height="1.8" fill="#f5a21e"/>
<rect x="245.1" y="325.41" width="1.8" height="1.8" fill="#f5a21e"/>
<rect x="250.1" y="325.34" width="1.8" height="1.8" fill="#f5a21e"/>
<rect x="255.1" y="325.61" width="1.8" height="1.8" fill="#f5a21e"/>
<rect x="265.1" y="325.23" width="1.8" height="1.8" fill="#f5a21e"/>
<rect x="275.1" y="325.01" width="1.8" height="1.8" fill="#f5a21e"/>
<polyline points="216.1,312.53 216.16,312.56 216.28,312.64 216.44,312.83 216.65,313.16 216.88,313.65 217.14,314.3 217.44,315.07 217.76,315.91 218.1,316.76 218.47,317.58 218.86,318.33 219.27,318.99 219.7,319.56 220.15,320.05 220.63,320.46 221.12,320.8 221.63,321.09 222.16,321.33 222.71,321.53 223.27,321.69 223.85,321.83 224.45,321.95 225.07,322.05 225.7,322.14 226.35,322.21 227.01,322.27 227.69,322.33 228.39,322.38 229.1,322.42 229.82,322.45 230.56,322.48 231.31,322.51 232.08,322.54 232.86,322.56 233.66,322.58 234.47,322.59 235.29,322.61 236.13,322.62 236.98,322.63 237.84,322.64 238.71,322.65 239.6,322.66 240.51,322.67 241.42,322.68 242.35,322.69 243.29,322.69 244.24,322.7 245.2,322.7 246.18,322.71 247.17,322.71 248.17,322.72 249.18,322.72 250.2,322.72 251.24,322.73 252.28,322.73 253.34,322.73 254.41,322.73 255.49,322.74 256.59,322.74 257.69,322.74 258.8,322.74 259.93,322.74 261.07,322.75 262.21,322.75 263.37,322.75 264.54,322.75 265.72,322.75 266.91,322.75 268.11,322.75 269.32,322.75 270.54,322.76 271.78,322.76 273.02,322.76 274.27,322.76 275.53,322.76 276.81,322.76 278.09,322.76 279.38,322.76 280.69,322.76 282,322.76" fill="none" stroke="#111" stroke-width="1" stroke-dasharray="1.2 1.4"/>
<rect x="215.35" y="312.43" width="1.8" height="1.8" fill="#111"/>
<rect x="215.6" y="312.68" width="1.8" height="1.8" fill="#111"/>
<rect x="216.1" y="312.3" width="1.8" height="1.8" fill="#111"/>
<rect x="216.85" y="315.03" width="1.8" height="1.8" fill="#111"/>
<rect x="217.6" y="317.11" width="1.8" height="1.8" fill="#111"/>
<rect x="218.85" y="318.6" width="1.8" height="1.8" fill="#111"/>
<rect x="220.1" y="320.01" width="1.8" height="1.8" fill="#111"/>
<rect x="222.6" y="320.83" width="1.8" height="1.8" fill="#111"/>
<rect x="225.1" y="320.54" width="1.8" height="1.8" fill="#111"/>
<rect x="230.1" y="321.11" width="1.8" height="1.8" fill="#111"/>
<rect x="235.1" y="322.49" width="1.8" height="1.8" fill="#111"/>
<rect x="240.1" y="322.2" width="1.8" height="1.8" fill="#111"/>
<rect x="245.1" y="322.57" width="1.8" height="1.8" fill="#111"/>
<rect x="250.1" y="322.53" width="1.8" height="1.8" fill="#111"/>
<rect x="255.1" y="322.73" width="1.8" height="1.8" fill="#111"/>
<rect x="265.1" y="322.04" width="1.8" height="1.8" fill="#111"/>
<rect x="275.1" y="322.34" width="1.8" height="1.8" fill="#111"/>
<polyline points="216.1,299.76 216.16,299.88 216.28,300.25 216.44,301.04 216.65,302.36 216.88,304.18 217.14,306.35 217.44,308.64 217.76,310.84 218.1,312.8 218.47,314.48 218.86,315.85 219.27,316.97 219.7,317.86 220.15,318.57 220.63,319.14 221.12,319.6 221.63,319.96 222.16,320.26 222.71,320.51 223.27,320.71 223.85,320.87 224.45,321.01 225.07,321.12 225.7,321.22 226.35,321.3 227.01,321.37 227.69,321.44 228.39,321.49 229.1,321.53 229.82,321.57 230.56,321.61 231.31,321.64 232.08,321.66 232.86,321.69 233.66,321.71 234.47,321.72 235.29,321.74 236.13,321.76 236.98,321.77 237.84,321.78 238.71,321.79 239.6,321.8 240.51,321.81 241.42,321.82 242.35,321.82 243.29,321.83 244.24,321.84 245.2,321.84 246.18,321.85 247.17,321.85 248.17,321.86 249.18,321.86 250.2,321.86 251.24,321.87 252.28,321.87 253.34,321.87 254.41,321.88 255.49,321.88 256.59,321.88 257.69,321.88 258.8,321.89 259.93,321.89 261.07,321.89 262.21,321.89 263.37,321.89 264.54,321.89 265.72,321.89 266.91,321.9 268.11,321.9 269.32,321.9 270.54,321.9 271.78,321.9 273.02,321.9 274.27,321.9 275.53,321.9 276.81,321.9 278.09,321.9 279.38,321.91 280.69,321.91 282,321.91" fill="none" stroke="#27a84a" stroke-width="1.3" />
<rect x="215.35" y="299.09" width="1.8" height="1.8" fill="#27a84a"/>
<line x1="216.25" y1="298.49" x2="216.25" y2="301.49" stroke="#27a84a" stroke-width="0.6" />
<rect x="215.6" y="300.27" width="1.8" height="1.8" fill="#27a84a"/>
<line x1="216.5" y1="299.67" x2="216.5" y2="302.67" stroke="#27a84a" stroke-width="0.6" />
<rect x="216.1" y="304.11" width="1.8" height="1.8" fill="#27a84a"/>
<line x1="217" y1="303.51" x2="217" y2="306.51" stroke="#27a84a" stroke-width="0.6" />
<rect x="216.85" y="309.54" width="1.8" height="1.8" fill="#27a84a"/>
<line x1="217.75" y1="308.94" x2="217.75" y2="311.94" stroke="#27a84a" stroke-width="0.6" />
<rect x="217.6" y="314" width="1.8" height="1.8" fill="#27a84a"/>
<line x1="218.5" y1="313.4" x2="218.5" y2="316.4" stroke="#27a84a" stroke-width="0.6" />
<rect x="218.85" y="317.76" width="1.8" height="1.8" fill="#27a84a"/>
<line x1="219.75" y1="317.16" x2="219.75" y2="320.16" stroke="#27a84a" stroke-width="0.6" />
<rect x="220.1" y="318.11" width="1.8" height="1.8" fill="#27a84a"/>
<line x1="221" y1="317.51" x2="221" y2="320.51" stroke="#27a84a" stroke-width="0.6" />
<rect x="222.6" y="319.48" width="1.8" height="1.8" fill="#27a84a"/>
<line x1="223.5" y1="318.88" x2="223.5" y2="321.88" stroke="#27a84a" stroke-width="0.6" />
<rect x="225.1" y="319.76" width="1.8" height="1.8" fill="#27a84a"/>
<line x1="226" y1="319.16" x2="226" y2="322.16" stroke="#27a84a" stroke-width="0.6" />
<rect x="230.1" y="320.42" width="1.8" height="1.8" fill="#27a84a"/>
<line x1="231" y1="319.82" x2="231" y2="322.82" stroke="#27a84a" stroke-width="0.6" />
<rect x="235.1" y="321.49" width="1.8" height="1.8" fill="#27a84a"/>
<line x1="236" y1="320.89" x2="236" y2="323.89" stroke="#27a84a" stroke-width="0.6" />
<rect x="240.1" y="320.63" width="1.8" height="1.8" fill="#27a84a"/>
<line x1="241" y1="320.03" x2="241" y2="323.03" stroke="#27a84a" stroke-width="0.6" />
<rect x="245.1" y="321.52" width="1.8" height="1.8" fill="#27a84a"/>
<line x1="246" y1="320.92" x2="246" y2="323.92" stroke="#27a84a" stroke-width="0.6" />
<rect x="250.1" y="320.5" width="1.8" height="1.8" fill="#27a84a"/>
<line x1="251" y1="319.9" x2="251" y2="322.9" stroke="#27a84a" stroke-width="0.6" />
<rect x="255.1" y="321.6" width="1.8" height="1.8" fill="#27a84a"/>
<line x1="256" y1="321" x2="256" y2="324" stroke="#27a84a" stroke-width="0.6" />
<rect x="265.1" y="321.82" width="1.8" height="1.8" fill="#27a84a"/>
<line x1="266" y1="321.22" x2="266" y2="324.22" stroke="#27a84a" stroke-width="0.6" />
<rect x="275.1" y="320.54" width="1.8" height="1.8" fill="#27a84a"/>
<line x1="276" y1="319.94" x2="276" y2="322.94" stroke="#27a84a" stroke-width="0.6" />
<text x="217" y="345.46" font-size="6.3" fill="#222" stroke="#222" stroke-width="0.18" text-anchor="start" >V164</text>
<text x="281.5" y="305.27" font-size="6.9" fill="#222" stroke="#222" stroke-width="0.18" text-anchor="end" ><tspan dy="0" font-size="6.9">k</tspan><tspan dy="1.93" font-size="4.28">ex</tspan><tspan dy="-4.69" dx="-4.52" font-size="4.28">apo</tspan><tspan dy="2.76" font-size="6.9"> ~ 10000 s</tspan><tspan dy="-2.62" font-size="4.28">-1</tspan></text>
<text x="281.5" y="314.37" font-size="6.9" fill="#2b8a4a" stroke="#2b8a4a" stroke-width="0.18" text-anchor="end" ><tspan dy="0" font-size="6.9">k</tspan><tspan dy="1.93" font-size="4.28">ex</tspan><tspan dy="-4.69" dx="-4.52" font-size="4.28">AMPPNP</tspan><tspan dy="2.76" font-size="6.9"> ~ 2400 s</tspan><tspan dy="-2.62" font-size="4.28">-1</tspan></text>
<text x="281.5" y="336.67" font-size="6.9" fill="#f39a1e" stroke="#f39a1e" stroke-width="0.18" text-anchor="end" ><tspan dy="0" font-size="6.9">k</tspan><tspan dy="1.93" font-size="4.28">ex</tspan><tspan dy="-4.69" dx="-4.52" font-size="4.28">ADP</tspan><tspan dy="2.76" font-size="6.9"> ~ 3000 s</tspan><tspan dy="-2.62" font-size="4.28">-1</tspan></text>
<text transform="translate(203.4,328.35) rotate(-90)" font-size="7.9" text-anchor="middle" fill="#222" stroke="#222" stroke-width="0.18"><tspan>R</tspan><tspan dy="2.1" font-size="4.8">2eff</tspan><tspan dy="-2.1"> (s</tspan><tspan dy="-2.7" font-size="4.8">-1</tspan><tspan dy="2.7">)</tspan></text>
<text x="232.3" y="362.6" font-size="7.9" fill="#222" stroke="#222" stroke-width="0.18"><tspan>ν</tspan><tspan dy="2.4" font-size="5">CPMG</tspan><tspan dy="-2.4"> (kHz)</tspan></text>
<rect x="312.7" y="296.6" width="68.9" height="52.7" fill="none" stroke="#555" stroke-width="1.0"/>
<line x1="312.7" y1="349.3" x2="314.2" y2="349.3" stroke="#555" stroke-width="0.7" />
<text x="312.1" y="351.59" font-size="6.4" fill="#222" stroke="#222" stroke-width="0.18" text-anchor="end" >0</text>
<line x1="312.7" y1="322.96" x2="314.2" y2="322.96" stroke="#555" stroke-width="0.7" />
<text x="312.1" y="325.25" font-size="6.4" fill="#222" stroke="#222" stroke-width="0.18" text-anchor="end" >30</text>
<line x1="312.7" y1="296.62" x2="314.2" y2="296.62" stroke="#555" stroke-width="0.7" />
<text x="312.1" y="298.91" font-size="6.4" fill="#222" stroke="#222" stroke-width="0.18" text-anchor="end" >60</text>
<line x1="313.5" y1="349.3" x2="313.5" y2="347.8" stroke="#555" stroke-width="0.7" />
<text x="313.5" y="355.96" font-size="6.3" fill="#222" stroke="#222" stroke-width="0.18" text-anchor="middle" >0</text>
<line x1="333.9" y1="349.3" x2="333.9" y2="347.8" stroke="#555" stroke-width="0.7" />
<text x="333.9" y="355.96" font-size="6.3" fill="#222" stroke="#222" stroke-width="0.18" text-anchor="middle" >4</text>
<line x1="354.3" y1="349.3" x2="354.3" y2="347.8" stroke="#555" stroke-width="0.7" />
<text x="354.3" y="355.96" font-size="6.3" fill="#222" stroke="#222" stroke-width="0.18" text-anchor="middle" >8</text>
<line x1="374.7" y1="349.3" x2="374.7" y2="347.8" stroke="#555" stroke-width="0.7" />
<text x="374.7" y="355.96" font-size="6.3" fill="#222" stroke="#222" stroke-width="0.18" text-anchor="middle" >12</text>
<line x1="323.7" y1="349.3" x2="323.7" y2="348.3" stroke="#555" stroke-width="0.6" />
<line x1="344.1" y1="349.3" x2="344.1" y2="348.3" stroke="#555" stroke-width="0.6" />
<line x1="364.5" y1="349.3" x2="364.5" y2="348.3" stroke="#555" stroke-width="0.6" />
<polyline points="313.6,317.26 313.66,317.27 313.79,317.3 313.95,317.36 314.16,317.48 314.4,317.67 314.67,317.93 314.97,318.27 315.29,318.66 315.64,319.11 316.01,319.58 316.41,320.06 316.83,320.52 317.27,320.96 317.74,321.36 318.22,321.72 318.72,322.04 319.24,322.32 319.78,322.56 320.34,322.77 320.92,322.96 321.51,323.11 322.12,323.25 322.75,323.37 323.39,323.47 324.06,323.56 324.73,323.63 325.42,323.7 326.13,323.76 326.86,323.81 327.6,323.85 328.35,323.89 329.12,323.93 329.9,323.96 330.7,323.99 331.51,324.01 332.34,324.03 333.18,324.05 334.03,324.07 334.9,324.09 335.78,324.1 336.67,324.11 337.58,324.13 338.5,324.14 339.43,324.15 340.37,324.16 341.33,324.16 342.3,324.17 343.29,324.18 344.28,324.18 345.29,324.19 346.31,324.19 347.34,324.2 348.39,324.2 349.44,324.21 350.51,324.21 351.59,324.22 352.68,324.22 353.78,324.22 354.9,324.23 356.02,324.23 357.16,324.23 358.31,324.23 359.47,324.23 360.64,324.24 361.82,324.24 363.01,324.24 364.21,324.24 365.43,324.24 366.65,324.25 367.89,324.25 369.14,324.25 370.39,324.25 371.66,324.25 372.94,324.25 374.23,324.25 375.52,324.25 376.83,324.25 378.15,324.26 379.48,324.26 380.82,324.26" fill="none" stroke="#f5a21e" stroke-width="1.3" />
<rect x="312.86" y="316.28" width="1.8" height="1.8" fill="#f5a21e"/>
<rect x="313.11" y="316.1" width="1.8" height="1.8" fill="#f5a21e"/>
<rect x="313.62" y="316.76" width="1.8" height="1.8" fill="#f5a21e"/>
<rect x="314.39" y="317.61" width="1.8" height="1.8" fill="#f5a21e"/>
<rect x="315.15" y="319.24" width="1.8" height="1.8" fill="#f5a21e"/>
<rect x="316.43" y="320.33" width="1.8" height="1.8" fill="#f5a21e"/>
<rect x="317.7" y="321.2" width="1.8" height="1.8" fill="#f5a21e"/>
<rect x="320.25" y="321.74" width="1.8" height="1.8" fill="#f5a21e"/>
<rect x="322.8" y="322.57" width="1.8" height="1.8" fill="#f5a21e"/>
<rect x="327.9" y="323.1" width="1.8" height="1.8" fill="#f5a21e"/>
<rect x="333" y="323.07" width="1.8" height="1.8" fill="#f5a21e"/>
<rect x="338.1" y="323.72" width="1.8" height="1.8" fill="#f5a21e"/>
<rect x="343.2" y="322.91" width="1.8" height="1.8" fill="#f5a21e"/>
<rect x="348.3" y="323.5" width="1.8" height="1.8" fill="#f5a21e"/>
<rect x="353.4" y="322.82" width="1.8" height="1.8" fill="#f5a21e"/>
<rect x="363.6" y="322.85" width="1.8" height="1.8" fill="#f5a21e"/>
<rect x="373.8" y="323.25" width="1.8" height="1.8" fill="#f5a21e"/>
<polyline points="313.6,320.77 313.66,320.78 313.79,320.8 313.95,320.86 314.16,320.96 314.4,321.11 314.67,321.32 314.97,321.58 315.29,321.88 315.64,322.21 316.01,322.53 316.41,322.85 316.83,323.15 317.27,323.41 317.74,323.65 318.22,323.86 318.72,324.03 319.24,324.18 319.78,324.31 320.34,324.42 320.92,324.52 321.51,324.6 322.12,324.66 322.75,324.72 323.39,324.77 324.06,324.81 324.73,324.85 325.42,324.88 326.13,324.91 326.86,324.94 327.6,324.96 328.35,324.98 329.12,324.99 329.9,325.01 330.7,325.02 331.51,325.03 332.34,325.04 333.18,325.05 334.03,325.06 334.9,325.07 335.78,325.07 336.67,325.08 337.58,325.09 338.5,325.09 339.43,325.09 340.37,325.1 341.33,325.1 342.3,325.11 343.29,325.11 344.28,325.11 345.29,325.11 346.31,325.12 347.34,325.12 348.39,325.12 349.44,325.12 350.51,325.13 351.59,325.13 352.68,325.13 353.78,325.13 354.9,325.13 356.02,325.13 357.16,325.13 358.31,325.13 359.47,325.14 360.64,325.14 361.82,325.14 363.01,325.14 364.21,325.14 365.43,325.14 366.65,325.14 367.89,325.14 369.14,325.14 370.39,325.14 371.66,325.14 372.94,325.14 374.23,325.14 375.52,325.14 376.83,325.14 378.15,325.15 379.48,325.15 380.82,325.15" fill="none" stroke="#111" stroke-width="1" stroke-dasharray="1.2 1.4"/>
<rect x="312.86" y="319.46" width="1.8" height="1.8" fill="#111"/>
<rect x="313.11" y="320.02" width="1.8" height="1.8" fill="#111"/>
<rect x="313.62" y="320.28" width="1.8" height="1.8" fill="#111"/>
<rect x="314.39" y="320.86" width="1.8" height="1.8" fill="#111"/>
<rect x="315.15" y="321.8" width="1.8" height="1.8" fill="#111"/>
<rect x="316.43" y="322.64" width="1.8" height="1.8" fill="#111"/>
<rect x="317.7" y="323.08" width="1.8" height="1.8" fill="#111"/>
<rect x="320.25" y="323.79" width="1.8" height="1.8" fill="#111"/>
<rect x="322.8" y="324.04" width="1.8" height="1.8" fill="#111"/>
<rect x="327.9" y="323.96" width="1.8" height="1.8" fill="#111"/>
<rect x="333" y="324.38" width="1.8" height="1.8" fill="#111"/>
<rect x="338.1" y="324.24" width="1.8" height="1.8" fill="#111"/>
<rect x="343.2" y="323.87" width="1.8" height="1.8" fill="#111"/>
<rect x="348.3" y="324.17" width="1.8" height="1.8" fill="#111"/>
<rect x="353.4" y="324.1" width="1.8" height="1.8" fill="#111"/>
<rect x="363.6" y="324.27" width="1.8" height="1.8" fill="#111"/>
<rect x="373.8" y="323.89" width="1.8" height="1.8" fill="#111"/>
<polyline points="313.6,311.57 313.66,311.62 313.79,311.77 313.95,312.08 314.16,312.6 314.4,313.32 314.67,314.18 314.97,315.08 315.29,315.95 315.64,316.72 316.01,317.38 316.41,317.93 316.83,318.37 317.27,318.72 317.74,319 318.22,319.23 318.72,319.41 319.24,319.55 319.78,319.67 320.34,319.77 320.92,319.85 321.51,319.91 322.12,319.97 322.75,320.01 323.39,320.05 324.06,320.08 324.73,320.11 325.42,320.13 326.13,320.15 326.86,320.17 327.6,320.19 328.35,320.2 329.12,320.21 329.9,320.22 330.7,320.23 331.51,320.24 332.34,320.25 333.18,320.25 334.03,320.26 334.9,320.27 335.78,320.27 336.67,320.27 337.58,320.28 338.5,320.28 339.43,320.28 340.37,320.29 341.33,320.29 342.3,320.29 343.29,320.29 344.28,320.3 345.29,320.3 346.31,320.3 347.34,320.3 348.39,320.3 349.44,320.3 350.51,320.31 351.59,320.31 352.68,320.31 353.78,320.31 354.9,320.31 356.02,320.31 357.16,320.31 358.31,320.31 359.47,320.31 360.64,320.31 361.82,320.31 363.01,320.31 364.21,320.32 365.43,320.32 366.65,320.32 367.89,320.32 369.14,320.32 370.39,320.32 371.66,320.32 372.94,320.32 374.23,320.32 375.52,320.32 376.83,320.32 378.15,320.32 379.48,320.32 380.82,320.32" fill="none" stroke="#27a84a" stroke-width="1.3" />
<rect x="312.86" y="310.98" width="1.8" height="1.8" fill="#27a84a"/>
<line x1="313.75" y1="310.68" x2="313.75" y2="313.08" stroke="#27a84a" stroke-width="0.6" />
<rect x="313.11" y="310.91" width="1.8" height="1.8" fill="#27a84a"/>
<line x1="314.01" y1="310.61" x2="314.01" y2="313.01" stroke="#27a84a" stroke-width="0.6" />
<rect x="313.62" y="312.88" width="1.8" height="1.8" fill="#27a84a"/>
<line x1="314.52" y1="312.58" x2="314.52" y2="314.98" stroke="#27a84a" stroke-width="0.6" />
<rect x="314.39" y="315.51" width="1.8" height="1.8" fill="#27a84a"/>
<line x1="315.29" y1="315.21" x2="315.29" y2="317.61" stroke="#27a84a" stroke-width="0.6" />
<rect x="315.15" y="316.8" width="1.8" height="1.8" fill="#27a84a"/>
<line x1="316.05" y1="316.5" x2="316.05" y2="318.9" stroke="#27a84a" stroke-width="0.6" />
<rect x="316.43" y="317.49" width="1.8" height="1.8" fill="#27a84a"/>
<line x1="317.32" y1="317.19" x2="317.32" y2="319.59" stroke="#27a84a" stroke-width="0.6" />
<rect x="317.7" y="318.05" width="1.8" height="1.8" fill="#27a84a"/>
<line x1="318.6" y1="317.75" x2="318.6" y2="320.15" stroke="#27a84a" stroke-width="0.6" />
<rect x="320.25" y="318.48" width="1.8" height="1.8" fill="#27a84a"/>
<line x1="321.15" y1="318.18" x2="321.15" y2="320.58" stroke="#27a84a" stroke-width="0.6" />
<rect x="322.8" y="319.54" width="1.8" height="1.8" fill="#27a84a"/>
<line x1="323.7" y1="319.24" x2="323.7" y2="321.64" stroke="#27a84a" stroke-width="0.6" />
<rect x="327.9" y="318.91" width="1.8" height="1.8" fill="#27a84a"/>
<line x1="328.8" y1="318.61" x2="328.8" y2="321.01" stroke="#27a84a" stroke-width="0.6" />
<rect x="333" y="319.48" width="1.8" height="1.8" fill="#27a84a"/>
<line x1="333.9" y1="319.18" x2="333.9" y2="321.58" stroke="#27a84a" stroke-width="0.6" />
<rect x="338.1" y="319.34" width="1.8" height="1.8" fill="#27a84a"/>
<line x1="339" y1="319.04" x2="339" y2="321.44" stroke="#27a84a" stroke-width="0.6" />
<rect x="343.2" y="319.7" width="1.8" height="1.8" fill="#27a84a"/>
<line x1="344.1" y1="319.4" x2="344.1" y2="321.8" stroke="#27a84a" stroke-width="0.6" />
<rect x="348.3" y="319.13" width="1.8" height="1.8" fill="#27a84a"/>
<line x1="349.2" y1="318.83" x2="349.2" y2="321.23" stroke="#27a84a" stroke-width="0.6" />
<rect x="353.4" y="318.92" width="1.8" height="1.8" fill="#27a84a"/>
<line x1="354.3" y1="318.62" x2="354.3" y2="321.02" stroke="#27a84a" stroke-width="0.6" />
<rect x="363.6" y="319.81" width="1.8" height="1.8" fill="#27a84a"/>
<line x1="364.5" y1="319.51" x2="364.5" y2="321.91" stroke="#27a84a" stroke-width="0.6" />
<rect x="373.8" y="319.04" width="1.8" height="1.8" fill="#27a84a"/>
<line x1="374.7" y1="318.74" x2="374.7" y2="321.14" stroke="#27a84a" stroke-width="0.6" />
<text x="315" y="346.06" font-size="6.3" fill="#222" stroke="#222" stroke-width="0.18" text-anchor="start" >L109</text>
<text x="377" y="303.87" font-size="6.9" fill="#222" stroke="#222" stroke-width="0.18" text-anchor="end" ><tspan dy="0" font-size="6.9">k</tspan><tspan dy="1.93" font-size="4.28">ex</tspan><tspan dy="-4.69" dx="-4.52" font-size="4.28">apo</tspan><tspan dy="2.76" font-size="6.9"> N/A</tspan></text>
<text x="377" y="314.07" font-size="6.9" fill="#2b8a4a" stroke="#2b8a4a" stroke-width="0.18" text-anchor="end" ><tspan dy="0" font-size="6.9">k</tspan><tspan dy="1.93" font-size="4.28">ex</tspan><tspan dy="-4.69" dx="-4.52" font-size="4.28">AMPPNP</tspan><tspan dy="2.76" font-size="6.9"> ~ 300 s</tspan><tspan dy="-2.62" font-size="4.28">-1</tspan></text>
<text x="377" y="338.47" font-size="6.9" fill="#f39a1e" stroke="#f39a1e" stroke-width="0.18" text-anchor="end" ><tspan dy="0" font-size="6.9">k</tspan><tspan dy="1.93" font-size="4.28">ex</tspan><tspan dy="-4.69" dx="-4.52" font-size="4.28">ADP</tspan><tspan dy="2.76" font-size="6.9"> ~ 3000 s</tspan><tspan dy="-2.62" font-size="4.28">-1</tspan></text>
<text transform="translate(300.9,328.95) rotate(-90)" font-size="7.9" text-anchor="middle" fill="#222" stroke="#222" stroke-width="0.18"><tspan>R</tspan><tspan dy="2.1" font-size="4.8">2eff</tspan><tspan dy="-2.1"> (s</tspan><tspan dy="-2.7" font-size="4.8">-1</tspan><tspan dy="2.7">)</tspan></text>
<text x="328.8" y="362.8" font-size="7.9" fill="#222" stroke="#222" stroke-width="0.18"><tspan>ν</tspan><tspan dy="2.4" font-size="5">CPMG</tspan><tspan dy="-2.4"> (kHz)</tspan></text>
<text x="431.8" y="212.43" font-size="13.5" fill="#111" text-anchor="start" font-weight="bold" >d</text>
<rect x="452.8" y="207.3" width="198.6" height="84.7" fill="none" stroke="#6a6a6a" stroke-width="1.1" stroke-dasharray="1.1 2.35"/>
<rect x="452.8" y="295.6" width="198.6" height="84.7" fill="none" stroke="#6a6a6a" stroke-width="1.1" stroke-dasharray="1.1 2.35"/>
<clipPath id="sp1"><rect x="459.4" y="212.2" width="78.3" height="63.4"/></clipPath>
<g clip-path="url(#sp1)">
<path d="M504.62,219.75 Q504.75,218.5 508.25,219 Q511.75,219.5 514.75,218.75 Q517.75,218 521.5,218.25 Q525.25,218.5 525.5,221.25 Q525.75,224 525.12,226.75 Q524.5,229.5 523.12,231.5 Q521.75,233.5 520.25,234.75 Q518.75,236 517,235.88 Q515.25,235.75 513.62,234.88 Q512,234 511,232.25 Q510,230.5 509.5,228.75 Q509,227 508.12,225.5 Q507.25,224 505.88,222.5 Q504.5,221 504.62,219.75 Z" fill="#92cf2c"/>
<path d="M495.75,211.5 Q496,209 503,210 Q510,211 516,209.5 Q522,208 529.5,208.5 Q537,209 537.5,214.5 Q538,220 536.75,225.5 Q535.5,231 532.75,235 Q530,239 527,241.5 Q524,244 520.5,243.75 Q517,243.5 513.75,241.75 Q510.5,240 508.5,236.5 Q506.5,233 505.5,229.5 Q504.5,226 502.75,223 Q501,220 498.25,217 Q495.5,214 495.75,211.5 Z" fill="none" stroke="#8fcc25" stroke-width="0.9"/>
<path d="M496.74,212.42 Q496.97,210.06 503.58,211 Q510.19,211.94 515.86,210.53 Q521.53,209.11 528.61,209.58 Q535.69,210.06 536.17,215.25 Q536.64,220.44 535.46,225.64 Q534.28,230.83 531.68,234.61 Q529.08,238.39 526.25,240.75 Q523.42,243.11 520.11,242.88 Q516.81,242.64 513.74,240.99 Q510.67,239.33 508.78,236.03 Q506.89,232.72 505.94,229.42 Q505,226.11 503.35,223.28 Q501.69,220.44 499.1,217.61 Q496.5,214.78 496.74,212.42 Z" fill="none" stroke="#8fcc25" stroke-width="0.9"/>
<path d="M497.72,213.33 Q497.94,211.11 504.17,212 Q510.39,212.89 515.72,211.56 Q521.06,210.22 527.72,210.67 Q534.39,211.11 534.83,216 Q535.28,220.89 534.17,225.78 Q533.06,230.67 530.61,234.22 Q528.17,237.78 525.5,240 Q522.83,242.22 519.72,242 Q516.61,241.78 513.72,240.22 Q510.83,238.67 509.06,235.56 Q507.28,232.44 506.39,229.33 Q505.5,226.22 503.94,223.56 Q502.39,220.89 499.94,218.22 Q497.5,215.56 497.72,213.33 Z" fill="none" stroke="#8fcc25" stroke-width="0.9"/>
<path d="M498.71,214.25 Q498.92,212.17 504.75,213 Q510.58,213.83 515.58,212.58 Q520.58,211.33 526.83,211.75 Q533.08,212.17 533.5,216.75 Q533.92,221.33 532.88,225.92 Q531.83,230.5 529.54,233.83 Q527.25,237.17 524.75,239.25 Q522.25,241.33 519.33,241.12 Q516.42,240.92 513.71,239.46 Q511,238 509.33,235.08 Q507.67,232.17 506.83,229.25 Q506,226.33 504.54,223.83 Q503.08,221.33 500.79,218.83 Q498.5,216.33 498.71,214.25 Z" fill="none" stroke="#8fcc25" stroke-width="0.9"/>
<path d="M499.69,215.17 Q499.89,213.22 505.33,214 Q510.78,214.78 515.44,213.61 Q520.11,212.44 525.94,212.83 Q531.78,213.22 532.17,217.5 Q532.56,221.78 531.58,226.06 Q530.61,230.33 528.47,233.44 Q526.33,236.56 524,238.5 Q521.67,240.44 518.94,240.25 Q516.22,240.06 513.69,238.69 Q511.17,237.33 509.61,234.61 Q508.06,231.89 507.28,229.17 Q506.5,226.44 505.14,224.11 Q503.78,221.78 501.64,219.44 Q499.5,217.11 499.69,215.17 Z" fill="none" stroke="#8fcc25" stroke-width="0.9"/>
<path d="M500.68,216.08 Q500.86,214.28 505.92,215 Q510.97,215.72 515.31,214.64 Q519.64,213.56 525.06,213.92 Q530.47,214.28 530.83,218.25 Q531.19,222.22 530.29,226.19 Q529.39,230.17 527.4,233.06 Q525.42,235.94 523.25,237.75 Q521.08,239.56 518.56,239.38 Q516.03,239.19 513.68,237.93 Q511.33,236.67 509.89,234.14 Q508.44,231.61 507.72,229.08 Q507,226.56 505.74,224.39 Q504.47,222.22 502.49,220.06 Q500.5,217.89 500.68,216.08 Z" fill="none" stroke="#8fcc25" stroke-width="0.9"/>
<path d="M501.67,217 Q501.83,215.33 506.5,216 Q511.17,216.67 515.17,215.67 Q519.17,214.67 524.17,215 Q529.17,215.33 529.5,219 Q529.83,222.67 529,226.33 Q528.17,230 526.33,232.67 Q524.5,235.33 522.5,237 Q520.5,238.67 518.17,238.5 Q515.83,238.33 513.67,237.17 Q511.5,236 510.17,233.67 Q508.83,231.33 508.17,229 Q507.5,226.67 506.33,224.67 Q505.17,222.67 503.33,220.67 Q501.5,218.67 501.67,217 Z" fill="none" stroke="#8fcc25" stroke-width="0.9"/>
<path d="M502.65,217.92 Q502.81,216.39 507.08,217 Q511.36,217.61 515.03,216.69 Q518.69,215.78 523.28,216.08 Q527.86,216.39 528.17,219.75 Q528.47,223.11 527.71,226.47 Q526.94,229.83 525.26,232.28 Q523.58,234.72 521.75,236.25 Q519.92,237.78 517.78,237.62 Q515.64,237.47 513.65,236.4 Q511.67,235.33 510.44,233.19 Q509.22,231.06 508.61,228.92 Q508,226.78 506.93,224.94 Q505.86,223.11 504.18,221.28 Q502.5,219.44 502.65,217.92 Z" fill="none" stroke="#8fcc25" stroke-width="0.9"/>
<path d="M503.64,218.83 Q503.78,217.44 507.67,218 Q511.56,218.56 514.89,217.72 Q518.22,216.89 522.39,217.17 Q526.56,217.44 526.83,220.5 Q527.11,223.56 526.42,226.61 Q525.72,229.67 524.19,231.89 Q522.67,234.11 521,235.5 Q519.33,236.89 517.39,236.75 Q515.44,236.61 513.64,235.64 Q511.83,234.67 510.72,232.72 Q509.61,230.78 509.06,228.83 Q508.5,226.89 507.53,225.22 Q506.56,223.56 505.03,221.89 Q503.5,220.22 503.64,218.83 Z" fill="none" stroke="#8fcc25" stroke-width="0.9"/>
<path d="M504.62,219.75 Q504.75,218.5 508.25,219 Q511.75,219.5 514.75,218.75 Q517.75,218 521.5,218.25 Q525.25,218.5 525.5,221.25 Q525.75,224 525.12,226.75 Q524.5,229.5 523.12,231.5 Q521.75,233.5 520.25,234.75 Q518.75,236 517,235.88 Q515.25,235.75 513.62,234.88 Q512,234 511,232.25 Q510,230.5 509.5,228.75 Q509,227 508.12,225.5 Q507.25,224 505.88,222.5 Q504.5,221 504.62,219.75 Z" fill="none" stroke="#c9ec93" stroke-width="0.45"/>
<path d="M505.61,220.67 Q505.72,219.56 508.83,220 Q511.94,220.44 514.61,219.78 Q517.28,219.11 520.61,219.33 Q523.94,219.56 524.17,222 Q524.39,224.44 523.83,226.89 Q523.28,229.33 522.06,231.11 Q520.83,232.89 519.5,234 Q518.17,235.11 516.61,235 Q515.06,234.89 513.61,234.11 Q512.17,233.33 511.28,231.78 Q510.39,230.22 509.94,228.67 Q509.5,227.11 508.72,225.78 Q507.94,224.44 506.72,223.11 Q505.5,221.78 505.61,220.67 Z" fill="none" stroke="#c9ec93" stroke-width="0.45"/>
<path d="M506.6,221.58 Q506.69,220.61 509.42,221 Q512.14,221.39 514.47,220.81 Q516.81,220.22 519.72,220.42 Q522.64,220.61 522.83,222.75 Q523.03,224.89 522.54,227.03 Q522.06,229.17 520.99,230.72 Q519.92,232.28 518.75,233.25 Q517.58,234.22 516.22,234.12 Q514.86,234.03 513.6,233.35 Q512.33,232.67 511.56,231.31 Q510.78,229.94 510.39,228.58 Q510,227.22 509.32,226.06 Q508.64,224.89 507.57,223.72 Q506.5,222.56 506.6,221.58 Z" fill="none" stroke="#c9ec93" stroke-width="0.45"/>
<path d="M507.58,222.5 Q507.67,221.67 510,222 Q512.33,222.33 514.33,221.83 Q516.33,221.33 518.83,221.5 Q521.33,221.67 521.5,223.5 Q521.67,225.33 521.25,227.17 Q520.83,229 519.92,230.33 Q519,231.67 518,232.5 Q517,233.33 515.83,233.25 Q514.67,233.17 513.58,232.58 Q512.5,232 511.83,230.83 Q511.17,229.67 510.83,228.5 Q510.5,227.33 509.92,226.33 Q509.33,225.33 508.42,224.33 Q507.5,223.33 507.58,222.5 Z" fill="none" stroke="#c9ec93" stroke-width="0.45"/>
<path d="M508.57,223.42 Q508.64,222.72 510.58,223 Q512.53,223.28 514.19,222.86 Q515.86,222.44 517.94,222.58 Q520.03,222.72 520.17,224.25 Q520.31,225.78 519.96,227.31 Q519.61,228.83 518.85,229.94 Q518.08,231.06 517.25,231.75 Q516.42,232.44 515.44,232.38 Q514.47,232.31 513.57,231.82 Q512.67,231.33 512.11,230.36 Q511.56,229.39 511.28,228.42 Q511,227.44 510.51,226.61 Q510.03,225.78 509.26,224.94 Q508.5,224.11 508.57,223.42 Z" fill="none" stroke="#c9ec93" stroke-width="0.45"/>
<path d="M509.56,224.33 Q509.61,223.78 511.17,224 Q512.72,224.22 514.06,223.89 Q515.39,223.56 517.06,223.67 Q518.72,223.78 518.83,225 Q518.94,226.22 518.67,227.44 Q518.39,228.67 517.78,229.56 Q517.17,230.44 516.5,231 Q515.83,231.56 515.06,231.5 Q514.28,231.44 513.56,231.06 Q512.83,230.67 512.39,229.89 Q511.94,229.11 511.72,228.33 Q511.5,227.56 511.11,226.89 Q510.72,226.22 510.11,225.56 Q509.5,224.89 509.56,224.33 Z" fill="none" stroke="#c9ec93" stroke-width="0.45"/>
<path d="M510.54,225.25 Q510.58,224.83 511.75,225 Q512.92,225.17 513.92,224.92 Q514.92,224.67 516.17,224.75 Q517.42,224.83 517.5,225.75 Q517.58,226.67 517.38,227.58 Q517.17,228.5 516.71,229.17 Q516.25,229.83 515.75,230.25 Q515.25,230.67 514.67,230.62 Q514.08,230.58 513.54,230.29 Q513,230 512.67,229.42 Q512.33,228.83 512.17,228.25 Q512,227.67 511.71,227.17 Q511.42,226.67 510.96,226.17 Q510.5,225.67 510.54,225.25 Z" fill="none" stroke="#c9ec93" stroke-width="0.45"/>
<ellipse cx="513.5" cy="228" rx="1.4" ry="1.6" fill="#f4fbe8"/>
<g transform="rotate(18 473.5 259)">
<ellipse cx="473.5" cy="259" rx="8" ry="11" fill="#92cf2c"/>
<ellipse cx="473.32" cy="259.12" rx="6.67" ry="9.17" fill="none" stroke="#c9ec93" stroke-width="0.45"/>
<ellipse cx="473.13" cy="259.23" rx="5.33" ry="7.33" fill="none" stroke="#c9ec93" stroke-width="0.45"/>
<ellipse cx="472.95" cy="259.35" rx="4" ry="5.5" fill="none" stroke="#c9ec93" stroke-width="0.45"/>
<ellipse cx="472.77" cy="259.47" rx="2.67" ry="3.67" fill="none" stroke="#c9ec93" stroke-width="0.45"/>
<ellipse cx="472.58" cy="259.58" rx="1.33" ry="1.83" fill="none" stroke="#c9ec93" stroke-width="0.45"/>
<ellipse cx="472.4" cy="259.7" rx="1.44" ry="1.76" fill="#f4fbe8"/>
</g>
</g>
<rect x="459.4" y="212.2" width="78.3" height="63.4" fill="none" stroke="#444" stroke-width="1.0"/>
<line x1="480" y1="275.6" x2="480" y2="274.4" stroke="#444" stroke-width="0.6" />
<line x1="500" y1="275.6" x2="500" y2="274.4" stroke="#444" stroke-width="0.6" />
<line x1="520" y1="275.6" x2="520" y2="274.4" stroke="#444" stroke-width="0.6" />
<text x="462.6" y="222.34" font-size="9.9" fill="#111" text-anchor="start" font-weight="bold" >M20</text>
<text x="512.2" y="246.9" font-size="6.7" fill="#333" text-anchor="middle" font-weight="bold" >State a</text>
<text x="494.9" y="265.8" font-size="6.7" fill="#e0309a" text-anchor="middle" font-weight="bold" >State b</text>
<path d="M481.5,221 L513,226.5" stroke="#222" stroke-width="0.7" stroke-dasharray="0.9 1"/>
<path d="M510,224.8 L514.2,226.8 L510.6,228.6 Z" fill="#222"/>
<path d="M472.5,223.5 L472.5,258" stroke="#222" stroke-width="0.7" stroke-dasharray="0.9 1"/>
<path d="M470.6,255.5 L472.5,259.8 L474.4,255.5 Z" fill="#222"/>
<clipPath id="sp2"><rect x="460.6" y="301.6" width="77.1" height="62"/></clipPath>
<g clip-path="url(#sp2)">
<path d="M500,334 C503,331 507,331.5 509,334 C507,338 502,340 499,338 Z" fill="#92cf2c"/>
<path d="M502,333.5 L507,336" stroke="#c9ec93" stroke-width="0.5"/>
<path d="M496.25,327 Q496.5,324 497.75,320.25 Q499,316.5 502.5,314 Q506,311.5 510.5,311 Q515,310.5 518.75,311.5 Q522.5,312.5 523.75,315.25 Q525,318 523.5,321.75 Q522,325.5 518.5,328 Q515,330.5 511,332.5 Q507,334.5 503.5,334.25 Q500,334 498,332 Q496,330 496.25,327 Z" fill="#92cf2c"/>
<path d="M496.25,327 Q496.5,324 497.75,320.25 Q499,316.5 502.5,314 Q506,311.5 510.5,311 Q515,310.5 518.75,311.5 Q522.5,312.5 523.75,315.25 Q525,318 523.5,321.75 Q522,325.5 518.5,328 Q515,330.5 511,332.5 Q507,334.5 503.5,334.25 Q500,334 498,332 Q496,330 496.25,327 Z" fill="none" stroke="#c9ec93" stroke-width="0.45"/>
<path d="M498.29,326.04 Q498.5,323.47 499.57,320.26 Q500.64,317.04 503.64,314.9 Q506.64,312.76 510.5,312.33 Q514.36,311.9 517.57,312.76 Q520.79,313.61 521.86,315.97 Q522.93,318.33 521.64,321.54 Q520.36,324.76 517.36,326.9 Q514.36,329.04 510.93,330.76 Q507.5,332.47 504.5,332.26 Q501.5,332.04 499.79,330.33 Q498.07,328.61 498.29,326.04 Z" fill="none" stroke="#c9ec93" stroke-width="0.45"/>
<path d="M500.32,325.09 Q500.5,322.94 501.39,320.26 Q502.29,317.59 504.79,315.8 Q507.29,314.01 510.5,313.66 Q513.71,313.3 516.39,314.01 Q519.07,314.73 519.96,316.69 Q520.86,318.66 519.79,321.34 Q518.71,324.01 516.21,325.8 Q513.71,327.59 510.86,329.01 Q508,330.44 505.5,330.26 Q503,330.09 501.57,328.66 Q500.14,327.23 500.32,325.09 Z" fill="none" stroke="#c9ec93" stroke-width="0.45"/>
<path d="M502.36,324.13 Q502.5,322.41 503.21,320.27 Q503.93,318.13 505.93,316.7 Q507.93,315.27 510.5,314.99 Q513.07,314.7 515.21,315.27 Q517.36,315.84 518.07,317.41 Q518.79,318.99 517.93,321.13 Q517.07,323.27 515.07,324.7 Q513.07,326.13 510.79,327.27 Q508.5,328.41 506.5,328.27 Q504.5,328.13 503.36,326.99 Q502.21,325.84 502.36,324.13 Z" fill="none" stroke="#c9ec93" stroke-width="0.45"/>
<path d="M504.39,323.17 Q504.5,321.89 505.04,320.28 Q505.57,318.67 507.07,317.6 Q508.57,316.53 510.5,316.31 Q512.43,316.1 514.04,316.53 Q515.64,316.96 516.18,318.14 Q516.71,319.31 516.07,320.92 Q515.43,322.53 513.93,323.6 Q512.43,324.67 510.71,325.53 Q509,326.39 507.5,326.28 Q506,326.17 505.14,325.31 Q504.29,324.46 504.39,323.17 Z" fill="none" stroke="#c9ec93" stroke-width="0.45"/>
<path d="M506.43,322.21 Q506.5,321.36 506.86,320.29 Q507.21,319.21 508.21,318.5 Q509.21,317.79 510.5,317.64 Q511.79,317.5 512.86,317.79 Q513.93,318.07 514.29,318.86 Q514.64,319.64 514.21,320.71 Q513.79,321.79 512.79,322.5 Q511.79,323.21 510.64,323.79 Q509.5,324.36 508.5,324.29 Q507.5,324.21 506.93,323.64 Q506.36,323.07 506.43,322.21 Z" fill="none" stroke="#c9ec93" stroke-width="0.45"/>
<path d="M508.46,321.26 Q508.5,320.83 508.68,320.29 Q508.86,319.76 509.36,319.4 Q509.86,319.04 510.5,318.97 Q511.14,318.9 511.68,319.04 Q512.21,319.19 512.39,319.58 Q512.57,319.97 512.36,320.51 Q512.14,321.04 511.64,321.4 Q511.14,321.76 510.57,322.04 Q510,322.33 509.5,322.29 Q509,322.26 508.71,321.97 Q508.43,321.69 508.46,321.26 Z" fill="none" stroke="#c9ec93" stroke-width="0.45"/>
<ellipse cx="510.5" cy="320.3" rx="1.4" ry="1.6" fill="#f4fbe8"/>
<path d="M484.75,349.25 Q484,346 485,342.75 Q486,339.5 489,338 Q492,336.5 496,336.5 Q500,336.5 503.25,338 Q506.5,339.5 507.5,342.75 Q508.5,346 507.25,349.25 Q506,352.5 503,354.25 Q500,356 495.5,356 Q491,356 488.25,354.25 Q485.5,352.5 484.75,349.25 Z" fill="#92cf2c"/>
<path d="M484.75,349.25 Q484,346 485,342.75 Q486,339.5 489,338 Q492,336.5 496,336.5 Q500,336.5 503.25,338 Q506.5,339.5 507.5,342.75 Q508.5,346 507.25,349.25 Q506,352.5 503,354.25 Q500,356 495.5,356 Q491,356 488.25,354.25 Q485.5,352.5 484.75,349.25 Z" fill="none" stroke="#c9ec93" stroke-width="0.45"/>
<path d="M486.26,348.64 Q485.61,345.86 486.47,343.07 Q487.33,340.29 489.9,339 Q492.47,337.71 495.9,337.71 Q499.33,337.71 502.11,339 Q504.9,340.29 505.76,343.07 Q506.61,345.86 505.54,348.64 Q504.47,351.43 501.9,352.93 Q499.33,354.43 495.47,354.43 Q491.61,354.43 489.26,352.93 Q486.9,351.43 486.26,348.64 Z" fill="none" stroke="#c9ec93" stroke-width="0.45"/>
<path d="M487.76,348.04 Q487.23,345.71 487.94,343.39 Q488.66,341.07 490.8,340 Q492.94,338.93 495.8,338.93 Q498.66,338.93 500.98,340 Q503.3,341.07 504.01,343.39 Q504.73,345.71 503.84,348.04 Q502.94,350.36 500.8,351.61 Q498.66,352.86 495.44,352.86 Q492.23,352.86 490.26,351.61 Q488.3,350.36 487.76,348.04 Z" fill="none" stroke="#c9ec93" stroke-width="0.45"/>
<path d="M489.27,347.43 Q488.84,345.57 489.41,343.71 Q489.99,341.86 491.7,341 Q493.41,340.14 495.7,340.14 Q497.99,340.14 499.84,341 Q501.7,341.86 502.27,343.71 Q502.84,345.57 502.13,347.43 Q501.41,349.29 499.7,350.29 Q497.99,351.29 495.41,351.29 Q492.84,351.29 491.27,350.29 Q489.7,349.29 489.27,347.43 Z" fill="none" stroke="#c9ec93" stroke-width="0.45"/>
<path d="M490.78,346.82 Q490.46,345.43 490.89,344.04 Q491.31,342.64 492.6,342 Q493.89,341.36 495.6,341.36 Q497.31,341.36 498.71,342 Q500.1,342.64 500.53,344.04 Q500.96,345.43 500.42,346.82 Q499.89,348.21 498.6,348.96 Q497.31,349.71 495.39,349.71 Q493.46,349.71 492.28,348.96 Q491.1,348.21 490.78,346.82 Z" fill="none" stroke="#c9ec93" stroke-width="0.45"/>
<path d="M492.29,346.21 Q492.07,345.29 492.36,344.36 Q492.64,343.43 493.5,343 Q494.36,342.57 495.5,342.57 Q496.64,342.57 497.57,343 Q498.5,343.43 498.79,344.36 Q499.07,345.29 498.71,346.21 Q498.36,347.14 497.5,347.64 Q496.64,348.14 495.36,348.14 Q494.07,348.14 493.29,347.64 Q492.5,347.14 492.29,346.21 Z" fill="none" stroke="#c9ec93" stroke-width="0.45"/>
<path d="M493.79,345.61 Q493.69,345.14 493.83,344.68 Q493.97,344.21 494.4,344 Q494.83,343.79 495.4,343.79 Q495.97,343.79 496.44,344 Q496.9,344.21 497.04,344.68 Q497.19,345.14 497.01,345.61 Q496.83,346.07 496.4,346.32 Q495.97,346.57 495.33,346.57 Q494.69,346.57 494.29,346.32 Q493.9,346.07 493.79,345.61 Z" fill="none" stroke="#c9ec93" stroke-width="0.45"/>
<ellipse cx="495.3" cy="345" rx="1.4" ry="1.6" fill="#f4fbe8"/>
<g transform="rotate(0 523.5 367)">
<ellipse cx="523.5" cy="367" rx="10.5" ry="6.5" fill="#92cf2c"/>
<ellipse cx="523.5" cy="367.25" rx="7.88" ry="4.88" fill="none" stroke="#c9ec93" stroke-width="0.45"/>
<ellipse cx="523.5" cy="367.5" rx="5.25" ry="3.25" fill="none" stroke="#c9ec93" stroke-width="0.45"/>
<ellipse cx="523.5" cy="367.75" rx="2.62" ry="1.62" fill="none" stroke="#c9ec93" stroke-width="0.45"/>
<ellipse cx="523.5" cy="368" rx="1.89" ry="1.04" fill="#f4fbe8"/>
</g>
</g>
<rect x="460.6" y="301.6" width="77.1" height="62" fill="none" stroke="#444" stroke-width="1.0"/>
<line x1="480" y1="363.6" x2="480" y2="362.4" stroke="#444" stroke-width="0.6" />
<line x1="500" y1="363.6" x2="500" y2="362.4" stroke="#444" stroke-width="0.6" />
<line x1="520" y1="363.6" x2="520" y2="362.4" stroke="#444" stroke-width="0.6" />
<text x="465.6" y="312.94" font-size="9.9" fill="#111" text-anchor="start" font-weight="bold" >L76</text>
<text x="518.3" y="309.3" font-size="6.7" fill="#e0309a" text-anchor="middle" font-weight="bold" >State b</text>
<text x="495" y="361" font-size="6.7" fill="#333" text-anchor="middle" font-weight="bold" >State a</text>
<path d="M476,318 L509,320.3" stroke="#222" stroke-width="0.7" stroke-dasharray="0.9 1"/>
<path d="M506.5,318.5 L510.8,320.4 L506.5,322.2 Z" fill="#222"/>
<path d="M476,318 L494,343" stroke="#222" stroke-width="0.7" stroke-dasharray="0.9 1"/>
<path d="M491.0,342.2 L495.2,345.0 L494.0,340.2 Z" fill="#222"/>
<rect x="563.3" y="210.3" width="82.2" height="63.8" fill="none" stroke="#444" stroke-width="1.0"/>
<line x1="563.3" y1="274.1" x2="564.8" y2="274.1" stroke="#444" stroke-width="0.7" />
<text x="562.7" y="276.53" font-size="6.8" fill="#222" stroke="#222" stroke-width="0.18" text-anchor="end" >0</text>
<line x1="563.3" y1="242.21" x2="564.8" y2="242.21" stroke="#444" stroke-width="0.7" />
<text x="562.7" y="244.64" font-size="6.8" fill="#222" stroke="#222" stroke-width="0.18" text-anchor="end" >30</text>
<line x1="563.3" y1="210.32" x2="564.8" y2="210.32" stroke="#444" stroke-width="0.7" />
<text x="562.7" y="212.75" font-size="6.8" fill="#222" stroke="#222" stroke-width="0.18" text-anchor="end" >60</text>
<line x1="563" y1="274.1" x2="563" y2="272.6" stroke="#444" stroke-width="0.7" />
<text x="563" y="281.03" font-size="6.8" fill="#222" stroke="#222" stroke-width="0.18" text-anchor="middle" >0</text>
<line x1="588.2" y1="274.1" x2="588.2" y2="272.6" stroke="#444" stroke-width="0.7" />
<text x="588.2" y="281.03" font-size="6.8" fill="#222" stroke="#222" stroke-width="0.18" text-anchor="middle" >4</text>
<line x1="613.4" y1="274.1" x2="613.4" y2="272.6" stroke="#444" stroke-width="0.7" />
<text x="613.4" y="281.03" font-size="6.8" fill="#222" stroke="#222" stroke-width="0.18" text-anchor="middle" >8</text>
<line x1="638.6" y1="274.1" x2="638.6" y2="272.6" stroke="#444" stroke-width="0.7" />
<text x="638.6" y="281.03" font-size="6.8" fill="#222" stroke="#222" stroke-width="0.18" text-anchor="middle" >12</text>
<line x1="563.3" y1="263.47" x2="645.5" y2="263.47" stroke="#e8409a" stroke-width="1.6" />
<rect x="562.83" y="264.18" width="1.6" height="1.6" fill="#e8409a"/>
<rect x="563.46" y="262.86" width="1.6" height="1.6" fill="#e8409a"/>
<rect x="564.09" y="261.52" width="1.6" height="1.6" fill="#e8409a"/>
<rect x="565.35" y="261.8" width="1.6" height="1.6" fill="#e8409a"/>
<rect x="566.93" y="261.68" width="1.6" height="1.6" fill="#e8409a"/>
<rect x="568.5" y="262.95" width="1.6" height="1.6" fill="#e8409a"/>
<rect x="574.8" y="261.39" width="1.6" height="1.6" fill="#e8409a"/>
<rect x="581.1" y="262.53" width="1.6" height="1.6" fill="#e8409a"/>
<rect x="587.4" y="264.46" width="1.6" height="1.6" fill="#e8409a"/>
<rect x="593.7" y="262.86" width="1.6" height="1.6" fill="#e8409a"/>
<rect x="600" y="264.59" width="1.6" height="1.6" fill="#e8409a"/>
<rect x="606.3" y="260.83" width="1.6" height="1.6" fill="#e8409a"/>
<rect x="612.6" y="260.77" width="1.6" height="1.6" fill="#e8409a"/>
<rect x="625.2" y="263.37" width="1.6" height="1.6" fill="#e8409a"/>
<rect x="637.8" y="263.48" width="1.6" height="1.6" fill="#e8409a"/>
<polyline points="563.13,219.92 563.2,219.97 563.35,220.15 563.56,220.54 563.82,221.22 564.11,222.24 564.44,223.58 564.81,225.18 565.21,226.92 565.65,228.69 566.11,230.39 566.6,231.94 567.12,233.31 567.67,234.5 568.24,235.5 568.84,236.35 569.46,237.06 570.1,237.65 570.77,238.15 571.46,238.56 572.18,238.91 572.91,239.2 573.67,239.44 574.44,239.65 575.24,239.83 576.06,239.98 576.9,240.11 577.75,240.22 578.63,240.32 579.52,240.4 580.44,240.48 581.37,240.54 582.32,240.6 583.29,240.65 584.28,240.69 585.28,240.73 586.3,240.77 587.34,240.8 588.4,240.82 589.47,240.85 590.56,240.87 591.66,240.89 592.79,240.91 593.92,240.93 595.08,240.94 596.25,240.96 597.43,240.97 598.63,240.98 599.85,240.99 601.08,241 602.33,241.01 603.59,241.02 604.87,241.03 606.16,241.03 607.47,241.04 608.79,241.05 610.12,241.05 611.47,241.06 612.84,241.06 614.22,241.07 615.61,241.07 617.01,241.07 618.44,241.08 619.87,241.08 621.32,241.09 622.78,241.09 624.25,241.09 625.74,241.09 627.24,241.1 628.76,241.1 630.29,241.1 631.83,241.1 633.39,241.1 634.95,241.11 636.53,241.11 638.13,241.11 639.73,241.11 641.35,241.11 642.98,241.11 644.63,241.12 646.29,241.12" fill="none" stroke="#222" stroke-width="1.2" />
<rect x="562.73" y="218.38" width="1.8" height="1.8" fill="#111"/>
<line x1="563.63" y1="217.78" x2="563.63" y2="220.78" stroke="#111" stroke-width="0.5" />
<rect x="563.36" y="223.49" width="1.8" height="1.8" fill="#111"/>
<line x1="564.26" y1="222.89" x2="564.26" y2="225.89" stroke="#111" stroke-width="0.5" />
<rect x="563.99" y="226.32" width="1.8" height="1.8" fill="#111"/>
<line x1="564.89" y1="225.72" x2="564.89" y2="228.72" stroke="#111" stroke-width="0.5" />
<rect x="565.25" y="231.27" width="1.8" height="1.8" fill="#111"/>
<line x1="566.15" y1="230.67" x2="566.15" y2="233.67" stroke="#111" stroke-width="0.5" />
<rect x="566.83" y="234.52" width="1.8" height="1.8" fill="#111"/>
<line x1="567.73" y1="233.92" x2="567.73" y2="236.92" stroke="#111" stroke-width="0.5" />
<rect x="568.4" y="235.32" width="1.8" height="1.8" fill="#111"/>
<line x1="569.3" y1="234.72" x2="569.3" y2="237.72" stroke="#111" stroke-width="0.5" />
<rect x="574.7" y="236.53" width="1.8" height="1.8" fill="#111"/>
<line x1="575.6" y1="235.93" x2="575.6" y2="238.93" stroke="#111" stroke-width="0.5" />
<rect x="581" y="241.21" width="1.8" height="1.8" fill="#111"/>
<line x1="581.9" y1="240.61" x2="581.9" y2="243.61" stroke="#111" stroke-width="0.5" />
<rect x="587.3" y="237.5" width="1.8" height="1.8" fill="#111"/>
<line x1="588.2" y1="236.9" x2="588.2" y2="239.9" stroke="#111" stroke-width="0.5" />
<rect x="593.6" y="239.74" width="1.8" height="1.8" fill="#111"/>
<line x1="594.5" y1="239.14" x2="594.5" y2="242.14" stroke="#111" stroke-width="0.5" />
<rect x="599.9" y="237.97" width="1.8" height="1.8" fill="#111"/>
<line x1="600.8" y1="237.37" x2="600.8" y2="240.37" stroke="#111" stroke-width="0.5" />
<rect x="606.2" y="238.45" width="1.8" height="1.8" fill="#111"/>
<line x1="607.1" y1="237.85" x2="607.1" y2="240.85" stroke="#111" stroke-width="0.5" />
<rect x="612.5" y="241.97" width="1.8" height="1.8" fill="#111"/>
<line x1="613.4" y1="241.37" x2="613.4" y2="244.37" stroke="#111" stroke-width="0.5" />
<rect x="625.1" y="239.4" width="1.8" height="1.8" fill="#111"/>
<line x1="626" y1="238.8" x2="626" y2="241.8" stroke="#111" stroke-width="0.5" />
<rect x="637.7" y="242.21" width="1.8" height="1.8" fill="#111"/>
<line x1="638.6" y1="241.61" x2="638.6" y2="244.61" stroke="#111" stroke-width="0.5" />
<text x="642.2" y="216.97" font-size="6.9" fill="#222" stroke="#222" stroke-width="0.18" text-anchor="end" ><tspan dy="0" font-size="6.9">State a: k</tspan><tspan dy="1.93" font-size="4.28">ex</tspan><tspan dy="-1.93" font-size="6.9"> ~ 3000 s</tspan><tspan dy="-2.62" font-size="4.28">-1</tspan></text>
<text x="605.2" y="227.87" font-size="6.9" fill="#e0309a" stroke="#e0309a" stroke-width="0.18" text-anchor="middle" ><tspan dy="0" font-size="6.9">State b: N/A</tspan></text>
<text x="622.3" y="258.55" font-size="10.2" fill="#111" text-anchor="start" font-weight="bold" >M20</text>
<text transform="translate(551.2,248.2) rotate(-90)" font-size="7.9" text-anchor="middle" fill="#222" stroke="#222" stroke-width="0.18"><tspan>R</tspan><tspan dy="2.1" font-size="4.8">2eff</tspan><tspan dy="-2.1"> (s</tspan><tspan dy="-2.7" font-size="4.8">-1</tspan><tspan dy="2.7">)</tspan></text>
<text x="591" y="288.8" font-size="7.9" fill="#222" stroke="#222" stroke-width="0.18"><tspan>ν</tspan><tspan dy="2.4" font-size="5">CPMG</tspan><tspan dy="-2.4"> (kHz)</tspan></text>
<rect x="562" y="300.8" width="83.3" height="63.8" fill="none" stroke="#444" stroke-width="1.0"/>
<line x1="562" y1="364.6" x2="563.5" y2="364.6" stroke="#444" stroke-width="0.7" />
<text x="561.4" y="367.03" font-size="6.8" fill="#222" stroke="#222" stroke-width="0.18" text-anchor="end" >0</text>
<line x1="562" y1="332.71" x2="563.5" y2="332.71" stroke="#444" stroke-width="0.7" />
<text x="561.4" y="335.14" font-size="6.8" fill="#222" stroke="#222" stroke-width="0.18" text-anchor="end" >30</text>
<line x1="562" y1="300.82" x2="563.5" y2="300.82" stroke="#444" stroke-width="0.7" />
<text x="561.4" y="303.25" font-size="6.8" fill="#222" stroke="#222" stroke-width="0.18" text-anchor="end" >60</text>
<line x1="562.7" y1="364.6" x2="562.7" y2="363.1" stroke="#444" stroke-width="0.7" />
<text x="562.7" y="370.93" font-size="6.8" fill="#222" stroke="#222" stroke-width="0.18" text-anchor="middle" >0</text>
<line x1="587.5" y1="364.6" x2="587.5" y2="363.1" stroke="#444" stroke-width="0.7" />
<text x="587.5" y="370.93" font-size="6.8" fill="#222" stroke="#222" stroke-width="0.18" text-anchor="middle" >4</text>
<line x1="612.3" y1="364.6" x2="612.3" y2="363.1" stroke="#444" stroke-width="0.7" />
<text x="612.3" y="370.93" font-size="6.8" fill="#222" stroke="#222" stroke-width="0.18" text-anchor="middle" >8</text>
<line x1="637.1" y1="364.6" x2="637.1" y2="363.1" stroke="#444" stroke-width="0.7" />
<text x="637.1" y="370.93" font-size="6.8" fill="#222" stroke="#222" stroke-width="0.18" text-anchor="middle" >12</text>
<line x1="562" y1="333.77" x2="645.3" y2="333.77" stroke="#e8409a" stroke-width="1.6" />
<rect x="562.52" y="332.79" width="1.6" height="1.6" fill="#e8409a"/>
<rect x="563.14" y="333.66" width="1.6" height="1.6" fill="#e8409a"/>
<rect x="563.76" y="333.01" width="1.6" height="1.6" fill="#e8409a"/>
<rect x="565" y="335.07" width="1.6" height="1.6" fill="#e8409a"/>
<rect x="566.55" y="334.05" width="1.6" height="1.6" fill="#e8409a"/>
<rect x="568.1" y="332.65" width="1.6" height="1.6" fill="#e8409a"/>
<rect x="574.3" y="334.61" width="1.6" height="1.6" fill="#e8409a"/>
<rect x="580.5" y="334.58" width="1.6" height="1.6" fill="#e8409a"/>
<rect x="586.7" y="332.13" width="1.6" height="1.6" fill="#e8409a"/>
<rect x="592.9" y="332.37" width="1.6" height="1.6" fill="#e8409a"/>
<rect x="599.1" y="332.78" width="1.6" height="1.6" fill="#e8409a"/>
<rect x="605.3" y="333.35" width="1.6" height="1.6" fill="#e8409a"/>
<rect x="611.5" y="333.1" width="1.6" height="1.6" fill="#e8409a"/>
<rect x="623.9" y="334.97" width="1.6" height="1.6" fill="#e8409a"/>
<rect x="636.3" y="334.55" width="1.6" height="1.6" fill="#e8409a"/>
<polyline points="562.82,321.07 562.9,321.16 563.05,321.44 563.25,322.05 563.5,323.06 563.79,324.46 564.12,326.12 564.48,327.88 564.88,329.56 565.31,331.06 565.76,332.34 566.25,333.39 566.76,334.24 567.29,334.92 567.86,335.47 568.44,335.9 569.06,336.25 569.69,336.53 570.35,336.76 571.03,336.94 571.73,337.1 572.45,337.22 573.2,337.33 573.96,337.42 574.75,337.49 575.55,337.55 576.38,337.61 577.22,337.65 578.08,337.69 578.96,337.73 579.86,337.76 580.78,337.78 581.72,337.81 582.67,337.83 583.64,337.84 584.63,337.86 585.63,337.87 586.66,337.89 587.69,337.9 588.75,337.91 589.82,337.92 590.91,337.92 592.01,337.93 593.13,337.94 594.27,337.95 595.42,337.95 596.59,337.96 597.77,337.96 598.97,337.96 600.18,337.97 601.41,337.97 602.65,337.97 603.9,337.98 605.17,337.98 606.46,337.98 607.76,337.99 609.08,337.99 610.4,337.99 611.75,337.99 613.1,337.99 614.47,338 615.86,338 617.26,338 618.67,338 620.09,338 621.53,338 622.98,338 624.45,338 625.92,338 627.42,338.01 628.92,338.01 630.44,338.01 631.97,338.01 633.51,338.01 635.07,338.01 636.63,338.01 638.22,338.01 639.81,338.01 641.42,338.01 643.03,338.01 644.66,338.01" fill="none" stroke="#222" stroke-width="1.2" />
<rect x="562.42" y="321.42" width="1.8" height="1.8" fill="#111"/>
<line x1="563.32" y1="320.82" x2="563.32" y2="323.82" stroke="#111" stroke-width="0.5" />
<rect x="563.04" y="325.37" width="1.8" height="1.8" fill="#111"/>
<line x1="563.94" y1="324.77" x2="563.94" y2="327.77" stroke="#111" stroke-width="0.5" />
<rect x="563.66" y="325.63" width="1.8" height="1.8" fill="#111"/>
<line x1="564.56" y1="325.03" x2="564.56" y2="328.03" stroke="#111" stroke-width="0.5" />
<rect x="564.9" y="331.16" width="1.8" height="1.8" fill="#111"/>
<line x1="565.8" y1="330.56" x2="565.8" y2="333.56" stroke="#111" stroke-width="0.5" />
<rect x="566.45" y="333.73" width="1.8" height="1.8" fill="#111"/>
<line x1="567.35" y1="333.13" x2="567.35" y2="336.13" stroke="#111" stroke-width="0.5" />
<rect x="568" y="333.34" width="1.8" height="1.8" fill="#111"/>
<line x1="568.9" y1="332.74" x2="568.9" y2="335.74" stroke="#111" stroke-width="0.5" />
<rect x="574.2" y="338.03" width="1.8" height="1.8" fill="#111"/>
<line x1="575.1" y1="337.43" x2="575.1" y2="340.43" stroke="#111" stroke-width="0.5" />
<rect x="580.4" y="338.12" width="1.8" height="1.8" fill="#111"/>
<line x1="581.3" y1="337.52" x2="581.3" y2="340.52" stroke="#111" stroke-width="0.5" />
<rect x="586.6" y="338.19" width="1.8" height="1.8" fill="#111"/>
<line x1="587.5" y1="337.59" x2="587.5" y2="340.59" stroke="#111" stroke-width="0.5" />
<rect x="592.8" y="334.97" width="1.8" height="1.8" fill="#111"/>
<line x1="593.7" y1="334.37" x2="593.7" y2="337.37" stroke="#111" stroke-width="0.5" />
<rect x="599" y="335.68" width="1.8" height="1.8" fill="#111"/>
<line x1="599.9" y1="335.08" x2="599.9" y2="338.08" stroke="#111" stroke-width="0.5" />
<rect x="605.2" y="336.52" width="1.8" height="1.8" fill="#111"/>
<line x1="606.1" y1="335.92" x2="606.1" y2="338.92" stroke="#111" stroke-width="0.5" />
<rect x="611.4" y="335.54" width="1.8" height="1.8" fill="#111"/>
<line x1="612.3" y1="334.94" x2="612.3" y2="337.94" stroke="#111" stroke-width="0.5" />
<rect x="623.8" y="338.8" width="1.8" height="1.8" fill="#111"/>
<line x1="624.7" y1="338.2" x2="624.7" y2="341.2" stroke="#111" stroke-width="0.5" />
<rect x="636.2" y="339.39" width="1.8" height="1.8" fill="#111"/>
<line x1="637.1" y1="338.79" x2="637.1" y2="341.79" stroke="#111" stroke-width="0.5" />
<text x="635.7" y="315.17" font-size="6.9" fill="#222" stroke="#222" stroke-width="0.18" text-anchor="end" ><tspan dy="0" font-size="6.9">State a: k</tspan><tspan dy="1.93" font-size="4.28">ex</tspan><tspan dy="-1.93" font-size="6.9"> ~ 1600 s</tspan><tspan dy="-2.62" font-size="4.28">-1</tspan></text>
<text x="601.6" y="326.47" font-size="6.9" fill="#e0309a" stroke="#e0309a" stroke-width="0.18" text-anchor="middle" ><tspan dy="0" font-size="6.9">State b: N/A</tspan></text>
<text x="622.5" y="360.65" font-size="10.2" fill="#111" text-anchor="start" font-weight="bold" >L76</text>
<text transform="translate(550.2,338.7) rotate(-90)" font-size="7.9" text-anchor="middle" fill="#222" stroke="#222" stroke-width="0.18"><tspan>R</tspan><tspan dy="2.1" font-size="4.8">2eff</tspan><tspan dy="-2.1"> (s</tspan><tspan dy="-2.7" font-size="4.8">-1</tspan><tspan dy="2.7">)</tspan></text>
<text x="589" y="377" font-size="7.9" fill="#222" stroke="#222" stroke-width="0.18"><tspan>ν</tspan><tspan dy="2.4" font-size="5">CPMG</tspan><tspan dy="-2.4"> (kHz)</tspan></text>
</svg>
</body></html>
